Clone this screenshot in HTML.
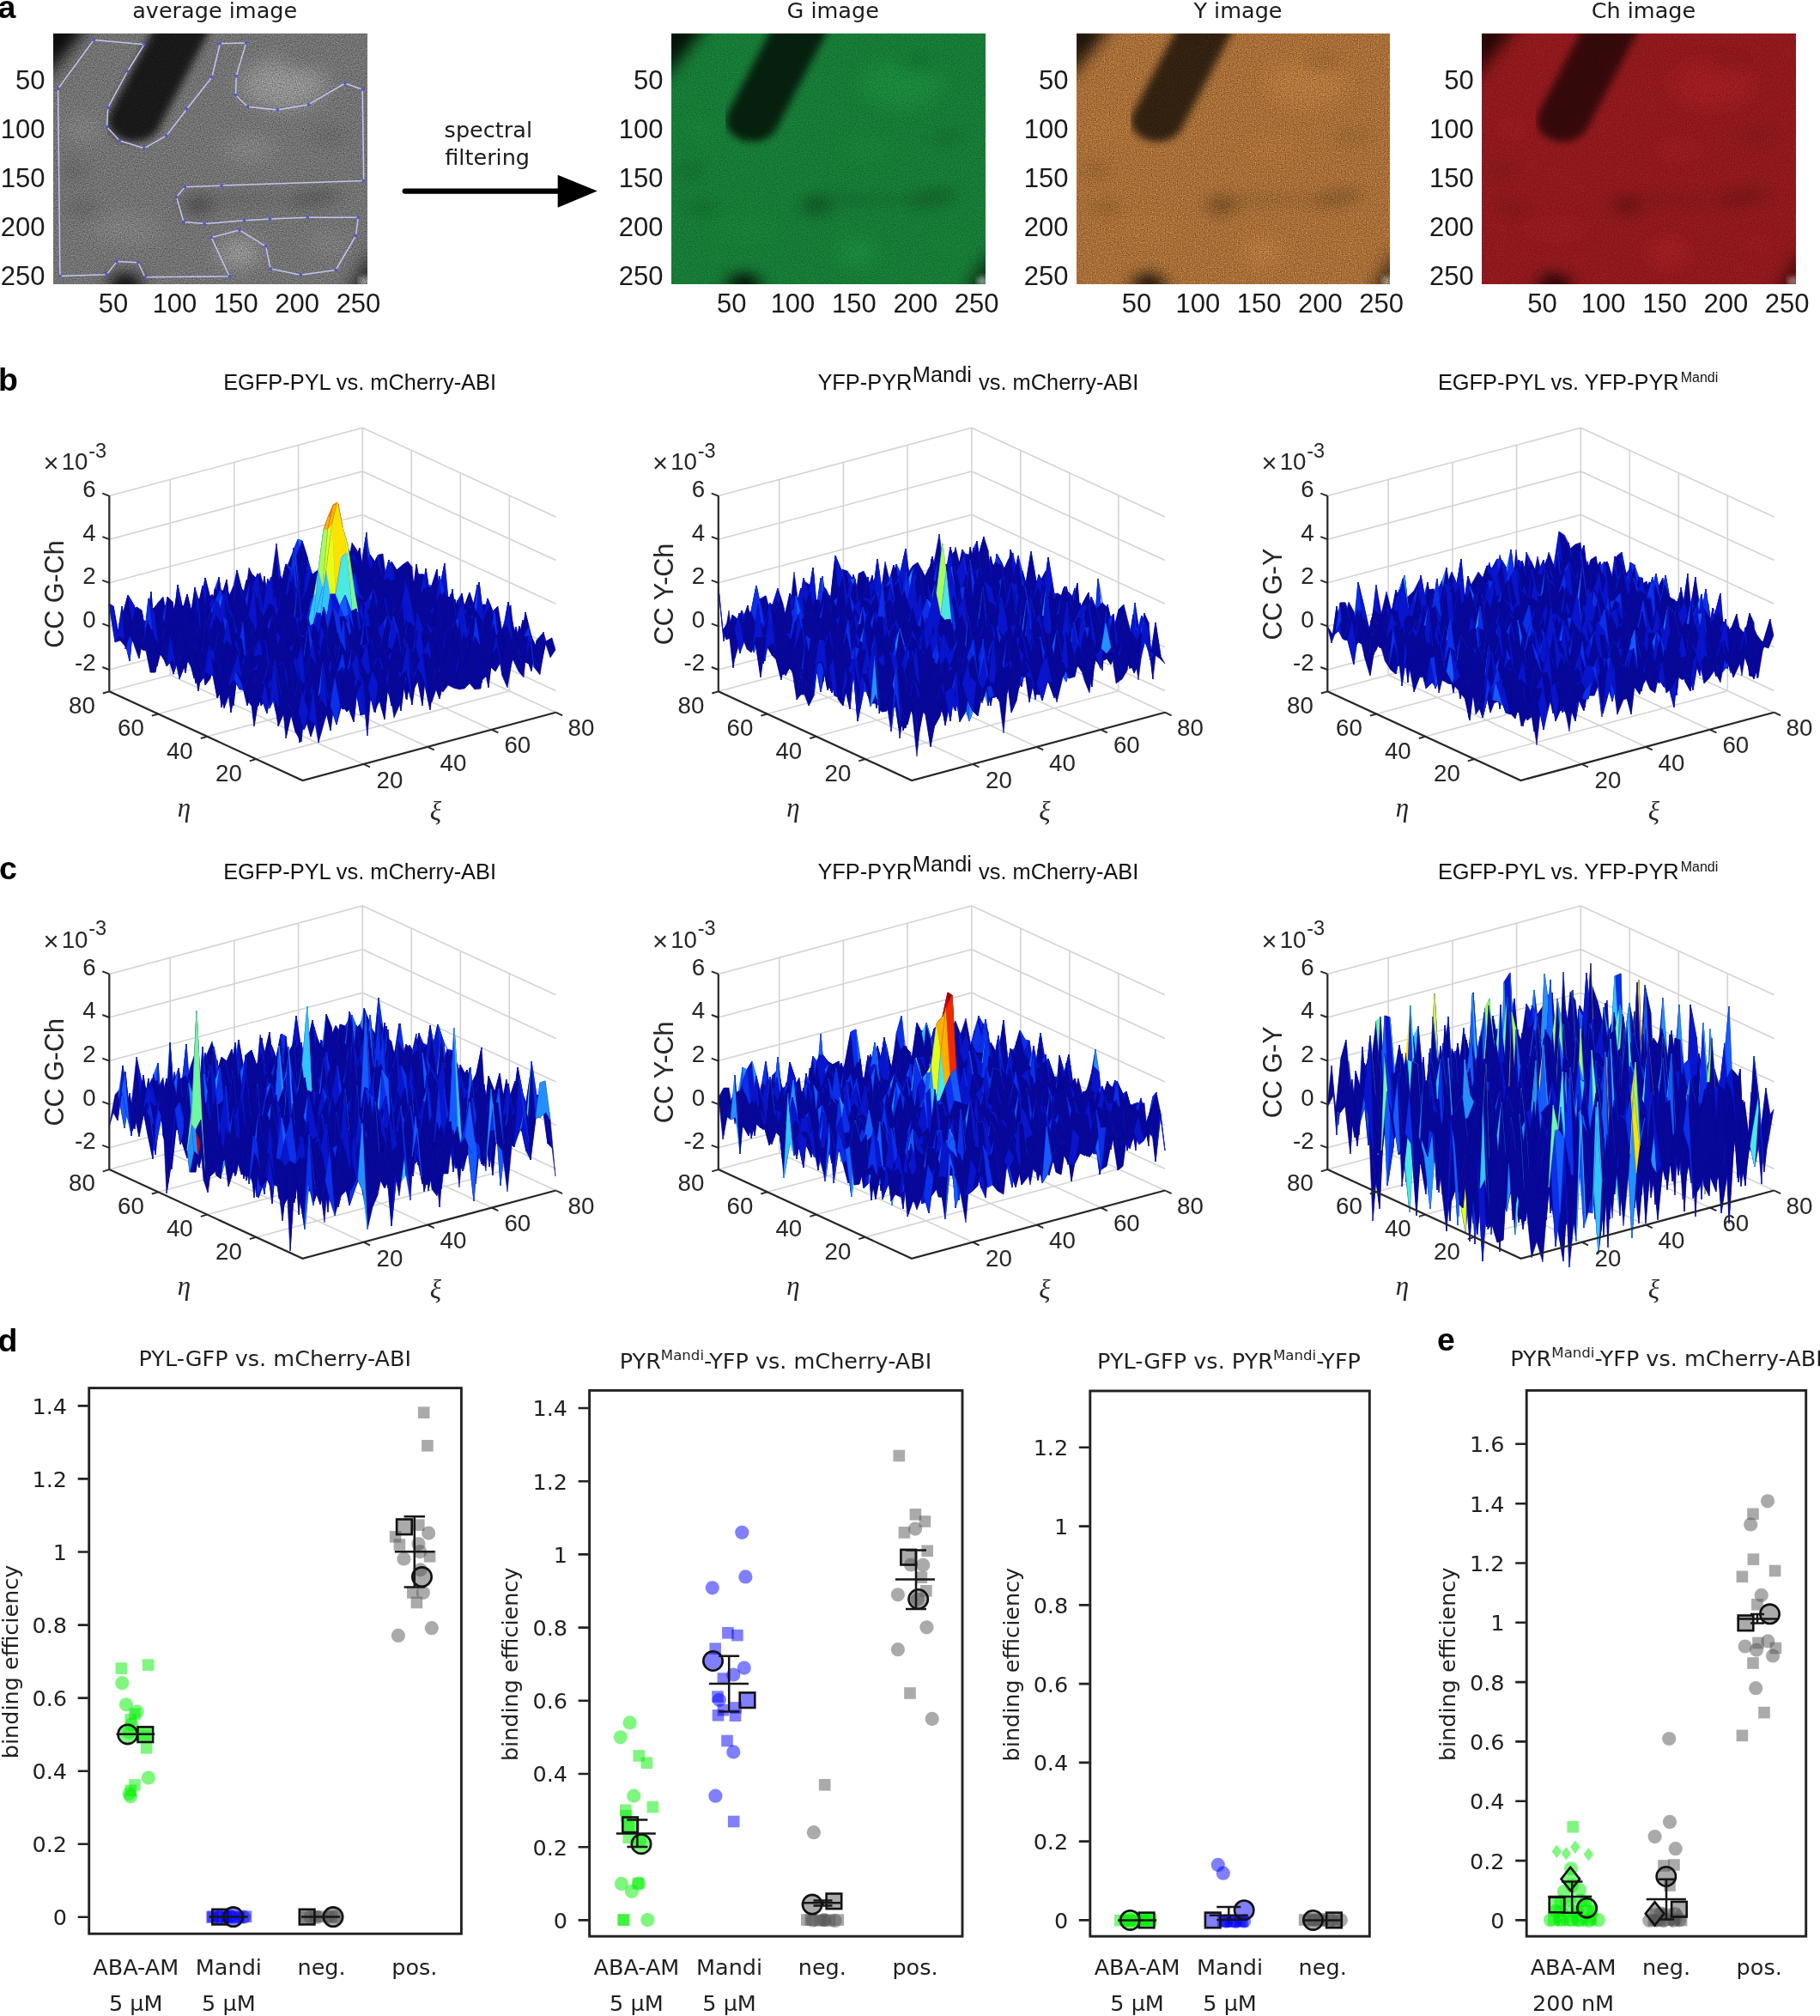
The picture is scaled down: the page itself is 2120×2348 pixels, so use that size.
<!DOCTYPE html>
<html lang="en"><head><meta charset="utf-8"><title>Figure</title>
<style>
html,body{margin:0;padding:0;background:#fff}
svg{display:block}
.ls{font-family:"Liberation Sans", "DejaVu Sans", sans-serif}
.dv{font-family:"DejaVu Sans", "Liberation Sans", sans-serif}
.se{font-family:"Liberation Serif", "DejaVu Serif", serif;font-style:italic}
</style></head><body>
<svg width="2120" height="2348" viewBox="0 0 2120 2348">
<rect width="2120" height="2348" fill="#fff"/>
<defs>
<filter id="b3" x="-50%" y="-50%" width="200%" height="200%"><feGaussianBlur stdDeviation="3"/></filter>
<filter id="b7" x="-50%" y="-50%" width="200%" height="200%"><feGaussianBlur stdDeviation="7"/></filter>
<filter id="b35" x="-50%" y="-50%" width="200%" height="200%"><feGaussianBlur stdDeviation="3.5"/></filter>
<filter id="b5" x="-50%" y="-50%" width="200%" height="200%"><feGaussianBlur stdDeviation="5"/></filter>
<filter id="b9" x="-50%" y="-50%" width="200%" height="200%"><feGaussianBlur stdDeviation="9"/></filter>
<filter id="b14" x="-50%" y="-50%" width="200%" height="200%"><feGaussianBlur stdDeviation="14"/></filter>
<g id="dk"><path d="M66 89L109 -14" stroke="#000" stroke-width="43" stroke-linecap="round" fill="none" opacity="0.78" filter="url(#b35)"/><g filter="url(#b7)"><path d="M-10 -10L30 -10L-10 52Z" fill="#000" opacity="0.92"/><ellipse cx="59" cy="256" rx="13" ry="11" fill="#000" opacity="0.95"/><path d="M240 264L264 214L264 264Z" fill="#000" opacity="0.7"/></g><rect x="251" y="249" width="6" height="8" fill="#fff" opacity="0.8" filter="url(#b3)"/><g filter="url(#b7)"><ellipse cx="118" cy="176" rx="11" ry="10" fill="#000" opacity="0.32"/><ellipse cx="212" cy="168" rx="22" ry="8" fill="#000" opacity="0.22" transform="rotate(-12 212 168)"/><ellipse cx="24" cy="178" rx="10" ry="8" fill="#000" opacity="0.16"/><ellipse cx="16" cy="140" rx="9" ry="10" fill="#000" opacity="0.12"/><ellipse cx="150" cy="170" rx="40" ry="7" fill="#000" opacity="0.10"/><ellipse cx="200" cy="30" rx="14" ry="8" fill="#000" opacity="0.12"/><ellipse cx="225" cy="105" rx="14" ry="8" fill="#000" opacity="0.10"/></g></g>
<filter id="gr1" x="0" y="0" width="100%" height="100%" color-interpolation-filters="sRGB"><feTurbulence type="fractalNoise" baseFrequency="0.75" numOctaves="1" seed="4" result="n"/><feColorMatrix in="n" type="matrix" values="0.283 0.283 0.283 0 0.075  0.283 0.283 0.283 0 0.075  0.283 0.283 0.283 0 0.075  0 0 0 0 1" result="g"/><feComposite in="SourceGraphic" in2="g" operator="arithmetic" k1="2" k2="0" k3="0" k4="0"/></filter>
<filter id="gr2" x="0" y="0" width="100%" height="100%" color-interpolation-filters="sRGB"><feTurbulence type="fractalNoise" baseFrequency="0.7" numOctaves="1" seed="7" result="n"/><feColorMatrix in="n" type="matrix" values="0.183 0.183 0.183 0 0.225  0.183 0.183 0.183 0 0.225  0.183 0.183 0.183 0 0.225  0 0 0 0 1" result="g"/><feComposite in="SourceGraphic" in2="g" operator="arithmetic" k1="2" k2="0" k3="0" k4="0"/></filter>
<filter id="gr3" x="0" y="0" width="100%" height="100%" color-interpolation-filters="sRGB"><feTurbulence type="fractalNoise" baseFrequency="0.8" numOctaves="1" seed="11" result="n"/><feColorMatrix in="n" type="matrix" values="0.317 0.317 0.317 0 0.025  0.317 0.317 0.317 0 0.025  0.317 0.317 0.317 0 0.025  0 0 0 0 1" result="g"/><feComposite in="SourceGraphic" in2="g" operator="arithmetic" k1="2" k2="0" k3="0" k4="0"/></filter>
<filter id="gr4" x="0" y="0" width="100%" height="100%" color-interpolation-filters="sRGB"><feTurbulence type="fractalNoise" baseFrequency="0.7" numOctaves="1" seed="15" result="n"/><feColorMatrix in="n" type="matrix" values="0.167 0.167 0.167 0 0.25  0.167 0.167 0.167 0 0.25  0.167 0.167 0.167 0 0.25  0 0 0 0 1" result="g"/><feComposite in="SourceGraphic" in2="g" operator="arithmetic" k1="2" k2="0" k3="0" k4="0"/></filter>
</defs>
<clipPath id="cp0"><rect x="62" y="39" width="365.3" height="291.8"/></clipPath>
<g clip-path="url(#cp0)"><g filter="url(#gr1)"><g transform="translate(62 39) scale(1.427 1.14)">
<rect x="-20" y="-20" width="296" height="296" fill="#727272"/>
<g opacity="1.0"><g filter="url(#b9)" fill="#ffffff"><ellipse cx="188" cy="52" rx="34" ry="26" opacity="0.22"/><ellipse cx="152" cy="224" rx="15" ry="16" opacity="0.26"/><ellipse cx="160" cy="118" rx="22" ry="14" opacity="0.10"/><ellipse cx="24" cy="98" rx="14" ry="14" opacity="0.10"/><ellipse cx="60" cy="200" rx="30" ry="16" opacity="0.08"/><ellipse cx="225" cy="215" rx="16" ry="12" opacity="0.08"/></g></g>
<use href="#dk" opacity="1.0"/>
</g></g></g>
<clipPath id="cp1"><rect x="782" y="39" width="365.4" height="291.8"/></clipPath>
<g clip-path="url(#cp1)"><g filter="url(#gr2)"><g transform="translate(782 39) scale(1.427 1.14)">
<rect x="-20" y="-20" width="296" height="296" fill="#177a36"/>
<g opacity="0.45"><g filter="url(#b9)" fill="#30ff70"><ellipse cx="188" cy="52" rx="34" ry="26" opacity="0.22"/><ellipse cx="152" cy="224" rx="15" ry="16" opacity="0.26"/><ellipse cx="160" cy="118" rx="22" ry="14" opacity="0.10"/><ellipse cx="24" cy="98" rx="14" ry="14" opacity="0.10"/><ellipse cx="60" cy="200" rx="30" ry="16" opacity="0.08"/><ellipse cx="225" cy="215" rx="16" ry="12" opacity="0.08"/></g></g>
<use href="#dk" opacity="0.95"/>
</g></g></g>
<clipPath id="cp2"><rect x="1254" y="39" width="365" height="291.8"/></clipPath>
<g clip-path="url(#cp2)"><g filter="url(#gr3)"><g transform="translate(1254 39) scale(1.426 1.14)">
<rect x="-20" y="-20" width="296" height="296" fill="#a66e38"/>
<g opacity="0.6"><g filter="url(#b9)" fill="#ffb45a"><ellipse cx="188" cy="52" rx="34" ry="26" opacity="0.22"/><ellipse cx="152" cy="224" rx="15" ry="16" opacity="0.26"/><ellipse cx="160" cy="118" rx="22" ry="14" opacity="0.10"/><ellipse cx="24" cy="98" rx="14" ry="14" opacity="0.10"/><ellipse cx="60" cy="200" rx="30" ry="16" opacity="0.08"/><ellipse cx="225" cy="215" rx="16" ry="12" opacity="0.08"/></g></g>
<use href="#dk" opacity="0.9"/>
</g></g></g>
<clipPath id="cp3"><rect x="1726.3" y="39" width="365.2" height="291.8"/></clipPath>
<g clip-path="url(#cp3)"><g filter="url(#gr4)"><g transform="translate(1726.3 39) scale(1.427 1.14)">
<rect x="-20" y="-20" width="296" height="296" fill="#8e191d"/>
<g opacity="0.6"><g filter="url(#b9)" fill="#ff3a3a"><ellipse cx="188" cy="52" rx="34" ry="26" opacity="0.22"/><ellipse cx="152" cy="224" rx="15" ry="16" opacity="0.26"/><ellipse cx="160" cy="118" rx="22" ry="14" opacity="0.10"/><ellipse cx="24" cy="98" rx="14" ry="14" opacity="0.10"/><ellipse cx="60" cy="200" rx="30" ry="16" opacity="0.08"/><ellipse cx="225" cy="215" rx="16" ry="12" opacity="0.08"/></g></g>
<use href="#dk" opacity="0.8"/>
</g></g></g>
<path d="M109.2 46.6L168 51.8L148.5 83L125.8 125.2L124.6 147.9L139.2 163.7L168 172.7L193.7 158.1L217.5 127.3L246.9 89.7L256.3 50.7L286.5 50.1L275.2 88.8L274.6 110.7L288.3 124.3L323.2 128.1L359.6 121.7L401.9 97L422.2 104.3L423.7 210.5L258 216.1L215.5 217.8L205.6 229.5L214 258.6L238.2 260.6L284.5 256.8L314.5 255.1L358.2 253.3L417.3 253.3L414.4 274.6L391.1 314.5L350.3 320.3L315.1 313L309.6 286.8L279 267.9L246.1 276.6L267.3 321.8L168.9 322.7L161 305.8L136 304.6L124.3 319.7L69.9 321.5L67.6 103.4Z" fill="none" stroke="#c4c4f4" stroke-width="1.5" stroke-linejoin="round"/>
<g fill="#5050e0"><circle cx="109.2" cy="46.6" r="1.8"/><circle cx="168" cy="51.8" r="1.8"/><circle cx="148.5" cy="83" r="1.8"/><circle cx="125.8" cy="125.2" r="1.8"/><circle cx="124.6" cy="147.9" r="1.8"/><circle cx="139.2" cy="163.7" r="1.8"/><circle cx="168" cy="172.7" r="1.8"/><circle cx="193.7" cy="158.1" r="1.8"/><circle cx="217.5" cy="127.3" r="1.8"/><circle cx="246.9" cy="89.7" r="1.8"/><circle cx="256.3" cy="50.7" r="1.8"/><circle cx="286.5" cy="50.1" r="1.8"/><circle cx="275.2" cy="88.8" r="1.8"/><circle cx="274.6" cy="110.7" r="1.8"/><circle cx="288.3" cy="124.3" r="1.8"/><circle cx="323.2" cy="128.1" r="1.8"/><circle cx="359.6" cy="121.7" r="1.8"/><circle cx="401.9" cy="97" r="1.8"/><circle cx="422.2" cy="104.3" r="1.8"/><circle cx="423.7" cy="210.5" r="1.8"/><circle cx="258" cy="216.1" r="1.8"/><circle cx="215.5" cy="217.8" r="1.8"/><circle cx="205.6" cy="229.5" r="1.8"/><circle cx="214" cy="258.6" r="1.8"/><circle cx="238.2" cy="260.6" r="1.8"/><circle cx="284.5" cy="256.8" r="1.8"/><circle cx="314.5" cy="255.1" r="1.8"/><circle cx="358.2" cy="253.3" r="1.8"/><circle cx="417.3" cy="253.3" r="1.8"/><circle cx="414.4" cy="274.6" r="1.8"/><circle cx="391.1" cy="314.5" r="1.8"/><circle cx="350.3" cy="320.3" r="1.8"/><circle cx="315.1" cy="313" r="1.8"/><circle cx="309.6" cy="286.8" r="1.8"/><circle cx="279" cy="267.9" r="1.8"/><circle cx="246.1" cy="276.6" r="1.8"/><circle cx="267.3" cy="321.8" r="1.8"/><circle cx="168.9" cy="322.7" r="1.8"/><circle cx="161" cy="305.8" r="1.8"/><circle cx="136" cy="304.6" r="1.8"/><circle cx="124.3" cy="319.7" r="1.8"/><circle cx="69.9" cy="321.5" r="1.8"/><circle cx="67.6" cy="103.4" r="1.8"/></g>
<text class="ls" x="132.1" y="363.7" font-size="31" text-anchor="middle" fill="#1a1a1a">50</text>
<text class="ls" x="52.5" y="104.1" font-size="31" text-anchor="end" fill="#1a1a1a">50</text>
<text class="ls" x="203.5" y="363.7" font-size="31" text-anchor="middle" fill="#1a1a1a">100</text>
<text class="ls" x="52.5" y="161.1" font-size="31" text-anchor="end" fill="#1a1a1a">100</text>
<text class="ls" x="274.8" y="363.7" font-size="31" text-anchor="middle" fill="#1a1a1a">150</text>
<text class="ls" x="52.5" y="218.1" font-size="31" text-anchor="end" fill="#1a1a1a">150</text>
<text class="ls" x="346.2" y="363.7" font-size="31" text-anchor="middle" fill="#1a1a1a">200</text>
<text class="ls" x="52.5" y="275.1" font-size="31" text-anchor="end" fill="#1a1a1a">200</text>
<text class="ls" x="417.5" y="363.7" font-size="31" text-anchor="middle" fill="#1a1a1a">250</text>
<text class="ls" x="52.5" y="332.1" font-size="31" text-anchor="end" fill="#1a1a1a">250</text>
<text class="ls" x="852.2" y="363.7" font-size="31" text-anchor="middle" fill="#1a1a1a">50</text>
<text class="ls" x="772.5" y="104.1" font-size="31" text-anchor="end" fill="#1a1a1a">50</text>
<text class="ls" x="923.5" y="363.7" font-size="31" text-anchor="middle" fill="#1a1a1a">100</text>
<text class="ls" x="772.5" y="161.1" font-size="31" text-anchor="end" fill="#1a1a1a">100</text>
<text class="ls" x="994.9" y="363.7" font-size="31" text-anchor="middle" fill="#1a1a1a">150</text>
<text class="ls" x="772.5" y="218.1" font-size="31" text-anchor="end" fill="#1a1a1a">150</text>
<text class="ls" x="1066.3" y="363.7" font-size="31" text-anchor="middle" fill="#1a1a1a">200</text>
<text class="ls" x="772.5" y="275.1" font-size="31" text-anchor="end" fill="#1a1a1a">200</text>
<text class="ls" x="1137.6" y="363.7" font-size="31" text-anchor="middle" fill="#1a1a1a">250</text>
<text class="ls" x="772.5" y="332.1" font-size="31" text-anchor="end" fill="#1a1a1a">250</text>
<text class="ls" x="1324.1" y="363.7" font-size="31" text-anchor="middle" fill="#1a1a1a">50</text>
<text class="ls" x="1244.5" y="104.1" font-size="31" text-anchor="end" fill="#1a1a1a">50</text>
<text class="ls" x="1395.4" y="363.7" font-size="31" text-anchor="middle" fill="#1a1a1a">100</text>
<text class="ls" x="1244.5" y="161.1" font-size="31" text-anchor="end" fill="#1a1a1a">100</text>
<text class="ls" x="1466.7" y="363.7" font-size="31" text-anchor="middle" fill="#1a1a1a">150</text>
<text class="ls" x="1244.5" y="218.1" font-size="31" text-anchor="end" fill="#1a1a1a">150</text>
<text class="ls" x="1537.9" y="363.7" font-size="31" text-anchor="middle" fill="#1a1a1a">200</text>
<text class="ls" x="1244.5" y="275.1" font-size="31" text-anchor="end" fill="#1a1a1a">200</text>
<text class="ls" x="1609.2" y="363.7" font-size="31" text-anchor="middle" fill="#1a1a1a">250</text>
<text class="ls" x="1244.5" y="332.1" font-size="31" text-anchor="end" fill="#1a1a1a">250</text>
<text class="ls" x="1796.4" y="363.7" font-size="31" text-anchor="middle" fill="#1a1a1a">50</text>
<text class="ls" x="1716.8" y="104.1" font-size="31" text-anchor="end" fill="#1a1a1a">50</text>
<text class="ls" x="1867.7" y="363.7" font-size="31" text-anchor="middle" fill="#1a1a1a">100</text>
<text class="ls" x="1716.8" y="161.1" font-size="31" text-anchor="end" fill="#1a1a1a">100</text>
<text class="ls" x="1939.1" y="363.7" font-size="31" text-anchor="middle" fill="#1a1a1a">150</text>
<text class="ls" x="1716.8" y="218.1" font-size="31" text-anchor="end" fill="#1a1a1a">150</text>
<text class="ls" x="2010.4" y="363.7" font-size="31" text-anchor="middle" fill="#1a1a1a">200</text>
<text class="ls" x="1716.8" y="275.1" font-size="31" text-anchor="end" fill="#1a1a1a">200</text>
<text class="ls" x="2081.7" y="363.7" font-size="31" text-anchor="middle" fill="#1a1a1a">250</text>
<text class="ls" x="1716.8" y="332.1" font-size="31" text-anchor="end" fill="#1a1a1a">250</text>
<text class="dv" x="250.2" y="20.6" font-size="25.5" text-anchor="middle" fill="#1a1a1a">average image</text>
<text class="dv" x="970.2" y="20.6" font-size="25.5" text-anchor="middle" fill="#1a1a1a">G image</text>
<text class="dv" x="1442" y="20.6" font-size="25.5" text-anchor="middle" fill="#1a1a1a">Y image</text>
<text class="dv" x="1914.4" y="20.6" font-size="25.5" text-anchor="middle" fill="#1a1a1a">Ch image</text>
<text class="dv" x="568.8" y="160" font-size="25.5" text-anchor="middle" fill="#1a1a1a">spectral</text>
<text class="dv" x="518.3" y="192.3" font-size="25.5" fill="#1a1a1a">filtering</text>
<path d="M471.8 222.6H652" stroke="#000" stroke-width="6.4" stroke-linecap="round" fill="none"/>
<path d="M649.7 203.7L695.8 222.6L649.7 241.8Z" fill="#000"/>
<text class="ls" x="-2.5" y="20.9" font-size="37.5" font-weight="bold" fill="#000">a</text>
<style>.k0{fill:#070798;stroke:#070798}.k1{fill:#0915cc;stroke:#0915cc}.k2{fill:#0c2feb;stroke:#0c2feb}.k3{fill:#165bff;stroke:#165bff}.k4{fill:#2490ff;stroke:#2490ff}.k5{fill:#33c4ff;stroke:#33c4ff}.k6{fill:#4be8e4;stroke:#4be8e4}.k7{fill:#70f7a3;stroke:#70f7a3}.k8{fill:#a3ff60;stroke:#a3ff60}.k9{fill:#e4ff1c;stroke:#e4ff1c}.k10{fill:#ffe200;stroke:#ffe200}.k11{fill:#ffaf00;stroke:#ffaf00}.k12{fill:#f97200;stroke:#f97200}.k13{fill:#ed2a00;stroke:#ed2a00}.k14{fill:#d00000;stroke:#d00000}.k15{fill:#9b0000;stroke:#9b0000}</style>
<path d="M127.3 780L422.3 700.7M422.3 700.7L647.5 804.4M127.3 729.4L422.3 650.1M422.3 650.1L647.5 753.8M127.3 678.8L422.3 599.5M422.3 599.5L647.5 703.2M127.3 628.2L422.3 548.9M422.3 548.9L647.5 652.6M127.3 577.6L422.3 498.3M422.3 498.3L647.5 602M198.2 786.2L198.2 558.5M593.3 804.7L593.3 577M423.4 889.9L198.2 786.2M298.3 884.1L593.3 804.7M272.9 766.1L272.9 538.4M536.3 778.5L536.3 550.8M498.1 869.8L272.9 766.1M241.3 857.8L536.3 778.5M347.6 746L347.6 518.3M479.3 752.2L479.3 524.5M572.8 849.8L347.6 746M184.3 831.5L479.3 752.2M422.3 726L422.3 498.3M127.3 805.3L422.3 726M422.3 726L647.5 829.7" stroke="#d3d3d3" stroke-width="1.6" fill="none"/>
<g stroke-width="0.6" stroke-linejoin="round"><path class="k0" d="M127 703l7 45 6-2 6 7 6-22 7-12 6 2 6 23 6-33 7-9 6-7 6 29 7 8 6-20 6 17 6-18 7-10 6 7 6-7 7-9 6 9 6 16 6-18 7-17 6 11 6 16 6-48 7 15 6-9 6 23 7-13 6-44 6 81 6-53 7-18 6-15 6 24 6 59 7-2 6-25 6-23 7-14 6 12 6-12 6 23 7-38 6 9 6 26 5-47-6 46-7 21-6-33-6 8-6 7-7-8-6 37-6-30-6 3-7 6-6-28-6-19-7 19-6 36-6 4-6-18-7 26-6 17-6-43-6 34-7 10-6-13-6-10-7-28-6 59-6-48-6 20-7 12-6-10-6-24-7 46-6-23-6 32-6-13-7-34-6 52-6-33-6 16-7 12-6 9-6 12-7-14-6-27-6 62-6-26-7-4-6-34z"/><path class="k1" d="M358 649l6 28-5 34-6-59zM327 671l6 18-5 25-6-81zM276 664l7 28-5 1-6-11zM264 675l6 48-5-24-6 18zM239 673l6 24-5 4-6 7zM207 681l7 34-5-3-6 20zM132 706l6 34-4 8-7-45z"/><path class="k2" d="M345 649l7-19-5-2-6 15z"/><path class="k3" d="M352 630l6 19-5 3-6-24z"/><path class="k0" d="M132 706l6 34 7 4 6 26 6-62 6 27 7 14 6-12 6-9 7-12 6-16 6 33 6-52 7 34 6 13 6-32 6 23 7-46 6 24 6 10 7-12 6-20 6 48 6-59 7 28 6 10 6 13 7-10 6-34 6 43 6-17 7-26 6 18 6-4 6-36 7-19 6 19 6 28 7-6 6-3 6 30 6-37 7 8 6-7 6-8 6 33 7-21 6-46 5 49-6 31-7-62-6 15-6-1-7 51-6-39-6-15-6 25-7-6-6 15-6 21-6-7-7-4-6-47-6 48-7-25-6 35-6-3-6-17-7 21-6-30-6-6-7 7-6 38-6-10-6 20-7-35-6-2-6-1-6 49-7-41-6 17-6 10-7-29-6 21-6-19-6 31-7 18-6-40-6 46-6-24-7-2-6-3-6-15-7-12-6 23-6 23z"/><path class="k1" d="M419 638l7 62-5-34-7 21zM294 669l6 6-5 40-6-13zM287 676l7-7-5 33-6-10zM237 694l7 41-5-62-7 46zM218 692l7 29-5 7-6-13zM206 694l6 19-5-32-6 52zM156 705l6 15-5-12-6 62zM143 716l6-23-4 51-7-4z"/><path class="k2" d="M344 646l6 47-5-44-6 36zM149 693l7 12-5 65-6-26z"/><path class="k0" d="M137 739l6-23 6-23 7 12 6 15 6 3 7 2 6 24 6-46 6 40 7-18 6-31 6 19 6-21 7 29 6-10 6-17 7 41 6-49 6 1 6 2 7 35 6-20 6 10 6-38 7-7 6 6 6 30 7-21 6 17 6 3 6-35 7 25 6-48 6 47 7 4 6 7 6-21 6-15 7 6 6-25 6 15 6 39 7-51 6 1 6-15 7 62 6-31 5-7-7-12-6 32-6-23-6-14-7 50-6-26-6 2-7-5-6 21-6-9-6-12-7 18-6-29-6 48-7-65-6 60-6 9-6-12-7-9-6 19-6-8-6-17-7 18-6-7-6-7-7 13-6 4-6 29-6-58-7 56-6-2-6-44-6 27-7 12-6-14-6-2-7 28-6-13-6 3-6 12-7-27-6 13-6 9-7 10-6-18-6 16-6-32z"/><path class="k1" d="M355 655l6 29-4 13-7-4zM236 682l6 44-5-32-6 17zM154 722l6 18-4-35-7-12zM142 706l6 32-5-22-6 23z"/><path class="k2" d="M255 672l6 58-5-43-6-1z"/><path class="k3" d="M342 638l7 65-5-57-6 48z"/><path class="k0" d="M142 706l6 32 6-16 6 18 7-10 6-9 6-13 7 27 6-12 6-3 6 13 7-28 6 2 6 14 7-12 6-27 6 44 6 2 7-56 6 58 6-29 6-4 7-13 6 7 6 7 7-18 6 17 6 8 6-19 7 9 6 12 6-9 6-60 7 65 6-48 6 29 7-18 6 12 6 9 6-21 7 5 6-2 6 26 7-50 6 14 6 23 6-32 7 12 4-16-6 45-6-30-6 16-7-19-6-10-6 26-7 1-6-5-6 17-6-8-7-7-6-1-6 13-6 3-7 18-6-42-6 1-7 18-6 2-6 23-6-10-7 11-6-27-6 25-6 18-7-5-6-17-6 6-7-11-6 18-6-6-6-17-7 55-6-25-6 14-7 1-6-2-6 10-6-9-7-16-6-3-6 47-6-12-7-41-6-4-6 21-7 28z"/><path class="k1" d="M410 648l6 10-4-13-7 50zM335 664l6-1-5 35-6 9zM259 697l7 11-5 22-6-58zM241 692l6 17-5 17-6-44zM165 711l7 41-5-22-7 10zM159 707l6 4-5 29-6-18z"/><path class="k2" d="M341 663l6 42-5-67-6 60z"/><path class="k0" d="M146 756l7-28 6-21 6 4 7 41 6 12 6-47 6 3 7 16 6 9 6-10 6 2 7-1 6-14 6 25 7-55 6 17 6 6 6-18 7 11 6-6 6 17 7 5 6-18 6-25 6 27 7-11 6 10 6-23 6-2 7-18 6-1 6 42 7-18 6-3 6-13 6 1 7 7 6 8 6-17 6 5 7-1 6-26 6 10 7 19 6-16 6 30 6-45 5-1-6 10-6 18-7 4-6 14-6-5-6-24-7-33-6 44-6-7-7-6-6 35-6-31-6 4-7 36-6-50-6 59-6-51-7-5-6 25-6-3-7 17-6 7-6-15-6 48-7-46-6 8-6-27-7 48-6 18-6-17-6-8-7 6-6 33-6-12-6-55-7 49-6 21-6-5-7-48-6-6-6 56-6 25-7-87-6 51-6-5-6-1-7 6z"/><path class="k1" d="M396 673l6-44-5 46-6-5zM340 662l6 51-5-50-6 1zM327 682l6-25-5 25-6 2zM201 701l7 48-5-4-6-9zM170 740l6-51-4 63-7-41z"/><path class="k2" d="M352 654l6 50-4-17-7 18zM333 657l7 5-5 2-7 18zM277 671l6 27-5 21-6-17zM227 684l6 55-5-17-6 14zM195 695l6 6-4 35-7-16z"/><path class="k3" d="M402 629l7 33-5 12-7 1zM176 689l7 87-5-12-6-12z"/><path class="k0" d="M151 740l7-6 6 1 6 5 6-51 7 87 6-25 6-56 6 6 7 48 6 5 6-21 7-49 6 55 6 12 6-33 7-6 6 8 6 17 6-18 7-48 6 27 6-8 7 46 6-48 6 15 6-7 7-17 6 3 6-25 7 5 6 51 6-59 6 50 7-36 6-4 6 31 6-35 7 6 6 7 6-44 7 33 6 24 6 5 6-14 7-4 6-18 6-10 5 37-6-15-7 19-6-11-6-49-6 40-7-8-6-16-6 57-6-41-7 12-6 44-6-15-7-22-6 21-6-3-6 1-7-7-6-25-6 34-7-8-6 6-6 6-6-1-7-33-6 17-6 34-6-24-7 32-6-31-6-10-7 34-6 15-6-32-6 44-7-50-6 46-6-31-6-6-7 33-6-11-6 7-7 28-6-9-6 18-6-42-7 37-6-17z"/><path class="k1" d="M420 666l6-40-5 65-6-5zM395 658l6 41-5-26-6-7zM294 685l6-17-4 68-7-46zM282 695l6 24-5-21-6-27zM263 686l6 10-5 41-6-17zM231 697l7 50-5-8-6-55zM213 706l6 6-5 42-6-5z"/><path class="k2" d="M407 642l6 16-4 4-7-33zM338 664l6 25-4-27-7-5zM300 668l7 33-5-13-6 48z"/><path class="k3" d="M426 626l6 49-5 2-6 14z"/><path class="k0" d="M156 750l6 17 7-37 6 42 6-18 6 9 7-28 6-7 6 11 7-33 6 6 6 31 6-46 7 50 6-44 6 32 6-15 7-34 6 10 6 31 7-32 6 24 6-34 6-17 7 33 6 1 6-6 6-6 7 8 6-34 6 25 7 7 6-1 6 3 6-21 7 22 6 15 6-44 7-12 6 41 6-57 6 16 7 8 6-40 6 49 6 11 7-19 6 15 5 13-6-8-7 1-6-33-6-9-7 38-6 10-6-13-6 4-7-7-6-40-6 32-7 42-6-10-6-26-6 32-7 25-6-23-6-25-6 4-7 47-6-24-6-25-7 27-6-5-6-6-6 18-7-22-6 4-6 33-6-15-7-27-6 26-6-23-7 60-6 12-6-59-6 41-7-16-6-5-6-17-7 18-6 17-6-4-6-27-7-20-6 59-6-6z"/><path class="k1" d="M387 670l6-32-5 32-6 44zM343 685l6 25-5-21-6-25zM337 689l6-4-5-21-6 34zM299 703l6 6-5-41-6 17zM261 694l7 27-5-35-7 34zM249 697l6 23-5 15-6-32zM230 710l6 59-5-72-6 46zM205 713l6 17-5 9-6-11zM180 717l6 27-5 10-6 18z"/><path class="k2" d="M431 646l6 9-5 20-6-49z"/><path class="k3" d="M393 638l6 40-4-20-7 12zM173 697l7 20-5 55-6-42z"/><path class="k0" d="M161 750l6 6 6-59 7 20 6 27 6 4 6-17 7-18 6 17 6 5 7 16 6-41 6 59 6-12 7-60 6 23 6-26 7 27 6 15 6-33 6-4 7 22 6-18 6 6 6 5 7-27 6 25 6 24 7-47 6-4 6 25 6 23 7-25 6-32 6 26 6 10 7-42 6-32 6 40 7 7 6-4 6 13 6-10 7-38 6 9 6 33 7-1 6 8 5-10-7-20-6 13-6-20-7 7-6-9-6 15-6-4-7 56-6-37-6-8-6-8-7 3-6 34-6 13-7-12-6 18-6-3-6-36-7-4-6 49-6-52-6 50-7-58-6 14-6 17-7 0-6-24-6 61-6-39-7 0-6 17-6 13-7 7-6-35-6 25-6 9-7-13-6 23-6 1-6-14-7 18-6-10-6 2-7 5-6-8-6-18-6 34z"/><path class="k1" d="M429 656l6 9-4-19-7 38zM398 678l6 8-5-8-6-40zM392 670l6 8-5-40-6 32zM329 680l6 52-5 4-6-24zM310 686l6-14-5 42-6-5zM247 703l6 35-4-41-7 60zM178 741l6 8-4-32-7-20z"/><path class="k2" d="M316 672l7 58-5-43-7 27zM291 679l6 24-4 18-7-22zM172 723l6 18-5-44-6 59z"/><path class="k0" d="M166 757l6-34 6 18 6 8 7-5 6-2 6 10 7-18 6 14 6-1 6-23 7 13 6-9 6-25 6 35 7-7 6-13 6-17 7 0 6 39 6-61 6 24 7 0 6-17 6-14 7 58 6-50 6 52 6-49 7 4 6 36 6 3 6-18 7 12 6-13 6-34 7-3 6 8 6 8 6 37 7-56 6 4 6-15 6 9 7-7 6 20 6-13 7 20 4-8-6 7-6 6-6 11-7-54-6 20-6 25-7 8-6-29-6 24-6 3-7-12-6 21-6-4-6-29-7 15-6-14-6-21-7 51-6-20-6 8-6-1-7 11-6 38-6-43-7 11-6-22-6 35-6 18-7-10-6-10-6 36-6-16-7-28-6 19-6-20-7 36-6 7-6-38-6 16-7 21-6-9-6-9-6 1-7 21-6 4-6-28-7 25z"/><path class="k1" d="M440 647l7 54-5-43-7 7zM434 667l6-20-5 18-6-9zM378 674l6 29-5 4-6 13zM365 675l6 14-5 19-6 18zM352 705l7-51-5 69-6-36zM315 698l6 43-5-69-6 14zM302 687l6 22-4-6-7 0zM246 711l6 20-5-28-6 25z"/><path class="k3" d="M359 654l6 21-5 51-6-3z"/><path class="k0" d="M170 758l7-25 6 28 6-4 7-21 6-1 6 9 6 9 7-21 6-16 6 38 6-7 7-36 6 20 6-19 7 28 6 16 6-36 6 10 7 10 6-18 6-35 6 22 7-11 6 43 6-38 7-11 6 1 6-8 6 20 7-51 6 21 6 14 7-15 6 29 6 4 6-21 7 12 6-3 6-24 6 29 7-8 6-25 6-20 7 54 6-11 6-6 6-7 5 12-6 2-6-26-7 17-6-12-6-21-6 13-7 46-6-5-6-21-7 8-6-5-6 7-6 6-7 16-6-11-6-22-7-14-6 22-6 16-6-19-7-9-6 38-6 30-6-41-7 6-6 2-6-18-7 21-6 4-6 22-6-1-7-8-6 22-6-68-6 13-7 32-6-19-6 40-7-11-6 11-6-19-6-3-7 12-6 15-6-12-7 38-6 0z"/><path class="k1" d="M445 670l6 12-4 19-7-54zM433 662l6-13-5 18-6 25zM370 681l6 22-5-14-6-14zM357 689l6-22-4-13-7 51zM345 686l6 19-5-20-6 8zM338 677l7 9-5 7-6-1zM301 694l6 18-5-25-6 35zM238 712l6 19-5 16-6 7z"/><path class="k2" d="M439 649l6 21-5-23-6 20zM363 667l7 14-5-6-6-21zM251 699l6-13-5 45-6-20z"/><path class="k3" d="M257 686l6 68-5-42-6 19z"/><path class="k0" d="M175 783l6 0 7-38 6 12 6-15 7-12 6 3 6 19 6-11 7 11 6-40 6 19 7-32 6-13 6 68 6-22 7 8 6 1 6-22 6-4 7-21 6 18 6-2 7-6 6 41 6-30 6-38 7 9 6 19 6-16 6-22 7 14 6 22 6 11 7-16 6-6 6-7 6 5 7-8 6 21 6 5 7-46 6-13 6 21 6 12 7-17 6 26 6-2 5-35-6 4-7 6-6-10-6 30-6 14-7-12-6-12-6-10-7 16-6 28-6-3-6 6-7-18-6-9-6 37-6-29-7 13-6 9-6-24-7 21-6 9-6 6-6 20-7-19-6-1-6-52-6 42-7 5-6-3-6 9-7 27-6-4-6-9-6-18-7-22-6 26-6 10-7 29-6-27-6 19-6-23-7 15-6 23-6-29-6 17-7-5-6 3z"/><path class="k1" d="M469 658l6-4-5 35-6 2zM456 654l6 10-4 1-7 17zM425 664l6 10-5 34-6-5zM306 716l6-42-5 38-6-18zM262 723l6 18-5 13-6-68zM249 727l6-26-4-2-7 32z"/><path class="k2" d="M255 701l7 22-5-37-6 13z"/><path class="k3" d="M312 674l6 52-5-16-6 2z"/><path class="k0" d="M180 759l6-3 7 5 6-17 6 29 6-23 7-15 6 23 6-19 6 27 7-29 6-10 6-26 7 22 6 18 6 9 6 4 7-27 6-9 6 3 7-5 6-42 6 52 6 1 7 19 6-20 6-6 6-9 7-21 6 24 6-9 7-13 6 29 6-37 6 9 7 18 6-6 6 3 6-28 7-16 6 10 6 12 7 12 6-14 6-30 6 10 7-6 6-4 5 6-7 17-6-15-6 18-6-15-7 27-6-6-6-8-6 16-7-12-6 7-6-3-7 7-6-1-6-15-6 18-7-4-6 28-6 1-6-29-7 28-6 27-6-77-7 44-6-11-6 55-6-54-7 23-6 42-6-33-7-19-6 6-6 25-6-18-7 12-6-49-6 35-6 38-7-19-6-11-6 6-7 7-6 36-6-27-6 0-7-4-6 15-6-9z"/><path class="k1" d="M455 665l6 15-5-26-6 30zM392 677l6 15-5 1-6-9zM335 713l7-44-5 57-6 20zM317 703l6 54-5-31-6-52zM310 726l7-23-5-29-6 42zM254 727l6-35-5 9-6 26z"/><path class="k3" d="M342 669l6 77-5-26-6 6zM260 692l6 49-4-18-7-22z"/><path class="k0" d="M185 759l6 9 6-15 7 4 6 0 6 27 6-36 7-7 6-6 6 11 7 19 6-38 6-35 6 49 7-12 6 18 6-25 6-6 7 19 6 33 6-42 7-23 6 54 6-55 6 11 7-44 6 77 6-27 7-28 6 29 6-1 6-28 7 4 6-18 6 15 6 1 7-7 6 3 6-7 7 12 6-16 6 8 6 6 7-27 6 15 6-18 6 15 7-17 5 55-7-30-6 2-6 10-7-21-6-24-6 23-6-7-7 18-6 1-6 14-6-6-7 15-6-27-6-9-7 40-6-14-6 10-6 0-7-8-6 14-6-2-7-1-6 18-6 21-6-11-7-46-6 43-6-15-6-12-7-26-6 31-6 17-7 1-6 9-6 19-6-32-7-13-6 41-6-6-6-20-7 35-6-29-6-6-7 34-6 19-6-20-6 1z"/><path class="k1" d="M447 675l6-23-5 40-6-6zM441 668l6 7-5 11-6-8zM397 674l6 9-5 9-6-15zM346 713l7 1-5 32-6-77zM321 695l7 46-5 16-6-54zM290 716l6-31-5 31-6 6zM259 730l6 32-5-70-6 35zM252 717l7 13-5-3-6 38z"/><path class="k2" d="M453 652l6 24-4-11-7 27z"/><path class="k3" d="M296 685l7 26-5 24-7-19z"/><path class="k0" d="M190 766l6-1 6 20 6-19 7-34 6 6 6 29 7-35 6 20 6 6 6-41 7 13 6 32 6-19 6-9 7-1 6-17 6-31 7 26 6 12 6 15 6-43 7 46 6 11 6-21 6-18 7 1 6 2 6-14 7 8 6 0 6-10 6 14 7-40 6 9 6 27 7-15 6 6 6-14 6-1 7-18 6 7 6-23 6 24 7 21 6-10 6-2 7 30 4-14-6-20-6-13-6 16-7-4-6 1-6-8-7 45-6-15-6-24-6 38-7 4-6-28-6 3-7-20-6 54-6-9-6-15-7 2-6 5-6 12-6-11-7-5-6 34-6-1-7-29-6 29-6-34-6-5-7 16-6 34-6-26-6 25-7-24-6 24-6-10-7 22-6 16-6 9-6-33-7-17-6 37-6-28-7 22-6-34-6-4-6 36-7 8z"/><path class="k1" d="M458 681l6-1-5-4-6-24zM452 673l6 8-5-29-6 23zM401 676l7 20-5-13-6-9zM320 708l6 34-5-47-6 43zM314 703l6 5-5 30-6-15zM295 727l6 26-5-68-6 31zM207 732l6 4-5 30-6 19z"/><path class="k0" d="M194 776l7-8 6-36 6 4 6 34 7-22 6 28 6-37 7 17 6 33 6-9 6-16 7-22 6 10 6-24 7 24 6-25 6 26 6-34 7-16 6 5 6 34 6-29 7 29 6 1 6-34 7 5 6 11 6-12 6-5 7-2 6 15 6 9 6-54 7 20 6-3 6 28 7-4 6-38 6 24 6 15 7-45 6 8 6-1 7 4 6-16 6 13 6 20 5-13-6-17-6 14-7-12-6 14-6-2-7 29-6-12-6-4-6-12-7-4-6-4-6 13-6-23-7 44-6 15-6-27-7-6-6 9-6 5-6 8-7-3-6 11-6 29-6-4-7-5-6-10-6-25-7 24-6-11-6 2-6 3-7 34-6-32-6 9-7-9-6-19-6 65-6-29-7-24-6 48-6-17-6 1-7 25-6-11-6-7-7 14-6-36z"/><path class="k1" d="M425 678l6 4-4 35-7 4zM325 709l6 25-5 8-6-34zM249 722l7 24-5 43-6-33zM199 739l6 36-4-7-7 8z"/><path class="k2" d="M413 668l6 23-5 2-6 3zM268 710l6 19-4 13-7 22z"/><path class="k0" d="M199 739l6 36 7-14 6 7 6 11 7-25 6-1 6 17 6-48 7 24 6 29 6-65 6 19 7 9 6-9 6 32 7-34 6-3 6-2 6 11 7-24 6 25 6 10 7 5 6 4 6-29 6-11 7 3 6-8 6-5 6-9 7 6 6 27 6-15 7-44 6 23 6-13 6 4 7 4 6 12 6 4 6 12 7-29 6 2 6-14 7 12 6-14 6 17 5-5-6-14-7 0-6 50-6-49-6 40-7-35-6 2-6 25-7 1-6-12-6 26-6-18-7-3-6-13-6 63-6-71-7 77-6-51-6 30-7-16-6-9-6 35-6-15-7 8-6-9-6 16-7-24-6 34-6-14-6 9-7 3-6-5-6 17-6-33-7 12-6-7-6 34-7-48-6 30-6-1-6 7-7 7-6-4-6-27-7 27-6 30-6-20z"/><path class="k1" d="M486 669l7 0-5 2-6 14zM474 670l6 49-5-46-6 14zM461 675l7 35-5-25-7 29zM455 677l6-2-5 39-6-12zM417 696l7 3-5-8-6-23zM273 733l6 7-5-11-6-19zM223 731l6 27-5 21-6-11z"/><path class="k2" d="M411 683l6 13-4-28-7 44zM399 675l6 71-5-19-6-27zM260 719l7 48-5 8-6-29z"/><path class="k0" d="M204 768l6 20 6-30 7-27 6 27 6 4 7-7 6-7 6 1 6-30 7 48 6-34 6 7 7-12 6 33 6-17 6 5 7-3 6-9 6 14 6-34 7 24 6-16 6 9 7-8 6 15 6-35 6 9 7 16 6-30 6 51 7-77 6 71 6-63 6 13 7 3 6 18 6-26 6 12 7-1 6-25 6-2 7 35 6-40 6 49 6-50 7 0 6 14 5 49-7-62-6 20-6-33-6 49-7-24-6 16-6 3-6 8-7-21-6 8-6 41-7-7-6 16-6 0-6-43-7 2-6 22-6-19-7-5-6 24-6-43-6 4-7 39-6 7-6-52-6 66-7-33-6 32-6-21-7 6-6 22-6 5-6-24-7 19-6 10-6-11-7-37-6 7-6 31-6 30-7-34-6-28-6 52-6 22-7-42-6 21-6 16z"/><path class="k1" d="M497 670l7 62-5-49-6-14zM403 705l7-2-5 43-6-71z"/><path class="k2" d="M485 657l6 33-5-21-6 50zM372 684l6 43-5-12-6-9zM366 688l6-4-5 22-6 35zM271 716l7 37-5-20-6 34zM265 723l6-7-4 51-7-48zM240 722l6 28-4 5-7 7z"/><path class="k3" d="M347 682l6 52-5 0-6-9z"/><path class="k0" d="M209 791l6-16 6-21 7 42 6-22 6-52 6 28 7 34 6-30 6-31 6-7 7 37 6 11 6-10 7-19 6 24 6-5 6-22 7-6 6 21 6-32 7 33 6-66 6 52 6-7 7-39 6-4 6 43 6-24 7 5 6 19 6-22 7-2 6 43 6 0 6-16 7 7 6-41 6-8 7 21 6-8 6-3 6-16 7 24 6-49 6 33 6-20 7 62 5-53-7 22-6-39-6 54-7-9-6-18-6 8-6 8-7 0-6 17-6-9-7 11-6-26-6 3-6 22-7-16-6 6-6 20-6-33-7 13-6 3-6 22-7 2-6-23-6 11-6 13-7 13-6-17-6 31-6-51-7 0-6 48-6-30-7 42-6-36-6-1-6 1-7 4-6 7-6-6-7 45-6-42-6 41-6 8-7-52-6 44-6-24-6 3z"/><path class="k1" d="M396 700l6 33-5-6-6-19zM364 717l6 23-4-52-7 39zM352 741l6-13-5 6-6-52zM327 717l6 51-5-21-6-21zM320 717l7 0-5 9-7 6zM276 745l7-4-5 12-7-37zM264 746l6 6-5-29-6 31z"/><path class="k2" d="M496 662l6 39-5-31-6 20z"/><path class="k0" d="M214 769l6-3 6 24 6-44 7 52 6-8 6-41 6 42 7-45 6 6 6-7 7-4 6-1 6 1 6 36 7-42 6 30 6-48 7 0 6 51 6-31 6 17 7-13 6-13 6-11 6 23 7-2 6-22 6-3 7-13 6 33 6-20 6-6 7 16 6-22 6-3 6 26 7-11 6 9 6-17 7 0 6-8 6-8 6 18 7 9 6-54 6 39 7-22 4 2-6-2-6 22-7-17-6 18-6 33-6-21-7-32-6 27-6-7-6-6-7 15-6 16-6 4-7-14-6-2-6-4-6-2-7 14-6-23-6 8-6-15-7 21-6-5-6-12-7 32-6 9-6-17-6-6-7 36-6 2-6 0-7-24-6 19-6-6-6-1-7-9-6 16-6-10-6 17-7 26-6-25-6 7-7 10-6-4-6 36-6-40-7 6z"/><path class="k1" d="M494 684l7 17-5-39-6 54zM469 682l7 32-5-17-6 8zM394 700l6 23-4-23-7 13zM388 708l6-8-5 13-6 3zM375 714l7-21-5 45-7 2zM369 709l6 5-5 26-6-23zM356 729l7-32-5 31-6 13zM338 715l6 6-5 16-6 31zM287 732l7 9-5-1-6 1z"/><path class="k2" d="M382 693l6 15-5 8-6 22zM363 697l6 12-5 8-6 11z"/><path class="k0" d="M218 771l7-6 6 40 6-36 6 4 7-10 6-7 6 25 7-26 6-17 6 10 6-16 7 9 6 1 6 6 6-19 7 24 6 0 6-2 7-36 6 6 6 17 6-9 7-32 6 12 6 5 7-21 6 15 6-8 6 23 7-14 6 2 6 4 6 2 7 14 6-4 6-16 7-15 6 6 6 7 6-27 7 32 6 21 6-33 6-18 7 17 6-22 6 2 5-25-6 32-6 38-7-12-6-7-6 6-7-36-6 20-6 16-6-15-7-4-6 31-6 3-6-28-7-3-6 6-6 15-7 8-6-10-6 5-6-19-7 4-6-5-6-12-7 36-6-16-6 31-6-21-7 22-6 7-6-33-6 37-7-35-6 27-6 22-7-6-6-17-6 29-6-11-7 5-6-5-6-10-7-17-6 53-6-23-6 0-7 3-6-9z"/><path class="k1" d="M512 688l6-32-5 25-6-2zM480 677l7 36-5 22-6-21zM430 697l7 3-5 31-7-14zM393 702l6 19-5-21-6 8zM386 706l7-4-5 6-6-15zM367 725l7-36-5 20-6-12zM349 719l6 21-5-2-6-17zM330 715l6 33-5 3-6 2z"/><path class="k2" d="M380 701l6 5-4-13-7 21zM361 709l6 16-4-28-7 32zM317 717l7 35-5 1-7-24zM254 734l7 17-5 5-6 7z"/><path class="k3" d="M374 689l6 12-5 13-6-5z"/><path class="k0" d="M223 758l6 9 7-3 6 0 6 23 6-53 7 17 6 10 6 5 7-5 6 11 6-29 6 17 7 6 6-22 6-27 7 35 6-37 6 33 6-7 7-22 6 21 6-31 6 16 7-36 6 12 6 5 7-4 6 19 6-5 6 10 7-8 6-15 6-6 7 3 6 28 6-3 6-31 7 4 6 15 6-16 6-20 7 36 6-6 6 7 7 12 6-38 6-32 5 52-6-12-7-7-6-1-6-7-6 28-7 10-6-14-6-23-7 46-6-19-6-20-6 40-7-8-6-35-6 29-7 37-6-14-6-39-6-30-7 33-6-12-6-7-6-4-7 5-6 9-6 27-7-4-6 26-6 10-6 0-7 30-6 5-6-24-7-13-6-1-6 12-6 23-7-37-6 9-6 15-6-21-7 53-6 10-6-32-7-8-6 15-6-28z"/><path class="k1" d="M517 696l6 12-5-52-6 32zM498 681l6 7-5 26-6-7zM473 682l6 23-5-8-6 16zM454 689l6 20-5-15-6 31zM429 715l6-29-5 11-6 6zM410 699l6 39-5-12-6-10zM353 716l7 4-5 20-6-21z"/><path class="k2" d="M435 686l6 35-4-21-7-3zM360 720l6-27-5 16-6 31z"/><path class="k3" d="M397 702l7-33-5 52-6-19zM391 690l6 12-4 0-7 4zM385 683l6 7-5 16-6-5zM366 693l6-9-5 41-6-16z"/><path class="k4" d="M404 669l6 30-5 17-6 5zM379 679l6 4-5 18-6-12zM372 684l7-5-5 10-7 36z"/><path class="k0" d="M228 760l6 28 6-15 7 8 6 32 6-10 7-53 6 21 6-15 6-9 7 37 6-23 6-12 6 1 7 13 6 24 6-5 7-30 6 0 6-10 6-26 7 4 6-27 6-9 7-5 6 4 6 7 6 12 7-33 6 30 6 39 6 14 7-37 6-29 6 35 7 8 6-40 6 20 6 19 7-46 6 23 6 14 7-10 6-28 6 7 6 1 7 7 6 12 5-11-7-2-6 31-6-63-6 19-7 18-6 25-6-35-7 1-6 27-6 16-6-27-7 30-6-32-6-4-6 29-7 11-6-39-6 36-7-7-6-22-6-29-6-72-7-8-6 17-6 47-7 76-6-19-6 39-6-11-7 21-6-29-6 2-6-3-7 16-6-14-6 12-7 16-6 2-6-47-6 35-7 13-6 13-6 10-6-28-7 18-6-4-6 13z"/><path class="k1" d="M484 690l6 35-5-6-6-14zM477 691l7-1-5 15-6-23zM440 701l6 4-5 16-6-35zM421 702l6 39-5 11-6-14zM408 731l7 7-5-39-6-30zM358 721l6 19-4-20-7-4zM277 760l6-35-5 31-6 15z"/><path class="k2" d="M509 663l6 63-5-37-6-1zM503 682l6-19-5 25-6-7zM402 709l6 22-4-62-7 33zM283 725l6 47-5-25-6 9z"/><path class="k4" d="M396 680l6 29-5-7-6-12z"/><path class="k5" d="M364 740l7-76-5 29-6 27z"/><path class="k8" d="M371 664l6-47-5 67-6 9z"/><path class="k10" d="M390 608l6 72-5 10-6-7zM377 617l6-17-4 79-7 5z"/><path class="k11" d="M383 600l7 8-5 75-6-4z"/><path class="k0" d="M233 795l6-13 6 4 7-18 6 28 6-10 6-13 7-13 6-35 6 47 6-2 7-16 6-12 6 14 7-16 6 3 6-2 6 29 7-21 6 11 6-39 6 19 7-76 6-47 6-17 7 8 6 72 6 29 6 22 7 7 6-36 6 39 7-11 6-29 6 4 6 32 7-30 6 27 6-16 6-27 7-1 6 35 6-25 7-18 6-19 6 63 6-31 7 2 4 22-6-24-6 2-6 13-7 7-6-8-6-2-6 12-7 21-6-30-6-15-7 12-6 28-6-5-6-15-7 10-6 16-6 10-6-35-7-11-6-19-6-19-7-80-6 1-6 28-6 67-7 30-6 22-6-1-7 11-6-28-6 51-6 11-7-26-6 8-6-11-6 35-7 14-6-37-6 23-7-42-6 3-6 51-6-35-7 24-6 2-6-36-7 38z"/><path class="k1" d="M470 695l6 15-5 8-6 16zM420 716l6 35-5-49-6 36zM413 705l7 11-5 22-7-7zM363 735l6-22-5 27-6-19zM275 746l6-3-4 17-7 13zM244 752l6 36-5-2-6-4z"/><path class="k2" d="M344 717l6 28-4 4-7 21zM281 743l7 42-5-60-6 35z"/><path class="k3" d="M407 686l6 19-5 26-6-22z"/><path class="k5" d="M401 667l6 19-5 23-6-29zM369 713l7-30-5-19-7 76z"/><path class="k8" d="M376 683l6-67-5 1-6 47z"/><path class="k11" d="M382 616l6-28-5 12-6 17z"/><path class="k12" d="M394 587l7 80-5 13-6-72zM388 588l6-1-4 21-7-8z"/><path class="k0" d="M237 790l7-38 6 36 6-2 7-24 6 35 6-51 6-3 7 42 6-23 6 37 7-14 6-35 6 11 6-8 7 26 6-11 6-51 6 28 7-11 6 1 6-22 7-30 6-67 6-28 6-1 7 80 6 19 6 19 7 11 6 35 6-10 6-16 7-10 6 15 6 5 6-28 7-12 6 15 6 30 7-21 6-12 6 2 6 8 7-7 6-13 6-2 6 24 5-16-6 10-6-21-7 28-6-49-6 46-6-24-7 6-6 35-6-16-6 24-7-35-6 12-6 5-7-28-6 32-6-4-6-16-7 7-6 25-6-57-7-48-6-21-6-29-6 25-7 54-6 50-6 15-6 6-7 6-6-2-6 21-7 8-6 8-6-39-6 24-7 8-6 6-6-4-7 10-6 9-6-24-6-14-7 31-6-4-6-18-6-4-7 2z"/><path class="k1" d="M500 693l6 24-5-8-6-2zM449 696l7 28-5 6-6-15zM431 708l6 16-5 17-6 10zM424 715l7-7-5 43-6-35zM368 729l6-15-5-1-6 22zM349 739l6 2-5 4-6-28zM324 737l6 39-5-23-6 8zM274 752l6 14-5-20-6 51zM249 757l6 4-5 27-6-36zM242 759l7-2-5-5-7 38z"/><path class="k2" d="M512 671l6 49-4-10-7 7z"/><path class="k3" d="M412 683l6 57-5-35-6-19z"/><path class="k5" d="M374 714l6-50-4 19-7 30z"/><path class="k8" d="M405 635l7 48-5 3-6-19z"/><path class="k9" d="M380 664l7-54-5 6-6 67z"/><path class="k11" d="M399 614l6 21-4 32-7-80zM387 610l6-25-5 3-6 28z"/><path class="k12" d="M393 585l6 29-5-27-6 1z"/><path class="k0" d="M242 759l7-2 6 4 6 18 6 4 7-31 6 14 6 24 6-9 7-10 6 4 6-6 7-8 6-24 6 39 6-8 7-8 6-21 6 2 7-6 6-6 6-15 6-50 7-54 6-25 6 29 6 21 7 48 6 57 6-25 7-7 6 16 6 4 6-32 7 28 6-5 6-12 7 35 6-24 6 16 6-35 7-6 6 24 6-46 6 49 7-28 6 21 6-10 5 24-6-4-6-25-7 2-6-11-6 18-7 46-6-27-6-14-6 4-7-10-6-25-6 29-7 2-6 20-6-30-6 25-7 4-6-5-6 22-6-35-7-1-6-68-6 5-7 43-6 0-6 39-6 10-7 22-6-34-6 14-7 30-6-10-6 9-6 28-7-62-6 32-6-19-6 37-7-33-6 42-6-34-7 2-6 57-6-42-6 17-7 7-6-37z"/><path class="k1" d="M511 707l6-18-5-18-6 46zM467 710l6-29-5 26-6 12zM448 702l6 30-5-36-6 32zM373 741l6-10-5-17-6 15zM360 729l6 34-4-28-7 6zM354 743l6-14-5 12-6-2zM322 738l7 62-5-63-6 24zM247 767l6 37-4-47-7 2z"/><path class="k2" d="M517 689l6 11-5 20-6-49zM417 713l6 35-5-8-6-57z"/><path class="k3" d="M473 681l6 25-4 36-7-35z"/><path class="k5" d="M379 731l6-39-5-28-6 50z"/><path class="k7" d="M410 712l7 1-5-30-7-48z"/><path class="k9" d="M404 644l6 68-5-77-6-21zM385 692l6 0-4-82-7 54z"/><path class="k10" d="M398 649l6-5-5-30-6-29zM391 692l7-43-5-64-6 25z"/><path class="k0" d="M247 767l6 37 7-7 6-17 6 42 6-57 7-2 6 34 6-42 7 33 6-37 6 19 6-32 7 62 6-28 6-9 6 10 7-30 6-14 6 34 7-22 6-10 6-39 6 0 7-43 6-5 6 68 7 1 6 35 6-22 6 5 7-4 6-25 6 30 6-20 7-2 6-29 6 25 7 10 6-4 6 14 6 27 7-46 6-18 6 11 7-2 6 25 6 4 5-3-6 11-7 4-6-12-6 14-7-16-6 1-6-7-6 8-7-2-6 8-6-8-6 1-7 20-6-3-6-3-7-4-6 18-6-34-6 35-7-10-6-36-6 3-7-19-6 12-6 42-6-19-7-21-6 36-6-16-6 31-7 45-6-58-6 27-7-26-6-4-6 16-6-4-7 27-6-35-6 18-6 16-7-2-6-2-6 21-7-2-6 29-6-52z"/><path class="k1" d="M478 725l6 8-5-27-6-25zM472 726l6-1-5-44-6 29zM390 747l6-42-5-13-6 0zM371 743l6-36-4 34-7 22zM365 727l6 16-5 20-6-34zM327 742l6 4-4 54-7-62zM302 746l6 35-4 7-7-33zM296 764l6-18-5 9-6 42z"/><path class="k2" d="M415 709l6 36-4-32-7-1zM384 728l6 19-5-55-6 39z"/><path class="k3" d="M377 707l7 21-5 3-6 10z"/><path class="k6" d="M409 712l6-3-5 3-6-68zM402 693l7 19-5-68-6 5zM396 705l6-12-4-44-7 43z"/><path class="k0" d="M252 772l6 52 6-29 7 2 6-21 6 2 7 2 6-16 6-18 6 35 7-27 6 4 6-16 6 4 7 26 6-27 6 58 7-45 6-31 6 16 6-36 7 21 6 19 6-42 6-12 7 19 6-3 6 36 7 10 6-35 6 34 6-18 7 4 6 3 6 3 7-20 6-1 6 8 6-8 7 2 6-8 6 7 6-1 7 16 6-14 6 12 7-4 6-11 5-23-7 19-6 6-6-27-6 21-7-19-6 55-6-42-7-1-6 16-6 11-6-12-7 35-6-40-6 8-7-15-6 28-6-15-6 11-7 1-6-37-6 42-6 3-7-22-6-9-6 1-7-12-6 26-6 37-6 27-7-24-6-17-6 5-6-4-7 16-6-2-6 0-7 9-6 31-6-46-6-2-7 19-6-1-6-9-7 25-6 33-6-71-6 51z"/><path class="k1" d="M420 746l6-42-5 41-6-36zM307 765l6 46-5-30-6-35zM301 763l6 2-5-19-6 18zM263 759l6 71-5-35-6 29z"/><path class="k2" d="M426 704l6 37-4 14-7-10zM407 727l7 22-5-37-7-19zM395 719l6-1-5-13-6 42zM382 733l6-26-4 21-7-21z"/><path class="k3" d="M401 718l6 9-5-34-6 12zM388 707l7 12-5 28-6-19z"/><path class="k0" d="M257 810l6-51 6 71 6-33 7-25 6 9 6 1 7-19 6 2 6 46 6-31 7-9 6 0 6 2 7-16 6 4 6-5 6 17 7 24 6-27 6-37 6-26 7 12 6-1 6 9 7 22 6-3 6-42 6 37 7-1 6-11 6 15 6-28 7 15 6-8 6 40 7-35 6 12 6-11 6-16 7 1 6 42 6-55 7 19 6-21 6 27 6-6 7-19 4-20-6 65-6-21-6-34-7 35-6-12-6-15-6-8-7 15-6 34-6-25-7 15-6 4-6 24-6-54-7 33-6 20-6-14-7-16-6 12-6-9-6-1-7 6-6-1-6-18-6 40-7-19-6 36-6-22-7-21-6 48-6-15-6-3-7-2-6 4-6-7-7 30-6 4-6-21-6 24-7-9-6-2-6 19-6-37-7 26-6-4-6 20-7 20z"/><path class="k1" d="M538 691l6 34-5 1-6-27zM519 699l6 15-5-13-6 55zM506 706l7-15-5 23-7-1zM431 730l6 9-5 2-6-37zM425 729l6 1-5-26-6 42zM287 763l6 37-5-19-6-9z"/><path class="k2" d="M513 691l6 8-5 57-6-42zM469 704l6 54-5-35-6 8zM406 716l6 18-5-7-6-9zM393 737l7 19-5-37-7-12zM374 730l7 21-5 19-6 27z"/><path class="k0" d="M261 825l7-20 6-20 6 4 7-26 6 37 6-19 6 2 7 9 6-24 6 21 6-4 7-30 6 7 6-4 7 2 6 3 6 15 6-48 7 21 6 22 6-36 7 19 6-40 6 18 6 1 7-6 6 1 6 9 6-12 7 16 6 14 6-20 7-33 6 54 6-24 6-4 7-15 6 25 6-34 7-15 6 8 6 15 6 12 7-35 6 34 6 21 6-65 5 23-6-5-6 63-7-46-6 4-6 15-6 8-7-16-6 8-6 9-7-24-6 16-6 17-6-18-7-13-6 43-6-41-6 12-7 4-6 5-6 24-7-22-6-10-6 0-6 21-7-27-6 27-6-4-7 41-6-58-6 19-6-20-7 29-6-1-6 38-6-52-7 33-6 5-6 14-7 3-6 5-6-27-6-8-7 14-6 11-6 3-6-12-7 7z"/><path class="k1" d="M555 699l6 5-5-23-6 65zM473 722l7 13-5 23-6-54zM379 737l6 58-4-44-7-21zM373 756l6-19-5-7-6 48zM367 736l6 20-5 22-6-15zM342 750l6 52-5-40-6-7z"/><path class="k2" d="M404 731l7 27-5-42-6 40z"/><path class="k0" d="M266 798l7-7 6 12 6-3 6-11 7-14 6 8 6 27 6-5 7-3 6-14 6-5 7-33 6 52 6-38 6 1 7-29 6 20 6-19 6 58 7-41 6 4 6-27 7 27 6-21 6 0 6 10 7 22 6-24 6-5 7-4 6-12 6 41 6-43 7 13 6 18 6-17 6-16 7 24 6-9 6-8 7 16 6-8 6-15 6-4 7 46 6-63 6 5 5 0-6 41-7-36-6-19-6 16-6 1-7 8-6 13-6 20-6-53-7 45-6-12-6 2-7 9-6 19-6-19-6 22-7-27-6 25-6-34-7 6-6 2-6 56-6-52-7 25-6-15-6-23-6 49-7 25-6-20-6-6-7-10-6 27-6-60-6 48-7-6-6 29-6 2-6 6-7-28-6 4-6-39-7 35-6 0-6 22-6 2-7-41-6 19z"/><path class="k1" d="M541 706l6-16-5 26-6 4zM447 725l6 34-5-19-6 5zM440 731l7-6-5 20-6 24zM353 777l6-48-5 35-6 38zM302 780l7-35-5 38-6-8zM271 782l6-19-4 28-7 7z"/><path class="k2" d="M547 690l6 19-4 53-7-46zM510 695l6 53-5-13-6 9zM403 724l6 23-5-16-6 27zM309 745l6 39-5 26-6-27zM277 763l7 41-5-1-6-12z"/><path class="k3" d="M359 729l6 60-5-24-6-1z"/><path class="k0" d="M271 782l6-19 7 41 6-2 6-22 6 0 7-35 6 39 6-4 7 28 6-6 6-2 6-29 7 6 6-48 6 60 6-27 7 10 6 6 6 20 7-25 6-49 6 23 6 15 7-25 6 52 6-56 6-2 7-6 6 34 6-25 7 27 6-22 6 19 6-19 7-9 6-2 6 12 7-45 6 53 6-20 6-13 7-8 6-1 6-16 6 19 7 36 6-41 5 30-6 1-7-57-6 72-6-27-7-15-6 28-6-50-6 34-7 19-6 19-6 14-7-29-6 15-6-7-6-3-7-4-6-3-6-10-6-15-7 31-6 10-6-18-7 6-6 6-6-6-6-8-7 51-6-26-6 36-6-32-7-19-6 29-6-27-7 36-6-13-6 16-6-28-7 19-6-6-6 45-7-39-6 20-6-27-6 29-7 21-6-26-6-13z"/><path class="k1" d="M521 720l6-34-5 42-6 20zM445 747l7-31-5 9-7 6zM376 747l7 19-5 6-7-10zM339 760l6 28-5 12-6 2zM313 779l7 39-5-34-6-39zM301 772l6 27-5-19-6 0zM276 783l6 13-5-33-6 19z"/><path class="k2" d="M452 716l6 15-5 28-6-34zM408 737l6 8-5 2-6-23zM364 749l6 27-5 13-6-60z"/><path class="k3" d="M558 678l7 57-5 10-7-36zM527 686l6 50-5-21-6 13z"/><path class="k0" d="M276 783l6 13 6 26 7-21 6-29 6 27 6-20 7 39 6-45 6 6 7-19 6 28 6-16 6 13 7-36 6 27 6-29 7 19 6 32 6-36 6 26 7-51 6 8 6 6 6-6 7-6 6 18 6-10 7-31 6 15 6 10 6 3 7 4 6 3 6 7 6-15 7 29 6-14 6-19 7-19 6-34 6 50 6-28 7 15 6 27 6-72 7 57 6-1 5-24-7 9-6 9-6-7-7-21-6 12-6 33-6 13-7-17-6-4-6 23-6-33-7 27-6-14-6 17-7 7-6-39-6 55-6 13-7-59-6 34-6-3-6-16-7 26-6-55-6 64-7-26-6 1-6-36-6 59-7-28-6 28-6 4-7-11-6-11-6 26-6-21-7 5-6 21-6-4-6-17-7 11-6 23-6-24-7 19-6 19-6-9-6-24z"/><path class="k1" d="M563 728l6-9-4 16-7-57zM557 721l6 7-5-50-6 72zM550 700l7 21-5 29-6-27zM544 712l6-12-4 23-7-15zM475 725l6 39-4-16-7-4zM456 734l7 59-5-62-6-15zM362 764l6 11-4-26-7 36z"/><path class="k2" d="M425 720l6 55-5-30-6 6z"/><path class="k3" d="M400 723l6 36-5 29-6-26z"/><path class="k0" d="M281 789l6 24 6 9 6-19 7-19 6 24 6-23 7-11 6 17 6 4 6-21 7-5 6 21 6-26 6 11 7 11 6-4 6-28 7 28 6-59 6 36 6-1 7 26 6-64 6 55 7-26 6 16 6 3 6-34 7 59 6-13 6-55 6 39 7-7 6-17 6 14 7-27 6 33 6-23 6 4 7 17 6-13 6-33 6-12 7 21 6 7 6-9 7-9 4-4-6 6-6-15-6 27-7-12-6 16-6 0-7-26-6 25-6-9-6 16-7-4-6 37-6 11-6-43-7-21-6 73-6-39-7 11-6-6-6-4-6-3-7 28-6-16-6-9-7 33-6-11-6-6-6 23-7-38-6 22-6 16-6 19-7-1-6-32-6 38-7-38-6-9-6 23-6 6-7-25-6 22-6 3-6 19-7 9-6-25-6 1-7 7z"/><path class="k1" d="M568 697l6 15-5 7-6 9zM555 712l7 12-5-3-7-21zM530 727l6-25-4 56-7-17zM524 718l6 9-5 14-6-4zM430 749l6 9-5 17-6-55zM348 765l6 9-4-5-7 5zM329 769l7 25-5-3-6-17z"/><path class="k2" d="M536 702l7 26-5 17-6 13zM486 714l7 21-5 22-7 7zM398 750l7 38-5-65-6 59z"/><path class="k0" d="M285 805l7-7 6-1 6 25 7-9 6-19 6-3 6-22 7 25 6-6 6-23 6 9 7 38 6-38 6 32 7 1 6-19 6-16 6-22 7 38 6-23 6 6 6 11 7-33 6 9 6 16 7-28 6 3 6 4 6 6 7-11 6 39 6-73 7 21 6 43 6-11 6-37 7 4 6-16 6 9 6-25 7 26 6 0 6-16 7 12 6-27 6 15 6-6 5 30-6-1-6-17-7-4-6 27-6-16-6-7-7 22-6-5-6 10-7 15-6-2-6-42-6 29-7-20-6 13-6-2-7 14-6 39-6-47-6 6-7-1-6 29-6-10-6-3-7 7-6-18-6 20-7 16-6-27-6-13-6 49-7-21-6-25-6 50-6-13-7-1-6 5-6-22-7 14-6 29-6 5-6-39-7 16-6-8-6 16-7 43-6-53z"/><path class="k1" d="M573 718l6 17-5-23-6-15zM566 714l7 4-5-21-6 27zM510 716l6 42-5-28-6 37zM497 725l7 20-5 33-6-43zM491 738l6-13-4 10-7-21zM485 736l6 2-5-24-6 73zM397 748l6 13-5-11-6 22zM378 751l6 25-4 31-7-1zM347 770l6 22-5-27-6 23z"/><path class="k0" d="M290 793l6 53 7-43 6-16 6 8 7-16 6 39 6-5 6-29 7-14 6 22 6-5 7 1 6 13 6-50 6 25 7 21 6-49 6 13 6 27 7-16 6-20 6 18 7-7 6 3 6 10 6-29 7 1 6-6 6 47 6-39 7-14 6 2 6-13 7 20 6-29 6 42 6 2 7-15 6-10 6 5 7-22 6 7 6 16 6-27 7 4 6 17 6 1 5 3-6-5-7-1-6-29-6 15-6 31-7-34-6 27-6 11-7-7-6 8-6-29-6 54-7-37-6-10-6 18-6 15-7 16-6-4-6-45-7 5-6-20-6 40-6 43-7-54-6-1-6 5-6 11-7 8-6-9-6 23-7-4-6-17-6 37-6 1-7-3-6-10-6 7-7-42-6 28-6 17-6-18-7 22-6-7-6-25-6 24-7 28-6 4z"/><path class="k1" d="M571 704l6 29-4-15-7-4zM565 719l6-15-5 10-6 27zM552 716l7 34-5-25-6-7zM521 726l6 29-5 5-6-2zM502 733l6 10-4 2-7-20zM471 733l6 45-5 11-6-47zM464 738l7-5-5 9-6 6zM452 758l6-40-5 29-6 29zM439 747l7 54-5-35-6-3zM433 746l6 1-4 16-7 7zM427 751l6-5-5 24-6-18zM345 781l6-28-4 17-7 14zM308 794l6-24-5 17-6 16z"/><path class="k2" d="M351 753l7 42-5-3-6-22zM314 770l6 25-5 0-6-8z"/><path class="k3" d="M458 718l6 20-4 10-7-1z"/><path class="k0" d="M295 826l6-4 7-28 6-24 6 25 6 7 7-22 6 18 6-17 6-28 7 42 6-7 6 10 7 3 6-1 6-37 6 17 7 4 6-23 6 9 7-8 6-11 6-5 6 1 7 54 6-43 6-40 6 20 7-5 6 45 6 4 7-16 6-15 6-18 6 10 7 37 6-54 6 29 6-8 7 7 6-11 6-27 7 34 6-31 6-15 6 29 7 1 6 5 5-34-7 22-6 24-6-22-6 19-7-2-6 22-6-36-6 14-7-46-6 25-6 7-7 26-6-6-6-21-6 7-7 4-6 27-6-31-6 19-7 18-6-38-6 20-7-4-6 6-6 11-6-23-7 30-6-18-6 56-7-36-6 28-6-33-6 0-7 25-6-28-6 3-6 21-7 6-6-9-6-26-7 43-6-32-6 41-6-7-7-12-6-2-6 12z"/><path class="k1" d="M507 731l6 21-5-9-6-10zM501 738l6-7-5 2-6 18zM482 738l6 31-5 13-6-4zM457 757l6-20-5-19-6 40zM432 747l6 23-5-24-6 5zM350 792l6 9-5-48-6 28zM331 777l6 32-4-29-7 22z"/><path class="k2" d="M532 725l6-25-5 47-6 8zM463 737l6 38-5-37-6-20zM344 766l6 26-5-11-6 17z"/><path class="k3" d="M538 700l7 46-5 8-7-7z"/><path class="k0" d="M300 809l6-12 6 2 7 12 6 7 6-41 6 32 7-43 6 26 6 9 7-6 6-21 6-3 6 28 7-25 6 0 6 33 6-28 7 36 6-56 6 18 7-30 6 23 6-11 6-6 7 4 6-20 6 38 7-18 6-19 6 31 6-27 7-4 6-7 6 21 6 6 7-26 6-7 6-25 7 46 6-14 6 36 6-22 7 2 6-19 6 22 6-24 7-22 5 49-7-26-6-1-6 18-7-8-6-2-6 6-6-5-7-2-6 9-6 3-6-24-7 38-6 3-6-22-7 23-6 21-6-42-6 26-7 0-6-12-6 44-7-25-6 5-6-2-6-26-7 19-6 10-6 0-6 20-7-34-6 12-6 31-7 21-6-41-6 9-6 7-7-26-6 18-6 8-6-8-7-27-6 38-6-39-7 8-6 10-6 42-6-17z"/><path class="k1" d="M543 743l6-9-4 12-7-46zM537 746l6-3-5-43-6 25zM531 722l6 24-5-21-6 7zM443 753l6 26-5-20-6 11zM342 772l7 27-5-33-7 43zM323 779l7-8-5 47-6-7zM317 789l6-10-4 32-7-12z"/><path class="k2" d="M330 771l6 39-5-33-6 41z"/><path class="k0" d="M305 814l6 17 6-42 6-10 7-8 6 39 6-38 7 27 6 8 6-8 6-18 7 26 6-7 6-9 6 41 7-21 6-31 6-12 7 34 6-20 6 0 6-10 7-19 6 26 6 2 6-5 7 25 6-44 6 12 7 0 6-26 6 42 6-21 7-23 6 22 6-3 7-38 6 24 6-3 6-9 7 2 6 5 6-6 6 2 7 8 6-18 6 1 7 26 4-5-6-19-6-29-6 36-7 25-6-9-6 0-7-9-6 11-6-34-6 53-7-53-6 66-6-8-7-17-6 4-6-22-6 18-7 45-6-73-6 58-6 22-7-52-6 10-6-14-7 12-6 36-6-27-6-9-7 27-6-11-6-31-6 57-7-37-6 1-6-6-7 28-6 11-6 9-6-4-7 5-6-24-6 29-7-7-6 18-6-4-6-24-7-13z"/><path class="k1" d="M548 721l6 34-5-21-6 9zM385 770l6 6-5 15-6 9zM309 794l7 13-5 24-6-17z"/><path class="k2" d="M592 701l6 29-5-2-6-1zM535 721l7 53-5-28-6-24zM485 734l6 73-4-38-7 0zM410 755l6 31-5-18-6 12z"/><path class="k0" d="M309 794l7 13 6 24 6 4 6-18 7 7 6-29 6 24 7-5 6 4 6-9 6-11 7-28 6 6 6-1 7 37 6-57 6 31 6 11 7-27 6 9 6 27 6-36 7-12 6 14 6-10 7 52 6-22 6-58 6 73 7-45 6-18 6 22 6-4 7 17 6 8 6-66 7 53 6-53 6 34 6-11 7 9 6 0 6 9 7-25 6-36 6 29 6 19 5-27-6 29-6-4-7-18-6 5-6 7-7 7-6 1-6 3-6 0-7 15-6-30-6 43-6-39-7 29-6-18-6 8-7 12-6-13-6 30-6-21-7 11-6 15-6-22-6 3-7-10-6 26-6-32-7 39-6-48-6 21-6 31-7-8-6-8-6 16-7 5-6-27-6 1-6 34-7-15-6-13-6 16-6 43-7-71-6 40-6-6-7-40-6 56z"/><path class="k1" d="M590 729l7 18-5-46-6 36zM540 737l6 30-4 7-7-53zM440 759l6 32-5 15-6-27zM421 771l6-21-5 47-6-11zM383 780l6 27-4-37-7 28z"/><path class="k2" d="M427 750l6 48-4-28-7 27zM339 775l7 71-5-22-7-7z"/><path class="k3" d="M320 769l7 40-5 22-6-24z"/><path class="k0" d="M314 825l6-56 7 40 6 6 6-40 7 71 6-43 6-16 6 13 7 15 6-34 6-1 6 27 7-5 6-16 6 8 7 8 6-31 6-21 6 48 7-39 6 32 6-26 7 10 6-3 6 22 6-15 7-11 6 21 6-30 6 13 7-12 6-8 6 18 7-29 6 39 6-43 6 30 7-15 6 0 6-3 6-1 7-7 6-7 6-5 7 18 6 4 6-29 5 10-6 33-7-35-6 24-6 20-6-10-7-54-6 49-6-13-7 0-6 35-6-5-6-10-7-13-6 12-6-14-6 25-7 1-6 13-6-17-7-45-6 42-6 3-6-14-7 10-6-11-6 38-7 3-6-20-6 10-6-6-7-16-6 11-6 15-6 9-7 15-6-14-6 30-7-28-6-10-6 11-6 13-7-5-6 5-6-6-6-11-7 23-6-11z"/><path class="k1" d="M482 770l6-42-4 40-7 11zM457 758l6 11-4 6-7-10zM426 783l6 6-5-39-6 21zM419 767l7 16-5-12-6 31zM413 778l6-11-4 35-7-8zM319 814l6 11-5-56-6 56z"/><path class="k2" d="M576 710l7 54-5-23-7 7z"/><path class="k3" d="M488 728l7 45-5 16-6-21z"/><path class="k0" d="M319 814l6 11 7-23 6 11 6 6 6-5 7 5 6-13 6-11 6 10 7 28 6-30 6 14 7-15 6-9 6-15 6-11 7 16 6 6 6-10 6 20 7-3 6-38 6 11 7-10 6 14 6-3 6-42 7 45 6 17 6-13 7-1 6-25 6 14 6-12 7 13 6 10 6 5 6-35 7 0 6 13 6-49 7 54 6 10 6-20 6-24 7 35 6-33 5 10-7-29-6 41-6-1-6-6-7 27-6-19-6-28-6 19-7-3-6 33-6 5-7 0-6-6-6-4-6-13-7 22-6-2-6-23-7-7-6 12-6 13-6-13-7 55-6-26-6 17-6-22-7 12-6-9-6-17-7 45-6-12-6 14-6-33-7 28-6-50-6 21-6-7-7 28-6 14-6-8-7-26-6 16-6 13-6-1-7 5-6 15-6 14z"/><path class="k1" d="M612 713l7 29-5-10-6 33zM499 748l7 7-5 35-6-17zM493 760l6-12-4 25-7-45zM487 773l6-13-5-32-6 42zM393 783l6-21-5 55-6-14zM387 776l6 7-5 20-6 30zM361 784l7 26-5-4-6 13z"/><path class="k2" d="M575 727l6 28-5-45-6 49zM399 762l6 50-4-10-7 15z"/><path class="k0" d="M324 846l6-14 6-15 7-5 6 1 6-13 6-16 7 26 6 8 6-14 7-28 6 7 6-21 6 50 7-28 6 33 6-14 6 12 7-45 6 17 6 9 7-12 6 22 6-17 6 26 7-55 6 13 6-13 6-12 7 7 6 23 6 2 7-22 6 13 6 4 6 6 7 0 6-5 6-33 7 3 6-19 6 28 6 19 7-27 6 6 6 1 6-41 7 29 5 12-7-18-6 16-6-23-7 32-6 11-6-32-6 25-7-13-6 12-6 31-7-76-6 60-6-15-6 24-7-23-6-19-6 29-6-4-7 2-6-12-6 61-7-38-6 5-6 1-6 9-7-9-6 21-6-13-6-33-7 13-6 8-6 18-7-41-6 11-6 18-6-15-7 26-6 48-6-26-7-4-6 1-6-13-6 6-7-8-6 23-6-12-6 2z"/><path class="k1" d="M523 746l6 19-4-7-7 22zM498 761l6 12-5-25-6 12zM442 765l6 33-5-11-6-17zM435 778l7-13-5 5-7 45zM404 792l6-18-5 38-6-50z"/><path class="k2" d="M554 719l7 76-5-19-6 5zM416 763l7 41-5 13-6-33zM410 774l6-11-4 21-7 28zM398 777l6 15-5-30-6 21z"/><path class="k0" d="M329 820l6-2 6 12 6-23 7 8 6-6 6 13 6-1 7 4 6 26 6-48 7-26 6 15 6-18 6-11 7 41 6-18 6-8 7-13 6 33 6 13 6-21 7 9 6-9 6-1 6-5 7 38 6-61 6 12 7-2 6 4 6-29 6 19 7 23 6-24 6 15 6-60 7 76 6-31 6-12 7 13 6-25 6 32 6-11 7-32 6 23 6-16 7 18 4-7-6 23-6 3-7-3-6-26-6 2-6 23-7-31-6 2-6 6-6-13-7 19-6-11-6 36-7-11-6 3-6 8-6 2-7 15-6-32-6-1-6 41-7-25-6-24-6 19-7-28-6 64-6-30-6 24-7-24-6 21-6 14-7 6-6-10-6-17-6 31-7-45-6 33-6 2-6-15-7-1-6 13-6-15-7 47-6-25-6 11-6 0-7 32z"/><path class="k1" d="M566 733l6 13-5 18-6 31zM559 752l7-19-5 62-7-76zM484 753l6 24-5 7-6 5zM478 772l6-19-5 36-6 1zM446 778l7 24-5-4-6-33zM415 792l6 17-5-46-6 11zM402 778l7 45-5-31-6-15zM365 795l6 15-5 12-6-13z"/><path class="k2" d="M553 741l6 11-5-33-6 60z"/><path class="k3" d="M471 744l7 28-5 18-6 9z"/><path class="k0" d="M333 860l7-32 6 0 6-11 6 25 7-47 6 15 6-13 7 1 6 15 6-2 6-33 7 45 6-31 6 17 6 10 7-6 6-14 6-21 7 24 6-24 6 30 6-64 7 28 6-19 6 24 7 25 6-41 6 1 6 32 7-15 6-2 6-8 6-3 7 11 6-36 6 11 7-19 6 13 6-6 6-2 7 31 6-23 6-2 6 26 7 3 6-3 6-23 5-11-6 22-6-12-7 23-6-11-6 1-7 14-6-28-6 26-6 11-7-7-6-8-6 5-6 12-7-28-6 46-6-5-7 2-6-23-6 13-6-19-7 57-6-29-6-17-7 18-6-23-6 25-6-19-7 19-6-15-6 18-6-38-7 47-6-27-6 47-7-39-6 14-6-2-6 17-7-22-6 14-6-43-6 81-7-40-6-18-6 69-7-12-6-24z"/><path class="k1" d="M476 776l6 23-4-27-7-28zM357 795l6 18-5 29-6-25z"/><path class="k2" d="M439 766l6 38-5-5-6 14z"/><path class="k3" d="M376 772l6 43-5-18-6 13z"/><path class="k0" d="M338 828l6 24 7 12 6-69 6 18 7 40 6-81 6 43 6-14 7 22 6-17 6 2 6-14 7 39 6-47 6 27 7-47 6 38 6-18 6 15 7-19 6 19 6-25 6 23 7-18 6 17 6 29 7-57 6 19 6-13 6 23 7-2 6 5 6-46 7 28 6-12 6-5 6 8 7 7 6-11 6-26 6 28 7-14 6-1 6 11 7-23 6 12 6-22 5 18-6-16-7 8-6 36-6-18-6 0-7-8-6 3-6 21-7-14-6-16-6 51-6-33-7 17-6-13-6 24-7-27-6 13-6-1-6 1-7 32-6-17-6-11-6-9-7 5-6 7-6-39-7 35-6 20-6 17-6-31-7 9-6 30-6-22-6 24-7-47-6 56-6-17-7 2-6-44-6 27-6 17-7-11-6 24-6 19-7-25-6 32-6-39z"/><path class="k1" d="M468 785l7-35-5 51-6-19zM418 785l7 47-5 1-7-39zM387 809l6-27-5 19-6 14zM374 815l7 11-5-54-6 81z"/><path class="k2" d="M393 782l6 44-4-3-7-22z"/><path class="k3" d="M475 750l6 39-5-13-6 25z"/><path class="k0" d="M343 826l6 39 6-32 7 25 6-19 6-24 7 11 6-17 6-27 6 44 7-2 6 17 6-56 7 47 6-24 6 22 6-30 7-9 6 31 6-17 6-20 7-35 6 39 6-7 7-5 6 9 6 11 6 17 7-32 6-1 6 1 6-13 7 27 6-24 6 13 7-17 6 33 6-51 6 16 7 14 6-21 6-3 7 8 6 0 6 18 6-36 7-8 6 16 5-11-7 4-6 29-6-4-6-32-7 1-6 39-6-21-7-23-6 29-6-14-6 9-7 27-6 5-6-37-6-12-7 36-6-18-6 41-7-30-6 2-6 12-6 5-7 19-6-49-6 16-6 44-7-40-6 47-6-57-7 5-6 62-6-22-6 13-7-29-6-6-6-3-7 31-6 7-6-9-6 24-7-23-6 14-6 9-6-1-7-6-6 13-6-21z"/><path class="k1" d="M611 741l7-1-5 24-6 0zM592 736l7 23-5 0-6 21zM555 755l6 37-5-7-6-13zM536 761l6 18-5-10-6 13zM486 777l6-16-5 21-6 7zM473 781l7 40-5-71-7 35zM461 771l6 57-5-23-6 17zM454 776l7-5-5 51-6-31zM423 794l6 6-4 32-7-47zM417 791l6 3-5-9-6 56z"/><path class="k2" d="M549 743l6 12-5 17-6 24zM492 761l6 49-4-33-7 5z"/><path class="k0" d="M348 829l6 21 6-13 7 6 6 1 6-9 6-14 7 23 6-24 6 9 6-7 7-31 6 3 6 6 7 29 6-13 6 22 6-62 7-5 6 57 6-47 7 40 6-44 6-16 6 49 7-19 6-5 6-12 6-2 7 30 6-41 6 18 7-36 6 12 6 37 6-5 7-27 6-9 6 14 6-29 7 23 6 21 6-39 7-1 6 32 6 4 6-29 7-4 4 14-6 9-6-18-6 38-7-9-6-47-6 59-6-7-7-15-6 34-6-14-7-45-6 36-6-14-6 38-7 1-6-7-6 6-6 1-7-2-6-3-6 8-7-6-6 18-6-16-6-17-7 14-6 14-6-28-7 37-6 14-6-37-6 22-7-25-6-13-6 74-6-63-7 14-6 25-6-21-7 9-6-31-6 31-6 19-7 25-6-62-6 26-7-23z"/><path class="k1" d="M578 742l7 45-5-36-6 9zM491 785l6 17-5-41-6 16zM434 783l6 13-4 33-7-29zM422 794l6 63-5-63-6-3zM365 803l6 62-4-22-7-6zM352 806l7 23-5 21-6-21z"/><path class="k2" d="M616 730l6 47-4-37-7 1zM390 790l6 31-4 23-7-23z"/></g>
<path d="M127.3 577.6L127.3 805.3L352.5 909L647.5 829.7" stroke="#262626" stroke-width="2.2" fill="none" stroke-linejoin="miter"/><path d="M127.3 780l-8 -3M127.3 729.4l-8 -3M127.3 678.8l-8 -3M127.3 628.2l-8 -3M127.3 577.6l-8 -3M298.3 884.1l-7.5 2.2M423.4 889.9l7.6 3.6M241.3 857.8l-7.5 2.2M498.1 869.8l7.6 3.6M184.3 831.5l-7.5 2.2M572.8 849.8l7.6 3.6M127.3 805.3l-7.5 2.2M647.5 829.7l7.6 3.6" stroke="#262626" stroke-width="1.9" fill="none"/>
<text class="ls" x="111.7" y="781.3" font-size="27.7" text-anchor="end" fill="#262626">-2</text>
<text class="ls" x="111.7" y="730.7" font-size="27.7" text-anchor="end" fill="#262626">0</text>
<text class="ls" x="111.7" y="680.1" font-size="27.7" text-anchor="end" fill="#262626">2</text>
<text class="ls" x="111.7" y="629.5" font-size="27.7" text-anchor="end" fill="#262626">4</text>
<text class="ls" x="111.7" y="578.9" font-size="27.7" text-anchor="end" fill="#262626">6</text>
<text class="ls" x="95.5" y="830.5" font-size="27.7" text-anchor="middle" fill="#262626">80</text>
<text class="ls" x="152.5" y="857.2" font-size="27.7" text-anchor="middle" fill="#262626">60</text>
<text class="ls" x="209.3" y="883.6" font-size="27.7" text-anchor="middle" fill="#262626">40</text>
<text class="ls" x="266.5" y="910" font-size="27.7" text-anchor="middle" fill="#262626">20</text>
<text class="ls" x="453.9" y="918" font-size="27.7" text-anchor="middle" fill="#262626">20</text>
<text class="ls" x="528" y="897.6" font-size="27.7" text-anchor="middle" fill="#262626">40</text>
<text class="ls" x="602.8" y="877.1" font-size="27.7" text-anchor="middle" fill="#262626">60</text>
<text class="ls" x="676.9" y="857.4" font-size="27.7" text-anchor="middle" fill="#262626">80</text>
<text class="ls" y="546.8" fill="#262626"><tspan x="50.5" dy="3.4" font-size="31">×</tspan><tspan x="71.7" dy="-3.4" font-size="27.7">10</tspan><tspan x="103.3" dy="-14.3" font-size="23.5">-3</tspan></text>
<text class="se" x="214.5" y="951" font-size="31" text-anchor="middle" fill="#262626">η</text>
<text class="se" x="507.5" y="955" font-size="31" text-anchor="middle" fill="#262626">ξ</text>
<text class="ls" transform="translate(74.3 692) rotate(-90)" font-size="30.5" text-anchor="middle" fill="#262626">CC G-Ch</text>
<text class="ls" x="419.1" y="454.1" font-size="25.4" text-anchor="middle" fill="#111">EGFP-PYL vs. mCherry-ABI</text>
<path d="M836.8 780L1131.8 700.7M1131.8 700.7L1357 804.4M836.8 729.4L1131.8 650.1M1131.8 650.1L1357 753.8M836.8 678.8L1131.8 599.5M1131.8 599.5L1357 703.2M836.8 628.2L1131.8 548.9M1131.8 548.9L1357 652.6M836.8 577.6L1131.8 498.3M1131.8 498.3L1357 602M907.7 786.2L907.7 558.5M1302.8 804.7L1302.8 577M1132.9 889.9L907.7 786.2M1007.8 884.1L1302.8 804.7M982.4 766.1L982.4 538.4M1245.8 778.5L1245.8 550.8M1207.6 869.8L982.4 766.1M950.8 857.8L1245.8 778.5M1057.1 746L1057.1 518.3M1188.8 752.2L1188.8 524.5M1282.3 849.8L1057.1 746M893.8 831.5L1188.8 752.2M1131.8 726L1131.8 498.3M836.8 805.3L1131.8 726M1131.8 726L1357 829.7" stroke="#d3d3d3" stroke-width="1.6" fill="none"/>
<g stroke-width="0.6" stroke-linejoin="round"><path class="k0" d="M837 685l6 62 6-36 7 56 6-21 6-33 6 0 7 29 6-22 6-16 7 0 6-19 6 18 6 27 7-64 6 45 6-34 6 4 7 63 6-66 6 8 7 15 6-22 6-16 6 2 7 50 6-47 6-3 7 15 6 24 6-6 6-44 7 29 6-14 6-2 6 3 7-11 6-4 6 11 7 14 6-25 6-33 6 64 7-22 6-27 6 25 6-17 7 2 5 21-7-31-6 48-6-18-7-24-6 14-6 1-6 24-7-34-6 33-6-7-6-18-7 21-6 18-6-4-7 11-6-15-6-11-6 19-7-13-6 2-6 1-7 26-6-39-6 64-6-72-7-17-6 55-6-2-6 7-7-11-6-2-6-21-7 47-6-7-6 38-6-31-7-23-6 21-6-24-7 4-6 17-6 31-6-16-7 4-6 44-6-53-6 9z"/><path class="k1" d="M1099 658l6-1-5 29-6-64zM1086 648l7 34-5-27-6 25zM992 672l6 39-4 4-7-50zM967 702l6-55-4 54-7-15zM904 697l7 23-5-35-6 19zM892 694l6 24-5-14-6 16zM885 698l7-4-5 26-6 22zM842 734l6-9-5 22-6-62z"/><path class="k2" d="M980 664l6 72-5-73-6 16zM936 673l6 21-5-17-6 34z"/><path class="k4" d="M973 647l7 17-5 15-6 22z"/><path class="k0" d="M842 734l6-9 6 53 6-44 7-4 6 16 6-31 6-17 7-4 6 24 6-21 7 23 6 31 6-38 6 7 7-47 6 21 6 2 7 11 6-7 6 2 6-55 7 17 6 72 6-64 6 39 7-26 6-1 6-2 7 13 6-19 6 11 6 15 7-11 6 4 6-18 7-21 6 18 6 7 6-33 7 34 6-24 6-1 6-14 7 24 6 18 6-48 7 31 4 36-6-14-6-15-6-27-7 22-6 4-6-5-7-8-6 22-6-32-6 51-7-30-6 25-6 18-7-28-6-2-6-27-6 21-7 2-6 35-6-46-6 26-7 6-6-6-6-1-7 5-6 9-6 24-6-40-7 29-6 10-6-71-7 44-6-12-6 6-6 30-7-10-6-19-6 10-6 8-7 20-6-11-6 14-7-36-6 18-6-2-6-5-7 29z"/><path class="k1" d="M1085 651l6 32-5-35-6 33zM1041 658l6 27-5 17-6-15zM1016 670l6 46-5-34-6 2zM978 709l6-9-4-36-7-17zM940 705l7-44-5 33-6-21zM934 693l6 12-4-32-7 47zM871 705l7 36-5 5-6-16z"/><path class="k3" d="M947 661l6 71-5-36-6-2z"/><path class="k0" d="M846 745l7-29 6 5 6 2 6-18 7 36 6-14 6 11 7-20 6-8 6-10 6 19 7 10 6-30 6-6 6 12 7-44 6 71 6-10 7-29 6 40 6-24 6-9 7-5 6 1 6 6 7-6 6-26 6 46 6-35 7-2 6-21 6 27 6 2 7 28 6-18 6-25 7 30 6-51 6 32 6-22 7 8 6 5 6-4 7-22 6 27 6 15 6 14 5-79-6 21-6-8-7 35-6-33-6 27-7-26-6 42-6-25-6 8-7-6-6 12-6 22-6 7-7-14-6-9-6 28-7-6-6 15-6-10-6 14-7-38-6 0-6-2-6 37-7-13-6 28-6-49-7 48-6-8-6-51-6 42-7-5-6 1-6 11-7 29-6-58-6 27-6 20-7 0-6-15-6-10-6 46-7-43-6 33-6-38-7 37-6-5z"/><path class="k1" d="M1140 646l6-21-5 79-6-14zM1134 638l6 8-5 44-6-15zM1121 640l6 33-4-25-7 22zM1108 641l7 26-5 7-6-5zM977 682l6 49-5-22-6 24zM952 713l6-42-5 61-6-71zM945 708l7 5-5-52-7 44zM920 691l6 58-4-20-7-10zM864 711l6 38-5-26-6-2z"/><path class="k2" d="M958 671l6 51-5 0-6 10z"/><path class="k0" d="M851 743l6 5 7-37 6 38 6-33 7 43 6-46 6 10 6 15 7 0 6-20 6-27 6 58 7-29 6-11 6-1 7 5 6-42 6 51 6 8 7-48 6 49 6-28 7 13 6-37 6 2 6 0 7 38 6-14 6 10 6-15 7 6 6-28 6 9 7 14 6-7 6-22 6-12 7 6 6-8 6 25 6-42 7 26 6-27 6 33 7-35 6 8 6-21 5 16-6 43-7-54-6 43-6-26-6 51-7-31-6-30-6 35-7 33-6-32-6 31-6 3-7-26-6-13-6 15-6 19-7-45-6 26-6 8-7-9-6-8-6 41-6-19-7-5-6-22-6 36-7-6-6 16-6 17-6 25-7-84-6 45-6-29-6 15-7 8-6-14-6 41-7-19-6-2-6 3-6 28-7-39-6-28-6 30-7 6-6 43-6-29z"/><path class="k1" d="M1126 647l6 26-5 0-6-33zM1038 683l6-26-5 43-6 15zM1019 674l6 8-4 37-7-38zM944 689l6 29-5-10-6 1zM938 704l6-15-5 20-6 11zM925 698l6 14-5 37-6-58zM887 710l7 39-5-36-6 46zM868 718l7-6-5 37-6-38z"/><path class="k2" d="M1138 630l7 54-5-38-6-8zM1107 637l6 30-5-26-6 42zM1044 657l7 45-5 4-7-6zM994 669l6 22-4 25-7-13zM875 712l6-30-5 34-6 33z"/><path class="k3" d="M956 673l7 84-5-86-6 42z"/><path class="k4" d="M881 682l6 28-4 49-7-43z"/><path class="k0" d="M856 732l6 29 6-43 7-6 6-30 6 28 7 39 6-28 6-3 6 2 7 19 6-41 6 14 7-8 6-15 6 29 6-45 7 84 6-25 6-17 6-16 7 6 6-36 6 22 7 5 6 19 6-41 6 8 7 9 6-8 6-26 7 45 6-19 6-15 6 13 7 26 6-3 6-31 6 32 7-33 6-35 6 30 7 31 6-51 6 26 6-43 7 54 6-43 5 39-7-16-6 27-6-13-6 2-7 17-6-32-6 23-6-17-7 13-6-34-6 59-7-18-6 16-6-17-6 3-7-54-6 27-6 75-7-30-6-18-6-3-6 29-7-47-6 38-6 19-6-18-7-4-6 22-6 4-7-9-6 10-6-35-6 0-7 37-6-21-6 10-7 2-6 9-6 11-6-4-7-5-6 2-6-16-6 0-7 27-6-4-6-33z"/><path class="k1" d="M1106 671l6 17-5-51-6 35zM949 699l6 0-5 19-6-29zM861 714l6 33-5 14-6-29z"/><path class="k2" d="M1093 650l6 34-5 21-6-32zM1049 666l6-27-4 63-7-45zM1011 672l7 47-5-4-6-19zM955 699l6 35-5-61-6 45zM886 724l6 16-5-30-6-28zM880 724l6 0-5-42-6 30z"/><path class="k4" d="M1055 639l7 54-5-10-6 19z"/><path class="k0" d="M861 714l6 33 6 4 7-27 6 0 6 16 6-2 7 5 6 4 6-11 6-9 7-2 6-10 6 21 7-37 6 0 6 35 6-10 7 9 6-4 6-22 7 4 6 18 6-19 6-38 7 47 6-29 6 3 6 18 7 30 6-75 6-27 7 54 6-3 6 17 6-16 7 18 6-59 6 34 7-13 6 17 6-23 6 32 7-17 6-2 6 13 6-27 7 16 5-2-7-30-6 38-6-15-7 8-6 25-6-48-6 28-7-19-6 2-6 16-7 22-6-16-6-12-6 16-7-2-6 16-6-11-6-27-7 14-6 21-6-3-7-50-6 48-6 10-6 13-7-36-6-11-6 28-7 2-6 13-6-7-6-26-7 32-6 39-6-40-6 2-7 26-6-32-6 48-7-11-6-34-6-13-6 27-7 16-6 15-6-26-6 11z"/><path class="k1" d="M1054 696l6 11-5-68-6 27zM1048 669l6 27-5-30-6 75zM1041 683l7-14-5 72-7-30zM1016 699l6-48-4 68-7-47zM997 686l7 36-5 7-6-18zM985 703l6-28-5 32-6 22zM891 729l6-27-5 38-6-16z"/><path class="k2" d="M991 675l6 11-4 25-7-4zM960 685l6 26-5 23-6-35zM897 702l6 13-5 23-6 2z"/><path class="k4" d="M1022 651l7 50-5-11-6 29z"/><path class="k0" d="M866 745l6-11 6 26 6-15 7-16 6-27 6 13 6 34 7 11 6-48 6 32 7-26 6-2 6 40 6-39 7-32 6 26 6 7 6-13 7-2 6-28 6 11 7 36 6-13 6-10 6-48 7 50 6 3 6-21 7-14 6 27 6 11 6-16 7 2 6-16 6 12 6 16 7-22 6-16 6-2 7 19 6-28 6 48 6-25 7-8 6 15 6-38 7 30 4 20-6-39-6-4-7 19-6-11-6-11-6 11-7 9-6 40-6 12-6-66-7 26-6 12-6 7-7-2-6-14-6-10-6 18-7 7-6-24-6 41-7 6-6-10-6-12-6-1-7-10-6 42-6-60-6 24-7-4-6 17-6-11-7 68-6-25-6-44-6 24-7 37-6-75-6 23-6 30-7 23-6-16-6 1-7-30-6 48-6-61-6 49-7 4z"/><path class="k1" d="M1134 652l6 11-5 16-6 25zM1103 658l6 66-5-57-6 16zM1046 678l6 24-4-33-7 14zM1027 715l6 10-4-24-7-50zM1021 703l6 12-5-64-6 48zM990 698l6-24-5 1-6 28zM983 694l7 4-5 5-7 2zM952 699l6 44-5-26-6 39zM895 716l7 30-5-44-6 27z"/><path class="k2" d="M927 708l6-23-5 59-6-32z"/><path class="k3" d="M996 674l6 60-5-48-6-11zM933 685l6 75-4-42-7 26zM883 703l6 61-5-19-6 15z"/><path class="k0" d="M870 756l7-4 6-49 6 61 6-48 7 30 6-1 6 16 7-23 6-30 6-23 6 75 7-37 6-24 6 44 6 25 7-68 6 11 6-17 7 4 6-24 6 60 6-42 7 10 6 1 6 12 6 10 7-6 6-41 6 24 7-7 6-18 6 10 6 14 7 2 6-7 6-12 7-26 6 66 6-12 6-40 7-9 6-11 6 11 6 11 7-19 6 4 6 39 5-24-6-2-6 9-7-27-6 23-6 25-7-20-6 6-6 22-6-3-7-22-6 10-6-22-6 5-7-4-6 24-6-39-7 33-6 1-6 2-6 19-7-43-6 12-6 32-7-29-6 19-6-1-6 33-7-8-6-20-6-40-6 27-7 39-6-39-6 28-7 17-6 7-6-12-6-2-7 12-6 11-6-16-7 1-6 1-6 0-6 0-7-1-6 18z"/><path class="k1" d="M1151 654l7 27-5-26-7 19zM1063 692l7-33-5 18-6 18zM1032 683l6-12-5 54-6-10zM1019 686l7 29-5-12-6-1zM938 736l6 12-5 12-6-75zM932 734l6 2-5-51-6 23zM888 743l6 0-5 21-6-61zM881 742l7 1-5-40-6 49z"/><path class="k2" d="M1070 659l6 39-5-11-6-10zM1038 671l7 43-5 5-7 6zM976 696l6-27-5 42-6-11zM963 696l6 39-5 33-6-25z"/><path class="k4" d="M982 669l6 40-5-15-6 17z"/><path class="k0" d="M875 760l6-18 7 1 6 0 6 0 6-1 7-1 6 16 6-11 7-12 6 2 6 12 6-7 7-17 6-28 6 39 7-39 6-27 6 40 6 20 7 8 6-33 6 1 6-19 7 29 6-32 6-12 7 43 6-19 6-2 6-1 7-33 6 39 6-24 7 4 6-5 6 22 6-10 7 22 6 3 6-22 6-6 7 20 6-25 6-23 7 27 6-9 6 2 5-23-6 13-7 1-6 22-6-24-6 47-7-6-6-7-6-33-7 3-6 1-6 20-6-11-7 34-6-11-6 14-7 5-6-17-6-32-6-4-7 58-6-13-6-31-6 35-7-20-6 56-6-53-7-2-6 21-6-17-6 25-7 47-6-59-6 18-7-7-6-5-6 9-6 15-7-6-6-39-6 51-6-17-7-4-6 34-6-33-7 13-6 47-6-40z"/><path class="k1" d="M1125 664l6 33-5-9-6 22zM1118 667l7-3-5 46-6-3zM1112 668l6-1-4 40-7-22zM1024 695l7 20-5 0-7-29zM1005 696l7 2-5 6-6 33zM993 700l6 17-5 12-6-20zM987 725l6-25-5 9-6-40z"/><path class="k2" d="M1062 670l6 32-5-10-6 1zM1056 666l6 4-5 23-6 2zM1037 680l6 31-5-40-6 12z"/><path class="k3" d="M930 698l6 39-4-3-7 12z"/><path class="k0" d="M880 749l6 40 6-47 7-13 6 33 6-34 7 4 6 17 6-51 6 39 7 6 6-15 6-9 6 5 7 7 6-18 6 59 7-47 6-25 6 17 6-21 7 2 6 53 6-56 7 20 6-35 6 31 6 13 7-58 6 4 6 32 6 17 7-5 6-14 6 11 7-34 6 11 6-20 6-1 7-3 6 33 6 7 7 6 6-47 6 24 6-22 7-1 6-13 5-7-7 27-6-15-6-11-6 53-7-10-6 3-6-26-7 28-6-6-6-23-6 48-7-22-6 36-6 18-6-30-7 2-6-8-6 11-7-6-6-26-6 15-6 24-7-27-6 14-6-24-7 9-6 3-6 20-6-17-7-7-6 51-6-7-6-14-7-16-6-9-6 35-7-19-6 3-6-1-6 19-7-2-6 2-6 2-6 4-7-30-6 55-6-4z"/><path class="k1" d="M1167 656l6 15-4-7-7 1zM1136 665l6 26-5 13-6-7zM1117 664l6 23-5-20-6 1zM1035 699l7 27-5-46-6 35zM1023 689l6 24-5-18-6 56zM1016 698l7-9-5 62-6-53zM1010 701l6-3-4 0-7-2zM991 697l7 7-5-4-6 25zM966 711l7 16-5 4-7-7zM929 739l6-19-5-22-6 51z"/><path class="k2" d="M1161 645l6 11-5 9-6 22zM1054 687l6 26-4-47-7 58zM960 702l6 9-5 13-6-5zM935 720l6 1-5 16-6-39zM897 715l7 30-5-16-7 13z"/><path class="k0" d="M885 766l6 4 6-55 7 30 6-4 6-2 6-2 7 2 6-19 6 1 6-3 7 19 6-35 6 9 7 16 6 14 6 7 6-51 7 7 6 17 6-20 6-3 7-9 6 24 6-14 7 27 6-24 6-15 6 26 7 6 6-11 6 8 7-2 6 30 6-18 6-36 7 22 6-48 6 23 6 6 7-28 6 26 6-3 7 10 6-53 6 11 6 15 7-27 4 22-6 8-6 23-6-39-7-3-6 37-6 4-6-34-7 38-6-25-6-26-7 17-6 54-6 16-6-53-7 12-6 11-6 7-7-10-6 26-6-56-6 54-7 3-6-15-6 23-6-12-7-36-6 16-6-7-7 19-6 14-6-39-6 22-7 35-6 20-6-34-6-4-7 2-6 54-6-26-7-9-6-59-6 50-6 35-7-11-6-20-6-32-7 57z"/><path class="k1" d="M1166 658l6 39-5-41-6-11zM1141 662l6 34-5-5-6-26zM1015 706l6-16-5 8-6 3zM1009 699l6 7-5-5-6 20zM984 715l6-22-5 55-6-7zM921 744l6-50-5 43-6 2z"/><path class="k2" d="M1159 655l7 3-5-13-6 53zM1115 666l7-17-5 15-6 48zM1059 673l6 56-5-16-6-26zM1021 690l7 36-5-37-7 9zM990 693l6 39-5-35-6 51zM896 716l6 32-5-33-6 55z"/><path class="k3" d="M1122 649l6 26-5 12-6-23z"/><path class="k4" d="M927 694l6 59-4-14-7-2z"/><path class="k0" d="M889 773l7-57 6 32 6 20 7 11 6-35 6-50 6 59 7 9 6 26 6-54 7-2 6 4 6 34 6-20 7-35 6-22 6 39 6-14 7-19 6 7 6-16 7 36 6 12 6-23 6 15 7-3 6-54 6 56 6-26 7 10 6-7 6-11 7-12 6 53 6-16 6-54 7-17 6 26 6 25 7-38 6 34 6-4 6-37 7 3 6 39 6-23 6-8 5 25-6-33-6-18-7 69-6-21-6 9-6-18-7-1-6 7-6 25-7-42-6 21-6 10-6-39-7 53-6-58-6 32-6 24-7 8-6 30-6-88-7 43-6 23-6 0-6-8-7-17-6-2-6 14-6 41-7-29-6-27-6 8-7 33-6-31-6 12-6 14-7 16-6-1-6 8-7 24-6-30-6-39-6 11-7 36-6 14-6-2-6-23-7 5z"/><path class="k1" d="M1183 658l6 33-5-25-6 8zM1120 689l6-21-4-19-7 17zM1026 700l6 2-4 24-7-36zM982 709l6 31-4-25-7 35zM901 749l6 23-5-24-6-32zM894 754l7-5-5-33-7 57z"/><path class="k2" d="M1126 668l7 42-5-35-6-26zM1089 687l6-32-5 40-6 11zM1057 704l7-43-5 12-6 54zM1001 699l6 27-5-8-6 14zM995 707l6-8-5 33-6-39zM926 724l6-11-5-19-6 50z"/><path class="k3" d="M1177 640l6 18-5 16-6 23zM1108 660l6 39-5 21-6 16zM932 713l6 39-5 1-6-59z"/><path class="k4" d="M1095 655l6 58-4-30-7 12zM1064 661l6 88-5-20-6-56z"/><path class="k0" d="M894 754l7-5 6 23 6 2 6-14 7-36 6-11 6 39 6 30 7-24 6-8 6 1 7-16 6-14 6-12 6 31 7-33 6-8 6 27 7 29 6-41 6-14 6 2 7 17 6 8 6 0 6-23 7-43 6 88 6-30 7-8 6-24 6-32 6 58 7-53 6 39 6-10 6-21 7 42 6-25 6-7 7 1 6 18 6-9 6 21 7-69 6 18 6 33 5 3-6-9-6-5-7 13-6-9-6 8-7 33-6-35-6 13-6-6-7 11-6-10-6-5-7-9-6-25-6 19-6 43-7 15-6-54-6 25-6 23-7-15-6-18-6 4-7 9-6-12-6 6-6 40-7 2-6-40-6 59-7-51-6 34-6 4-6-1-7-29-6 48-6-5-6-44-7 50-6-30-6 11-7-36-6 50-6 15-6 5-7-26-6 3z"/><path class="k1" d="M1182 680l6 5-5-27-6-18zM1081 682l6 54-4-25-7 8zM1062 715l7 15-5-69-7 43zM1056 697l6 18-5-11-6 23zM1037 698l6 12-4 9-7-17zM1031 704l6-6-5 4-6-2zM1012 706l6 40-4 9-7-29zM999 714l7 51-5-66-6 8zM956 721l6 44-5-15-6 8z"/><path class="k2" d="M1112 684l7 9-5 6-6-39zM1100 678l6-19-5 54-6-58zM930 716l7 36-5-39-6 11z"/><path class="k3" d="M1106 659l6 25-4-24-7 53z"/><path class="k0" d="M899 763l6-3 7 26 6-5 6-15 6-50 7 36 6-11 6 30 7-50 6 44 6 5 6-48 7 29 6 1 6-4 6-34 7 51 6-59 6 40 7-2 6-40 6-6 6 12 7-9 6-4 6 18 7 15 6-23 6-25 6 54 7-15 6-43 6-19 6 25 7 9 6 5 6 10 7-11 6 6 6-13 6 35 7-33 6-8 6 9 7-13 6 5 6 9 5-9-6 8-7-46-6 31-6 33-7-28-6 3-6-6-6 9-7 38-6 1-6-76-6 51-7 13-6-22-6 17-7-16-6 31-6-26-6 21-7 10-6-15-6 7-7-5-6-23-6 6-6 33-7-17-6 13-6 26-6-37-7-4-6 30-6 15-7-28-6-15-6 24-6-1-7-5-6 12-6 13-6 4-7-15-6 2-6 11-7-10-6 40-6-24z"/><path class="k1" d="M1180 678l6-31-4 33-7 13zM1124 703l6-51-5 46-6-5zM1111 694l6 22-5-32-6-25zM1105 711l6-17-5-35-6 19zM1098 695l7 16-5-33-6 43zM1086 700l6 26-5 10-6-54zM1048 695l6 23-4-17-7 9zM1042 701l6-6-5 15-6-12zM979 717l6 15-4 19-7-29zM935 749l7 15-5-12-7-36zM929 751l6-2-5-33-6 50z"/><path class="k3" d="M1186 647l7 46-5-8-6-5z"/><path class="k4" d="M1130 652l6 76-5-20-6-10z"/><path class="k0" d="M904 768l6 24 6-40 7 10 6-11 6-2 7 15 6-4 6-13 6-12 7 5 6 1 6-24 6 15 7 28 6-15 6-30 7 4 6 37 6-26 6-13 7 17 6-33 6-6 6 23 7 5 6-7 6 15 7-10 6-21 6 26 6-31 7 16 6-17 6 22 7-13 6-51 6 76 6-1 7-38 6-9 6 6 6-3 7 28 6-33 6-31 7 46 6-8 5-22-7 24-6-22-6 53-6-21-7-23-6 16-6-3-7-19-6 18-6-8-6 1-7 74-6-26-6 8-7-34-6 39-6-21-6 12-7-32-6 13-6 15-6-1-7 11-6 6-6-22-7 12-6 10-6-62-6 41-7 21-6 27-6-51-6-4-7 18-6 47-6-38-7 0-6 31-6-25-6 26-7-12-6 38-6-69-7 22-6 21-6 13-6-29z"/><path class="k1" d="M1147 686l6-18-4 21-7 38zM1141 678l6 8-5 41-6 1zM1003 719l6 51-5-55-6 30zM997 715l6 4-5 26-6 15zM934 731l6 69-5-51-6 2z"/><path class="k2" d="M1191 665l6 22-4 6-7-46zM1153 668l7 19-5-7-6 9zM1135 679l6-1-5 50-6-76zM1022 722l6-41-5 49-6 26z"/><path class="k4" d="M1028 681l6 62-5-26-6 13z"/><path class="k0" d="M909 758l6 29 6-13 6-21 7-22 6 69 6-38 7 12 6-26 6 25 6-31 7 0 6 38 6-47 7-18 6 4 6 51 6-27 7-21 6-41 6 62 6-10 7-12 6 22 6-6 7-11 6 1 6-15 6-13 7 32 6-12 6 21 6-39 7 34 6-8 6 26 7-74 6-1 6 8 6-18 7 19 6 3 6-16 7 23 6 21 6-53 6 22 7-24 4 21-6 14-6 16-6-40-7 23-6-12-6 24-7-32-6 15-6 24-6-4-7 5-6-21-6 9-6 6-7 3-6-14-6 17-7 25-6-61-6 49-6-36-7 57-6-25-6-3-6 24-7-16-6-28-6 48-7-28-6 20-6-17-6 6-7 14-6-26-6 47-7-46-6 8-6 7-6 2-7 29-6 13-6-21-6 18-7 4-6 10-6-16-7-10z"/><path class="k1" d="M1190 674l6 40-5-49-6 53zM1164 677l7 32-5-19-6-3zM1077 694l6 36-5-18-6 15zM995 720l6 26-4-31-7 18zM982 721l7 46-5 13-6-38zM976 729l6-8-4 21-7 0z"/><path class="k2" d="M1039 703l6 28-5 2-6 10zM1026 723l7 28-5-70-6 41z"/><path class="k3" d="M1089 681l6 61-4-11-7-32z"/><path class="k0" d="M913 765l7 10 6 16 6-10 7-4 6-18 6 21 6-13 7-29 6-2 6-7 6-8 7 46 6-47 6 26 7-14 6-6 6 17 6-20 7 28 6-48 6 28 7 16 6-24 6 3 6 25 7-57 6 36 6-49 6 61 7-25 6-17 6 14 7-3 6-6 6-9 6 21 7-5 6 4 6-24 6-15 7 32 6-24 6 12 7-23 6 40 6-16 6-14 5-10-6 3-6-35-7 44-6 30-6-49-6 18-7-14-6 27-6 12-7-26-6 18-6 16-6 16-7 14-6-63-6 40-6-16-7 3-6-14-6 31-7-21-6 24-6-3-6-21-7 34-6-6-6 7-7-15-6 12-6 24-6-52-7 53-6-40-6 2-6 48-7 5-6-34-6 14-7 21-6-38-6-1-6-16-7 27-6 11-6 9-6 3-7 1z"/><path class="k1" d="M1176 685l6-18-5 18-6 24zM1150 684l7 26-5 6-6-4zM1081 708l7 21-5 1-6-36zM1063 708l6 21-5-3-6-3zM1006 725l6 40-4-33-7 14zM1000 727l6-2-5 21-6-26zM943 753l7-27-5 33-6 18z"/><path class="k2" d="M1194 686l7-44-5 72-6-40zM1182 667l6 49-5-19-6-12zM1169 671l7 14-5 24-7-32zM1119 685l6 63-4-37-7 3zM1094 698l6 14-5 30-6-61zM1019 712l6 52-5-21-6-17zM950 726l6 16-5 38-6-21z"/><path class="k4" d="M1201 642l6 35-5 21-6 16z"/><path class="k0" d="M918 777l7-1 6-3 6-9 6-11 7-27 6 16 6 1 6 38 7-21 6-14 6 34 7-5 6-48 6-2 6 40 7-53 6 52 6-24 6-12 7 15 6-7 6 6 7-34 6 21 6 3 6-24 7 21 6-31 6 14 7-3 6 16 6-40 6 63 7-14 6-16 6-16 6-18 7 26 6-12 6-27 7 14 6-18 6 49 6-30 7-44 6 35 6-3 5-9-6 30-7 30-6 11-6-55-6 11-7 57-6-45-6-36-6 48-7-32-6 45-6-16-7 12-6-34-6-8-6 62-7-35-6-18-6 48-7-21-6 20-6-11-6 2-7-3-6 0-6 14-6-9-7 7-6 15-6-34-7-2-6 36-6 7-6-54-7 57-6-9-6 18-6 5-7-12-6-31-6 17-7 22-6 21-6-45-6 9-7 12-6 11z"/><path class="k1" d="M1155 684l7 32-5-6-7-26zM1130 691l6 34-4 9-7 14zM1030 720l6 34-5-14-6 24zM1023 718l7 2-5 44-6-52zM967 735l6 31-5 15-6-38z"/><path class="k2" d="M1168 668l6 36-5-33-6 27zM1124 683l6 8-5 57-6-63zM1105 692l6 18-4-1-7 3z"/><path class="k3" d="M1005 707l6 54-5-36-6 2z"/><path class="k0" d="M923 782l6-11 7-12 6-9 6 45 6-21 7-22 6-17 6 31 7 12 6-5 6-18 6 9 7-57 6 54 6-7 6-36 7 2 6 34 6-15 7-7 6 9 6-14 6 0 7 3 6-2 6 11 6-20 7 21 6-48 6 18 7 35 6-62 6 8 6 34 7-12 6 16 6-45 7 32 6-48 6 36 6 45 7-57 6-11 6 55 6-11 7-30 6-30 5 49-6-30-7-15-6 27-6-9-7 35-6-13-6-14-6 34-7-16-6 10-6-39-7-6-6 25-6 2-6 23-7-11-6 11-6 3-6 10-7 13-6-25-6-37-7 30-6-29-6 24-6 12-7 34-6 0-6-48-6 66-7-63-6 60-6 10-7-70-6 50-6-31-6 9-7 51-6-44-6 18-7-35-6 58-6-31-6 9-7 9-6-2-6 36z"/><path class="k1" d="M1210 669l7 15-5 11-7 30zM1154 684l6 39-5-39-6 45zM1141 703l6-25-4 35-7 12zM1078 722l7-30-5 36-6 2zM1041 715l6 48-5-24-6 15zM1028 718l7 63-5-61-7-2zM965 736l7 35-5-36-6 17z"/><path class="k2" d="M1147 678l7 6-5 45-6-16zM1066 717l6-24-5 34-6 0zM1009 718l7 70-5-27-6-54z"/><path class="k3" d="M1085 692l6 37-5 10-6-11zM1072 693l6 29-4 8-7-3z"/><path class="k0" d="M928 815l6-36 6 2 7-9 6-9 6 31 6-58 7 35 6-18 6 44 7-51 6-9 6 31 6-50 7 70 6-10 6-60 7 63 6-66 6 48 6 0 7-34 6-12 6-24 6 29 7-30 6 37 6 25 7-13 6-10 6-3 6-11 7 11 6-23 6-2 6-25 7 6 6 39 6-10 7 16 6-34 6 14 6 13 7-35 6 9 6-27 7 15 6 30 5-22-7-43-6 48-6-14-7 30-6-20-6 29-6-42-7 1-6 27-6 29-6-32-7-4-6 38-6-37-7 14-6 11-6-17-6 6-7 28-6-44-6 24-6 3-7-3-6 30-6-15-7 43-6-35-6-7-6 7-7 4-6-16-6 36-7-48-6 26-6 4-6-12-7-6-6-2-6 17-6 32-7-5-6-16-6 19-7-20-6 15-6-35-6 69z"/><path class="k1" d="M1215 697l6-48-4 35-7-15zM1209 683l6 14-5-28-6 27zM1184 680l6 42-5-13-6-14zM1177 681l7-1-5 15-6 34zM1152 701l7 4-5-21-7-6zM1090 727l6-3-5 5-6-37zM1083 724l7 3-5-35-7 30zM1071 739l6 15-5-61-6 24zM1033 735l6 16-4 30-7-63zM1020 723l7 48-5 7-6 10zM995 735l7 6-5-4-6 9zM989 733l6 2-4 11-7 51z"/><path class="k2" d="M1102 700l6 44-4-3-7 13zM939 740l6 35-5 6-6-2z"/><path class="k4" d="M1221 649l7 43-5 22-6-30z"/><path class="k0" d="M933 809l6-69 6 35 6-15 7 20 6-19 6 16 7 5 6-32 6-17 6 2 7 6 6 12 6-4 6-26 7 48 6-36 6 16 7-4 6-7 6 7 6 35 7-43 6 15 6-30 7 3 6-3 6-24 6 44 7-28 6-6 6 17 6-11 7-14 6 37 6-38 7 4 6 32 6-29 6-27 7-1 6 42 6-29 6 20 7-30 6 14 6-48 7 43 4-1-6 10-6 3-6-24-7 50-6-31-6-4-7 38-6-45-6 9-6 31-7-35-6 46-6-11-6 2-7 18-6-15-6 1-7-3-6 0-6-14-6-45-7 71-6-37-6 39-7-13-6-4-6 7-6-8-7 32-6-37-6 12-6 29-7-2-6-12-6 18-7-14-6 3-6 22-6-56-7 45-6-1-6-10-6 17-7 33-6-34-6-27-7 64z"/><path class="k1" d="M1226 701l6-10-4 1-7-43zM1220 704l6-3-5-52-6 48zM1214 680l6 24-5-7-6-14zM1182 688l6 45-4-53-7 1zM1176 697l6-9-5-7-6 27zM1163 693l7 35-5 9-6-32zM1107 717l6 14-5 13-6-44zM1094 743l7-71-5 52-6 3zM1044 722l6 37-4-12-7 4zM1038 734l6-12-5 29-6-16zM981 767l7-45-5 28-6 32z"/><path class="k2" d="M1088 706l6 37-4-16-7-3zM944 745l6 27-5 3-6-35z"/><path class="k3" d="M988 722l6 56-5-45-6 17z"/><path class="k5" d="M1101 672l6 45-5-17-6 24z"/><path class="k0" d="M937 809l7-64 6 27 6 34 7-33 6-17 6 10 6 1 7-45 6 56 6-22 6-3 7 14 6-18 6 12 7 2 6-29 6-12 6 37 7-32 6 8 6-7 6 4 7 13 6-39 6 37 7-71 6 45 6 14 6 0 7 3 6-1 6 15 7-18 6-2 6 11 6-46 7 35 6-31 6-9 6 45 7-38 6 4 6 31 7-50 6 24 6-3 6-10 5 3-6 32-6-45-7 34-6-13-6 22-6-44-7 14-6 0-6 41-7 22-6-13-6-48-6 47-7-17-6 10-6-8-7-6-6 1-6-4-6 7-7 22-6-41-6-8-6 19-7-20-6 16-6 75-7-65-6 2-6 16-6-16-7 18-6 34-6-3-6-21-7 31-6-40-6 20-7 2-6-29-6 27-6 2-7-6-6 5-6-20-7 64-6 12z"/><path class="k1" d="M1225 681l6 45-5-25-6 3zM1193 694l7-14-5 15-7 38zM1187 694l6 0-5 39-6-45zM1162 696l6 48-5-51-6 46zM1105 748l7-22-5-9-6-45zM1061 724l7 65-5-54-6-8zM1055 726l6-2-4 3-7 32zM1043 726l6 16-5-20-6 12zM992 767l7-2-5 13-6-56z"/><path class="k2" d="M1200 680l6 44-5-25-6-4zM1087 718l6-19-5 7-6 39zM1074 714l6-16-5 34-6-4zM986 738l6 29-4-45-7 45zM955 746l6 20-5 40-6-34z"/><path class="k3" d="M1099 707l6 41-4-76-7 71zM1093 699l6 8-5 36-6-37zM1080 698l7 20-5 27-7-13z"/><path class="k0" d="M942 822l6-12 7-64 6 20 6-5 7 6 6-2 6-27 6 29 7-2 6-20 6 40 7-31 6 21 6 3 6-34 7-18 6 16 6-16 6-2 7 65 6-75 6-16 7 20 6-19 6 8 6 41 7-22 6-7 6 4 6-1 7 6 6 8 6-10 7 17 6-47 6 48 6 13 7-22 6-41 6 0 7-14 6 44 6-22 6 13 7-34 6 45 6-32 5 6-6-3-7 37-6 1-6-59-6 39-7 4-6 1-6 25-7-23-6-43-6 35-6 22-7 11-6 6-6-6-6 1-7-16-6 1-6-38-7 14-6-1-6-20-6-55-7 58-6 13-6 25-6 18-7 13-6 6-6-10-7-28-6 53-6-34-6-7-7 24-6-3-6 23-7-8-6-38-6 43-6-8-7-2-6 18-6 4-6-46-7 4-6 52z"/><path class="k1" d="M1173 714l6-35-5 78-6-13zM1047 728l7 28-5-14-6-16zM1029 740l6 7-5 31-6-3z"/><path class="k2" d="M1217 676l6 59-5-20-6-13zM1116 709l7-14-5 24-6 7zM1110 708l6 1-4 17-7 22zM1079 729l6-25-5-6-6 16zM997 738l6 38-4-11-7 2zM960 747l6 46-5-27-6-20zM953 751l7-4-5-1-7 64z"/><path class="k3" d="M1179 679l6 43-4 13-7 22zM1123 695l6 38-5-10-6-4zM1085 704l6-13-4 27-7-20z"/><path class="k4" d="M1104 688l6 20-5 40-6-41z"/><path class="k8" d="M1091 691l7-58-5 66-6 19z"/><path class="k10" d="M1098 633l6 55-5 19-6-8z"/><path class="k0" d="M947 803l6-52 7-4 6 46 6-4 6-18 7 2 6 8 6-43 6 38 7 8 6-23 6 3 7-24 6 7 6 34 6-53 7 28 6 10 6-6 7-13 6-18 6-25 6-13 7-58 6 55 6 20 6 1 7-14 6 38 6-1 7 16 6-1 6 6 6-6 7-11 6-22 6-35 6 43 7 23 6-25 6-1 7-4 6-39 6 59 6-1 7-37 6 3 5 16-7-33-6 24-6-9-6-5-7 25-6 8-6 3-6-2-7-26-6 19-6 7-7 0-6-4-6-9-6 21-7-38-6 24-6 19-6 5-7-8-6 9-6-11-7-68-6 49-6 30-6-5-7 38-6-33-6-6-7 24-6 12-6-8-6 12-7 9-6 22-6 2-6-55-7-6-6-6-6 34-7 10-6-13-6 30-6-17-7 14-6-33-6 1z"/><path class="k1" d="M1240 683l7 33-5-16-6-3zM1222 693l6 5-5 37-6-59zM1184 720l6-19-5 21-6-43zM1140 721l6-24-4 51-7-16zM1121 737l7 8-5-50-7 14zM1090 746l6-30-5-25-6 13zM1084 741l6 5-5-42-6 25zM1002 746l6 6-5 24-6-38zM958 771l6 33-4-57-7 4zM952 772l6-1-5-20-6 52z"/><path class="k2" d="M1146 697l7 38-5 12-6 1zM1109 735l6 11-5-38-6-20z"/><path class="k8" d="M1102 667l7 68-5-47-6-55zM1096 716l6-49-4-34-7 58z"/><path class="k0" d="M952 772l6-1 6 33 7-14 6 17 6-30 6 13 7-10 6-34 6 6 7 6 6 55 6-2 6-22 7-9 6-12 6 8 6-12 7-24 6 6 6 33 7-38 6 5 6-30 6-49 7 68 6 11 6-9 7 8 6-5 6-19 6-24 7 38 6-21 6 9 6 4 7 0 6-7 6-19 7 26 6 2 6-3 6-8 7-25 6 5 6 9 6-24 7 33 5-31-7 23-6-23-6 19-7 15-6-14-6 24-6-2-7 8-6 2-6-6-6-13-7 31-6 12-6-6-7-39-6 39-6-71-6 50-7-24-6 26-6-20-7 25-6-20-6 1-6 43-7-15-6 1-6-20-6 35-7-31-6 20-6 13-7 2-6-7-6 12-6 9-7-44-6 61-6-72-6 55-7-23-6 31-6 29-7-54-6 40-6-22-6-13z"/><path class="k1" d="M1239 685l6 23-5-25-6 24zM1139 734l6-50-5 37-6 19zM1132 710l7 24-5 6-6 5zM1120 716l6 20-5 1-6 9zM1076 731l6 20-5 28-6-33zM1063 735l7 31-5-26-7 24z"/><path class="k2" d="M1019 740l7 44-5 29-6-55z"/><path class="k3" d="M1007 729l6 72-5-49-6-6z"/><path class="k4" d="M1145 684l6 71-5-58-6 24z"/><path class="k6" d="M1107 721l6 20-4-6-7-68zM1101 722l6-1-5-54-6 49z"/><path class="k0" d="M957 772l6 13 6 22 6-40 7 54 6-29 6-31 7 23 6-55 6 72 6-61 7 44 6-9 6-12 6 7 7-2 6-13 6-20 7 31 6-35 6 20 6-1 7 15 6-43 6-1 6 20 7-25 6 20 6-26 7 24 6-50 6 71 6-39 7 39 6 6 6-12 7-31 6 13 6 6 6-2 7-8 6 2 6-24 6 14 7-15 6-19 6 23 7-23 4 31-6-20-6-7-6 35-7-22-6 14-6 29-7-16-6-10-6-3-6-33-7 31-6 4-6 18-7 1-6-4-6 12-6-2-7 15-6-12-6-10-6-2-7 1-6 4-6-2-7 35-6 1-6-42-6 45-7-20-6-9-6-6-6 43-7-14-6 15-6-1-7-34-6 49-6-46-6 44-7-31-6 7-6 16-7-5-6-23-6 3-6 41-7-21z"/><path class="k1" d="M1244 689l6 7-5 12-6-23zM1187 714l7-31-5 48-6-13zM1150 743l6 2-5 10-6-71zM1087 731l6 42-5-23-6 1zM1062 741l6 6-5-12-6 20zM1018 753l6 46-5-59-6 61zM1005 766l7 31-5-68-6 55zM980 761l6 23-4 37-7-54zM974 764l6-3-5 6-6 40z"/><path class="k3" d="M1194 683l6 33-5 21-6-6z"/><path class="k0" d="M961 784l7 21 6-41 6-3 6 23 7 5 6-16 6-7 7 31 6-44 6 46 6-49 7 34 6 1 6-15 7 14 6-43 6 6 6 9 7 20 6-45 6 42 6-1 7-35 6 2 6-4 7-1 6 2 6 10 6 12 7-15 6 2 6-12 6 4 7-1 6-18 6-4 7-31 6 33 6 3 6 10 7 16 6-29 6-14 7 22 6-35 6 7 6 20 5 35-6-72-6 31-7-27-6 41-6-1-7-17-6 19-6-12-6 50-7-57-6 42-6-5-6-37-7 27-6-32-6 49-7 0-6-15-6 6-6-5-7 21-6 2-6-33-6 11-7 14-6-4-6 32-7-3-6-56-6 41-6 0-7-3-6-8-6-15-7 10-6 61-6-20-6-10-7 16-6-40-6 5-6 10-7 0-6 39-6 7-7-3-6-31z"/><path class="k1" d="M1180 706l6 37-5-25-6 18zM1117 726l6 33-5-24-6 4zM1073 761l6-41-5 36-6-9zM1010 752l6 40-4 5-7-31zM1004 757l6-5-5 14-6 7z"/><path class="k2" d="M1255 679l6 72-5-35-6-20zM1242 683l7 27-5-21-6 35zM1198 706l7 57-5-47-6-33zM1167 701l6 32-5 4-6-4zM1048 735l6 15-5 20-6 15zM1041 745l7-10-5 50-6-1z"/><path class="k3" d="M1079 720l6 56-4 0-7-20z"/><path class="k0" d="M966 779l6 31 7 3 6-7 6-39 7 0 6-10 6-5 6 40 7-16 6 10 6 20 6-61 7-10 6 15 6 8 7 3 6 0 6-41 6 56 7 3 6-32 6 4 7-14 6-11 6 33 6-2 7-21 6 5 6-6 6 15 7 0 6-49 6 32 7-27 6 37 6 5 6-42 7 57 6-50 6 12 6-19 7 17 6 1 6-41 7 27 6-31 6 72 5-50-6 9-7 29-6-20-6 3-6 13-7-22-6 21-6-24-7 19-6 29-6-14-6-46-7 85-6-50-6-10-6-28-7 85-6-35-6-23-7 36-6 11-6-25-6 16-7 2-6-36-6 16-7 36-6-15-6-15-6 13-7 0-6 0-6 2-6 50-7-49-6 15-6 13-7-17-6 11-6 8-6-39-7 54-6-55-6 72-6-26-7-31-6-2z"/><path class="k1" d="M1172 723l6 10-5 0-6-32zM1147 722l6 23-5-10-6 6zM1103 742l6-16-5 25-6-4zM1084 748l6 15-5 13-6-56zM1078 761l6-13-5-28-6 41zM1046 764l7 49-5-78-7 10zM1009 755l6 39-5-42-6 5zM977 769l7 31-5 13-7-3zM971 767l6 2-5 41-6-31z"/><path class="k2" d="M1191 698l6 46-5 4-6-5zM1109 726l6 36-4-25-7 14zM996 754l6 55-4-42-7 0z"/><path class="k3" d="M1166 695l6 28-5-22-6 49z"/><path class="k0" d="M971 767l6 2 7 31 6 26 6-72 6 55 7-54 6 39 6-8 6-11 7 17 6-13 6-15 7 49 6-50 6-2 6 0 7 0 6-13 6 15 6 15 7-36 6-16 6 36 7-2 6-16 6 25 6-11 7-36 6 23 6 35 7-85 6 28 6 10 6 50 7-85 6 46 6 14 6-29 7-19 6 24 6-21 7 22 6-13 6-3 6 20 7-29 6-9 5 5-7 13-6-17-6 39-6-15-7-9-6-7-6 46-6-39-7 0-6 4-6 12-7 21-6-8-6 10-6-1-7-12-6-9-6 52-7-25-6 10-6 4-6-32-7 18-6 6-6-16-6 39-7-57-6 7-6 21-7 11-6-34-6 33-6 6-7 6-6-8-6-37-6 40-7-7-6-5-6 11-7 1-6-7-6-15-6 21-7 4-6 41-6-8z"/><path class="k1" d="M1170 743l7 12-5-32-6-28zM1164 734l6 9-4-48-7 85zM1101 733l7 57-5-48-7 36zM1095 740l6-7-5 45-6-15zM1007 771l6 7-4-23-7 54zM995 777l6-21-5-2-6 72z"/><path class="k2" d="M1076 738l6 34-4-11-7 0zM1001 756l6 15-5 38-6-55z"/><path class="k3" d="M1045 738l6 37-5-11-6 15z"/><path class="k0" d="M976 814l6 8 6-41 7-4 6-21 6 15 6 7 7-1 6-11 6 5 7 7 6-40 6 37 6 8 7-6 6-6 6-33 6 34 7-11 6-21 6-7 7 57 6-39 6 16 6-6 7-18 6 32 6-4 6-10 7 25 6-52 6 9 7 12 6 1 6-10 6 8 7-21 6-12 6-4 7 0 6 39 6-46 6 7 7 9 6 15 6-39 6 17 7-13 5 18-7 2-6 2-6 13-7-2-6-7-6-15-6-2-7 29-6-62-6 72-7-30-6-29-6 55-6-5-7 5-6-9-6 1-6 3-7 30-6-21-6 13-7 17-6-9-6 11-6-34-7 45-6-38-6 22-6-41-7 28-6-8-6 6-7-3-6-13-6 44-6 0-7-43-6 25-6-11-7 3-6 7-6 30-6 0-7 35-6-72-6 21-6 25z"/><path class="k1" d="M1094 740l6 41-5-41-6 21zM1081 760l6 8-5 4-6-34zM1062 750l6 13-4 14-7 6zM993 768l6 72-4-63-7 4z"/><path class="k2" d="M1043 751l7 43-5-56-6 40z"/><path class="k3" d="M1200 695l6 29-4 9-7 21z"/><path class="k4" d="M1219 682l6 62-4-27-7 0z"/><path class="k0" d="M981 814l6-25 6-21 6 72 7-35 6 0 6-30 6-7 7-3 6 11 6-25 7 43 6 0 6-44 6 13 7 3 6-6 6 8 7-28 6 41 6-22 6 38 7-45 6 34 6-11 6 9 7-17 6-13 6 21 7-30 6-3 6-1 6 9 7-5 6 5 6-55 6 29 7 30 6-72 6 62 7-29 6 2 6 15 6 7 7 2 6-13 6-2 7-2 4 12-6 1-6-47-7 13-6 14-6 26-6-1-7-46-6 43-6 1-6-3-7-21-6 46-6-26-7-5-6-3-6 12-6-2-7 17-6 5-6-33-6 9-7 25-6 13-6 11-7-18-6 2-6 21-6-30-7-17-6 49-6-3-7-2-6-30-6 13-6 26-7-42-6-22-6 44-6 2-7-16-6 6-6 36-7-48-6 31-6-20-6 18-7-7z"/><path class="k1" d="M1261 703l7-13-5 38-6 13zM1224 740l6-1-5 5-6-62zM1218 737l6 3-5-58-6 72zM1211 716l7 21-5 17-7-30zM1199 736l6 26-5-67-6 55zM1155 727l6 33-5 15-6-21zM1149 736l6-9-5 27-6 13zM1098 743l7 17-5 21-6-41zM1054 754l7 42-5-2-6 0zM1029 762l7 16-5-13-7 3zM1023 768l6-6-5 6-6 7zM1004 787l6-31-4 49-7 35zM998 767l6 20-5 53-6-72zM992 785l6-18-5 1-6 21zM985 778l7 7-5 4-6 25z"/><path class="k2" d="M1268 690l6 47-5-11-6 2zM1236 696l7 46-5-25-6-2zM1042 776l6-44-5 19-6 25zM1010 756l7 48-5 1-6 0z"/><path class="k4" d="M1048 732l6 22-4 40-7-43z"/><path class="k0" d="M985 778l7 7 6-18 6 20 6-31 7 48 6-36 6-6 7 16 6-2 6-44 6 22 7 42 6-26 6-13 6 30 7 2 6 3 6-49 7 17 6 30 6-21 6-2 7 18 6-11 6-13 7-25 6-9 6 33 6-5 7-17 6 2 6-12 6 3 7 5 6 26 6-46 7 21 6 3 6-1 6-43 7 46 6 1 6-26 6-14 7-13 6 47 6-1 5-1-6-61-6 91-7-37-6 21-6-42-7 55-6-10-6-7-6-20-7 17-6 4-6-21-6-5-7 31-6-19-6 35-7-37-6 6-6 17-6-13-7 25-6 0-6 36-7-29-6-55-6 88-6-22-7-26-6-8-6 22-6-41-7 18-6 13-6 0-7 33-6-3-6-40-6 47-7-9-6 23-6-37-7 50-6-45-6-3-6 31-7-23-6 17z"/><path class="k1" d="M1254 707l6 42-5-32-6 26zM1210 725l6 21-5-30-6 46zM1204 720l6 5-5 37-6-26zM1178 730l7 37-5-27-6-2zM1160 740l6 13-5 7-6-33zM1103 749l6 8-4 3-7-17zM1078 761l6-13-5 39-6-30zM1028 775l6 37-5-50-6 6zM1015 780l6 45-4-21-7-48zM1009 777l6 3-5-24-6 31zM996 785l7 23-5-41-6 18z"/><path class="k2" d="M1084 748l7-18-5 59-7-2z"/><path class="k3" d="M1128 717l6 55-4 13-7-18zM1091 730l6 41-5 21-6-3zM1053 751l6 40-5-37-6-22z"/><path class="k4" d="M1279 674l6 61-5 1-6 1z"/><path class="k0" d="M990 802l6-17 7 23 6-31 6 3 6 45 7-50 6 37 6-23 7 9 6-47 6 40 6 3 7-33 6 0 6-13 7-18 6 41 6-22 6 8 7 26 6 22 6-88 6 55 7 29 6-36 6 0 7-25 6 13 6-17 6-6 7 37 6-35 6 19 7-31 6 5 6 21 6-4 7-17 6 20 6 7 6 10 7-55 6 42 6-21 7 37 6-91 6 61 5-27-6-6-7 7-6-14-6 59-6-4-7-11-6 29-6-11-7-18-6 28-6-29-6 12-7-1-6-9-6-41-7 59-6-31-6 30-6 4-7 9-6-16-6 4-6-5-7 8-6 23-6 1-7-10-6-14-6 14-6-26-7 53-6-25-6 37-6-43-7 25-6 10-6-48-7 30-6 12-6 5-6-10-7 14-6 10-6 0-7-50-6 33-6-26z"/><path class="k1" d="M1189 758l7-59-5 33-6 35zM1183 727l6 31-4 9-7-37zM1102 749l6 26-5-26-6 22zM1089 777l6 25-4-72-7 18zM995 776l6 26-5-17-6 17z"/><path class="k2" d="M1284 702l6 6-5 27-6-61zM1277 709l7-7-5-28-6 91zM1271 695l6 14-4 56-7-37zM1058 758l6 48-5-15-6-40zM1007 769l7 50-5-42-6 31z"/><path class="k4" d="M1196 699l6 41-5 11-6-19z"/><path class="k0" d="M995 776l6 26 6-33 7 50 6 0 6-10 7-14 6 10 6-5 6-12 7-30 6 48 6-10 7-25 6 43 6-37 6 25 7-53 6 26 6-14 6 14 7 10 6-1 6-23 7-8 6 5 6-4 6 16 7-9 6-4 6-30 6 31 7-59 6 41 6 9 7 1 6-12 6 29 6-28 7 18 6 11 6-29 7 11 6 4 6-59 6 14 7-7 6 6 5 23-7 15-6-20-6-20-6 30-7-32-6 7-6 15-7 37-6-10-6-3-6-23-7 45-6-38-6 25-6-26-7 45-6-22-6 37-7-22-6-10-6 27-6-4-7 17-6-39-6-1-6 0-7 16-6 3-6-9-7-11-6-11-6 32-6 0-7 24-6-14-6-14-7 26-6-48-6 22-6-11-7-7-6 46-6 17-6-31-7 22-6-17-6 32z"/><path class="k1" d="M1257 711l6-7-4 46-7-11zM1106 760l7 11-5 4-6-26zM1050 777l6-22-5 33-6 12zM1044 766l6 11-5 23-6 5zM1006 796l6 17-5-44-6 33z"/><path class="k2" d="M1276 706l6 20-5-17-6-14zM1263 704l7 32-5 18-6-4zM1201 733l6 26-5-19-6-41zM1100 749l6 11-4-11-7 53zM1056 755l6 48-4-45-7 30zM1037 759l7 7-5 39-6-10z"/><path class="k0" d="M1000 828l6-32 6 17 7-22 6 31 6-17 6-46 7 7 6 11 6-22 6 48 7-26 6 14 6 14 7-24 6 0 6-32 6 11 7 11 6 9 6-3 7-16 6 0 6 1 6 39 7-17 6 4 6-27 6 10 7 22 6-37 6 22 7-45 6 26 6-25 6 38 7-45 6 23 6 3 6 10 7-37 6-15 6-7 7 32 6-30 6 20 6 20 7-15 4 14-6 8-6-11-6-9-7-1-6-16-6 6-6-3-7 40-6-58-6 41-7 13-6 15-6-10-6-21-7 28-6-37-6 20-6-15-7 30-6 20-6-15-7-40-6 42-6 6-6-28-7 11-6 18-6-27-7 4-6-1-6 5-6-21-7 34-6-9-6 27-6-34-7-2-6 40-6-12-7 8-6-8-6 25-6-34-7 13-6-33-6 32-7-1z"/><path class="k1" d="M1268 716l6 16-4 4-7-32zM1262 722l6-6-5-12-6 7zM1256 719l6 3-5-11-6 15zM1237 742l6-41-5 52-6-3zM1199 730l6 37-4-34-7 45zM1187 735l6 15-5 6-6 37zM1143 750l6 28-5-16-6-1zM1124 752l6 27-5-2-6 3zM1117 756l7-4-5 28-6-9zM1111 755l6 1-4 15-7-11zM1105 760l6-5-5 5-6-11zM1092 773l7-34-5 42-6 0zM1086 764l6 9-4 8-7 24zM1055 783l6 12-5-40-6 22zM1042 783l6 8-4-25-7-7zM1030 774l6 34-5-3-6 17zM1023 787l7-13-5 48-6-31zM1004 785l7 1-5 10-6 32z"/><path class="k2" d="M1161 730l7 40-5 18-6-4zM1074 757l6 34-5 0-6-14zM1067 755l7 2-5 20-7 26zM1011 786l6-32-5 59-6-17z"/><path class="k3" d="M1243 701l6 58-5 4-6-10zM1099 739l6 21-5-11-6 32z"/><path class="k4" d="M1017 754l6 33-4 4-7 22z"/><path class="k0" d="M1004 785l7 1 6-32 6 33 7-13 6 34 6-25 6 8 7-8 6 12 6-40 7 2 6 34 6-27 6 9 7-34 6 21 6-5 6 1 7-4 6 27 6-18 7-11 6 28 6-6 6-42 7 40 6 15 6-20 7-30 6 15 6-20 6 37 7-28 6 21 6 10 6-15 7-13 6-41 6 58 7-40 6 3 6-6 6 16 7 1 6 9 6 11 6-8 5-36-6 41-6 16-7-27-6-9-6 14-6 16-7 13-6-29-6 34-6-39-7 14-6 29-6-27-7-1-6 11-6 27-6-77-7 63-6-11-6 18-7-24-6-18-6 26-6-11-7-1-6 26-6-19-6 12-7 6-6-37-6 23-7 13-6-4-6-26-6 57-7-15-6 12-6-24-7-15-6 21-6 61-6-39-7 10-6-21-6 23-6-11-7-10z"/><path class="k1" d="M1242 739l6 39-5-77-6 41zM1110 768l6-23-5 10-6 5zM1103 781l7-13-5-8-6-21zM1097 777l6 4-4-42-7 34zM1066 781l6 24-5-50-6 40zM1053 787l6-21-4 17-7 8zM1016 810l6 11-5-67-6 32z"/><path class="k2" d="M1166 743l6 18-4 9-7-40zM1116 745l6 37-5-26-6-1zM1091 751l6 26-5-4-6-9zM1059 766l7 15-5 14-6-12z"/><path class="k3" d="M1198 715l6 77-5-62-6 20z"/><path class="k0" d="M1009 800l7 10 6 11 6-23 6 21 7-10 6 39 6-61 6-21 7 15 6 24 6-12 7 15 6-57 6 26 6 4 7-13 6-23 6 37 7-6 6-12 6 19 6-26 7 1 6 11 6-26 6 18 7 24 6-18 6 11 7-63 6 77 6-27 6-11 7 1 6 27 6-29 7-14 6 39 6-34 6 29 7-13 6-16 6-14 6 9 7 27 6-16 6-41 5-5-6 6-6 25-7-31-6 77-6-47-7 36-6-24-6 13-6-8-7-18-6 49-6-49-7 44-6-20-6-11-6-2-7 48-6-34-6 19-6-34-7 29-6-8-6 45-7-26-6-24-6 39-6-32-7 40-6-33-6 9-7 17-6-11-6-23-6 12-7-6-6 15-6 8-6 3-7 11-6-6-6-27-7 5-6 9-6 39-6 1-7-21-6 15z"/><path class="k1" d="M1303 710l6-6-5 5-6 41zM1234 733l6 49-5-29-6 29zM1196 758l6 34-4-77-7 63zM1184 743l6 34-5-10-6 18zM1102 765l6 23-5-7-6-4zM1096 777l6-12-5 12-6-26zM1052 775l6 27-5-15-6 61zM1045 780l7-5-5 73-6-39zM1039 789l6-9-4 29-7 10z"/><path class="k2" d="M1290 704l7 31-5 31-7-27zM1089 771l7 6-5-26-6 57z"/><path class="k0" d="M1014 823l6-15 7 21 6-1 6-39 6-9 7-5 6 27 6 6 7-11 6-3 6-8 6-15 7 6 6-12 6 23 6 11 7-17 6-9 6 33 7-40 6 32 6-39 6 24 7 26 6-45 6 8 7-29 6 34 6-19 6 34 7-48 6 2 6 11 6 20 7-44 6 49 6-49 7 18 6 8 6-13 6 24 7-36 6 47 6-77 7 31 6-25 6-6 5 20-6 11-7 3-6 5-6 11-7-27-6 2-6 13-6 17-7 14-6-41-6 25-6 9-7 5-6-22-6 11-7-21-6 17-6 1-6-16-7 2-6 40-6-8-6-19-7 16-6-27-6 25-7-20-6 61-6 20-6-31-7 8-6-35-6 14-7 14-6-36-6 23-6 9-7 24-6-30-6-33-6 38-7 28-6-5-6 0-7 2-6 5-6-62z"/><path class="k1" d="M1251 732l6 41-4-22-7-18zM1213 739l7 21-5-14-6-2zM1195 741l6 16-5 1-6 19zM1188 743l7-2-5 36-6-34zM1151 770l6-25-5 14-6 39zM1057 796l6-38-5 44-6-27z"/><path class="k2" d="M1157 745l6 27-5 11-6-24zM1144 750l7 20-5 28-6-32zM1094 765l6 36-4-24-7-6z"/><path class="k3" d="M1063 758l6 33-5 17-6-6z"/><path class="k4" d="M1019 764l6 62-5-18-6 15z"/><path class="k0" d="M1019 764l6 62 6-5 7-2 6 0 6 5 7-28 6-38 6 33 6 30 7-24 6-9 6-23 6 36 7-14 6-14 6 35 7-8 6 31 6-20 6-61 7 20 6-25 6 27 7-16 6 19 6 8 6-40 7-2 6 16 6-1 6-17 7 21 6-11 6 22 7-5 6-9 6-25 6 41 7-14 6-17 6-13 6-2 7 27 6-11 6-5 7-3 6-11 5 18-7 19-6-2-6-2-6-11-7 10-6 1-6-15-7-36-6 8-6 63-6-18-7-5-6 10-6 17-6-13-7-5-6-11-6 31-7 35-6-43-6 26-6-11-7 9-6-25-6 25-7-16-6-18-6 17-6-17-7-3-6-3-6 63-6-14-7-31-6 11-6 2-7-12-6 23-6 5-6-10-7 22-6-2-6-17-7 25-6-7-6-6-6 20z"/><path class="k1" d="M1149 765l6 18-4-13-7-20zM1137 765l6 17-5 29-6 20zM1130 762l7 3-5 66-6-31zM1086 778l7 12-5-2-6 9zM1068 796l6 10-5-15-6-33z"/><path class="k2" d="M1124 759l6 3-4 38-7 8z"/><path class="k3" d="M1268 706l7 36-5 0-6 17zM1262 714l6-8-4 53-7 14z"/><path class="k0" d="M1024 831l6-20 6 6 6 7 7-25 6 17 6 2 7-22 6 10 6-5 6-23 7 12 6-2 6-11 7 31 6 14 6-63 6 3 7 3 6 17 6-17 6 18 7 16 6-25 6 25 7-9 6 11 6-26 6 43 7-35 6-31 6 11 7 5 6 13 6-17 6-10 7 5 6 18 6-63 6-8 7 36 6 15 6-1 7-10 6 11 6 2 6 2 7-19 4-10-6 3-6 21-6-24-7 22-6-33-6 20-6 27-7-23-6 26-6-65-7 63-6-27-6 13-6-20-7 31-6-12-6 46-7-32-6 10-6-9-6-27-7 59-6-14-6-42-6 61-7-3-6-40-6 32-7-22-6 50-6 17-6-22-7-53-6 12-6 9-7 33-6 5-6 6-6-4-7-31-6 13-6 3-6 31-7-31-6 5-6 1-7 3z"/><path class="k1" d="M1292 721l6 33-4-8-7 10zM1273 745l7 23-5-26-7-36zM1254 769l7-63-5 71-6-18zM1236 735l6 20-5 9-6 17zM1154 763l6 40-5-20-6-18zM1110 777l6-12-4 43-7-31z"/><path class="k2" d="M1192 742l6 27-5 6-6 26zM1173 745l6 42-5 12-6-25zM1116 765l7 53-5 4-6-14z"/><path class="k4" d="M1261 706l6 65-5-57-6 63z"/><path class="k0" d="M1028 820l7-3 6-1 6-5 7 31 6-31 6-3 6-13 7 31 6 4 6-6 6-5 7-33 6-9 6-12 7 53 6 22 6-17 6-50 7 22 6-32 6 40 7 3 6-61 6 42 6 14 7-59 6 27 6 9 6-10 7 32 6-46 6 12 7-31 6 20 6-13 6 27 7-63 6 65 6-26 7 23 6-27 6-20 6 33 7-22 6 24 6-21 6-3 5 11-6-41-6 77-7-34-6 39-6-69-6 28-7-10-6 6-6 61-7-44-6 6-6-24-6 14-7 32-6-5-6 14-6-18-7-26-6 25-6 8-7-16-6 34-6-10-6 3-7-3-6 6-6 7-7-1-6 5-6-6-6-56-7 20-6 42-6 3-6-3-7-32-6 18-6-2-7 14-6-2-6-5-6-12-7 46-6 19-6-35-6-18-7 22z"/><path class="k1" d="M1291 743l6-28-5 6-6 20zM1284 733l7 10-5-2-6 27zM1265 756l7 44-5-29-6-65zM1259 762l6-6-4-50-7 63zM1253 738l6 24-5 7-6-27zM1215 749l7 26-5 25-7-32zM1196 766l7 16-5-13-6-27zM1102 775l7 32-5-21-7 33zM1065 786l6 12-5 10-6 3zM1040 798l6 18-5 0-6 1z"/><path class="k2" d="M1297 715l6 69-5-30-6-33z"/><path class="k3" d="M1322 702l6 41-5-11-6 3zM1127 765l7-20-5 95-6-22z"/><path class="k4" d="M1134 745l6 56-5 22-6 17z"/><path class="k0" d="M1033 820l7-22 6 18 6 35 6-19 7-46 6 12 6 5 6 2 7-14 6 2 6-18 7 32 6 3 6-3 6-42 7-20 6 56 6 6 6-5 7 1 6-7 6-6 7 3 6-3 6 10 6-34 7 16 6-8 6-25 7 26 6 18 6-14 6 5 7-32 6-14 6 24 6-6 7 44 6-61 6-6 7 10 6-28 6 69 6-39 7 34 6-77 6 41 5-29-6 61-7-59-6 38-6-22-6 17-7 12-6-28-6 38-6-4-7-13-6-23-6 31-7-37-6 64-6-3-6 5-7-38-6 27-6 10-7-2-6 12-6-18-6 13-7 19-6-39-6 2-6 40-7-71-6 76-6-78-7 61-6-25-6 37-6-33-7 44-6-13-6 30-6-34-7 14-6-23-6 22-7 11-6-27-6 27-6 7-7-63-6 73z"/><path class="k1" d="M1302 749l6-17-5 52-6-69zM1289 733l6 28-4-18-7-10zM1226 753l7 38-5 2-6-18zM1138 805l7-61-5 57-6-56z"/><path class="k2" d="M1320 716l7 59-5-73-6 77zM1264 731l6 23-5 2-6 6zM1132 780l6 25-4-60-7 20z"/><path class="k3" d="M1251 725l7 37-5-24-6 14zM1157 746l7 71-5-14-7-1zM1044 779l7 63-5-26-6-18z"/><path class="k4" d="M1145 744l6 78-5-15-6-6z"/><path class="k0" d="M1038 852l6-73 7 63 6-7 6-27 6 27 7-11 6-22 6 23 7-14 6 34 6-30 6 13 7-44 6 33 6-37 6 25 7-61 6 78 6-76 7 71 6-40 6-2 6 39 7-19 6-13 6 18 6-12 7 2 6-10 6-27 7 38 6-5 6 3 6-64 7 37 6-31 6 23 7 13 6 4 6-38 6 28 7-12 6-17 6 22 6-38 7 59 6-61 5 11-6 29-7-20-6 2-6 0-7 25-6-4-6 17-6-9-7 10-6-8-6-36-6 39-7-19-6 19-6-14-7 9-6-31-6 49-6 11-7-52-6 21-6 19-7 7-6-34-6 35-6-20-7 43-6 1-6-20-6 6-7-13-6 9-6-36-7 52-6-5-6-22-6 21-7-3-6-9-6 20-7-19-6 14-6 20-6-11-7 30-6-3-6-36z"/><path class="k1" d="M1325 734l7 20-5 21-7-59zM1319 736l6-2-5-18-6 38zM1250 770l6-19-5-26-6 64zM1206 763l6-21-5 46-6 12zM1175 770l6 20-5-15-6 2zM1156 794l6 20-5-68-6 76zM1150 800l6-6-5 28-6-78zM1112 785l6 22-5 21-6-13zM1080 795l7 19-5-12-6 22z"/><path class="k2" d="M1269 731l6 36-5-13-6-23zM1256 751l7 19-5-8-7-37zM1187 755l6 34-4 6-7 19zM1143 787l7 13-5-56-7 61zM1043 809l6 36-5-66-6 73z"/><path class="k3" d="M1231 734l6 31-4 26-7-38zM1212 742l7 52-5-4-7-2zM1131 760l6 36-5-16-6 37z"/><path class="k0" d="M1043 809l6 36 6 3 7-30 6 11 6-20 6-14 7 19 6-20 6 9 7 3 6-21 6 22 6 5 7-52 6 36 6-9 7 13 6-6 6 20 6-1 7-43 6 20 6-35 6 34 7-7 6-19 6-21 7 52 6-11 6-49 6 31 7-9 6 14 6-19 7 19 6-39 6 36 6 8 7-10 6 9 6-17 6 4 7-25 6 0 6-2 7 20 6-29 5 66-7-60-6-14-6 28-6-6-7 24-6-13-6 11-7 4-6 4-6-16-6 25-7 23-6-34-6-7-7 7-6 27-6-11-6 18-7-32-6-8-6 48-6-1-7-33-6-11-6 36-7-28-6 35-6-14-6-11-7 40-6-32-6 3-7-1-6-13-6 22-6 26-7-29-6 9-6-10-6 19-7-2-6-8-6 22-7-34-6 25-6-11-6 52z"/><path class="k1" d="M1336 731l7 60-5-66-6 29zM1324 745l6-28-5 17-6 2zM1192 764l6 11-5 14-6-34zM1179 772l7 28-5-10-6-20zM1135 792l7 1-5 3-6-36z"/><path class="k2" d="M1330 717l6 14-4 23-7-20zM1217 761l6 8-4 25-7-52zM1129 779l6 13-4-32-7 52zM1066 794l7 34-5 1-6-11z"/><path class="k0" d="M1048 860l6-52 6 11 6-25 7 34 6-22 6 8 7 2 6-19 6 10 6-9 7 29 6-26 6-22 6 13 7 1 6-3 6 32 7-40 6 11 6 14 6-35 7 28 6-36 6 11 7 33 6 1 6-48 6 8 7 32 6-18 6 11 6-27 7-7 6 7 6 34 7-23 6-25 6 16 6-4 7-4 6-11 6 13 7-24 6 6 6-28 6 14 7 60 4-36-6 2-6-8-6-14-7 44-6-2-6-13-7-1-6-1-6-7-6 9-7-5-6 14-6-11-6 20-7-11-6-24-6-13-7 65-6 14-6-17-6-5-7-3-6 13-6-12-7-8-6 35-6 14-6-49-7 29-6 2-6 1-6-48-7 29-6-31-6 9-7 24-6 9-6-3-6 20-7-24-6 39-6 33-6-38-7-22-6 26-6-14-7 2z"/><path class="k1" d="M1335 749l6 8-5-26-6-14zM1329 735l6 14-5-32-6 28zM1140 794l7-29-5 28-7-1zM1121 796l7-24-5 29-6 26zM1096 798l7 24-5-25-6 19zM1071 810l7 22-5-4-7-34z"/><path class="k2" d="M1247 747l6 24-5-4-6 27z"/><path class="k3" d="M1241 734l6 13-5 47-6-11zM1147 765l6 48-5-23-6 3zM1134 763l6 31-5-2-6-13zM1128 772l6-9-5 16-6 22z"/><path class="k0" d="M1052 824l7-2 6 14 6-26 7 22 6 38 6-33 6-39 7 24 6-20 6 3 6-9 7-24 6-9 6 31 7-29 6 48 6-1 6-2 7-29 6 49 6-14 6-35 7 8 6 12 6-13 7 3 6 5 6 17 6-14 7-65 6 13 6 24 7 11 6-20 6 11 6-14 7 5 6-9 6 7 6 1 7 1 6 13 6 2 7-44 6 14 6 8 6-2 5 9-6-39-6 44-7-49-6 52-6 12-6-16-7-25-6 39-6-20-7-1-6-6-6 8-6 21-7-4-6-21-6 29-7 2-6-18-6-1-6-4-7 27-6 22-6-20-6-9-7-16-6 14-6-5-7 4-6 15-6-11-6 21-7-21-6 15-6 31-6-6-7-16-6-2-6-27-7 57-6-33-6 27-6 11-7-10-6-10-6 31-7-37-6 25z"/><path class="k1" d="M1308 743l7 25-5-4-7-1zM1239 772l6 18-4-56-7 65zM1195 771l7 16-5 2-7-8zM1145 803l6-15-4-23-7 29zM1126 812l7 16-5-56-7 24z"/><path class="k2" d="M1346 725l6 39-5-9-6 2zM1333 720l7 49-5-20-6-14zM1151 788l7 21-5 4-6-48zM1114 783l6 27-5-5-6-3z"/><path class="k0" d="M1057 844l6-25 7 37 6-31 6 10 7 10 6-11 6-27 6 33 7-57 6 27 6 2 7 16 6 6 6-31 6-15 7 21 6-21 6 11 6-15 7-4 6 5 6-14 7 16 6 9 6 20 6-22 7-27 6 4 6 1 6 18 7-2 6-29 6 21 7 4 6-21 6-8 6 6 7 1 6 20 6-39 7 25 6 16 6-12 6-52 7 49 6-44 6 39 5 9-6-6-7-5-6-4-6-15-6 49-7-46-6 35-6 10-7 5-6-42-6-28-6 53-7-16-6 44-6-15-6-21-7 16-6-10-6 12-7 29-6-24-6-28-6 10-7 39-6-35-6 7-6 1-7 10-6-12-6 68-7-54-6-3-6 3-6 19-7-24-6-6-6 40-7 12-6-40-6 1-6 33-7-15-6 32-6-37-6-2-7 68-6-57z"/><path class="k1" d="M1338 758l6 4-4 7-7-49zM1332 743l6 15-5-38-6 52zM1282 779l6-53-5 29-6 8zM1219 766l6 28-5 0-6 22zM1213 776l6-10-5 50-6-20zM1200 780l6 35-4-28-7-16zM1131 789l6 6-4 33-7-16zM1112 801l6 40-4-58-7 57zM1106 802l6-1-5 39-6-33z"/><path class="k4" d="M1288 726l6 28-5 7-6-6z"/></g>
<path d="M836.8 577.6L836.8 805.3L1062 909L1357 829.7" stroke="#262626" stroke-width="2.2" fill="none" stroke-linejoin="miter"/><path d="M836.8 780l-8 -3M836.8 729.4l-8 -3M836.8 678.8l-8 -3M836.8 628.2l-8 -3M836.8 577.6l-8 -3M1007.8 884.1l-7.5 2.2M1132.9 889.9l7.6 3.6M950.8 857.8l-7.5 2.2M1207.6 869.8l7.6 3.6M893.8 831.5l-7.5 2.2M1282.3 849.8l7.6 3.6M836.8 805.3l-7.5 2.2M1357 829.7l7.6 3.6" stroke="#262626" stroke-width="1.9" fill="none"/>
<text class="ls" x="821.2" y="781.3" font-size="27.7" text-anchor="end" fill="#262626">-2</text>
<text class="ls" x="821.2" y="730.7" font-size="27.7" text-anchor="end" fill="#262626">0</text>
<text class="ls" x="821.2" y="680.1" font-size="27.7" text-anchor="end" fill="#262626">2</text>
<text class="ls" x="821.2" y="629.5" font-size="27.7" text-anchor="end" fill="#262626">4</text>
<text class="ls" x="821.2" y="578.9" font-size="27.7" text-anchor="end" fill="#262626">6</text>
<text class="ls" x="805" y="830.5" font-size="27.7" text-anchor="middle" fill="#262626">80</text>
<text class="ls" x="862" y="857.2" font-size="27.7" text-anchor="middle" fill="#262626">60</text>
<text class="ls" x="918.8" y="883.6" font-size="27.7" text-anchor="middle" fill="#262626">40</text>
<text class="ls" x="976" y="910" font-size="27.7" text-anchor="middle" fill="#262626">20</text>
<text class="ls" x="1163.4" y="918" font-size="27.7" text-anchor="middle" fill="#262626">20</text>
<text class="ls" x="1237.5" y="897.6" font-size="27.7" text-anchor="middle" fill="#262626">40</text>
<text class="ls" x="1312.3" y="877.1" font-size="27.7" text-anchor="middle" fill="#262626">60</text>
<text class="ls" x="1386.4" y="857.4" font-size="27.7" text-anchor="middle" fill="#262626">80</text>
<text class="ls" y="546.8" fill="#262626"><tspan x="760" dy="3.4" font-size="31">×</tspan><tspan x="781.2" dy="-3.4" font-size="27.7">10</tspan><tspan x="812.8" dy="-14.3" font-size="23.5">-3</tspan></text>
<text class="se" x="924" y="951" font-size="31" text-anchor="middle" fill="#262626">η</text>
<text class="se" x="1217" y="955" font-size="31" text-anchor="middle" fill="#262626">ξ</text>
<text class="ls" transform="translate(783.8 692) rotate(-90)" font-size="30.5" text-anchor="middle" fill="#262626">CC Y-Ch</text>
<text class="ls" x="952.4" y="454.1" font-size="25.4" fill="#111">YFP-PYR<tspan dy="-9.1" dx="0.4" font-size="25.4">Mandi</tspan><tspan dy="9.1" dx="1"> vs. mCherry-ABI</tspan></text>
<path d="M1546.3 780L1841.3 700.7M1841.3 700.7L2066.5 804.4M1546.3 729.4L1841.3 650.1M1841.3 650.1L2066.5 753.8M1546.3 678.8L1841.3 599.5M1841.3 599.5L2066.5 703.2M1546.3 628.2L1841.3 548.9M1841.3 548.9L2066.5 652.6M1546.3 577.6L1841.3 498.3M1841.3 498.3L2066.5 602M1617.2 786.2L1617.2 558.5M2012.3 804.7L2012.3 577M1842.4 889.9L1617.2 786.2M1717.3 884.1L2012.3 804.7M1691.9 766.1L1691.9 538.4M1955.3 778.5L1955.3 550.8M1917.1 869.8L1691.9 766.1M1660.3 857.8L1955.3 778.5M1766.6 746L1766.6 518.3M1898.3 752.2L1898.3 524.5M1991.8 849.8L1766.6 746M1603.3 831.5L1898.3 752.2M1841.3 726L1841.3 498.3M1546.3 805.3L1841.3 726M1841.3 726L2066.5 829.7" stroke="#d3d3d3" stroke-width="1.6" fill="none"/>
<g stroke-width="0.6" stroke-linejoin="round"><path class="k0" d="M1546 729l7 11 6-5 6-9 6-25 7 13 6 31 6-15 6 13 7-62 6 34 6-26 7 27 6-9 6-4 6-8 7-7 6-12 6 33 7 12 6-33 6-2 6-3 7-17 6 14 6 30 6-23 7-10 6-11 6 8 7-19 6 31 6-40 6 22 7 31 6-59 6 53 6-50 7 36 6-31 6 25 7-30 6 16 6-40 6 4 7 16 6-5 6-2 5 37-6-24-7 15-6-28-6 39-6-18-7 12-6-14-6 15-6 2-7-15-6 42-6-17-7-7-6 9-6 30-6-18-7-15-6 20-6-2-6-2-7 8-6 17-6-67-7 41-6 41-6-39-6 30-7-38-6 1-6 9-7 23-6 7-6-1-6-4-7-34-6 31-6 16-6-5-7-14-6 18-6-26-7-29-6 73-6-33-6 26-7-38-6 43z"/><path class="k1" d="M1815 653l6 18-5-52-6 40zM1783 653l7 15-5 11-7-36zM1695 692l7-41-5 29-6-14zM1626 687l7 34-5-14-6 9zM1601 715l7 14-5-48-7 62zM1557 706l7 38-5-9-6 5z"/><path class="k2" d="M1827 632l6 28-4-21-7-16z"/><path class="k3" d="M1702 651l6 67-5-8-6-30z"/><path class="k4" d="M1582 678l7 29-5 38-6-31z"/><path class="k0" d="M1551 749l6-43 7 38 6-26 6 33 6-73 7 29 6 26 6-18 7 14 6 5 6-16 6-31 7 34 6 4 6 1 6-7 7-23 6-9 6-1 7 38 6-30 6 39 6-41 7-41 6 67 6-17 7-8 6 2 6 2 6-20 7 15 6 18 6-30 6-9 7 7 6 17 6-42 7 15 6-2 6-15 6 14 7-12 6 18 6-39 6 28 7-15 6 24 5 17-6-51-7 33-6-14-6-19-7 25-6 9-6 2-6-1-7 8-6 1-6-12-6 36-7-51-6 42-6-22-7 19-6-40-6 11-6-3-7 21-6 1-6 12-7 19-6-14-6-15-6 5-7 16-6-6-6 21-6-41-7 61-6-41-6 17-7 1-6-18-6 28-6-10-7 1-6-2-6-4-6 29-7-7-6-23-6 26-7-22-6 9-6 12z"/><path class="k1" d="M1845 635l6 51-5-17-6-24zM1826 635l6 19-5-22-6 39zM1769 652l7 51-5-25-7-7zM1725 680l7-21-5 36-6-2zM1700 698l6 14-4-61-7 41zM1631 698l6 18-4 5-7-34zM1587 733l7 7-5-33-7-29z"/><path class="k2" d="M1744 651l6 40-4 1-7-15zM1738 662l6-11-5 26-6 20zM1732 659l6 3-5 35-6-2zM1663 678l6 41-5-32-6 9zM1581 710l6 23-5-55-6 73z"/><path class="k0" d="M1556 735l6-12 6-9 7 22 6-26 6 23 7 7 6-29 6 4 6 2 7-1 6 10 6-28 6 18 7-1 6-17 6 41 7-61 6 41 6-21 6 6 7-16 6-5 6 15 6 14 7-19 6-12 6-1 7-21 6 3 6-11 6 40 7-19 6 22 6-42 7 51 6-36 6 12 6-1 7-8 6 1 6-2 6-9 7-25 6 19 6 14 7-33 6 51 5-5-7-27-6 52-6-40-6 24-7-15-6 16-6-17-7 9-6-11-6 9-6 31-7-15-6-41-6 23-7 8-6-25-6-10-6 29-7-6-6 12-6 46-6-30-7 2-6 7-6-8-7-25-6 35-6-38-6 14-7 38-6-25-6-33-6 38-7 17-6-55-6 17-7 20-6 14-6-6-6 13-7-9-6 51-6-58-7 14-6-3-6-21-6 0z"/><path class="k1" d="M1774 656l6 41-4 6-7-51zM1755 662l6 25-4-15-7 19zM1743 681l6-29-5-1-6 11zM1736 675l7 6-5-19-6-3zM1692 679l7 25-5-21-6 5zM1674 690l6-14-5 22-6 21zM1649 708l6-38-5 28-6 17zM1623 707l7-20-5 39-6-10zM1586 712l6 58-5-37-6-23z"/><path class="k2" d="M1749 652l6 10-5 29-6-40zM1680 676l6 38-5-10-6-6zM1567 702l6 21-5-9-6 9zM1561 702l6 0-5 21-6 12z"/><path class="k3" d="M1655 670l6 33-5 36-6-41zM1630 687l6-17-5 28-6 28z"/><path class="k4" d="M1636 670l6 55-5-9-6-18z"/><path class="k0" d="M1561 702l6 0 6 21 6 3 7-14 6 58 6-51 7 9 6-13 6 6 6-14 7-20 6-17 6 55 7-17 6-38 6 33 6 25 7-38 6-14 6 38 6-35 7 25 6 8 6-7 7-2 6 30 6-46 6-12 7 6 6-29 6 10 6 25 7-8 6-23 6 41 7 15 6-31 6-9 6 11 7-9 6 17 6-16 7 15 6-24 6 40 6-52 7 27 4-24-6 29-6-21-6 23-7-23-6 2-6-14-7 35-6-31-6 32-6-37-7 16-6-6-6 13-6-22-7 33-6-46-6 45-7 24-6-26-6-16-6 33-7-12-6 2-6-19-6 41-7-25-6 24-6-50-7 41-6 29-6 13-6-39-7 15-6-24-6 17-7-39-6 44-6-7-6-3-7 42-6-6-6-22-6 45-7-29-6 9-6-26-7 24z"/><path class="k1" d="M1798 652l6 37-5-17-6 9zM1785 662l6 6-4 44-7-15zM1754 685l6-45-5 22-6-10zM1735 667l6 16-5-8-6 12zM1697 687l7 25-5-8-7-25zM1678 702l7-41-5 15-6 14zM1660 705l6 39-5-41-6-33zM1653 720l7-15-5-35-6 38zM1647 696l6 24-4-12-7 17zM1641 713l6-17-5 29-6-55zM1628 718l6-44-4 13-7 20zM1616 708l6 3-5 10-6-6zM1572 721l6 26-5-24-6-21z"/><path class="k2" d="M1773 653l6 22-5-19-6 23zM1710 671l6 19-5 15-6 7z"/><path class="k4" d="M1760 640l6 46-5 1-6-25zM1685 661l6 50-5 3-6-38zM1634 674l7 39-5-43-6 17z"/><path class="k0" d="M1565 745l7-24 6 26 6-9 7 29 6-45 6 22 6 6 7-42 6 3 6 7 6-44 7 39 6-17 6 24 7-15 6 39 6-13 6-29 7-41 6 50 6-24 7 25 6-41 6 19 6-2 7 12 6-33 6 16 6 26 7-24 6-45 6 46 7-33 6 22 6-13 6 6 7-16 6 37 6-32 6 31 7-35 6 14 6-2 7 23 6-23 6 21 6-29 5 27-6-36-6 4-7 24-6 9-6-7-6-15-7 0-6-21-6 49-7-9-6-13-6 31-6-43-7 13-6 14-6-1-6-11-7 40-6-12-6-8-7 15-6 2-6-5-6 8-7-16-6 12-6 39-7-39-6 27-6-37-6 46-7 7-6-34-6-33-6 34-7-1-6 16-6-22-7 11-6-12-6 21-6 4-7 8-6-22-6-2-6 55-7-28z"/><path class="k1" d="M1796 669l6 13-4-30-7 16zM1784 657l6 43-5-38-6 13zM1777 670l7-13-5 18-6-22zM1765 683l6 1-5 2-6-46zM1708 696l7 16-5-41-6 41zM1689 708l7 39-5-36-6-50zM1646 718l6-34-5 12-6 17zM1639 717l7 1-5-5-7-39zM1633 733l6-16-5-43-6 44zM1614 710l6 12-4-14-7 42zM1583 719l6 2-5 17-6 9z"/><path class="k2" d="M1815 642l6 21-5 25-6-31zM1759 672l6 11-5-43-6 45zM1652 684l6 33-5 3-6-24z"/><path class="k0" d="M1570 746l7 28 6-55 6 2 6 22 7-8 6-4 6-21 6 12 7-11 6 22 6-16 7 1 6-34 6 33 6 34 7-7 6-46 6 37 6-27 7 39 6-39 6-12 7 16 6-8 6 5 6-2 7-15 6 8 6 12 7-40 6 11 6 1 6-14 7-13 6 43 6-31 6 13 7 9 6-49 6 21 7 0 6 15 6 7 6-9 7-24 6-4 6 36 5 25-6-55-7 10-6 6-6 3-6-31-7 35-6-17-6 36-6-49-7 44-6 16-6-23-7 2-6 18-6-32-6 32-7-13-6 5-6-12-7-14-6 46-6-36-6 47-7-29-6 27-6-32-6 31-7-7-6 8-6-22-7 21-6-18-6 25-6-16-7 11-6-8-6 23-6 2-7-22-6 1-6 23-7-18-6 36-6-21-6 9-7-4-6-25z"/><path class="k1" d="M1732 680l6 36-5-9-6 2zM1657 715l6 16-5-14-6-33zM1575 722l6 25-4 27-7-28z"/><path class="k2" d="M1839 642l6 31-5 12-6-7zM1814 647l6 49-5-54-6 49zM1744 670l7 14-5 16-6-8z"/><path class="k0" d="M1575 722l6 25 7 4 6-9 6 21 6-36 7 18 6-23 6-1 7 22 6-2 6-23 6 8 7-11 6 16 6-25 6 18 7-21 6 22 6-8 7 7 6-31 6 32 6-27 7 29 6-47 6 36 6-46 7 14 6 12 6-5 7 13 6-32 6 32 6-18 7-2 6 23 6-16 7-44 6 49 6-36 6 17 7-35 6 31 6-3 6-6 7-10 6 55 5-19-6-30-7 4-6 16-6-14-7 12-6 8-6-27-6 19-7 12-6 7-6-33-7 67-6-11-6 10-6-29-7-15-6-5-6 42-6-9-7-20-6 0-6 8-7 22-6-42-6 30-6 17-7-4-6-45-6 48-6-1-7 11-6-64-6 39-7 24-6 18-6-30-6 18-7-21-6 37-6 20-7-27-6 0-6-11-6 9-7 8-6-21-6 14z"/><path class="k1" d="M1831 659l6 27-5-9-6-17zM1806 664l6 33-5-6-6 16zM1743 694l6 0-5-24-6 46zM1724 682l6 42-4 3-7-29z"/><path class="k2" d="M1699 680l6 45-4-1-7-7zM1668 713l6-39-5 32-6 25z"/><path class="k4" d="M1674 674l6 64-5-14-6-18z"/><path class="k0" d="M1580 751l6-14 6 21 7-8 6-9 6 11 6 0 7 27 6-20 6-37 7 21 6-18 6 30 6-18 7-24 6-39 6 64 7-11 6 1 6-48 6 45 7 4 6-17 6-30 6 42 7-22 6-8 6 0 7 20 6 9 6-42 6 5 7 15 6 29 6-10 6 11 7-67 6 33 6-7 7-12 6-19 6 27 6-8 7-12 6 14 6-16 7-4 6 30 5 6-7-40-6 54-6-29-7-24-6 14-6 27-6-26-7 1-6-10-6 35-6-19-7-13-6-3-6 32-7 23-6-1-6-24-6-31-7 8-6 53-6-14-6-15-7-3-6 55-6-44-7 17-6 7-6 26-6-32-7 36-6 1-6-34-7-18-6 6-6 9-6 10-7 11-6 3-6-15-6 4-7 7-6-1-6-1-7 19-6 9-6-34-6 13z"/><path class="k1" d="M1854 657l7 24-5-1-6-14zM1823 663l6 10-4 5-7 12zM1804 666l7 13-5-15-7 67zM1679 723l6 34-5-19-6-64z"/><path class="k2" d="M1798 663l6 3-5 65-6-11zM1760 670l7-8-5 61-6-9zM1672 705l7 18-5-49-6 39z"/><path class="k3" d="M1767 662l6 31-5-12-6 42z"/><path class="k0" d="M1585 745l6-13 6 34 6-9 7-19 6 1 6 1 7-7 6-4 6 15 6-3 7-11 6-10 6-9 6-6 7 18 6 34 6-1 7-36 6 32 6-26 6-7 7-17 6 44 6-55 7 3 6 15 6 14 6-53 7-8 6 31 6 24 6 1 7-23 6-32 6 3 7 13 6 19 6-35 6 10 7-1 6 26 6-27 6-14 7 24 6 29 6-54 7 40 4-49-6 26-6-19-6 5-7 20-6 1-6 10-7-23-6 9-6-22-6 24-7 32-6-12-6-8-6 6-7-8-6-25-6 81-7-24-6-25-6 19-6-13-7-7-6 23-6-41-7 44-6 4-6 19-6-29-7 9-6 1-6-33-6-11-7 55-6 20-6-32-7-18-6 57-6-18-6-19-7 25-6-15-6-20-6 28-7 12-6-6-6 38-7-24z"/><path class="k1" d="M1872 654l6 19-5-17-6 54zM1866 659l6-5-5 56-6-29zM1822 678l6-24-5 9-6 35zM1765 695l6 25-4-58-7 8zM1677 735l7-55-5 43-7-18zM1658 705l7 18-5-3-6 10zM1621 715l6 20-5 5-6-1z"/><path class="k2" d="M1828 654l6 22-5-3-6-10zM1784 663l6 25-5 30-6-1zM1734 676l6 41-5-26-6 55zM1690 691l6 33-5 32-6 1z"/><path class="k3" d="M1684 680l6 11-5 66-6-34z"/><path class="k0" d="M1589 763l7 24 6-38 6 6 7-12 6-28 6 20 6 15 7-25 6 19 6 18 6-57 7 18 6 32 6-20 7-55 6 11 6 33 6-1 7-9 6 29 6-19 6-4 7-44 6 41 6-23 7 7 6 13 6-19 6 25 7 24 6-81 6 25 7 8 6-6 6 8 6 12 7-32 6-24 6 22 6-9 7 23 6-10 6-1 7-20 6-5 6 19 6-26 5-4-6 29-6 1-7 10-6-24-6 35-6 8-7-16-6-22-6 46-7-25-6 33-6 4-6-45-7 3-6 14-6 1-7 14-6-14-6 11-6 16-7-19-6-2-6 0-6-23-7 19-6 33-6 12-7-28-6 10-6 32-6-16-7-18-6 25-6 5-6-21-7-13-6 14-6 14-7-21-6 17-6-10-6-4-7 8-6 15-6-5-7 0-6 33z"/><path class="k1" d="M1864 659l6 24-4-24-7 20zM1839 664l6 22-5-19-6 9zM1826 685l7 25-5-56-6 24zM1789 695l6-1-5-6-6-25zM1732 697l7-19-5-2-7 44zM1688 722l7 18-5-49-6-11zM1663 718l7 13-5-8-7-18zM1626 728l6 4-5 3-6-20zM1619 736l7-8-5-13-6 28z"/><path class="k2" d="M1739 678l6 23-5 16-6-41z"/><path class="k0" d="M1594 779l6-33 7 0 6 5 6-15 7-8 6 4 6 10 6-17 7 21 6-14 6-14 7 13 6 21 6-5 6-25 7 18 6 16 6-32 6-10 7 28 6-12 6-33 7-19 6 23 6 0 6 2 7 19 6-16 6-11 6 14 7-14 6-1 6-14 7-3 6 45 6-4 6-33 7 25 6-46 6 22 7 16 6-8 6-35 6 24 7-10 6-1 6-29 5 25-6-15-7-5-6 71-6-65-6 41-7-8-6 12-6-9-7 31-6-29-6 8-6-34-7 19-6-6-6-16-6 65-7-49-6 37-6-33-7 58-6-20-6-45-6 11-7 43-6-20-6 2-6 11-7-17-6-23-6 35-7-12-6 47-6-27-6 14-7-16-6 26-6-30-7-6-6 29-6 5-6-20-7 5-6 8-6 6-6-2-7-7-6 8z"/><path class="k1" d="M1888 653l6 15-5-25-6 29zM1812 685l7-19-5 56-6-45zM1806 679l6 6-4-8-7 3zM1787 679l7 49-5-33-7 14zM1775 683l6 33-5-21-6 11zM1737 710l6 20-4-52-7 19zM1706 718l6-35-5 41-6 32zM1699 706l7 12-5 38-6-16zM1655 714l7 6-5 12-6 14z"/><path class="k2" d="M1881 648l7 5-5 19-6 1zM1869 654l6 65-5-36-6-24zM1819 666l6 34-5 18-6 4zM1756 676l6 45-5-18-6-2zM1750 687l6-11-5 25-6 0z"/><path class="k3" d="M1800 663l6 16-5 1-6 14zM1712 683l6 23-5 8-6 10z"/><path class="k0" d="M1599 746l6-8 7 7 6 2 6-6 6-8 7-5 6 20 6-5 6-29 7 6 6 30 6-26 7 16 6-14 6 27 6-47 7 12 6-35 6 23 7 17 6-11 6-2 6 20 7-43 6-11 6 45 6 20 7-58 6 33 6-37 7 49 6-65 6 16 6 6 7-19 6 34 6-8 6 29 7-31 6 9 6-12 7 8 6-41 6 65 6-71 7 5 6 15 5-6-7 20-6 2-6-21-6 24-7-19-6 4-6 11-6 23-7-58-6 35-6 34-7-17-6-4-6 36-6-15-7-6-6-9-6-5-6-1-7-7-6 45-6-27-7 26-6-19-6 8-6 12-7-18-6 22-6-44-7 53-6-25-6 12-6 5-7 14-6-12-6 26-6-44-7 23-6-20-6 14-7-1-6-15-6 52-6-41-7 34-6-28-6 5z"/><path class="k1" d="M1880 663l6 21-5-36-6 71zM1867 668l7 19-5-33-6 41zM1786 697l6 5-5-23-6 37zM1780 696l6 1-5 19-6-33zM1773 689l7 7-5-13-7 58zM1761 707l6 27-5-13-6-45zM1654 726l6 20-5-32-6 29zM1635 724l6 15-4-11-7 5z"/><path class="k2" d="M1836 683l6-35-5 73-6-29z"/><path class="k3" d="M1842 648l7 58-5-16-7 31zM1717 694l6 44-5-32-6-23z"/><path class="k0" d="M1604 746l6-5 6 28 7-34 6 41 6-52 6 15 7 1 6-14 6 20 7-23 6 44 6-26 6 12 7-14 6-5 6-12 6 25 7-53 6 44 6-22 7 18 6-12 6-8 6 19 7-26 6 27 6-45 7 7 6 1 6 5 6 9 7 6 6 15 6-36 6 4 7 17 6-34 6-35 7 58 6-23 6-11 6-4 7 19 6-24 6 21 6-2 7-20 5 11-7 11-6 28-6-27-7-13-6-1-6 23-6-7-7 36-6-38-6 21-6-31-7 39-6-44-6 20-7 1-6 12-6 14-6-2-7 3-6-13-6 9-7-7-6-1-6-7-6 15-7-23-6 34-6 6-6 17-7 0-6-22-6-19-7 38-6-14-6 10-6-4-7 20-6-26-6-3-6 15-7-12-6 64-6-65-7 33-6-3-6 10-6-16z"/><path class="k1" d="M1835 675l6 31-5-23-6 34zM1816 690l6-20-5 26-6 36zM1753 699l6 7-5 27-6-19zM1703 707l6 19-5-4-6 12zM1646 731l7 12-5-3-7-1zM1634 730l6 65-5-71-6 52z"/><path class="k2" d="M1847 685l6 38-4-17-7-58zM1822 670l6 44-5-14-6-4zM1740 691l7 23-5 8-6 12z"/><path class="k0" d="M1609 754l6 16 6-10 6 3 7-33 6 65 6-64 7 12 6-15 6 3 6 26 7-20 6 4 6-10 6 14 7-38 6 19 6 22 7 0 6-17 6-6 6-34 7 23 6-15 6 7 6 1 7 7 6-9 6 13 7-3 6 2 6-14 6-12 7-1 6-20 6 44 7-39 6 31 6-21 6 38 7-36 6 7 6-23 6 1 7 13 6 27 6-28 7-11 4 21-6-17-6 40-6-26-7-8-6 18-6-26-7 29-6 24-6-36-6 5-7 13-6-11-6 7-7-24-6 29-6 6-6-48-7 52-6-3-6 19-6-30-7 16-6-1-6-19-7 22-6 14-6 5-6 9-7-61-6 30-6 23-6 4-7 17-6-25-6 14-7-12-6 29-6-4-6-62-7 56-6-26-6-3-7 27-6-5-6 30-6-5-7-11z"/><path class="k1" d="M1758 703l6 19-5-16-6-7zM1720 722l6-30-4 56-7 0zM1645 733l6 3-5-5-6 64z"/><path class="k2" d="M1820 682l7 24-5-36-6 20z"/><path class="k3" d="M1802 669l6 48-5-14-6 14zM1726 692l7 61-5-22-6 17zM1664 706l6 62-5-37-6-3z"/><path class="k0" d="M1613 769l7 11 6 5 6-30 6 5 7-27 6 3 6 26 7-56 6 62 6 4 6-29 7 12 6-14 6 25 7-17 6-4 6-23 6-30 7 61 6-9 6-5 6-14 7-22 6 19 6 1 7-16 6 30 6-19 6 3 7-52 6 48 6-6 6-29 7 24 6-7 6 11 7-13 6-5 6 36 6-24 7-29 6 26 6-18 7 8 6 26 6-40 6 17 5-14-6-7-6 18-7-8-6-20-6 43-7-5-6 29-6-62-6 18-7 27-6 12-6-30-6 44-7-50-6 23-6 1-7 17-6-2-6-6-6-5-7 10-6-1-6-3-6-16-7 46-6-30-6 0-7-11-6 33-6 9-6-26-7 46-6-38-6-9-7-4-6 35-6-27-6-8-7 62-6-35-6-29-6 21-7 15-6-20-6 6-7 3-6 28z"/><path class="k1" d="M1857 686l6-18-5 60-6-36zM1825 689l7 50-5-33-7-24zM1763 707l6 16-5-1-6-19zM1737 712l7 11-5 21-6 9zM1693 723l7 4-5 14-6 14zM1675 723l6 8-5 41-6-4zM1662 750l6 35-4-79-7 56zM1650 742l6-21-5 15-6-3zM1637 737l6 20-5 3-6-5zM1631 743l6-6-5 18-6 30z"/><path class="k2" d="M1888 663l6 20-4 8-7-8zM1863 668l6 62-5-26-6 24zM1656 721l6 29-5 12-6-26z"/><path class="k0" d="M1618 774l6-28 7-3 6-6 6 20 7-15 6-21 6 29 6 35 7-62 6 8 6 27 6-35 7 4 6 9 6 38 7-46 6 26 6-9 6-33 7 11 6 0 6 30 7-46 6 16 6 3 6 1 7-10 6 5 6 6 6 2 7-17 6-1 6-23 7 50 6-44 6 30 6-12 7-27 6-18 6 62 6-29 7 5 6-43 6 20 7 8 6-18 6 7 5-3-6 24-7-24-6-22-6 50-6-5-7 12-6-26-6 21-7-15-6 14-6-3-6-43-7 76-6-29-6-23-6 47-7-28-6 13-6 5-7 7-6-13-6 17-6-20-7-11-6 15-6 2-7 7-6 2-6 18-6-17-7 28-6 0-6-11-6-13-7 9-6 9-6 24-7-28-6-16-6 41-6 1-7 10-6 11-6-14-7-2-6-6-6-41z"/><path class="k1" d="M1861 692l7 15-5-39-6 18zM1767 701l7 11-5 11-6-16zM1761 716l6-15-4 6-7 46zM1673 730l6 16-4-23-7 62z"/><path class="k2" d="M1824 684l6 23-5-18-6 23zM1623 730l6 41-5-25-6 28z"/><path class="k3" d="M1899 655l6 22-4 14-7-8z"/><path class="k4" d="M1843 660l6 43-5 22-6-30z"/><path class="k0" d="M1623 730l6 41 6 6 7 2 6 14 6-11 7-10 6-1 6-41 6 16 7 28 6-24 6-9 7-9 6 13 6 11 6 0 7-28 6 17 6-18 6-2 7-7 6-2 6-15 7 11 6 20 6-17 6 13 7-7 6-5 6-13 7 28 6-47 6 23 6 29 7-76 6 43 6 3 6-14 7 15 6-21 6 26 7-12 6 5 6-50 6 22 7 24 6-24 5 12-7-9-6 25-6-47-6 25-7-19-6 12-6 41-6-32-7 31-6-22-6 14-7 14-6 0-6-2-6 9-7-3-6-9-6 0-7-1-6 3-6 20-6-20-7 12-6-26-6 1-6 20-7 7-6-23-6 47-7-20-6 6-6 1-6-9-7 29-6-23-6 46-7-37-6-21-6 33-6-20-7 25-6-20-6-4-6-3-7 16-6 15-6-13z"/><path class="k1" d="M1898 683l6-25-5-3-6 50zM1772 705l6 26-4-19-7-11zM1766 706l6-1-5-4-6 15zM1747 710l6 23-5-8-6 2zM1684 729l6 21-4 24-7-28zM1672 742l6 20-5-32-6 41zM1653 743l6 4-5 35-6 11zM1647 740l6 3-5 50-6-14zM1628 758l6 13-5 0-6-41z"/><path class="k2" d="M1904 658l6 47-5-28-6-22zM1891 664l7 19-5 22-6-5zM1885 676l6-12-4 36-7 12z"/><path class="k0" d="M1628 758l6 13 6-15 7-16 6 3 6 4 6 20 7-25 6 20 6-33 6 21 7 37 6-46 6 23 7-29 6 9 6-1 6-6 7 20 6-47 6 23 7-7 6-20 6-1 6 26 7-12 6 20 6-20 6-3 7 1 6 0 6 9 7 3 6-9 6 2 6 0 7-14 6-14 6 22 7-31 6 32 6-41 6-12 7 19 6-25 6 47 6-25 7 9 5-8-7-3-6 22-6-28-7 28-6-9-6 25-6 4-7-19-6-28-6 31-7 34-6-42-6 5-6 14-7 12-6-2-6 5-6 29-7-26-6-18-6 4-7 0-6 4-6 2-6 25-7-26-6-11-6 30-6 18-7-17-6 29-6-14-7-9-6-30-6 34-6 12-7-1-6-22-6 22-7-13-6 5-6-9-6 31-7-22-6 18-6-18-6 42z"/><path class="k1" d="M1896 691l6 9-4-17-7-19zM1865 704l6-31-5 43-6-22zM1758 713l6 11-4 2-7 7zM1689 743l6 22-5-15-6-21z"/><path class="k2" d="M1909 672l6 28-5 5-6-47zM1871 673l6 28-4-16-7 31zM1714 720l6 30-4-15-7 29z"/><path class="k0" d="M1633 799l6-42 6 18 6-18 7 22 6-31 6 9 6-5 7 13 6-22 6 22 7 1 6-12 6-34 6 30 7 9 6 14 6-29 7 17 6-18 6-30 6 11 7 26 6-25 6-2 6-4 7 0 6-4 6 18 7 26 6-29 6-5 6 2 7-12 6-14 6-5 6 42 7-34 6-31 6 28 7 19 6-4 6-25 6 9 7-28 6 28 6-22 7 3 4 18-6 0-6 30-7-56-6 23-6-17-6 20-7-2-6 10-6 13-6-23-7-13-6 44-6-5-7-2-6-6-6 14-6-26-7 12-6 10-6 20-6-41-7 44-6-40-6 53-7-41-6 31-6-32-6 24-7-9-6 19-6-8-7 3-6-5-6-12-6 3-7 11-6 21-6-20-6-5-7 49-6-29-6 18-7 0-6 10-6-3-6-3-7-37z"/><path class="k1" d="M1913 673l7 56-5-29-6-28zM1901 679l6 17-5 4-6-9zM1870 697l6 23-5-47-6 31zM1826 703l6 26-5-4-6 5zM1801 704l6 41-5-30-6 4zM1788 708l6 40-5-29-6 4zM1763 719l6 32-5-27-6-11zM1719 731l6 12-5 7-6-30zM1713 734l6-3-5-11-6 34zM1688 741l6 5-5-3-6 22zM1637 746l7 37-5-26-6 42z"/><path class="k2" d="M1863 684l7 13-5 7-7 34z"/><path class="k0" d="M1637 746l7 37 6 3 6 3 6-10 7 0 6-18 6 29 7-49 6 5 6 20 6-21 7-11 6-3 6 12 6 5 7-3 6 8 6-19 7 9 6-24 6 32 6-31 7 41 6-53 6 40 7-44 6 41 6-20 6-10 7-12 6 26 6-14 6 6 7 2 6 5 6-44 7 13 6 23 6-13 6-10 7 2 6-20 6 17 6-23 7 56 6-30 6 0 5-26-6 12-6 17-7 4-6-29-6 17-7 5-6-3-6 34-6 12-7-11-6-29-6 12-6 15-7-23-6 18-6-8-7 14-6-24-6 21-6 8-7 0-6-17-6 11-7 19-6-6-6 24-6 4-7 5-6-20-6 6-6-20-7 0-6 26-6-61-7 90-6-37-6-4-6-7-7 38-6-47-6 52-7-25-6-10-6-5-6 33-7-21-6 16z"/><path class="k1" d="M1912 677l6 29-5-33-6 23zM1868 702l6 29-4-34-7-13zM1824 706l6 24-4-27-7 12zM1799 718l6 17-4-31-7 44zM1686 739l6 47-4-45-7 49zM1661 751l6 5-5 23-6 10z"/><path class="k4" d="M1724 706l6 61-5-24-6-12z"/><path class="k0" d="M1642 779l6-16 7 21 6-33 6 5 6 10 7 25 6-52 6 47 7-38 6 7 6 4 6 37 7-90 6 61 6-26 7 0 6 20 6-6 6 20 7-5 6-4 6-24 6 6 7-19 6-11 6 17 7 0 6-8 6-21 6 24 7-14 6 8 6-18 7 23 6-15 6-12 6 29 7 11 6-12 6-34 6 3 7-5 6-17 6 29 7-4 6-17 6-12 5 33-6-1-7-37-6 24-6 1-6-5-7 46-6-17-6-9-7-5-6 53-6-25-6-11-7-6-6-1-6 31-7-38-6 29-6-23-6 13-7-13-6 40-6 8-6-43-7 56-6-8-6 14-7-36-6-9-6 41-6-12-7 19-6-39-6 13-7-22-6-2-6 24-6 20-7 25-6-47-6-13-6 5-7 41-6 15-6-22-7-15-6 25-6 16z"/><path class="k1" d="M1923 692l6-24-4 34-7 4zM1911 688l6 5-5-16-6 17zM1841 706l7 38-5-20-6-8zM1829 712l6 23-5-5-6-24zM1816 712l7 13-5 2-6 8zM1798 717l6 43-5-42-6 11zM1691 741l6 13-5 32-6-47zM1685 746l6-5-5-2-6 52z"/><path class="k2" d="M1929 668l7 37-5-20-6 17zM1728 734l7 22-5 11-6-61zM1722 732l6 2-4-28-7 90z"/><path class="k0" d="M1647 806l6-16 6-25 7 15 6 22 6-15 7-41 6-5 6 13 6 47 7-25 6-20 6-24 6 2 7 22 6-13 6 39 7-19 6 12 6-41 6 9 7 36 6-14 6 8 7-56 6 43 6-8 6-40 7 13 6-13 6 23 6-29 7 38 6-31 6 1 7 6 6 11 6 25 6-53 7 5 6 9 6 17 7-46 6 5 6-1 6-24 7 37 6 1 5 5-7-41-6 31-6-20-6 58-7-45-6 3-6-24-7 39-6-11-6 15-6-17-7 38-6-19-6-22-6 16-7 24-6-7-6 23-7-32-6 14-6 12-6-31-7-1-6 56-6-24-7 13-6-16-6 11-6 31-7-27-6-29-6-4-6 42-7-4-6 6-6-39-7 41-6-6-6-21-6 26-7-48-6 48-6-19-6 39-7-32-6 8-6 8z"/><path class="k1" d="M1896 712l7-39-5 44-6-9zM1878 699l6 17-5 40-6-25zM1853 712l6-16-5 17-6 31zM1809 715l6 31-5 6-6 8zM1802 714l7 1-5 45-6-43zM1752 729l6 29-4 5-7 19zM1702 744l6 21-5 36-6-47zM1683 770l6-48-4 24-7 41zM1677 751l6 19-5 17-6 15z"/><path class="k2" d="M1940 670l7 41-5-5-6-1zM1928 681l6 20-5-33-6 24zM1859 696l6 22-5-4-6-1zM1746 725l6 4-5 53-6-39zM1721 730l6 39-5-37-6 24z"/><path class="k3" d="M1903 673l6 24-5 37-6-17z"/><path class="k4" d="M1689 722l7 48-5-29-6 5z"/><path class="k0" d="M1652 774l6-8 6-8 7 32 6-39 6 19 6-48 7 48 6-26 6 21 6 6 7-41 6 39 6-6 7 4 6-42 6 4 6 29 7 27 6-31 6-11 6 16 7-13 6 24 6-56 7 1 6 31 6-12 6-14 7 32 6-23 6 7 7-24 6-16 6 22 6 19 7-38 6 17 6-15 6 11 7-39 6 24 6-3 7 45 6-58 6 20 6-31 7 41 4-12-6-3-6-15-6 27-7-2-6-2-6 1-6-18-7 35-6-8-6 11-7 19-6-43-6 34-6-9-7-36-6 35-6 9-6-36-7 62-6-40-6 17-7-21-6 39-6-18-6 9-7-7-6 26-6-36-7 53-6-24-6 25-6-28-7-14-6-14-6 8-6 51-7-49-6 32-6-16-7 44-6-39-6-4-6 22-7 0-6-2-6 12-7-3z"/><path class="k1" d="M1945 696l6 3-4 12-7-41zM1876 701l6 43-4-45-7 38zM1851 725l6-35-4 22-7 24zM1813 716l7 21-5 9-6-31zM1776 729l6 36-5-22-6 11zM1744 741l7 14-5-30-6 42z"/><path class="k2" d="M1939 681l6 15-5-26-6 31zM1908 687l6 18-5-8-6-24zM1839 698l6 36-5-5-6 23zM1738 727l6 14-4 26-7-4zM1732 735l6-8-5 36-6 6zM1719 737l7 49-5-56-7 41zM1694 758l6 39-4-27-7-48zM1688 754l6 4-5-36-6 48z"/><path class="k3" d="M1857 690l7 36-5-30-6 16z"/><path class="k0" d="M1656 783l7 3 6-12 6 2 7 0 6-22 6 4 6 39 7-44 6 16 6-32 7 49 6-51 6-8 6 14 7 14 6 28 6-25 6 24 7-53 6 36 6-26 7 7 6-9 6 18 6-39 7 21 6-17 6 40 7-62 6 36 6-9 6-35 7 36 6 9 6-34 6 43 7-19 6-11 6 8 7-35 6 18 6-1 6 2 7 2 6-27 6 15 6 3 5 9-6-7-6 36-7 9-6-5-6-69-6 22-7 27-6 4-6-22-6 26-7-38-6 8-6 21-7 20-6-36-6 3-6-21-7 49-6-42-6 27-7 30-6-30-6 44-6-41-7 10-6 36-6 1-6-65-7 21-6 30-6-10-7-10-6 17-6 20-6 2-7-12-6 23-6-18-7-2-6 24-6-18-6 35-7-39-6 19-6-23-6 31-7 7z"/><path class="k1" d="M1843 735l7-49-5 48-6-36zM1818 720l6 30-4-13-7-21zM1806 723l6 41-5-9-6-18zM1755 736l7 10-5 37-6-28z"/><path class="k2" d="M1919 694l6-22-5 32-6 1zM1887 691l7 38-5-4-7 19zM1881 699l6-8-5 53-6-43zM1862 704l6 36-4-14-7-36zM1856 707l6-3-5-14-6 35zM1831 720l6-27-5 67-6-40z"/><path class="k3" d="M1925 672l6 69-5-35-6-2zM1837 693l6 42-4-37-7 62zM1774 726l7-21-5 24-7 53z"/><path class="k4" d="M1850 686l6 21-5 18-6 9zM1781 705l6 65-5-5-6-36z"/><path class="k0" d="M1661 802l7-7 6-31 6 23 6-19 7 39 6-35 6 18 6-24 7 2 6 18 6-23 7 12 6-2 6-20 6-17 7 10 6 10 6-30 7-21 6 65 6-1 6-36 7-10 6 41 6-44 6 30 7-30 6-27 6 42 7-49 6 21 6-3 6 36 7-20 6-21 6-8 7 38 6-26 6 22 6-4 7-27 6-22 6 69 6 5 7-9 6-36 6 7 5 21-6-25-6 35-7-6-6 7-6 8-7-51-6 0-6 19-6-7-7 22-6 14-6-43-7 38-6-43-6 41-6-38-7 31-6 2-6 6-6-9-7 29-6-31-6 28-7-29-6 21-6 7-6 0-7-23-6 7-6 18-7-3-6-29-6 44-6-28-7 22-6 5-6-8-6 17-7 35-6-36-6-4-7-4-6 18-6 7-6-15-7 22-6-33z"/><path class="k1" d="M1917 697l6 0-4-3-7 27zM1854 731l7-31-5 7-6-21zM1848 733l6-2-4-45-7 49zM1842 739l6-6-5 2-6-42zM1836 730l6 9-5-46-6 27zM1823 728l6 31-5-9-6-30zM1810 727l7 29-5 8-6-41zM1748 741l6 28-5-16-6 20zM1666 767l6 33-4-5-7 7z"/><path class="k2" d="M1923 697l7 51-5-76-6 22zM1886 702l6 43-5-54-6 8zM1873 697l6 43-4-20-7 20zM1861 700l6 38-5-34-6 3zM1785 732l7 23-5 15-6-65zM1779 739l6-7-4-27-7 21zM1760 725l6 29-4-8-7-10z"/><path class="k0" d="M1666 767l6 33 7-22 6 15 6-7 6-18 7 4 6 4 6 36 7-35 6-17 6 8 6-5 7-22 6 28 6-44 6 29 7 3 6-18 6-7 7 23 6 0 6-7 6-21 7 29 6-28 6 31 7-29 6 9 6-6 6-2 7-31 6 38 6-41 6 43 7-38 6 43 6-14 7-22 6 7 6-19 6 0 7 51 6-8 6-7 7 6 6-35 6 25 5-61-6 42-7-10-6 25-6 14-7-32-6 51-6-60-6 24-7-18-6 9-6 1-6 8-7-5-6 20-6-28-7 23-6 17-6-13-6-18-7 29-6-18-6 21-7 4-6 20-6-48-6 44-7-37-6 55-6-46-6 10-7 22-6-22-6 14-7 10-6-27-6 39-6-13-7 29-6-45-6-5-6 1-7-15-6 40-6-18-7 16-6-30-6 17z"/><path class="k1" d="M1960 710l6-42-5 61-6-25zM1922 698l6 60-5-61-6 0zM1909 704l7 18-5-6-6-7zM1884 717l7 5-5-20-7 38zM1865 732l7-23-5 29-6-38zM1847 718l6 18-5-3-6 6zM1809 726l6 48-5-47-6 21zM1796 733l7 37-5-15-6 0zM1784 742l6 46-5-56-6 7zM1765 752l6 22-5-20-6-29zM1746 749l6 27-4-35-7 22zM1715 754l6 5-5 53-6-36zM1709 755l6-1-5 22-6-4zM1696 780l6-40-5 28-6 18zM1690 762l6 18-5 6-6 7z"/><path class="k2" d="M1872 709l6 28-5-40-6 41zM1671 765l6-17-5 52-6-33z"/><path class="k3" d="M1702 740l7 15-5 17-7-4zM1677 748l6 30-4 0-7 22z"/><path class="k0" d="M1671 765l6-17 6 30 7-16 6 18 6-40 7 15 6-1 6 5 6 45 7-29 6 13 6-39 6 27 7-10 6-14 6 22 7-22 6-10 6 46 6-55 7 37 6-44 6 48 6-20 7-4 6-21 6 18 7-29 6 18 6 13 6-17 7-23 6 28 6-20 7 5 6-8 6-1 6-9 7 18 6-24 6 60 6-51 7 32 6-14 6-25 7 10 6-42 5 52-7 10-6-34-6 47-6-36-7 8-6 10-6 26-7-35-6 32-6-30-6 21-7-6-6-11-6-13-7 5-6 45-6 10-6-41-7-6-6-17-6 49-6 1-7-12-6-5-6 33-7-62-6 35-6 38-6-28-7-27-6 31-6 12-6 6-7-37-6 37-6 18-7-14-6-4-6 10-6-23-7 27-6-3-6 27-7-44-6 26-6-20-6 31z"/><path class="k1" d="M1883 709l6 13-5-5-6 20zM1876 714l7-5-5 28-6-28zM1851 722l7 6-5 8-6-18zM1776 758l6-31-4 25-7 22zM1720 763l6 23-5-27-6-5zM1682 776l6 20-5-18-6-30z"/><path class="k2" d="M1801 744l6-35-4 61-7-37zM1782 727l7 27-5-12-6 10zM1757 739l7 37-5-10-7 10z"/><path class="k3" d="M1845 705l6 17-4-4-7 29z"/><path class="k4" d="M1807 709l7 62-5-45-6 44z"/><path class="k0" d="M1676 807l6-31 6 20 6-26 7 44 6-27 6 3 7-27 6 23 6-10 6 4 7 14 6-18 6-37 7 37 6-6 6-12 6-31 7 27 6 28 6-38 6-35 7 62 6-33 6 5 7 12 6-1 6-49 6 17 7 6 6 41 6-10 6-45 7-5 6 13 6 11 7 6 6-21 6 30 6-32 7 35 6-26 6-10 7-8 6 36 6-47 6 34 7-10 4-48-6 37-6 27-6-46-7 30-6 1-6 19-6-5-7 10-6-20-6-21-7 18-6 9-6 39-6-18-7-26-6 26-6 2-7-26-6 6-6 14-6 16-7-3-6-22-6-10-6 0-7 29-6 6-6-13-7 26-6-39-6 4-6 41-7-61-6 50-6-4-7 0-6 16-6-14-6-1-7-18-6 31-6-15-6 46-7-9-6-7-6-1-7-4z"/><path class="k1" d="M1969 709l6-37-4 48-7 10zM1913 704l6 21-5 23-6-30zM1881 726l7 26-5-43-7 5zM1850 748l6-14-5-12-6-17zM1825 729l6 10-5 4-6-5zM1819 729l6 0-5 9-6 33zM1812 758l7-29-5 42-7-62zM1806 764l6-6-5-49-6 35zM1762 772l6-50-4 54-7-37z"/><path class="k2" d="M1957 690l6 46-5-40-6 47zM1787 738l6 39-4-23-7-27zM1781 742l6-4-5-11-6 31zM1724 751l7 18-5 17-6-23z"/><path class="k4" d="M1768 722l7 61-5-13-6 6z"/><path class="k0" d="M1680 792l7 4 6 1 6 7 7 9 6-46 6 15 6-31 7 18 6 1 6 14 6-16 7 0 6 4 6-50 7 61 6-41 6-4 6 39 7-26 6 13 6-6 7-29 6 0 6 10 6 22 7 3 6-16 6-14 6-6 7 26 6-2 6-26 7 26 6 18 6-39 6-9 7-18 6 21 6 20 7-10 6 5 6-19 6-1 7-30 6 46 6-27 6-37 5 34-6 23-6-25-7 1-6-8-6 62-6-30-7-7-6-20-6 34-7 6-6-13-6-9-6 26-7-8-6-10-6 14-6 31-7-42-6 26-6-2-7-4-6-2-6 13-6-15-7-1-6 0-6 5-7 8-6-14-6 47-6-25-7 14-6-38-6 41-6-26-7 7-6 31-6-27-7-12-6 32-6 4-6-13-7 14-6 14-6-26-6 13-7-13z"/><path class="k1" d="M1961 705l7-1-5 32-6-46zM1955 697l6 8-4-15-7 30zM1930 702l6 20-4 13-7 10zM1823 746l7 1-5-18-6 0zM1817 746l6 0-4-17-7 29zM1798 745l6 14-4-8-7 26zM1735 757l7 12-5 1-6-1z"/><path class="k3" d="M1773 743l6 38-4 2-7-61z"/><path class="k0" d="M1685 782l7 13 6-13 6 26 6-14 7-14 6 13 6-4 6-32 7 12 6 27 6-31 7-7 6 26 6-41 6 38 7-14 6 25 6-47 6 14 7-8 6-5 6 0 7 1 6 15 6-13 6 2 7 4 6 2 6-26 7 42 6-31 6-14 6 10 7 8 6-26 6 9 6 13 7-6 6-34 6 20 7 7 6 30 6-62 6 8 7-1 6 25 6-23 5 8-6-5-7 10-6-1-6 13-6-4-7 35-6 11-6-44-6 25-7-26-6 25-6-31-7 15-6 18-6-31-6 11-7 13-6 9-6-16-7-14-6 15-6-20-6 15-7 40-6-17-6-37-6 52-7-29-6 47-6-18-7-16-6-25-6 47-6 26-7 4-6-51-6 35-6 31-7-53-6 7-6-9-7-20-6 36-6 17-6-32-7 5-6-21z"/><path class="k1" d="M1891 724l6 31-5-17-6-10zM1859 727l7 14-5 16-6-2zM1841 737l6-15-5 27-6 13zM1809 746l7 29-5-24-7 8zM1759 760l6 51-4-53-7 7zM1715 787l6-36-4 29-7 14zM1703 772l6 32-5 4-6-26zM1696 777l7-5-5 10-6 13z"/><path class="k2" d="M1847 722l6 20-5 9-6-2z"/><path class="k3" d="M1822 723l6 37-5-14-6 0zM1784 734l6 25-4 8-7 14zM1721 751l7 20-5 22-6-13zM1690 756l6 21-4 18-7-13z"/><path class="k0" d="M1690 756l6 21 7-5 6 32 6-17 6-36 7 20 6 9 6-7 7 53 6-31 6-35 6 51 7-4 6-26 6-47 6 25 7 16 6 18 6-47 7 29 6-52 6 37 6 17 7-40 6-15 6 20 6-15 7 14 6 16 6-9 7-13 6-11 6 31 6-18 7-15 6 31 6-25 7 26 6-25 6 44 6-11 7-35 6 4 6-13 6 1 7-10 6 5 5-11-6 27-7 3-6-36-6 28-7-41-6 66-6-44-6 37-7 10-6-6-6-17-7-30-6 31-6-5-6 37-7-15-6 0-6 19-6-24-7-7-6 23-6 0-7-20-6 30-6-35-6 50-7-30-6-8-6 17-6-8-7-5-6 10-6 18-7-2-6-12-6 26-6 12-7-10-6-4-6 17-7-8-6 12-6 8-6-38-7 22-6-13-6 7z"/><path class="k1" d="M1946 706l6 44-5 12-6 11zM1908 731l6-31-4 22-7 15zM1864 736l7 7-5-2-7-14zM1845 739l7 20-5-37-6 15zM1820 754l7 30-5-61-6 52zM1814 746l6 8-4 21-7-29zM1795 750l7 5-5 20-7-16zM1789 760l6-10-5 9-6-25zM1695 795l6-7-5-11-6-21z"/><path class="k2" d="M1971 697l6 36-5-14-6-1zM1833 734l6 35-5 8-6-17z"/><path class="k3" d="M1958 684l7 41-5 6-6-4zM1914 700l7 30-5 23-6-31z"/><path class="k0" d="M1695 795l6-7 6 13 7-22 6 38 6-8 6-12 7 8 6-17 6 4 7 10 6-12 6-26 6 12 7 2 6-18 6-10 7 5 6 8 6-17 6 8 7 30 6-50 6 35 6-30 7 20 6 0 6-23 7 7 6 24 6-19 6 0 7 15 6-37 6 5 6-31 7 30 6 17 6 6 7-10 6-37 6 44 6-66 7 41 6-28 6 36 7-3 6-27 5 35-7-25-6 19-6-17-7-11-6 35-6 2-6-7-7 23-6-18-6 6-6-9-7 8-6-32-6 33-7 4-6 8-6-17-6 38-7-17-6-51-6 16-6 25-7 34-6-14-6 5-7 32-6-35-6 2-6 0-7 16-6-43-6 13-7-28-6 51-6-10-6-11-7 20-6 7-6 16-6 3-7-27-6 7-6 28-7-27-6 49-6-27-6-18z"/><path class="k1" d="M1976 715l6 17-5 1-6-36zM1969 704l7 11-5-18-6 28zM1919 744l7-8-5-6-7-30zM1857 751l6-25-5 33-6 0zM1800 748l6 43-4-36-7-5zM1794 761l6-13-5 2-6 10zM1781 784l6-51-4 45-7-2zM1769 763l6 11-5-10-6 26z"/><path class="k2" d="M1913 712l6 32-5-44-6 31z"/><path class="k3" d="M1869 710l6 51-4-18-7-7zM1863 726l6-16-5 26-6 23zM1787 733l7 28-5-1-6 18z"/><path class="k0" d="M1700 794l6 18 6 27 6-49 7 27 6-28 6-7 7 27 6-3 6-16 6-7 7-20 6 11 6 10 6-51 7 28 6-13 6 43 7-16 6 0 6-2 6 35 7-32 6-5 6 14 7-34 6-25 6-16 6 51 7 17 6-38 6 17 6-8 7-4 6-33 6 32 7-8 6 9 6-6 6 18 7-23 6 7 6-2 6-35 7 11 6 17 6-19 7 25 4-26-6 26-6-52-6 35-7 18-6-7-6-29-7 12-6 3-6 10-6 28-7-45-6 50-6-4-6-11-7 48-6-46-6 5-7 1-6 14-6-13-6-21-7-10-6 36-6-12-7-14-6 27-6 41-6-23-7 20-6-24-6 5-6-43-7 39-6 29-6-6-7-15-6 21-6-14-6-34-7 45-6-26-6 23-6-13-7 8-6 3-6 39-7-50z"/><path class="k1" d="M1981 721l6-35-5 46-6-17zM1955 715l7-12-5 38-6-7zM1949 718l6-3-4 19-7 23zM1874 755l6 13-5-7-6-51zM1855 760l6-36-4 27-7 34zM1836 761l6-27-4 42-7 32zM1792 776l7-39-5 24-7-28z"/><path class="k2" d="M1962 703l6 29-5 7-6 2zM1930 711l7 45-5-11-6-9zM1868 734l6 21-5-45-6 16zM1842 734l7 14-5 23-6 5zM1755 757l6 34-5-1-6 16z"/><path class="k3" d="M1987 686l6 52-5-25-6 19zM1861 724l7 10-5-8-6 25zM1799 737l6 43-5-32-6 13z"/><path class="k0" d="M1704 786l7 50 6-39 6-3 7-8 6 13 6-23 6 26 7-45 6 34 6 14 6-21 7 15 6 6 6-29 7-39 6 43 6-5 6 24 7-20 6 23 6-41 6-27 7 14 6 12 6-36 7 10 6 21 6 13 6-14 7-1 6-5 6 46 7-48 6 11 6 4 6-50 7 45 6-28 6-10 6-3 7-12 6 29 6 7 7-18 6-35 6 52 6-26 5-21-6 23-6 7-7-12-6 41-6-35-6 0-7 15-6 23-6-6-7-25-6 7-6 8-6 14-7 19-6 7-6-2-7 15-6-46-6 15-6 15-7-24-6 0-6 9-6-6-7 44-6-6-6-33-7 51-6-21-6-29-6-24-7 38-6-1-6-9-6-13-7 35-6 5-6-4-7-19-6 11-6-12-6 36-7-50-6 60-6-12-7 11-6-2z"/><path class="k1" d="M1998 714l6-23-5 21-6 26zM1992 721l6-7-5 24-6-52zM1973 715l6 35-5-11-6-7zM1967 715l6 0-5 17-6-29zM1960 730l7-15-5-12-7 12zM1941 722l7 25-5-19-6 28zM1935 729l6-7-4 34-7-45zM1929 737l6-8-5-18-6 50zM1872 750l7 24-5-19-6-21zM1866 750l6 0-4-16-7-10zM1860 759l6-9-5-26-6 36zM1803 773l7-38-5 45-6-43zM1797 772l6 1-4-36-7 39zM1791 763l6 9-5 4-6 29zM1778 785l7-35-5 49-7-15zM1753 778l6-11-4-10-7 45z"/><path class="k2" d="M1985 709l7 12-5-35-6 35zM1785 750l6 13-5 42-6-6zM1759 767l7 19-5 5-6-34zM1747 766l6 12-5 24-6-26z"/><path class="k3" d="M1810 735l6 24-5 16-6 5z"/><path class="k4" d="M1734 752l7 50-5-3-6-13z"/><path class="k0" d="M1709 809l6 2 7-11 6 12 6-60 7 50 6-36 6 12 6-11 7 19 6 4 6-5 7-35 6 13 6 9 6 1 7-38 6 24 6 29 6 21 7-51 6 33 6 6 7-44 6 6 6-9 6 0 7 24 6-15 6-15 6 46 7-15 6 2 6-7 7-19 6-14 6-8 6-7 7 25 6 6 6-23 7-15 6 0 6 35 6-41 7 12 6-7 6-23 5 60-6-37-7 11-6 19-6-7-6-34-7 25-6-2-6 10-7-11-6 4-6 21-6-17-7 7-6-3-6 34-6-6-7-1-6 15-6-19-7-7-6 32-6-11-6-17-7 11-6-22-6 14-6 18-7-25-6 33-6-22-7 23-6 23-6-37-6 12-7-18-6 31-6 19-7-14-6-7-6 17-6-13-7 17-6 2-6-8-6 25-7-22-6-18z"/><path class="k1" d="M2003 714l6 37-5-60-6 23zM1971 728l7-25-5 12-6 0zM1952 725l7 11-5 17-6-6zM1946 729l6-4-4 22-7-25zM1852 746l6 22-4-15-7 44zM1846 760l6-14-5 51-6-6zM1833 753l7 25-5-20-7 51zM1814 787l7-23-5-5-6-24zM1733 811l6 8-5-67-6 60z"/><path class="k2" d="M1978 703l6 34-5 13-6-35zM1789 767l7 18-5-22-6-13z"/><path class="k0" d="M1714 796l6 18 7 22 6-25 6 8 6-2 7-17 6 13 6-17 6 7 7 14 6-19 6-31 7 18 6-12 6 37 6-23 7-23 6 22 6-33 7 25 6-18 6-14 6 22 7-11 6 17 6 11 6-32 7 7 6 19 6-15 7 1 6 6 6-34 6 3 7-7 6 17 6-21 6-4 7 11 6-10 6 2 7-25 6 34 6 7 6-19 7-11 6 37 5-12-7-3-6 24-6-52-6 38-7-54-6 51-6-43-6 65-7-15-6-23-6 24-7-21-6 33-6 14-6 2-7-6-6-6-6 21-6-30-7-18-6 53-6-24-7-29-6-1-6-3-6 35-7-17-6 38-6 2-7-12-6-17-6 21-6 19-7-24-6 12-6-4-6-2-7 25-6-6-6-23-7-5-6 7-6 16-6-41-7 40-6 16-6 16z"/><path class="k1" d="M1995 708l6 52-5-35-6 19zM1976 743l6-51-4 11-7 25zM1951 727l6 23-5-25-6 4zM1938 730l7 21-5-1-6-17zM1888 740l7 18-5 2-7-7zM1851 771l6-35-5 10-6 14zM1844 754l7 17-5-11-6 18zM1819 765l6 17-4-18-7 23zM1756 778l7 5-5 30-6-13zM1750 785l6-7-4 22-7 17zM1731 800l7-40-5 51-6 25z"/><path class="k2" d="M1869 740l7 29-5 5-6-17zM1863 739l6 1-4 17-7 11zM1857 736l6 3-5 29-6-22z"/><path class="k3" d="M1970 700l6 43-5-15-6-2zM1738 760l6 41-5 18-6-8z"/><path class="k4" d="M1982 692l7 54-5-9-6-34z"/><path class="k0" d="M1719 832l6-16 6-16 7-40 6 41 6-16 6-7 7 5 6 23 6 6 7-25 6 2 6 4 6-12 7 24 6-19 6-21 6 17 7 12 6-2 6-38 7 17 6-35 6 3 6 1 7 29 6 24 6-53 7 18 6 30 6-21 6 6 7 6 6-2 6-14 6-33 7 21 6-24 6 23 7 15 6-65 6 43 6-51 7 54 6-38 6 52 6-24 7 3 5 15-7 25-6-60-6-2-7 8-6 15-6 6-6 11-7 26-6-35-6-8-6-26-7-8-6 47-6 35-7-14-6-44-6 47-6-25-7 14-6 6-6-5-7 14-6-17-6 25-6-30-7 20-6-3-6-29-6 40-7-2-6 6-6-20-7 24-6-10-6 34-6-24-7-3-6-1-6-20-6 20-7-11-6 13-6 17-7 4-6 16-6-27-6 22z"/><path class="k1" d="M2000 717l6 2-5 41-6-52zM1993 725l7-8-5-9-6 38zM1987 740l6-15-4 21-7-54zM1981 746l6-6-5-48-6 51zM1937 753l6-47-5 24-6 33zM1874 764l6 17-4-12-7-29zM1862 759l6 30-5-50-6-3zM1774 771l6 20-5 21-6-6zM1768 791l6-20-5 35-6-23zM1761 780l7 11-5-8-7-5zM1742 814l7-4-5-9-6-41z"/><path class="k2" d="M1918 730l6 44-4 5-7-6zM1843 747l6 29-5-22-6 38z"/><path class="k3" d="M1950 714l6 26-5-13-6 24z"/><path class="k4" d="M1943 706l7 8-5 37-7-21z"/><path class="k0" d="M1724 825l6-22 6 27 6-16 7-4 6-17 6-13 7 11 6-20 6 20 6 1 7 3 6 24 6-34 6 10 7-24 6 20 6-6 7 2 6-40 6 29 6 3 7-20 6 30 6-25 6 17 7-14 6 5 6-6 7-14 6 25 6-47 6 44 7 14 6-35 6-47 7 8 6 26 6 8 6 35 7-26 6-11 6-6 6-15 7-8 6 2 6 60 7-25 4-39-6 16-6 5-6-9-7 24-6-24-6 19-7-9-6 24-6 5-6-25-7 43-6 16-6-34-7-19-6 31-6 0-6-22-7-9-6 50-6-11-6-9-7-21-6-10-6 27-7 22-6-15-6 2-6 2-7-22-6 13-6 10-6 0-7 0-6-9-6-20-7 27-6 5-6 0-6 15-7-12-6 27-6 10-7-9-6 1-6-12-6-7-7 31z"/><path class="k1" d="M1942 766l6 34-5-94-6 47zM1917 756l6 22-5-48-6 47zM1910 747l7 9-5 21-6-25zM1797 783l7-27-5 63-6-24zM1772 791l7 12-5-32-6 20z"/><path class="k2" d="M1879 746l6 10-5 25-6-17zM1841 762l7 22-5-37-6 40z"/><path class="k3" d="M1804 756l6 20-5 9-6 34z"/><path class="k0" d="M1728 832l7-31 6 7 6 12 6-1 7 9 6-10 6-27 7 12 6-15 6 0 6-5 7-27 6 20 6 9 7 0 6 0 6-10 6-13 7 22 6-2 6-2 6 15 7-22 6-27 6 10 7 21 6 9 6 11 6-50 7 9 6 22 6 0 6-31 7 19 6 34 6-16 7-43 6 25 6-5 6-24 7 9 6-19 6 24 7-24 6 9 6-5 6-16 5 25-6-10-6 10-7 0-6-7-6 28-7-1-6-9-6-36-6 54-7 20-6-30-6-13-6 17-7 8-6-7-6-16-7 2-6 27-6-12-6 14-7 31-6-54-6 42-6-17-7 0-6 3-6-35-7 45-6 21-6-54-6 20-7 3-6 0-6 10-7 10-6-21-6 11-6 22-7-14-6 33-6-15-6-4-7-21-6 11-6 11-7-2-6-26z"/><path class="k1" d="M1890 756l6 54-4-33-7-21zM1840 761l6 54-5-53-6 13zM1802 783l6 21-4-48-7 27z"/><path class="k2" d="M1978 715l6 36-5-14-6 24zM1859 749l6 35-5-4-6 2zM1733 789l6 26-4-14-7 31z"/><path class="k0" d="M1733 789l6 26 7 2 6-11 6-11 7 21 6 4 6 15 6-33 7 14 6-22 6-11 6 21 7-10 6-10 6 0 7-3 6-20 6 54 6-21 7-45 6 35 6-3 7 0 6 17 6-42 6 54 7-31 6-14 6 12 6-27 7-2 6 16 6 7 7-8 6-17 6 13 6 30 7-20 6-54 6 36 6 9 7 1 6-28 6 7 7 0 6-10 6 10 5 0-6-3-7-3-6 21-6-31-6 33-7 17-6-20-6-39-7 38-6 20-6-16-6-1-7 13-6 24-6-22-6 19-7 8-6-31-6-7-7-12-6 41-6 10-6-25-7 2-6-7-6 31-7-6-6 16-6 0-6 5-7-38-6 11-6 47-6-13-7-33-6 23-6 1-7-11-6-24-6 29-6-12-7 18-6-18-6 26-6 1-7-43-6 23z"/><path class="k1" d="M2008 724l6 31-5-15-6-7zM1976 753l7-38-5 0-6 54zM1907 748l7 12-5 5-6 14zM1838 777l7 38-5-54-6 20zM1738 802l6-23-5 36-6-26z"/><path class="k2" d="M1788 778l6 24-4 14-7-14z"/><path class="k3" d="M1983 715l6 39-5-3-6-36zM1744 779l7 43-5-5-7-2z"/><path class="k0" d="M1738 802l6-23 7 43 6-1 6-26 6 18 7-18 6 12 6-29 6 24 7 11 6-1 6-23 7 33 6 13 6-47 6-11 7 38 6-5 6 0 6-16 7 6 6-31 6 7 7-2 6 25 6-10 6-41 7 12 6 7 6 31 7-8 6-19 6 22 6-24 7-13 6 1 6 16 6-20 7-38 6 39 6 20 7-17 6-33 6 31 6-21 7 3 6 3 5-26-7 33-6-17-6 18-6-18-7 8-6-15-6 25-6 12-7-6-6-27-6 22-7 12-6 2-6 16-6-39-7 48-6-11-6-29-7 14-6 43-6-51-6-8-7 30-6 15-6-11-6 4-7 14-6-24-6 5-7 30-6-2-6-28-6 6-7-18-6 45-6-14-6 12-7-18-6 12-6-3-7 12-6-14-6 14-6-5-7 23-6-37-6 1z"/><path class="k1" d="M2013 730l6 18-5 7-6-31zM1981 754l7 6-5-45-7 38zM1969 749l6-22-5 46-6-16zM1944 740l6 39-5 14-6-22zM1925 748l6 29-5 21-6-31zM1906 754l6 51-5-57-6 41zM1893 776l7-30-5 53-6-25z"/><path class="k2" d="M2000 723l6 15-4 19-7 17zM1975 727l6 27-5-1-6 20zM1900 746l6 8-5 35-6 10zM1824 767l7 18-5 50-6-13zM1749 794l6 37-4-9-7-43zM1743 795l6-1-5-15-6 23z"/><path class="k0" d="M1743 795l6-1 6 37 7-23 6 5 6-14 6 14 7-12 6 3 6-12 7 18 6-12 6 14 6-45 7 18 6-6 6 28 6 2 7-30 6-5 6 24 7-14 6-4 6 11 6-15 7-30 6 8 6 51 6-43 7-14 6 29 6 11 7-48 6 39 6-16 6-2 7-12 6-22 6 27 7 6 6-12 6-25 6 15 7-8 6 18 6-18 6 17 7-33 5 11-7 14-6-3-6-7-7 26-6 22-6 7-6-20-7-19-6-3-6 45-7-23-6 1-6 20-6-14-7 10-6 24-6-29-6-40-7 53-6-2-6-22-7-31-6 23-6 56-6 4-7-21-6 5-6-35-6-1-7 34-6 1-6-1-7 41-6-17-6 5-6-1-7-32-6 22-6 17-7-24-6 8-6 15-6-35-7 5-6 29-6-2-6-18z"/><path class="k1" d="M2024 729l6 7-5-6-6 18zM1911 765l6 22-5 18-6-51zM1867 766l6 35-5-3-6-24zM1773 798l6 35-5-34-6 14zM1748 812l6 18-5-36-6 1z"/><path class="k2" d="M1898 757l6-23-4 12-7 30zM1861 765l6 1-5 8-6 5z"/><path class="k3" d="M1930 736l6 40-5 1-6-29z"/><path class="k4" d="M1904 734l7 31-5-11-6-8z"/><path class="k0" d="M1748 812l6 18 6 2 6-29 7-5 6 35 6-15 6-8 7 24 6-17 6-22 7 32 6 1 6-5 6 17 7-41 6 1 6-1 7-34 6 1 6 35 6-5 7 21 6-4 6-56 6-23 7 31 6 22 6 2 7-53 6 40 6 29 6-24 7-10 6 14 6-20 6-1 7 23 6-45 6 3 7 19 6 20 6-7 6-22 7-26 6 7 6 3 7-14 4 65-6-47-6 5-7 24-6-18-6 19-6-52-7 31-6 25-6-17-6-16-7 25-6 35-6-28-7-37-6 71-6-45-6 16-7-38-6 29-6-14-6 36-7 8-6-47-6 24-7-3-6 9-6 32-6-49-7 25-6-7-6-10-7 48-6-43-6 48-6-3-7-5-6-18-6 28-6-30-7-13-6 13-6 17-7 8-6-13-6 24-6-7-7-30z"/><path class="k1" d="M2003 752l7-31-5 63-6-20zM1985 744l6 16-5-18-6 45zM1928 772l6-29-4-7-7 53zM1922 758l6 14-5 17-6-2zM1897 779l6-24-5 2-6 56zM1872 768l6 49-5-16-6-35zM1859 786l6 7-4-28-7 34zM1853 776l6 10-5 13-6 1zM1840 781l6 43-4-25-7 41zM1796 788l7 13-5 33-7-24zM1790 801l6-13-5 22-6 8zM1752 800l7 30-5 0-6-18z"/><path class="k2" d="M2010 721l6 52-5 4-6 7zM1959 739l7 37-5 9-6-14zM1934 743l7 38-5-5-6-40z"/><path class="k3" d="M1903 755l6 47-5-68-6 23z"/><path class="k0" d="M1752 800l7 30 6 7 6-24 6 13 7-8 6-17 6-13 7 13 6 30 6-28 6 18 7 5 6 3 6-48 6 43 7-48 6 10 6 7 7-25 6 49 6-32 6-9 7 3 6-24 6 47 7-8 6-36 6 14 6-29 7 38 6-16 6 45 6-71 7 37 6 28 6-35 7-25 6 16 6 17 6-25 7-31 6 52 6-19 6 18 7-24 6-5 6 47 5-43-6-8-6-14-7 6-6 27-6-1-7 6-6-17-6 32-6-18-7-4-6 25-6-20-6-11-7 14-6 3-6 25-7-25-6-11-6 40-6-5-7-6-6-2-6-5-7 5-6 25-6-29-6 19-7-33-6 54-6-35-6 8-7-7-6 43-6-13-7 6-6-1-6 10-6-27-7 6-6 15-6-23-6 7-7 14-6 17-6-10-7 2-6-13z"/><path class="k1" d="M2040 725l6 14-5 4-6 5zM2033 731l7-6-5 23-7 24zM2008 746l6 17-4-42-7 31zM1971 750l6 11-5 43-6-28zM1964 764l7-14-5 26-7-37zM1958 767l6-3-5-25-6 71zM1908 778l6 5-5 19-6-47zM1851 785l7 7-5-16-7 48zM1795 801l6 23-5-36-6 13z"/><path class="k2" d="M1939 756l6 11-4 14-7-38zM1876 765l7 33-5 19-6-49z"/><path class="k0" d="M1757 818l6 13 7-2 6 10 6-17 7-14 6-7 6 23 6-15 7-6 6 27 6-10 6 1 7-6 6 13 6-43 7 7 6-8 6 35 6-54 7 33 6-19 6 29 6-25 7-5 6 5 6 2 7 6 6 5 6-40 6 11 7 25 6-25 6-3 7-14 6 11 6 20 6-25 7 4 6 18 6-32 6 17 7-6 6 1 6-27 7-6 6 14 6 8 5 0-6 15-7 26-6-1-6-46-6 33-7 15-6-23-6-18-7 17-6 5-6-6-6-36-7 35-6 42-6-11-7-37-6 67-6-24-6 0-7-12-6-18-6-3-6 29-7-15-6 51-6-23-7-5-6 0-6-12-6-5-7 10-6-12-6 29-6 0-7-18-6 29-6-30-7 31-6 14-6-39-6 24-7 9-6 18-6-41-7 35-6-27-6 10z"/><path class="k1" d="M2032 741l6 46-5-56-6 27zM1975 763l7-35-5 33-6-11zM1956 757l7 37-5-27-6 25zM1919 767l6 3-5 15-6-2zM1875 792l6 12-5-39-6 54zM1856 785l6 12-4-5-7-7zM1825 795l6 30-5-5-6 10z"/><path class="k3" d="M1982 728l6 36-5 17-6-20z"/><path class="k0" d="M1762 829l6-10 6 27 7-35 6 41 6-18 7-9 6-24 6 39 6-14 7-31 6 30 6-29 7 18 6 0 6-29 6 12 7-10 6 5 6 12 6 0 7 5 6 23 6-51 7 15 6-29 6 3 6 18 7 12 6 0 6 24 6-67 7 37 6 11 6-42 7-35 6 36 6 6 6-5 7-17 6 18 6 23 7-15 6-33 6 46 6 1 7-26 6-15 5-26-7 23-6 19-6 28-6-13-7-20-6 11-6-21-7 25-6-25-6 40-6-20-7-4-6 10-6-18-6 27-7-16-6-1-6-6-7-1-6 13-6 8-6 12-7-7-6 6-6-3-6-7-7 2-6 15-6-23-7 34-6 22-6-38-6-16-7-2-6 18-6 7-7 36-6-18-6-14-6-8-7 19-6 35-6-31-6 14-7 6-6-23-6 1z"/><path class="k1" d="M2055 744l7-23-5 26-6 15zM2005 748l6 25-4-25-7 17zM1986 764l7 4-5-4-6-36zM1980 774l6-10-4-36-7 35zM1974 756l6 18-5-11-6 42zM1949 760l6 6-5 58-6-24zM1942 759l7 1-5 40-6 0zM1936 772l6-13-4 41-7-12zM1880 775l6 23-5 6-6-12zM1842 793l6-18-4 39-7-18zM1811 796l6 8-5 36-6-39z"/><path class="k2" d="M1855 777l6 16-5-8-6 29zM1848 775l7 2-5 37-6 0z"/><path class="k0" d="M1767 817l6-1 6 23 7-6 6-14 6 31 6-35 7-19 6 8 6 14 6 18 7-36 6-7 6-18 7 2 6 16 6 38 6-22 7-34 6 23 6-15 7-2 6 7 6 3 6-6 7 7 6-12 6-8 6-13 7 1 6 6 6 1 7 16 6-27 6 18 6-10 7 4 6 20 6-40 6 25 7-25 6 21 6-11 7 20 6 13 6-28 6-19 7-23 4 19-6 15-6-2-6 36-7-30-6-9-6 37-6-36-7 33-6-22-6 33-7-14-6 9-6 6-6-38-7 11-6 18-6 5-6-4-7 14-6 5-6-35-7 35-6-4-6-14-6 20-7-10-6 14-6 2-7 17-6-48-6-4-6 55-7-57-6 17-6 7-6 12-7-12-6 50-6-31-7-6-6-10-6 23-6-25-7 65-6-42-6 10-6 10z"/><path class="k1" d="M1979 758l6 38-5-22-6-18zM1935 772l6 35-5-35-6 8zM1878 784l6 48-4-57-7 34zM1872 780l6 4-5 25-6 22zM1853 795l6-17-4-1-7-2zM1847 802l6-7-5-20-6 18zM1809 805l6 10-4-19-7 19zM1797 803l6 25-5 22-6-31z"/><path class="k2" d="M1859 778l7 57-5-42-6-16z"/></g>
<path d="M1546.3 577.6L1546.3 805.3L1771.5 909L2066.5 829.7" stroke="#262626" stroke-width="2.2" fill="none" stroke-linejoin="miter"/><path d="M1546.3 780l-8 -3M1546.3 729.4l-8 -3M1546.3 678.8l-8 -3M1546.3 628.2l-8 -3M1546.3 577.6l-8 -3M1717.3 884.1l-7.5 2.2M1842.4 889.9l7.6 3.6M1660.3 857.8l-7.5 2.2M1917.1 869.8l7.6 3.6M1603.3 831.5l-7.5 2.2M1991.8 849.8l7.6 3.6M1546.3 805.3l-7.5 2.2M2066.5 829.7l7.6 3.6" stroke="#262626" stroke-width="1.9" fill="none"/>
<text class="ls" x="1530.7" y="781.3" font-size="27.7" text-anchor="end" fill="#262626">-2</text>
<text class="ls" x="1530.7" y="730.7" font-size="27.7" text-anchor="end" fill="#262626">0</text>
<text class="ls" x="1530.7" y="680.1" font-size="27.7" text-anchor="end" fill="#262626">2</text>
<text class="ls" x="1530.7" y="629.5" font-size="27.7" text-anchor="end" fill="#262626">4</text>
<text class="ls" x="1530.7" y="578.9" font-size="27.7" text-anchor="end" fill="#262626">6</text>
<text class="ls" x="1514.5" y="830.5" font-size="27.7" text-anchor="middle" fill="#262626">80</text>
<text class="ls" x="1571.5" y="857.2" font-size="27.7" text-anchor="middle" fill="#262626">60</text>
<text class="ls" x="1628.3" y="883.6" font-size="27.7" text-anchor="middle" fill="#262626">40</text>
<text class="ls" x="1685.5" y="910" font-size="27.7" text-anchor="middle" fill="#262626">20</text>
<text class="ls" x="1872.9" y="918" font-size="27.7" text-anchor="middle" fill="#262626">20</text>
<text class="ls" x="1947" y="897.6" font-size="27.7" text-anchor="middle" fill="#262626">40</text>
<text class="ls" x="2021.8" y="877.1" font-size="27.7" text-anchor="middle" fill="#262626">60</text>
<text class="ls" x="2095.9" y="857.4" font-size="27.7" text-anchor="middle" fill="#262626">80</text>
<text class="ls" y="546.8" fill="#262626"><tspan x="1469.5" dy="3.4" font-size="31">×</tspan><tspan x="1490.7" dy="-3.4" font-size="27.7">10</tspan><tspan x="1522.3" dy="-14.3" font-size="23.5">-3</tspan></text>
<text class="se" x="1633.5" y="951" font-size="31" text-anchor="middle" fill="#262626">η</text>
<text class="se" x="1926.5" y="955" font-size="31" text-anchor="middle" fill="#262626">ξ</text>
<text class="ls" transform="translate(1493.3 692) rotate(-90)" font-size="30.5" text-anchor="middle" fill="#262626">CC G-Y</text>
<text class="ls" x="1674.9" y="454.1" font-size="25.4" fill="#111">EGFP-PYL vs. YFP-PYR<tspan dy="-9.5" dx="2" font-size="16">Mandi</tspan></text>
<path d="M127.3 1336.8L422.3 1257.5M422.3 1257.5L647.5 1361.2M127.3 1286.2L422.3 1206.9M422.3 1206.9L647.5 1310.6M127.3 1235.6L422.3 1156.3M422.3 1156.3L647.5 1260M127.3 1185L422.3 1105.7M422.3 1105.7L647.5 1209.4M127.3 1134.4L422.3 1055.1M422.3 1055.1L647.5 1158.8M198.2 1343L198.2 1115.3M593.3 1361.5L593.3 1133.8M423.4 1446.7L198.2 1343M298.3 1440.9L593.3 1361.5M272.9 1322.9L272.9 1095.2M536.3 1335.3L536.3 1107.6M498.1 1426.6L272.9 1322.9M241.3 1414.6L536.3 1335.3M347.6 1302.8L347.6 1075.1M479.3 1309L479.3 1081.3M572.8 1406.6L347.6 1302.8M184.3 1388.3L479.3 1309M422.3 1282.8L422.3 1055.1M127.3 1362.1L422.3 1282.8M422.3 1282.8L647.5 1386.5" stroke="#d3d3d3" stroke-width="1.6" fill="none"/>
<g stroke-width="0.6" stroke-linejoin="round"><path class="k0" d="M127 1313l7-38 6-7 6-13 6 42 7-66 6 28 6 10 6-13 7 12 6-13 6 50 7-57 6 22 6 11 6-36 7-21 6 34 6-28 7-17 6 24 6 52 6-55 7 16 6-22 6 64 6-42 7 20 6-65 6 22 7 34 6-20 6 65 6-73 7 5 6-33 6 62 6-38 7-33 6 20 6-6 7-2 6-14 6 9 6 43 7-34 6-15 6-8 5 83-6-83-7 41-6-16-6-19-6-2-7 45-6-24-6 24-6 9-7-59-6 27-6 15-7-47-6 49-6-9-6 5-7 32-6-58-6 26-6 31-7-1-6 18-6-32-7 8-6-30-6 14-6-5-7 24-6 22-6-15-7 58-6-43-6 9-6-18-7-21-6 23-6 7-6 9-7-1-6-19-6 42-7-38-6 45-6-42-6 41-7-40-6 22z"/><path class="k1" d="M270 1222l6 30-4-2-7-16zM163 1270l7 38-5-49-6-28z"/><path class="k2" d="M364 1188l7 59-5-51-7 33zM314 1202l6 58-4 1-7-34z"/><path class="k3" d="M345 1183l7 47-5-25-6 33z"/><path class="k0" d="M132 1296l6-22 7 40 6-41 6 42 6-45 7 38 6-42 6 19 7 1 6-9 6-7 6-23 7 21 6 18 6-9 6 43 7-58 6 15 6-22 7-24 6 5 6-14 6 30 7-8 6 32 6-18 7 1 6-31 6-26 6 58 7-32 6-5 6 9 6-49 7 47 6-15 6-27 7 59 6-9 6-24 6 24 7-45 6 2 6 19 6 16 7-41 6 83 5-50-6-9-7 22-6-40-6-9-7 61-6-30-6 0-6-8-7 12-6-12-6 46-6-22-7 20-6-41-6 10-7 41-6-6-6-14-6-1-7-4-6 19-6-9-7 42-6-52-6 67-6-50-7 52-6-42-6 17-6-40-7 49-6-16-6-9-7-14-6 33-6 17-6 8-7-32-6 15-6-3-6-23-7 33-6-15-6 0-7 0-6-44-6 64z"/><path class="k1" d="M407 1186l6 9-5 19-6-19zM369 1209l6 12-4 26-7-59zM344 1212l6 41-5-70-6 49z"/><path class="k3" d="M143 1241l6 44-4 29-7-40z"/><path class="k0" d="M137 1305l6-64 6 44 7 0 6 0 6 15 7-33 6 23 6 3 6-15 7 32 6-8 6-17 6-33 7 14 6 9 6 16 7-49 6 40 6-17 6 42 7-52 6 50 6-67 6 52 7-42 6 9 6-19 7 4 6 1 6 14 6 6 7-41 6-10 6 41 7-20 6 22 6-46 6 12 7-12 6 8 6 0 6 30 7-61 6 9 6 40 7-22 6 9 5 22-7-12-6-11-6 10-6-6-7-25-6 64-6-8-7-60-6-15-6 79-6-20-7-14-6 22-6-25-7 36-6-9-6-33-6 45-7-13-6 19-6-59-6 105-7-77-6 9-6 10-7-22-6 7-6 34-6-23-7 8-6 63-6-53-6 7-7 18-6-79-6 57-7 23-6-82-6 110-6-49-7-24-6 41-6-40-7 51-6 14-6-17-6-30z"/><path class="k1" d="M386 1196l7 60-5-39-6-8zM211 1273l6-57-5 69-6 17zM179 1251l7 24-5 15-6-23zM167 1252l6 40-5 8-6-15zM142 1270l6 30-5-59-6 64z"/><path class="k2" d="M305 1209l6 59-5-30-6 19z"/><path class="k3" d="M380 1181l6 15-4 13-7 12z"/><path class="k4" d="M217 1216l6 79-5-43-6 33z"/><path class="k5" d="M198 1214l6 82-4 14-7-32z"/><path class="k0" d="M142 1270l6 30 6 17 6-14 7-51 6 40 6-41 7 24 6 49 6-110 6 82 7-23 6-57 6 79 7-18 6-7 6 53 6-63 7-8 6 23 6-34 6-7 7 22 6-10 6-9 7 77 6-105 6 59 6-19 7 13 6-45 6 33 6 9 7-36 6 25 6-22 7 14 6 20 6-79 6 15 7 60 6 8 6-64 7 25 6 6 6-10 6 11 7 12 4-82-6 64-6-29-6 97-7-27-6-62-6 84-7-85-6 59-6-6-6 5-7-19-6 28-6-65-6 57-7-46-6 19-6 26-7-58-6 29-6-16-6 45-7-28-6 30-6-13-6 0-7-40-6 81-6 0-7-3-6-54-6 6-6 16-7 0-6 7-6 31-7-42-6 5-6 20-6 65-7-20-6-85-6 112-6-29-7-38-6-4-6 44-7-75z"/><path class="k1" d="M360 1206l6 65-5-45-6 22zM322 1233l6-29-4 58-7-13zM316 1217l6 16-5 16-6 19zM303 1234l7 28-5-53-6 105zM253 1235l6 54-4-37-7 8zM247 1241l6-6-5 25-6 63zM203 1278l6-20-5 38-6-82z"/><path class="k2" d="M328 1204l7 58-5-45-6 45zM215 1253l7 42-5-79-6 57z"/><path class="k3" d="M278 1211l7 40-5 5-7-22zM184 1238l6 85-4-48-7-24zM146 1248l7 75-5-23-6-30z"/><path class="k0" d="M146 1248l7 75 6-44 6 4 7 38 6 29 6-112 6 85 7 20 6-65 6-20 6-5 7 42 6-31 6-7 7 0 6-16 6-6 6 54 7 3 6 0 6-81 7 40 6 0 6 13 6-30 7 28 6-45 6 16 6-29 7 58 6-26 6-19 7 46 6-57 6 65 6-28 7 19 6-5 6 6 6-59 7 85 6-84 6 62 7 27 6-97 6 29 6-64 5 36-6-16-6 61-7-26-6 14-6 13-6-22-7-7-6 75-6-31-7-5-6 44-6-71-6-5-7 30-6-19-6-13-6 61-7-74-6 73-6-30-7-32-6 80-6-56-6 30-7-27-6 32-6-31-7 35-6 7-6-20-6-13-7-1-6-28-6 43-6 7-7-25-6 46-6-30-7-5-6 19-6 23-6-46-7 8-6 2-6 33-6-2-7 9z"/><path class="k1" d="M314 1218l7 32-5-33-6 45zM277 1246l6 31-5-66-6 81z"/><path class="k2" d="M440 1182l6 16-5-36-6 64zM333 1207l7 74-5-19-7-58zM183 1258l6 46-5-66-6 112z"/><path class="k3" d="M239 1226l6 28-4 3-7 0z"/><path class="k0" d="M151 1308l7-9 6 2 6-33 6-2 7-8 6 46 6-23 6-19 7 5 6 30 6-46 7 25 6-7 6-43 6 28 7 1 6 13 6 20 6-7 7-35 6 31 6-32 7 27 6-30 6 56 6-80 7 32 6 30 6-73 7 74 6-61 6 13 6 19 7-30 6 5 6 71 6-44 7 5 6 31 6-75 7 7 6 22 6-13 6-14 7 26 6-61 6 16 5 33-6 33-7-54-6 30-6-33-6-13-7 4-6-20-6 62-6-5-7-11-6 42-6-16-7 0-6-18-6-11-6 25-7 11-6 11-6 11-7-31-6-20-6 21-6 17-7-8-6 0-6 12-6-7-7 14-6-12-6-27-7 23-6 13-6 26-6 34-7-46-6 10-6-19-6 26-7 5-6-29-6-25-7 32-6 57-6-44-6-12-7 35-6-30z"/><path class="k1" d="M420 1194l6 13-5 24-6 13zM413 1198l7-4-5 50-6-22zM319 1228l6 20-4 2-7-32zM263 1238l6 27-5 23-6-20zM194 1256l6 25-5 0-6 23z"/><path class="k3" d="M407 1178l6 20-4 24-7-7z"/><path class="k0" d="M156 1294l6 30 7-35 6 12 6 44 6-57 7-32 6 25 6 29 7-5 6-26 6 19 6-10 7 46 6-34 6-26 6-13 7-23 6 27 6 12 7-14 6 7 6-12 6 0 7 8 6-17 6-21 6 20 7 31 6-11 6-11 7-11 6-25 6 11 6 18 7 0 6 16 6-42 7 11 6 5 6-62 6 20 7-4 6 13 6 33 6-30 7 54 6-33 5-18-6-5-7 8-6 70-6-94-7-18-6 114-6-79-6 72-7-61-6 29-6-7-7 19-6-50-6 52-6-26-7 41-6-39-6-6-6 46-7-32-6-1-6-7-7 44-6-57-6 15-6-18-7 6-6 51-6-66-6 49-7 15-6-26-6-33-7 101-6-101-6 82-6-5-7-18-6 32-6-31-7 32-6-27-6 27-6 29-7-84-6 35-6 3z"/><path class="k1" d="M431 1192l6 94-5-46-6-33zM374 1211l6 50-4-11-7 0zM299 1241l6-15-5 32-6 0zM268 1263l6-49-5 51-6-27z"/><path class="k2" d="M412 1209l6 79-5-90-6-20zM305 1226l6 57-4-17-7-8zM293 1223l6 18-5 17-6 12zM286 1229l7-6-5 47-6-7zM173 1256l7 84-5-39-6-12z"/><path class="k4" d="M424 1174l7 18-5 15-6-13zM274 1214l6 66-5-3-6-12zM249 1219l6 33-5 22-6 26zM236 1219l6 101-4 14-7-46z"/><path class="k0" d="M161 1294l6-3 6-35 7 84 6-29 6-27 6 27 7-32 6 31 6-32 7 18 6 5 6-82 6 101 7-101 6 33 6 26 7-15 6-49 6 66 6-51 7-6 6 18 6-15 6 57 7-44 6 7 6 1 7 32 6-46 6 6 6 39 7-41 6 26 6-52 6 50 7-19 6 7 6-29 7 61 6-72 6 79 6-114 7 18 6 94 6-70 7-8 6 5 5 23-7 22-6-67-6 57-7 19-6 8-6-19-6 4-7-78-6 58-6-12-6 12-7-12-6 6-6 0-7 38-6-27-6 6-6 10-7-32-6 34-6-38-6 36-7-11-6 27-6-10-7 14-6-12-6-16-6 39-7-10-6-22-6 34-7-37-6 54-6-42-6 32-7-7-6-34-6-7-6 40-7-32-6 33-6-25-7-7-6 47-6-26-6 15z"/><path class="k1" d="M329 1225l6 38-5-16-6-1zM285 1253l6 16-5-40-6 51zM222 1260l6 34-4 2-7-18zM203 1261l7 32-5-14-7 32zM172 1283l6 26-5-53-6 35z"/><path class="k2" d="M448 1191l6 67-4-50-7 8zM253 1257l7 37-5-42-6-33zM241 1269l6 42-5 9-6-101zM216 1253l6 7-5 18-6 32zM184 1262l7 7-5 42-6 29z"/><path class="k4" d="M410 1182l7 78-5-51-6 72z"/><path class="k0" d="M166 1298l6-15 6 26 6-47 7 7 6 25 6-33 7 32 6-40 6 7 6 34 7 7 6-32 6 42 6-54 7 37 6-34 6 22 7 10 6-39 6 16 6 12 7-14 6 10 6-27 7 11 6-36 6 38 6-34 7 32 6-10 6-6 6 27 7-38 6 0 6-6 7 12 6-12 6 12 6-58 7 78 6-4 6 19 6-8 7-19 6-57 6 67 7-22 4-44-6 39-6-14-6 32-7-27-6-15-6 6-7 19-6-38-6 77-6-39-7 11-6 67-6-92-6 42-7 8-6-42-6 54-7-46-6 26-6 0-6 26-7-81-6 32-6 36-7-9-6 38-6-13-6-4-7-23-6 3-6 47-6-32-7-24-6 46-6-2-7 8-6-12-6 22-6-56-7 28-6-46-6 79-6-8-7-15-6-12-6-23-7 35z"/><path class="k1" d="M434 1207l6 15-5 45-6 8zM384 1218l6 92-5-82-6 6zM365 1226l6 42-5 4-6-27zM221 1262l6 56-5-58-6-7z"/><path class="k2" d="M321 1237l6-32-4 56-7-11zM177 1265l6 23-5 21-6-26z"/><path class="k3" d="M415 1194l6 38-4 28-7-78zM208 1244l6 46-4 3-7-32z"/><path class="k4" d="M327 1205l7 81-5-61-6 36z"/><path class="k0" d="M170 1300l7-35 6 23 6 12 7 15 6 8 6-79 6 46 7-28 6 56 6-22 6 12 7-8 6 2 6-46 7 24 6 32 6-47 6-3 7 23 6 4 6 13 6-38 7 9 6-36 6-32 7 81 6-26 6 0 6-26 7 46 6-54 6 42 7-8 6-42 6 92 6-67 7-11 6 39 6-77 6 38 7-19 6-6 6 15 7 27 6-32 6 14 6-39 5 56-6-16-6-8-7 23-6-12-6-27-6-10-7 79-6-26-6 26-7-60-6 53-6 2-6 13-7-25-6 17-6-8-7 22-6-23-6-54-6 47-7 57-6-68-6 25-6 2-7-19-6 24-6 34-7-52-6-21-6 32-6 53-7-21-6-34-6 12-6 52-7-67-6 64-6-34-7-19-6-6-6 2-6 20-7 65-6-36-6-45-7 8-6-5z"/><path class="k1" d="M439 1208l6 27-5-13-6-15zM407 1217l7 60-5-6-6-39zM288 1243l6 21-4 21-7-23zM213 1277l6-2-5 15-6-46zM181 1289l7-8-5 7-6-23zM175 1284l6 5-4-24-7 35z"/><path class="k2" d="M433 1198l6 10-5-1-6 6zM332 1250l6 68-4-32-7-81z"/><path class="k3" d="M351 1214l6 54-5-34-6 26z"/><path class="k0" d="M175 1284l6 5 7-8 6 45 6 36 7-65 6-20 6-2 6 6 7 19 6 34 6-64 7 67 6-52 6-12 6 34 7 21 6-53 6-32 6 21 7 52 6-34 6-24 7 19 6-2 6-25 6 68 7-57 6-47 6 54 6 23 7-22 6 8 6-17 7 25 6-13 6-2 6-53 7 60 6-26 6 26 7-79 6 10 6 27 6 12 7-23 6 8 6 16 5-29-6 15-7 33-6-34-6-38-6 77-7-38-6-52-6 77-7-2-6-23-6 8-6 44-7-55-6 78-6-54-6 9-7 27-6-27-6-23-7 73-6-96-6 77-6 29-7-65-6 17-6-8-6 24-7-15-6-15-6 42-7-55-6 36-6 36-6-53-7 0-6 75-6-96-7 58-6-66-6 83-6-26-7-3-6 7-6 26-6 11-7-54-6 28z"/><path class="k1" d="M356 1241l6 23-5 4-6-54zM280 1249l7 55-5-29-6 53z"/><path class="k2" d="M450 1195l6 38-5 14-6-12z"/><path class="k3" d="M343 1218l6 96-4-53-7 57zM243 1247l6 96-5-73-6 64z"/><path class="k4" d="M431 1182l6 52-4-36-7 79zM230 1239l6 66-4-5-7-19z"/><path class="k0" d="M180 1311l6-28 7 54 6-11 6-26 6-7 7 3 6 26 6-83 6 66 7-58 6 96 6-75 7 0 6 53 6-36 6-36 7 55 6-42 6 15 7 15 6-24 6 8 6-17 7 65 6-29 6-77 6 96 7-73 6 23 6 27 7-27 6-9 6 54 6-78 7 55 6-44 6-8 6 23 7 2 6-77 6 52 7 38 6-77 6 38 6 34 7-33 6-15 5 6-7-9-6 23-6-10-6 22-7-31-6 27-6 9-6-55-7 60-6 14-6-64-7 27-6-7-6-4-6 54-7-11-6 2-6 27-6-15-7-9-6 55-6-66-7 5-6 9-6-36-6 30-7-21-6 39-6 56-7-61-6-48-6 51-6 37-7-21-6-20-6 25-6-12-7-41-6 88-6-55-7 22-6 10-6-6-6 1-7 21-6-37-6-19z"/><path class="k1" d="M448 1220l7 31-5-56-6 77zM392 1227l6 4-5 0-6 78zM323 1242l6 36-5-19-6 17zM229 1289l6 55-5-105-6 83zM185 1281l6 19-5-17-6 28z"/><path class="k2" d="M411 1211l6 64-5-41-6 8zM241 1256l7 41-5-50-7 58z"/><path class="k3" d="M430 1201l6 55-5-74-6 77zM285 1237l6 48-4 19-7-55z"/><path class="k0" d="M185 1281l6 19 6 37 7-21 6-1 6 6 6-10 7-22 6 55 6-88 7 41 6 12 6-25 6 20 7 21 6-37 6-51 6 48 7 61 6-56 6-39 7 21 6-30 6 36 6-9 7-5 6 66 6-55 7 9 6 15 6-27 6-2 7 11 6-54 6 4 6 7 7-27 6 64 6-14 7-60 6 55 6-9 6-27 7 31 6-22 6 10 6-23 7 9 5-21-7 38-6 60-6-110-7 51-6 43-6-49-6-53-7 80-6-11-6 33-6-52-7 24-6-5-6 9-7-27-6 15-6 3-6 32-7 16-6-38-6-20-7 24-6-15-6-3-6-16-7 89-6-25-6 23-6-43-7-15-6 21-6-1-7 16-6-51-6 64-6 7-7 12-6-75-6 36-6 23-7-23-6 30-6-30-7 13-6 22-6 50-6-71z"/><path class="k1" d="M416 1234l6 52-5-11-6-64zM353 1243l6 20-5 12-6 55zM284 1282l6 1-5-46-6 51z"/><path class="k2" d="M328 1233l6 16-5 29-6-36zM246 1255l6 75-4-33-7-41z"/><path class="k3" d="M466 1192l6 110-5-63-6-10zM271 1247l6 51-4 27-7-21z"/><path class="k4" d="M441 1184l6 53-5 10-6 9z"/><path class="k0" d="M190 1305l6 71 6-50 6-22 7-13 6 30 6-30 7 23 6-23 6-36 6 75 7-12 6-7 6-64 6 51 7-16 6 1 6-21 7 15 6 43 6-23 6 25 7-89 6 16 6 3 6 15 7-24 6 20 6 38 7-16 6-32 6-3 6-15 7 27 6-9 6 5 7-24 6 52 6-33 6 11 7-80 6 53 6 49 6-43 7-51 6 110 6-60 7-38 4 81-6-57-6-11-6 10-7-14-6 64-6-78-7 76-6-41-6 92-6-116-7 27-6 62-6-80-7 52-6 8-6-2-6 29-7-28-6-19-6 15-6-23-7 35-6-26-6 52-7-21-6-37-6 41-6-30-7 33-6 2-6-9-6-16-7 57-6-45-6 18-7 0-6 19-6-66-6-18-7 55-6-3-6 26-7-26-6 40-6-45-6 59-7 44z"/><path class="k1" d="M471 1227l6-10-5 85-6-110zM420 1237l7-27-5 76-6-52zM326 1254l6 37-4-58-7 89z"/><path class="k2" d="M464 1213l7 14-5-35-7 51zM439 1234l6 41-4-91-7 80zM427 1210l6 116-5-73-6 33zM408 1219l6 80-5-41-6-5zM251 1258l6 66-5 6-6-75zM238 1295l7-55-5 51-6 23z"/><path class="k3" d="M452 1199l6 78-5 9-6-49z"/><path class="k4" d="M245 1240l6 18-5-3-6 36z"/><path class="k0" d="M194 1390l7-44 6-59 6 45 6-40 7 26 6-26 6 3 7-55 6 18 6 66 6-19 7 0 6-18 6 45 7-57 6 16 6 9 6-2 7-33 6 30 6-41 6 37 7 21 6-52 6 26 7-35 6 23 6-15 6 19 7 28 6-29 6 2 6-8 7-52 6 80 6-62 7-27 6 116 6-92 6 41 7-76 6 78 6-64 7 14 6-10 6 11 6 57 5-37-6-45-6 39-7 9-6 11-6-35-7 64-6-31-6-29-6 53-7-12-6-66-6 27-6 59-7-3-6 31-6-4-7-53-6-33-6 20-6 40-7-30-6-23-6 72-6-33-7-46-6 29-6 10-7 55-6-70-6 49-6 4-7 9-6-61-6 45-7 42-6-3-6-41-6-55-7 56-6 37-6-85-6 15-7 57-6 26-6-19-7-39-6 63z"/><path class="k1" d="M375 1250l6-20-5 48-6-19zM312 1254l6 70-4-59-7 33zM249 1299l7-56-5 15-6-18z"/><path class="k2" d="M488 1203l6 45-5 37-6-57zM419 1233l6-27-5 31-6 62zM381 1230l6 33-4 43-7-28zM356 1237l6 23-4-9-7 35zM331 1259l6-29-5 61-6-37zM287 1255l6 61-4-41-7 57z"/><path class="k3" d="M425 1206l6 66-4-62-7 27zM337 1230l7 46-5 36-7-21zM231 1266l6-15-5 41-6 26z"/><path class="k4" d="M256 1243l6 55-5 26-6-66zM237 1251l6 85-5-41-6-3z"/><path class="k0" d="M199 1354l6-63 7 39 6 19 6-26 7-57 6-15 6 85 6-37 7-56 6 55 6 41 6 3 7-42 6-45 6 61 7-9 6-4 6-49 6 70 7-55 6-10 6-29 7 46 6 33 6-72 6 23 7 30 6-40 6-20 6 33 7 53 6 4 6-31 7 3 6-59 6-27 6 66 7 12 6-53 6 29 6 31 7-64 6 35 6-11 7-9 6-39 6 45 5 13-6-46-7 32-6-19-6 5-6 6-7 26-6-3-6 0-7-6-6-13-6 33-6-25-7 21-6-69-6 95-6-29-7 13-6 1-6-57-7 40-6-1-6 29-6-3-7-16-6-6-6-24-7 52-6 21-6-21-6-27-7 12-6 55-6-37-6 16-7-3-6-6-6 0-7-25-6 5-6 72-6-86-7 66-6-57-6 25-7 12-6 14-6-41z"/><path class="k1" d="M493 1215l6 46-5-13-6-45zM424 1251l6 25-5-70-6 27zM373 1266l7-40-5 24-6 40zM342 1269l6 6-4 1-7-46zM311 1270l6 27-5-43-6 49zM204 1292l6 41-5-42-6 63z"/><path class="k2" d="M260 1282l7 25-5-9-6-55zM254 1287l6-5-4-39-7 56zM229 1282l6 57-4-73-7 57z"/><path class="k3" d="M380 1226l6 57-5-53-6 20zM336 1245l6 24-5-39-6 29zM242 1273l6 86-5-23-6-85z"/><path class="k4" d="M411 1203l6 69-4 20-7-3z"/><path class="k0" d="M204 1292l6 41 6-14 7-12 6-25 6 57 7-66 6 86 6-72 6-5 7 25 6 0 6 6 7 3 6-16 6 37 6-55 7-12 6 27 6 21 6-21 7-52 6 24 6 6 7 16 6 3 6-29 6 1 7-40 6 57 6-1 7-13 6 29 6-95 6 69 7-21 6 25 6-33 6 13 7 6 6 0 6 3 7-26 6-6 6-5 6 19 7-32 6 46 5-2-7-42-6 10-6-17-6 33-7 9-6-16-6 58-6-79-7 86-6-37-6-6-7-8-6 45-6-26-6 59-7-30-6-6-6 22-7-69-6 21-6 8-6 3-7 16-6 33-6-56-6-17-7 51-6 14-6-41-7-19-6 53-6 15-6-38-7 17-6 39-6 1-7-35-6 12-6 14-6 15-7-34-6-33-6 41-6 40-7 0-6-57-6-24z"/><path class="k1" d="M497 1217l7 42-5 2-6-46zM416 1269l6 26-5-23-6-69zM378 1266l6-21-4-19-7 40zM240 1284l6 33-4-44-7 66z"/><path class="k2" d="M485 1210l6 17-5 20-6-19zM454 1215l6 79-5-32-6 0zM384 1245l7 69-5-31-6-57zM341 1253l6 17-5-1-6-24zM315 1258l7 19-5 20-6-27zM209 1284l6 24-5 25-6-41z"/><path class="k0" d="M209 1284l6 24 6 57 7 0 6-40 6-41 6 33 7 34 6-15 6-14 6-12 7 35 6-1 6-39 7-17 6 38 6-15 6-53 7 19 6 41 6-14 7-51 6 17 6 56 6-33 7-16 6-3 6-8 6-21 7 69 6-22 6 6 7 30 6-59 6 26 6-45 7 8 6 6 6 37 7-86 6 79 6-58 6 16 7-9 6-33 6 17 6-10 7 42 5-15-7 17-6 2-6 8-7-46-6 20-6 32-6-24-7 0-6 3-6-46-7 46-6-10-6 35-6-6-7 36-6-49-6 31-6-9-7 3-6-1-6-54-7 80-6-15-6-125-6 68-7 43-6-4-6 30-6-32-7 17-6 34-6-52-7 21-6 65-6-24-6-61-7 39-6 6-6-20-7-1-6-25-6 70-6-20-7 34-6-20-6-79-6 47z"/><path class="k1" d="M483 1225l7 46-5-61-6 33zM439 1256l7-46-5 54-6-6zM345 1283l7-43-5 30-6-17zM283 1277l6 61-5 6-6 1z"/><path class="k2" d="M251 1276l6 25-4 50-7-34zM214 1308l6-47-5 47-6-24z"/><path class="k3" d="M446 1210l6 46-5 45-6-37zM377 1232l6 54-5-20-6 8z"/><path class="k4" d="M220 1261l6 79-5 25-6-57z"/><path class="k7" d="M352 1240l6-68-5 154-6-56z"/><path class="k10" d="M358 1172l6 125-5-4-6 33z"/><path class="k0" d="M214 1308l6-47 6 79 6 20 7-34 6 20 6-70 6 25 7 1 6 20 6-6 7-39 6 61 6 24 6-65 7-21 6 52 6-34 7-17 6 32 6-30 6 4 7-43 6-68 6 125 6 15 7-80 6 54 6 1 7-3 6 9 6-31 6 49 7-36 6 6 6-35 6 10 7-46 6 46 6-3 7 0 6 24 6-32 6-20 7 46 6-8 6-2 7-17 4-1-6-16-6-33-7 54-6-26-6 46-6 13-7 6-6-66-6 22-6 32-7-36-6 11-6 44-7-15-6 28-6-32-6 3-7-18-6 32-6 28-6-8-7-10-6-12-6-18-7-3-6 54-6 0-6-27-7 15-6-93-6 91-7-2-6-10-6 28-6-14-7 20-6-50-6 63-6 14-7-40-6 7-6-14-7 13-6-2-6 23-6-69-7 64z"/><path class="k1" d="M494 1248l7-54-5 69-6 8zM488 1222l6 26-4 23-7-46zM457 1243l6-22-5 32-6 3zM319 1309l6-91-5 76-6 34zM281 1281l6 50-4-54-7 39z"/><path class="k2" d="M463 1221l6 66-4-34-7 0zM444 1239l7 36-5-65-7 46z"/><path class="k4" d="M501 1194l6 33-5 34-6 2zM225 1276l6 69-5-5-6-79z"/><path class="k5" d="M363 1272l6 18-5 7-6-125zM356 1269l7 3-5-100-6 68z"/><path class="k6" d="M325 1218l6 93-4-34-7 17z"/><path class="k0" d="M218 1340l7-64 6 69 6-23 6 2 7-13 6 14 6-7 7 40 6-14 6-63 6 50 7-20 6 14 6-28 6 10 7 2 6-91 6 93 7-15 6 27 6 0 6-54 7 3 6 18 6 12 7 10 6 8 6-28 6-32 7 18 6-3 6 32 6-28 7 15 6-44 6-11 7 36 6-32 6-22 6 66 7-6 6-13 6-46 6 26 7-54 6 33 6 16 5 54-6-33-6 28-7-44-6 14-6-39-7 6-6 4-6 66-6-54-7 18-6-4-6 10-6-6-7-15-6 32-6-1-7 14-6-57-6 39-6 50-7-48-6 30-6-24-7 37-6-27-6-38-6 76-7-16-6-3-6-44-6 17-7 29-6-47-6 33-7 38-6-27-6 13-6-9-7 6-6 13-6-30-7 37-6-20-6-5-6 3-7-142-6 132z"/><path class="k1" d="M499 1248l7 44-5-98-7 54zM487 1223l6 39-5-40-6 46zM480 1229l7-6-5 45-6 13zM474 1233l6-4-4 52-7 6zM462 1245l6 54-5-78-6 22z"/><path class="k2" d="M405 1236l6 57-4-15-7-18zM355 1255l6 38-5-24-6 54zM311 1267l6 47-5-7-6-10z"/><path class="k3" d="M324 1285l6-17-5-50-6 91z"/><path class="k4" d="M330 1268l6 44-5-1-6-93z"/><path class="k7" d="M223 1309l6-132-4 99-7 64z"/><path class="k14" d="M229 1177l7 142-5 26-6-69z"/><path class="k0" d="M223 1309l6-132 7 142 6-3 6 5 6 20 7-37 6 30 6-13 7-6 6 9 6-13 6 27 7-38 6-33 6 47 7-29 6-17 6 44 6 3 7 16 6-76 6 38 6 27 7-37 6 24 6-30 7 48 6-50 6-39 6 57 7-14 6 1 6-32 7 15 6 6 6-10 6 4 7-18 6 54 6-66 6-4 7-6 6 39 6-14 7 44 6-28 6 33 5-3-6-80-7-21-6 27-6 44-6 28-7-2-6-6-6 16-7-26-6-34-6 28-6 20-7-25-6 8-6 2-7 31-6-46-6 25-6 11-7-14-6 3-6 56-6-61-7 17-6 24-6-28-7 18-6-13-6-9-6 39-7-25-6-21-6-19-7 23-6 62-6 7-6-1-7-43-6-5-6 44-6 0-7-1-6-16-6-12-7 62-6-77-6 12z"/><path class="k1" d="M460 1240l6 34-4-29-7 18z"/><path class="k2" d="M517 1214l6 80-5 3-6-33zM309 1284l7-23-5 6-6 33z"/><path class="k3" d="M504 1220l6-27-4 99-7-44zM316 1261l6 19-5 34-6-47z"/><path class="k4" d="M510 1193l7 21-5 50-6 28z"/><path class="k7" d="M234 1304l6 77-4-62-7-142zM228 1316l6-12-5-127-6 132z"/><path class="k0" d="M228 1316l6-12 6 77 7-62 6 12 6 16 7 1 6 0 6-44 6 5 7 43 6 1 6-7 6-62 7-23 6 19 6 21 7 25 6-39 6 9 6 13 7-18 6 28 6-24 7-17 6 61 6-56 6-3 7 14 6-11 6-25 6 46 7-31 6-2 6-8 7 25 6-20 6-28 6 34 7 26 6-16 6 6 7 2 6-28 6-44 6-27 7 21 6 80 5-59-7-13-6 23-6 7-6-47-7 59-6-31-6 18-7-2-6-17-6 69-6 3-7-23-6-30-6 29-6 44-7-65-6 41-6 40-7-50-6 11-6-24-6 41-7-11-6-2-6 47-7-82-6 29-6 1-6 29-7-17-6-39-6 22-6 3-7 31-6-24-6 74-7-37-6-5-6-26-6-23-7 32-6 27-6 20-6-94-7 31-6 67-6-42z"/><path class="k1" d="M509 1252l6-7-5-52-6 27zM496 1264l7-59-5 59-6 28zM490 1233l6 31-4 28-7-2zM364 1270l7 82-5-33-6-28zM333 1273l6 39-4 14-7-25zM321 1298l6-3-5-15-6-19zM277 1288l6 23-5-7-6 44z"/><path class="k2" d="M521 1222l7 13-5 59-6-80zM515 1245l6-23-4-8-7-21zM471 1232l6 17-4 51-7-26zM245 1304l7-31-5 46-7 62z"/><path class="k4" d="M503 1205l6 47-5-32-6 44zM252 1273l6 94-5-36-6-12z"/><path class="k0" d="M233 1329l6 42 6-67 7-31 6 94 6-20 6-27 7-32 6 23 6 26 6 5 7 37 6-74 6 24 7-31 6-3 6-22 6 39 7 17 6-29 6-1 6-29 7 82 6-47 6 2 7 11 6-41 6 24 6-11 7 50 6-40 6-41 7 65 6-44 6-29 6 30 7 23 6-3 6-69 6 17 7 2 6-18 6 31 7-59 6 47 6-7 6-23 7 13 4 9-6-21-6 34-6-51-7 84-6-7-6-15-6 14-7-16-6-4-6 10-7 44-6-28-6-7-6-15-7 1-6 8-6-96-6 113-7 35-6-16-6-26-7 0-6 4-6 10-6 74-7-101-6 39-6-15-7-1-6-21-6 39-6-15-7 18-6-14-6-3-6 55-7-92-6 72-6-38-7 65-6-59-6 30-6-67-7 51-6 49-6 6-7 3z"/><path class="k1" d="M526 1223l6 21-4-9-7-13zM369 1272l7 101-5-21-7-82zM344 1274l6 21-4 34-7-17zM275 1302l6 59-4-73-7 32z"/><path class="k2" d="M256 1316l7-51-5 102-6-94z"/><path class="k3" d="M420 1292l6-113-5 121-6 40z"/><path class="k4" d="M514 1206l6 51-5-12-6 7zM300 1262l7 92-5 25-7-37z"/><path class="k5" d="M263 1265l6 67-5 15-6 20z"/><path class="k9" d="M426 1179l6 96-5-16-6 41z"/><path class="k0" d="M237 1374l7-3 6-6 6-49 7-51 6 67 6-30 6 59 7-65 6 38 6-72 7 92 6-55 6 3 6 14 7-18 6 15 6-39 6 21 7 1 6 15 6-39 7 101 6-74 6-10 6-4 7 0 6 26 6 16 7-35 6-113 6 96 6-8 7-1 6 15 6 7 6 28 7-44 6-10 6 4 7 16 6-14 6 15 6 7 7-84 6 51 6-34 6 21 5 25-6-9-6 39-7-32-6 10-6-47-6 43-7-8-6-10-6 36-6-5-7 66-6-126-6 34-7 69-6-56-6-30-6 67-7-15-6 4-6 34-7-55-6 47-6-84-6 33-7 54-6-9-6-14-6 14-7 31-6 24-6-29-7-126-6 124-6-35-6 29-7 2-6-20-6 27-7-15-6 17-6-3-6-10-7-18-6 13-6 31-6-31-7 59z"/><path class="k1" d="M330 1343l6-124-4 79-7 18zM305 1319l6 20-4 15-7-92zM261 1330l6-13-4-52-7 51z"/><path class="k2" d="M506 1230l6 47-5 13-6-7zM456 1260l6-34-5 62-6-7zM437 1243l6 30-5-6-6 8zM431 1310l6-67-5 32-6-96zM387 1274l6-33-5 48-6 10zM267 1317l7 18-5-3-6-67z"/><path class="k3" d="M462 1226l6 126-5-36-6-28zM424 1295l7 15-5-131-6 113z"/><path class="k4" d="M393 1241l6 84-5-40-6 4z"/><path class="k8" d="M336 1219l7 126-5-32-6-15z"/><path class="k0" d="M242 1389l7-59 6 31 6-31 6-13 7 18 6 10 6 3 6-17 7 15 6-27 6 20 7-2 6-29 6 35 6-124 7 126 6 29 6-24 7-31 6-14 6 14 6 9 7-54 6-33 6 84 6-47 7 55 6-34 6-4 7 15 6-67 6 30 6 56 7-69 6-34 6 126 7-66 6 5 6-36 6 10 7 8 6-43 6 47 6-10 7 32 6-39 6 9 5-18-6-11-6 29-7 43-6-41-6 0-7-11-6-11-6 30-6 16-7-55-6 51-6 35-7-37-6 17-6-26-6 47-7-28-6 13-6-21-6 24-7-23-6-7-6-15-7 18-6 24-6-49-6 30-7 27-6 42-6-28-7 23-6-72-6 66-6 42-7-118-6 13-6 65-6-54-7 15-6 53-6-50-7 29-6-55-6 54-6 7-7-6-6 7z"/><path class="k1" d="M391 1288l7-18-5-29-6 33zM373 1293l6-30-5 56-6-14zM335 1351l6-66-5-66-6 124z"/><path class="k2" d="M479 1240l7 55-5-4-6-5zM398 1270l6 15-5 40-6-84zM379 1263l6 49-5 16-6-9zM316 1288l6-13-4 62-7 2zM272 1291l6 55-4-11-7-18z"/><path class="k3" d="M322 1275l7 118-5-85-6 29z"/><path class="k4" d="M341 1285l6 72-4-12-7-126z"/><path class="k0" d="M247 1353l6-7 7 6 6-7 6-54 6 55 7-29 6 50 6-53 7-15 6 54 6-65 6-13 7 118 6-42 6-66 6 72 7-23 6 28 6-42 7-27 6-30 6 49 6-24 7-18 6 15 6 7 7 23 6-24 6 21 6-13 7 28 6-47 6 26 6-17 7 37 6-35 6-51 7 55 6-16 6-30 6 11 7 11 6 0 6 41 7-43 6-29 6 11 5 30-6 1-7 14-6-20-6-16-7 47-6-15-6-10-6-50-7 59-6 9-6-36-6 39-7-9-6 4-6-37-7 71-6-46-6-23-6 59-7-37-6 40-6-5-7-22-6 6-6 21-6-22-7-8-6 4-6-11-6 20-7 1-6-5-6 33-7-42-6 67-6-26-6 25-7-9-6-20-6 63-6-58-7 3-6-16-6 18-7 6-6-19-6 40z"/><path class="k1" d="M478 1264l6 36-5-60-6 51zM453 1261l6 37-5 8-6-26zM434 1263l6 23-5 13-6 13zM377 1295l7 8-5-40-6 30zM277 1324l6 16-5 6-6-55z"/><path class="k2" d="M497 1232l6 50-5-33-6 30z"/><path class="k0" d="M252 1369l6-40 6 19 7-6 6-18 6 16 7-3 6 58 6-63 6 20 7 9 6-25 6 26 6-67 7 42 6-33 6 5 7-1 6-20 6 11 6-4 7 8 6 22 6-21 6-6 7 22 6 5 6-40 7 37 6-59 6 23 6 46 7-71 6 37 6-4 7 9 6-39 6 36 6-9 7-59 6 50 6 10 6 15 7-47 6 16 6 20 7-14 6-1 5 10-7-14-6 5-6-42-6-11-7 85-6-18-6-43-7-11-6 54-6 26-6-5-7-16-6 10-6-40-7 41-6 3-6-10-6 6-7-50-6 35-6-7-6-27-7 49-6-24-6 38-7-14-6-5-6-38-6 49-7 2-6 12-6-33-6 37-7-14-6-20-6 31-7 2-6 1-6 43-6 17-7-42-6 9-6-31-7 37-6-13-6-41-6 59z"/><path class="k1" d="M533 1240l6 42-5 14-6-20zM263 1314l6 41-5-7-6-19z"/><path class="k2" d="M527 1229l6 11-5 36-6-16zM501 1242l7 11-5 29-6-50zM432 1261l7 50-5-48-6 59zM414 1262l6 27-5 36-6-5zM376 1268l6 38-5-11-6 4z"/><path class="k0" d="M257 1373l6-59 6 41 6 13 7-37 6 31 6-9 7 42 6-17 6-43 6-1 7-2 6-31 6 20 7 14 6-37 6 33 6-12 7-2 6-49 6 38 6 5 7 14 6-38 6 24 7-49 6 27 6 7 6-35 7 50 6-6 6 10 6-3 7-41 6 40 6-10 7 16 6 5 6-26 6-54 7 11 6 43 6 18 7-85 6 11 6 42 6-5 7 14 4-40-6 9-6 25-6 21-7-23-6-21-6-4-6 13-7-15-6 70-6-59-7 24-6 32-6-12-6-34-7 1-6 17-6-16-7 19-6-7-6-18-6-7-7 45-6-14-6-13-6 28-7 14-6 22-6-70-7 19-6 40-6 8-6-20-7-20-6 52-6-30-7 30-6-41-6-1-6-17-7 4-6 19-6 28-6 26-7-57-6 52-6-21-7-3z"/><path class="k1" d="M525 1262l6 21-4-54-7 85zM506 1256l7 15-5-18-7-11zM431 1273l6 18-5-30-6 35zM374 1297l7-19-5-10-6 49zM312 1298l6 17-5 20-6 43zM305 1302l7-4-5 80-6 17z"/><path class="k2" d="M425 1266l6 7-5 23-6-7zM381 1278l6 70-5-42-6-38z"/><path class="k0" d="M261 1346l7 3 6 21 6-52 7 57 6-26 6-28 6-19 7-4 6 17 6 1 6 41 7-30 6 30 6-52 7 20 6 20 6-8 6-40 7-19 6 70 6-22 7-14 6-28 6 13 6 14 7-45 6 7 6 18 6 7 7-19 6 16 6-17 7-1 6 34 6 12 6-32 7-24 6 59 6-70 7 15 6-13 6 4 6 21 7 23 6-21 6-25 6-9 5-31-6 30-6 17-7 22-6 9-6-36-6-22-7 6-6 47-6 24-7 1-6-92-6 44-6 30-7-47-6-12-6 41-6 9-7 9-6-10-6 53-7-24-6 8-6 35-6-57-7-18-6-17-6 72-7 2-6-26-6-7-6 20-7-15-6-15-6 63-6-11-7-85-6 73-6-25-7-30-6 83-6-41-6 14-7-19-6 32-6-9-6 14-7 22z"/><path class="k1" d="M555 1250l6-30-5 31-6 9zM461 1282l6-41-5 37-6 17z"/><path class="k2" d="M524 1240l6 22-5 0-6-4zM517 1246l7-6-5 18-6 13zM486 1270l6-44-5 65-6 32zM473 1253l7 47-5 11-6-34zM398 1270l6 17-4 25-7 14z"/><path class="k3" d="M316 1286l7 30-5-1-6-17z"/><path class="k4" d="M492 1226l6 92-4-51-7 24zM467 1241l6 12-4 24-7 1zM335 1268l7 85-5-26-7 30z"/><path class="k0" d="M266 1382l7-22 6-14 6 9 6-32 7 19 6-14 6 41 6-83 7 30 6 25 6-73 7 85 6 11 6-63 6 15 7 15 6-20 6 7 6 26 7-2 6-72 6 17 7 18 6 57 6-35 6-8 7 24 6-53 6 10 7-9 6-9 6-41 6 12 7 47 6-30 6-44 6 92 7-1 6-24 6-47 7-6 6 22 6 36 6-9 7-22 6-17 6-30 5 79-6 12-7-11-6-56-6 109-6-39-7-23-6 9-6 29-6-21-7-51-6-5-6 60-7-22-6 26-6-49-6 15-7 14-6 25-6 13-7-48-6 45-6-64-6 37-7 16-6-41-6 83-6-47-7-8-6 15-6 34-7-39-6-16-6-26-6 91-7-16-6-22-6 32-6-7-7-13-6 10-6-2-7 19-6-32-6 18-6 20-7-48-6 21z"/><path class="k1" d="M547 1244l6 56-4-33-7 22zM503 1257l7 51-5 9-7 1zM466 1282l6-15-5-26-6 41zM409 1279l6 41-4-15-7-18zM340 1328l6 22-4 3-7-85z"/><path class="k2" d="M472 1267l6 49-5-63-6-12zM428 1267l6 64-5-12-6 8z"/><path class="k3" d="M497 1252l6 5-5 61-6-92zM359 1275l6 26-5 15-6-15z"/><path class="k0" d="M271 1346l6-21 7 48 6-20 6-18 6 32 7-19 6 2 6-10 7 13 6 7 6-32 6 22 7 16 6-91 6 26 6 16 7 39 6-34 6-15 7 8 6 47 6-83 6 41 7-16 6-37 6 64 6-45 7 48 6-13 6-25 7-14 6-15 6 49 6-26 7 22 6-60 6 5 7 51 6 21 6-29 6-9 7 23 6 39 6-109 6 56 7 11 6-12 5-6-6-10-7-20-6 19-6-24-7 42-6-18-6 17-6-33-7 19-6 18-6-15-7-21-6 20-6 16-6 35-7-33-6 5-6-17-6-36-7-11-6 103-6-41-7-40-6 86-6-54-6 44-7-25-6 2-6 44-6-49-7-17-6 25-6 3-7-12-6 56-6-65-6 18-7 9-6-37-6 53-7 20-6-34-6-37-6 81-7-19-6 3-6-13z"/><path class="k1" d="M546 1258l6 24-5-38-6 109zM495 1267l7 21-5-36-6 60zM376 1299l7 17-5 40-7-39zM364 1327l6-3-5-23-6-26zM357 1315l7 12-5-52-6 91zM345 1306l6 65-5-21-6-22z"/><path class="k2" d="M426 1268l7 40-5-41-6 37zM326 1296l6 37-4 20-7-13z"/><path class="k3" d="M452 1257l6 36-5 28-6 13zM301 1298l6 37-5 32-6-32z"/><path class="k4" d="M445 1246l7 11-5 77-7-48z"/><path class="k0" d="M276 1350l6 13 6-3 7 19 6-81 6 37 6 34 7-20 6-53 6 37 7-9 6-18 6 65 6-56 7 12 6-3 6-25 7 17 6 49 6-44 6-2 7 25 6-44 6 54 6-86 7 40 6 41 6-103 7 11 6 36 6 17 6-5 7 33 6-35 6-16 6-20 7 21 6 15 6-18 7-19 6 33 6-17 6 18 7-42 6 24 6-19 7 20 6 10 5-22-7-18-6 55-6-25-7-18-6-19-6 10-6 80-7-43-6-18-6 37-6-16-7 0-6-20-6 3-7 27-6 4-6-21-6-17-7 57-6-53-6 15-6 35-7-52-6 57-6 29-7-31-6 0-6-6-6 38-7-42-6 1-6-22-7 42-6 27-6-45-6 30-7 28-6-39-6-14-6-7-7 45-6-2-6 16-7 15-6-49-6 20-6 3z"/><path class="k1" d="M538 1256l6-10-5 54-6-18zM463 1272l6 17-5 21-6-17zM375 1298l6 22-5-21-6 25zM331 1327l6 14-5-8-6-37zM325 1320l6 7-5-31-6 53z"/><path class="k2" d="M544 1246l6 19-4-7-7 42zM444 1291l6-15-5-30-6 103zM431 1274l7 52-5-18-7-40z"/><path class="k3" d="M450 1276l6 53-4-72-7-11z"/><path class="k0" d="M281 1368l6-3 6-20 6 49 7-15 6-16 6 2 7-45 6 7 6 14 6 39 7-28 6-30 6 45 6-27 7-42 6 22 6-1 7 42 6-38 6 6 6 0 7 31 6-29 6-57 7 52 6-35 6-15 6 53 7-57 6 17 6 21 6-4 7-27 6-3 6 20 7 0 6 16 6-37 6 18 7 43 6-80 6-10 6 19 7 18 6 25 6-55 7 18 4 21-6 3-6 36-6-40-7 36-6-30-6-2-7 4-6 29-6-41-6 39-7 21-6-33-6 4-6-28-7-20-6 45-6-22-7 1-6 19-6 64-6-85-7 14-6-27-6 60-7-19-6-21-6 52-6-7-7-59-6 44-6 2-6-5-7-34-6 67-6-7-7-6-6 69-6-96-6 30-7 16-6-29-6 66-6-46-7-40-6 65-6-14-7-26z"/><path class="k1" d="M486 1270l7 20-5-11-7 27zM449 1292l6 85-5-101-6 15z"/><path class="k2" d="M436 1279l6 27-4 20-7-52zM398 1285l7 59-5-21-6 38zM373 1292l7 34-5-28-7 42zM304 1316l7 40-5 23-7 15z"/><path class="k0" d="M285 1341l7 26 6 14 6-65 7 40 6 46 6-66 6 29 7-16 6-30 6 96 6-69 7 6 6 7 6-67 7 34 6 5 6-2 6-44 7 59 6 7 6-52 6 21 7 19 6-60 6 27 7-14 6 85 6-64 6-19 7-1 6 22 6-45 7 20 6 28 6-4 6 33 7-21 6-39 6 41 6-29 7-4 6 2 6 30 7-36 6 40 6-36 6-3 5 11-6 2-6-28-7 30-6-13-6-23-6 53-7-57-6-18-6 40-7 41-6-92-6 25-6 42-7 18-6-3-6 7-7-18-6-22-6 8-6 34-7-24-6-8-6 32-6-23-7 5-6 66-6-113-7 109-6-53-6 25-6-3-7 5-6-24-6 58-6 18-7-93-6 35-6-12-7 26-6-31-6 51-6-56-7 29-6 35-6-2-7-40-6 38z"/><path class="k1" d="M378 1323l6 24-4-21-7-34zM359 1306l7 93-5-47-7-6zM322 1319l6 56-5-39-6 66z"/><path class="k3" d="M535 1249l6 18-5 32-6 29zM510 1263l6-25-5 109-6-33z"/><path class="k4" d="M516 1238l6 92-4-4-7 21zM416 1264l6 113-5-78-6 52z"/><path class="k0" d="M290 1379l6-38 7 40 6 2 6-35 7-29 6 56 6-51 6 31 7-26 6 12 6-35 7 93 6-18 6-58 6 24 7-5 6 3 6-25 6 53 7-109 6 113 6-66 7-5 6 23 6-32 6 8 7 24 6-34 6-8 6 22 7 18 6-7 6 3 7-18 6-42 6-25 6 92 7-41 6-40 6 18 7 57 6-53 6 23 6 13 7-30 6 28 6-2 5-46-6 31-7 20-6 38-6-76-6-12-7 25-6-11-6 10-7 1-6 45-6-17-6-4-7-10-6 41-6-72-6 49-7-47-6 56-6 2-7-47-6 48-6 57-6-30-7-1-6-47-6 49-6-1-7 11-6-39-6 39-7 35-6-45-6 40-6-44-7-10-6 50-6-58-7 28-6-35-6 11-6 38-7-38-6 5-6-27-6 76-7-40-6-28z"/><path class="k1" d="M559 1258l6 12-5 24-6-23zM540 1282l6-10-5-5-6-18zM533 1283l7-1-5-33-6 40zM515 1307l6 4-5-73-6 25z"/><path class="k2" d="M496 1266l6 72-5-15-6-3zM483 1268l7 47-5 12-7-18zM464 1279l7 47-5-31-6 34zM314 1315l6 27-5 6-6 35zM295 1323l6 28-5-10-6 38z"/><path class="k0" d="M295 1323l6 28 7 40 6-76 6 27 6-5 7 38 6-38 6-11 6 35 7-28 6 58 6-50 7 10 6 44 6-40 6 45 7-35 6-39 6 39 7-11 6 1 6-49 6 47 7 1 6 30 6-57 6-48 7 47 6-2 6-56 7 47 6-49 6 72 6-41 7 10 6 4 6 17 6-45 7-1 6-10 6 11 7-25 6 12 6 76 6-38 7-20 6-31 5 25-7 8-6-40-6 23-6 29-7 12-6-19-6 17-6 15-7-9-6-22-6-24-7 81-6-31-6-56-6 8-7 31-6-2-6 15-6 11-7-19-6 6-6 7-7 0-6-7-6 5-6 55-7-46-6-18-6 12-7-27-6 64-6-27-6 30-7-4-6 3-6-34-6 25-7-2-6-20-6 64-7-41-6 41-6 0-6-48-7-5-6-22-6 10z"/><path class="k1" d="M576 1273l6-23-5 58-6 38zM526 1272l6 24-5 32-6-17zM488 1303l6 2-4 10-7-47zM312 1343l7 5-5-33-6 76z"/><path class="k2" d="M582 1250l6 40-4-2-7 20zM507 1266l6 56-5-25-6 41zM501 1274l6-8-5 72-6-72zM406 1297l7 27-5 2-6 39zM306 1321l6 22-4 48-7-40zM300 1331l6-10-5 30-6-28z"/><path class="k0" d="M300 1331l6-10 6 22 7 5 6 48 6 0 6-41 7 41 6-64 6 20 7 2 6-25 6 34 6-3 7 4 6-30 6 27 6-64 7 27 6-12 6 18 7 46 6-55 6-5 6 7 7 0 6-7 6-6 7 19 6-11 6-15 6 2 7-31 6-8 6 56 6 31 7-81 6 24 6 22 7 9 6-15 6-17 6 19 7-12 6-29 6-23 6 40 7-8 5-23-7 21-6 31-6-20-7 78-6-49-6-41-6 16-7 27-6-12-6-49-6 47-7 37-6-45-6 7-7 20-6-43-6-2-6 53-7-57-6 56-6-37-7 28-6-5-6-36-6 73-7 10-6-14-6-30-6-4-7 46-6-17-6-7-7-46-6 85-6-39-6 12-7 12-6 6-6 20-6-67-7 20-6-13-6 39-7-10-6 26-6-13-6 10z"/><path class="k1" d="M499 1284l6 43-4-53-7 31zM493 1282l6 2-5 21-6-2zM349 1324l6 67-5-59-6 64zM336 1331l6 13-5 11-6 41z"/><path class="k2" d="M537 1261l6 49-5 8-6-22zM480 1278l7 57-5-17-6 11zM449 1284l6 36-5 3-6-7z"/><path class="k3" d="M392 1295l7 46-5-7-6 30z"/><path class="k0" d="M305 1383l6-10 6 13 6-26 7 10 6-39 6 13 7-20 6 67 6-20 6-6 7-12 6-12 6 39 6-85 7 46 6 7 6 17 7-46 6 4 6 30 6 14 7-10 6-73 6 36 6 5 7-28 6 37 6-56 7 57 6-53 6 2 6 43 7-20 6-7 6 45 7-37 6-47 6 49 6 12 7-27 6-16 6 41 6 49 7-78 6 20 6-31 7-21 4 43-6-7-6 29-6-50-7 19-6 8-6-7-7 19-6 8-6-78-6 72-7 2-6 11-6-27-7-24-6 14-6 77-6-101-7 46-6 27-6-75-6 44-7 17-6 12-6-22-7-3-6-21-6 88-6-8-7-39-6 3-6-7-6-10-7 32-6 8-6-9-7 13-6-38-6 6-6 34-7-41-6 34-6-36-7 58-6-78-6 47-6-14-7 35z"/><path class="k1" d="M510 1291l6-14-4 30-7 20zM491 1313l7-46-5 15-6 53zM454 1316l6 22-5-18-6-36zM447 1313l7 3-5-32-6 73zM353 1324l7 41-5 26-6-67zM316 1335l6 14-5 37-6-13z"/><path class="k2" d="M516 1277l7 24-5-1-6 7zM473 1309l6-44-5 69-6-37zM441 1292l6 21-4 44-7 10zM341 1322l6 36-5-14-6-13zM322 1349l6-47-5 58-6 26z"/><path class="k3" d="M498 1267l6 101-5-84-6-2z"/><path class="k4" d="M548 1243l6 78-5 1-6-12zM479 1265l6 75-5-62-6 56zM328 1302l6 78-4-10-7-10z"/><path class="k0" d="M309 1370l7-35 6 14 6-47 6 78 7-58 6 36 6-34 7 41 6-34 6-6 6 38 7-13 6 9 6-8 7-32 6 10 6 7 6-3 7 39 6 8 6-88 6 21 7 3 6 22 6-12 7-17 6-44 6 75 6-27 7-46 6 101 6-77 6-14 7 24 6 27 6-11 7-2 6-72 6 78 6-8 7-19 6 7 6-8 7-19 6 50 6-29 6 7 5-28-6-31-6 48-7-21-6 51-6-46-7-1-6 56-6-31-6 7-7-27-6 49-6-56-6 31-7 23-6-20-6 24-7-30-6 32-6 13-6 10-7-18-6 14-6-58-6 76-7-26-6-20-6 16-7-14-6 18-6 12-6 6-7-27-6-66-6 80-7-2-6 15-6 16-6-48-7 29-6 15-6-36-6 25-7-60-6 22-6 26-7 24-6-30z"/><path class="k1" d="M597 1291l6-48-5 52-6 29zM571 1274l7 1-5 26-6-7zM553 1306l6-7-5 22-6-78zM446 1323l6 20-5-30-6-21zM371 1329l6 48-5-52-6 6zM352 1337l6 36-5-49-6 34zM314 1344l6 30-4-39-7 35z"/><path class="k2" d="M534 1272l6 56-5-11-6 11zM502 1300l7 30-5 38-6-101zM465 1293l6 58-5-25-6 12zM396 1348l6-80-5 83-6 8zM327 1350l6-26-5-22-6 47z"/><path class="k3" d="M603 1243l6 31-5 28-6-7zM546 1279l7 27-5-63-6 72zM333 1324l6-22-5 78-6-78z"/><path class="k4" d="M339 1302l7 60-5-40-7 58z"/><path class="k6" d="M402 1268l6 66-4-15-7 32z"/><path class="k0" d="M314 1344l6 30 7-24 6-26 6-22 7 60 6-25 6 36 6-15 7-29 6 48 6-16 6-15 7 2 6-80 6 66 7 27 6-6 6-12 6-18 7 14 6-16 6 20 7 26 6-76 6 58 6-14 7 18 6-10 6-13 6-32 7 30 6-24 6 20 7-23 6-31 6 56 6-49 7 27 6-7 6 31 6-56 7 1 6 46 6-51 7 21 6-48 6 31 5 14-6-9-7 20-6 12-6 23-6 0-7-51-6 46-6-66-7 21-6 49-6-5-6 36-7-21-6-29-6 22-6 49-7-73-6 15-6 3-7-6-6-28-6 48-6 5-7-32-6 38-6 16-7-51-6 5-6 50-6-57-7-5-6 53-6 21-6-11-7 30-6-74-6 6-7 50-6-11-6 1-6-12-7-37-6 27-6-4-6 6-7-5-6 27z"/><path class="k1" d="M608 1279l6 9-5-14-6-31zM557 1284l7-21-5 36-6 7zM482 1296l6 28-4 31-7-18zM463 1317l7 32-5-56-6 76zM426 1318l6 57-5-32-6 12zM419 1313l7 5-5 37-6 6zM401 1376l6 11-5-119-6 80zM332 1358l6-6-5-28-6 26z"/><path class="k2" d="M564 1263l6 66-5 1-6-31zM350 1329l7 37-5-29-6 25zM344 1356l6-27-4 33-7-60zM338 1352l6 4-5-54-6 22z"/><path class="k0" d="M319 1380l6-27 7 5 6-6 6 4 6-27 7 37 6 12 6-1 6 11 7-50 6-6 6 74 7-30 6 11 6-21 6-53 7 5 6 57 6-50 6-5 7 51 6-16 6-38 7 32 6-5 6-48 6 28 7 6 6-3 6-15 7 73 6-49 6-22 6 29 7 21 6-36 6 5 6-49 7-21 6 66 6-46 7 51 6 0 6-23 6-12 7-20 6 9 5-45-7 48-6-3-6 21-6-7-7-7-6 41-6-35-6 28-7-12-6 11-6-69-7 49-6 23-6-10-6 3-7 24-6-61-6 63-7 37-6-75-6 45-6-34-7 42-6 0-6-14-6-72-7 85-6-4-6-77-7 53-6 9-6-46-6 46-7-32-6 21-6 25-6 12-7-62-6 28-6 5-7 3-6 7-6-4-6 53-7-8-6 12-6-23z"/><path class="k1" d="M612 1291l7-48-5 45-6-9zM543 1308l7-49-5 69-6 36zM412 1345l6-46-5 67-6 21zM399 1334l6-21-4 63-7 30zM349 1348l6 4-5-23-6 27z"/><path class="k2" d="M512 1287l6 61-4 37-7-73zM430 1336l7-53-5 92-6-57zM405 1313l7 32-5 42-6-11zM374 1337l6-28-5 79-6-11z"/><path class="k3" d="M418 1299l6 46-5-32-6 53zM380 1309l7 62-5-33-7 50z"/><path class="k4" d="M550 1259l6 69-5 5-6-5zM456 1279l6 72-5 4-6 16z"/><path class="k5" d="M437 1283l6 77-5-35-6 50z"/><path class="k0" d="M324 1382l6 23 6-12 7 8 6-53 6 4 6-7 7-3 6-5 6-28 7 62 6-12 6-25 6-21 7 32 6-46 6 46 6-9 7-53 6 77 6 4 7-85 6 72 6 14 6 0 7-42 6 34 6-45 6 75 7-37 6-63 6 61 7-24 6-3 6 10 6-23 7-49 6 69 6-11 7 12 6-28 6 35 6-41 7 7 6 7 6-21 6 3 7-48 5 55-7 24-6-32-6 11-7-3-6-36-6 37-6-12-7 50-6-23-6-2-7 67-6-41-6 11-6-46-7-106-6 124-6-52-6 2-7 76-6 14-6 18-7-36-6-45-6 32-6-6-7 15-6 32-6-18-6 16-7 21-6-63-6-7-7 16-6 46-6-43-6-15-7 67-6 4-6-33-7-5-6 31-6-1-6-40-7 30-6 17-6-31-6 59z"/><path class="k1" d="M586 1299l6-37-5 33-6 41zM460 1339l7-15-5 27-6-72zM416 1336l7-16-5-21-6 46zM404 1339l6 43-5-69-6 21zM398 1324l6 15-5-5-6 25zM379 1362l6 33-5-86-6 28z"/><path class="k2" d="M479 1298l6 45-4-20-7 42zM423 1320l6 7-5 18-6-46z"/><path class="k3" d="M592 1262l6 36-4 4-7-7z"/><path class="k4" d="M517 1269l6 52-5 27-6-61zM511 1271l6-2-5 18-6 63z"/><path class="k5" d="M523 1321l6-124-4 127-7 24z"/><path class="k12" d="M529 1197l7 106-5 18-6 3z"/><path class="k0" d="M329 1422l6-59 6 31 6-17 7-30 6 40 6 1 6-31 7 5 6 33 6-4 7-67 6 15 6 43 6-46 7-16 6 7 6 63 7-21 6-16 6 18 6-32 7-15 6 6 6-32 6 45 7 36 6-18 6-14 7-76 6-2 6 52 6-124 7 106 6 46 6-11 6 41 7-67 6 2 6 23 7-50 6 12 6-37 6 36 7 3 6-11 6 32 7-24 4-3-6 3-6 3-7-9-6-16-6 36-6-15-7 45-6-19-6 3-6-5-7-11-6 13-6 8-7 31-6-36-6 39-6-65-7 29-6-22-6 53-6 20-7-25-6-32-6-35-7 19-6 57-6-38-6-27-7 72-6-22-6 3-7 44-6-29-6-22-6 29-7-35-6 20-6-13-6 20-7 1-6-22-6 32-7-9-6-6-6-8-6 11-7-3z"/><path class="k1" d="M603 1276l6 16-4 9-7-3zM591 1297l6 15-5-50-6 37zM515 1329l7-29-5-31-6 2zM484 1323l6 32-5-12-6-45zM402 1339l7 35-5-35-6-15z"/><path class="k2" d="M522 1300l6 65-5-44-6-52zM509 1307l6 22-4-58-7 76z"/><path class="k3" d="M528 1365l6-39-5-129-6 124zM478 1288l6 35-5-25-6 32zM471 1307l7-19-5 42-6-6zM453 1299l6 27-5 45-6-18z"/><path class="k5" d="M534 1326l6 36-4-59-7-106z"/><path class="k0" d="M333 1362l7 3 6-11 6 8 6 6 7 9 6-32 6 22 7-1 6-20 6 13 6-20 7 35 6-29 6 22 6 29 7-44 6-3 6 22 7-72 6 27 6 38 6-57 7-19 6 35 6 32 7 25 6-20 6-53 6 22 7-29 6 65 6-39 6 36 7-31 6-8 6-13 7 11 6 5 6-3 6 19 7-45 6 15 6-36 6 16 7 9 6-3 6-3 5 1-6-17-6 40-7-23-6 22-6-7-7-13-6 13-6 70-6-89-7 67-6-55-6 5-6 90-7-63-6 20-6-44-7 20-6-1-6-22-6 35-7 5-6 7-6-12-7-20-6 25-6 4-6-19-7 6-6 35-6-39-6 13-7 4-6-1-6 15-7 19-6 18-6-29-6-11-7-27-6 75-6-62-6 21-7-5-6 30-6 7-7-40-6 94z"/><path class="k1" d="M457 1340l7-6-5-8-6-27zM388 1337l7 27-5-18-6 20z"/><path class="k2" d="M482 1324l7 20-5-21-6-35z"/><path class="k0" d="M338 1457l6-94 7 40 6-7 6-30 7 5 6-21 6 62 6-75 7 27 6 11 6 29 6-18 7-19 6-15 6 1 7-4 6-13 6 39 6-35 7-6 6 19 6-4 6-25 7 20 6 12 6-7 7-5 6-35 6 22 6 1 7-20 6 44 6-20 7 63 6-90 6-5 6 55 7-67 6 89 6-70 6-13 7 13 6 7 6-22 7 23 6-40 6 17 5 36-6-58-7 2-6-40-6 105-6-28-7 17-6-51-6 61-7-72-6 48-6 1-6 41-7-16-6-63-6 67-7 6-6 9-6-55-6 5-7 95-6-70-6 27-6 25-7-64-6 46-6-36-7 41-6-8-6 61-6-70-7 9-6-12-6-8-6 55-7-36-6-41-6 57-7-23-6-25-6 42-6 7-7-4-6-7-6-19-7 79-6-40-6-33z"/><path class="k1" d="M632 1274l6 58-5-36-6-17zM625 1276l7-2-5 5-6 40zM575 1316l6-48-4 24-7 67zM525 1306l6 55-5-29-6-1zM519 1311l6-5-5 25-6-22z"/><path class="k2" d="M594 1279l6 51-5-32-6 13zM412 1325l6 41-5 20-6 18zM393 1334l6 25-4 5-7-27z"/><path class="k3" d="M581 1268l7 72-5 41-6-89zM550 1279l6 63-4 57-7-63z"/><path class="k6" d="M619 1236l6 40-4 43-7-23z"/><path class="k0" d="M343 1359l6 33 6 40 7-79 6 19 6 7 7 4 6-7 6-42 6 25 7 23 6-57 6 41 7 36 6-55 6 8 6 12 7-9 6 70 6-61 6 8 7-41 6 36 6-46 7 64 6-25 6-27 6 70 7-95 6-5 6 55 6-9 7-6 6-67 6 63 7 16 6-41 6-1 6-48 7 72 6-61 6 51 7-17 6 28 6-105 6 40 7-2 6 58 5 5-7-42-6 6-6 1-6 49-7-63-6-33-6 81-7-6-6 3-6-49-6 1-7 61-6 10-6-55-6 42-7-19-6 8-6 3-7-2-6 23-6 24-6-50-7 39-6 3-6-58-6 33-7 22-6-81-6 63-7 20-6 13-6-12-6 14-7 20-6-18-6-14-7-28-6 43-6-26-6 31-7 6-6-25-6 28-6-18-7-64-6 101-6-31z"/><path class="k1" d="M611 1288l7 63-5-10-6-28zM486 1314l6 58-5-48-6 46zM461 1351l6-63-5 79-6 61zM410 1346l7 28-5-49-6 57z"/><path class="k2" d="M624 1302l6-1-5-25-6-40zM574 1285l6-1-5 32-6 1zM555 1301l6 55-5-14-6-63z"/><path class="k3" d="M580 1284l6 49-5-65-6 48z"/><path class="k4" d="M605 1255l6 33-4 25-7 17zM360 1321l7 64-5-32-7 79z"/><path class="k5" d="M467 1288l6 81-5 6-6-8z"/><path class="k0" d="M348 1391l6 31 6-101 7 64 6 18 6-28 6 25 7-6 6-31 6 26 6-43 7 28 6 14 6 18 7-20 6-14 6 12 6-13 7-20 6-63 6 81 7-22 6-33 6 58 6-3 7-39 6 50 6-24 6-23 7 2 6-3 6-8 7 19 6-42 6 55 6-10 7-61 6-1 6 49 6-3 7 6 6-81 6 33 7 63 6-49 6-1 6-6 7 42 4 33-6-66-6-45-6 2-7 56-6 13-6-36-6 26-7 5-6 63-6-48-7-9-6-63-6 96-6-29-7-6-6-46-6 31-6 69-7-67-6 51-6 0-7 26-6-8-6-51-6 37-7-71-6 98-6-59-7 54-6-32-6-15-6 11-7 35-6 14-6 26-6-124-7 65-6 13-6 1-7 7-6 22-6-74-6 82-7-55-6 35-6-28-7 15z"/><path class="k1" d="M604 1320l6-26-5-39-6 81zM415 1373l7-65-5 66-7-28z"/><path class="k2" d="M610 1294l6 36-5-42-6-33zM541 1314l6-31-5 41-6 8zM472 1339l6 59-5-29-6-81zM384 1342l6 74-5-16-6-25zM359 1376l6 28-5-83-6 101z"/><path class="k3" d="M547 1283l6 46-4 14-7-19zM484 1300l7 71-5-57-6 33z"/><path class="k4" d="M635 1259l6 45-5-9-6 6zM629 1261l6-2-5 42-6 1zM572 1268l6 63-4-46-7 61zM422 1308l6 124-5-44-6-14z"/></g>
<path d="M127.3 1134.4L127.3 1362.1L352.5 1465.8L647.5 1386.5" stroke="#262626" stroke-width="2.2" fill="none" stroke-linejoin="miter"/><path d="M127.3 1336.8l-8 -3M127.3 1286.2l-8 -3M127.3 1235.6l-8 -3M127.3 1185l-8 -3M127.3 1134.4l-8 -3M298.3 1440.9l-7.5 2.2M423.4 1446.7l7.6 3.6M241.3 1414.6l-7.5 2.2M498.1 1426.6l7.6 3.6M184.3 1388.3l-7.5 2.2M572.8 1406.6l7.6 3.6M127.3 1362.1l-7.5 2.2M647.5 1386.5l7.6 3.6" stroke="#262626" stroke-width="1.9" fill="none"/>
<text class="ls" x="111.7" y="1338.1" font-size="27.7" text-anchor="end" fill="#262626">-2</text>
<text class="ls" x="111.7" y="1287.5" font-size="27.7" text-anchor="end" fill="#262626">0</text>
<text class="ls" x="111.7" y="1236.9" font-size="27.7" text-anchor="end" fill="#262626">2</text>
<text class="ls" x="111.7" y="1186.3" font-size="27.7" text-anchor="end" fill="#262626">4</text>
<text class="ls" x="111.7" y="1135.7" font-size="27.7" text-anchor="end" fill="#262626">6</text>
<text class="ls" x="95.5" y="1387.3" font-size="27.7" text-anchor="middle" fill="#262626">80</text>
<text class="ls" x="152.5" y="1414" font-size="27.7" text-anchor="middle" fill="#262626">60</text>
<text class="ls" x="209.3" y="1440.4" font-size="27.7" text-anchor="middle" fill="#262626">40</text>
<text class="ls" x="266.5" y="1466.8" font-size="27.7" text-anchor="middle" fill="#262626">20</text>
<text class="ls" x="453.9" y="1474.8" font-size="27.7" text-anchor="middle" fill="#262626">20</text>
<text class="ls" x="528" y="1454.4" font-size="27.7" text-anchor="middle" fill="#262626">40</text>
<text class="ls" x="602.8" y="1433.9" font-size="27.7" text-anchor="middle" fill="#262626">60</text>
<text class="ls" x="676.9" y="1414.2" font-size="27.7" text-anchor="middle" fill="#262626">80</text>
<text class="ls" y="1103.6" fill="#262626"><tspan x="50.5" dy="3.4" font-size="31">×</tspan><tspan x="71.7" dy="-3.4" font-size="27.7">10</tspan><tspan x="103.3" dy="-14.3" font-size="23.5">-3</tspan></text>
<text class="se" x="214.5" y="1507.8" font-size="31" text-anchor="middle" fill="#262626">η</text>
<text class="se" x="507.5" y="1511.8" font-size="31" text-anchor="middle" fill="#262626">ξ</text>
<text class="ls" transform="translate(74.3 1248.8) rotate(-90)" font-size="30.5" text-anchor="middle" fill="#262626">CC G-Ch</text>
<text class="ls" x="419.1" y="1024" font-size="25.4" text-anchor="middle" fill="#111">EGFP-PYL vs. mCherry-ABI</text>
<path d="M836.8 1336.8L1131.8 1257.5M1131.8 1257.5L1357 1361.2M836.8 1286.2L1131.8 1206.9M1131.8 1206.9L1357 1310.6M836.8 1235.6L1131.8 1156.3M1131.8 1156.3L1357 1260M836.8 1185L1131.8 1105.7M1131.8 1105.7L1357 1209.4M836.8 1134.4L1131.8 1055.1M1131.8 1055.1L1357 1158.8M907.7 1343L907.7 1115.3M1302.8 1361.5L1302.8 1133.8M1132.9 1446.7L907.7 1343M1007.8 1440.9L1302.8 1361.5M982.4 1322.9L982.4 1095.2M1245.8 1335.3L1245.8 1107.6M1207.6 1426.6L982.4 1322.9M950.8 1414.6L1245.8 1335.3M1057.1 1302.8L1057.1 1075.1M1188.8 1309L1188.8 1081.3M1282.3 1406.6L1057.1 1302.8M893.8 1388.3L1188.8 1309M1131.8 1282.8L1131.8 1055.1M836.8 1362.1L1131.8 1282.8M1131.8 1282.8L1357 1386.5" stroke="#d3d3d3" stroke-width="1.6" fill="none"/>
<g stroke-width="0.6" stroke-linejoin="round"><path class="k0" d="M837 1278l6-11 6 0 7 42 6-22 6 5 6-4 7-1 6-24 6 17 7-28 6 64 6-20 6-22 7-8 6-11 6 40 6-51 7 32 6-72 6 74 7-31 6 23 6-17 6-22 7 1 6 7 6 29 7-28 6-9 6 13 6-22 7 29 6-47 6-21 6 65 7 9 6-30 6-8 7 12 6 5 6-27 6 13 7-22 6-11 6 16 6-19 7 37 5-18-7 27-6-7-6 3-7-2-6-29-6 66-6-30-7 11-6-32-6-12-6 30-7 28-6-33-6-3-7 24-6 4-6-42-6 43-7 1-6-23-6 47-7-36-6-25-6 52-6-4-7 4-6-23-6 23-6-39-7 17-6 23-6 5-7-5-6 26-6-29-6 3-7-20-6 28-6-40-7 45-6 42-6-50-6-10-7 8-6 4-6 19-6 33z"/><path class="k1" d="M1105 1197l6 29-4-26-7 22zM961 1267l6-23-5 34-6-74zM948 1245l7-17-5 48-7-32zM904 1248l7 20-5 48-6-64zM867 1263l6 10-5 19-6-5z"/><path class="k2" d="M1074 1200l6 12-5 7-6 8zM1055 1225l6 33-5-10-6-65zM1049 1222l6 3-5-42-6 21zM1030 1208l6 42-5-28-6 22zM992 1215l6 25-4-8-7-1z"/><path class="k3" d="M955 1228l6 39-5-63-6 72zM892 1236l6 40-5 4-6-17z"/><path class="k0" d="M842 1327l6-33 6-19 6-4 7-8 6 10 6 50 6-42 7-45 6 40 6-28 7 20 6-3 6 29 6-26 7 5 6-5 6-23 7-17 6 39 6-23 6 23 7-4 6 4 6-52 6 25 7 36 6-47 6 23 7-1 6-43 6 42 6-4 7-24 6 3 6 33 7-28 6-30 6 12 6 32 7-11 6 30 6-66 6 29 7 2 6-3 6 7 7-27 4-1-6-4-6 27-6-8-7-10-6 21-6 12-7-26-6-8-6 34-6 13-7-50-6 43-6-23-7-7-6 8-6 27-6-21-7 8-6-22-6 38-6-20-7 42-6-79-6 3-7 38-6 14-6 16-6 18-7-45-6 53-6-66-7 43-6 14-6-24-6 18-7 9-6-5-6-7-6 21-7-35-6 14-6 27-7-7-6-55-6 70-6-26-7 13z"/><path class="k1" d="M1035 1232l6 21-5-3-6-42zM1022 1218l6 22-4 11-7 1zM959 1243l7 45-5-21-6-39z"/><path class="k2" d="M1072 1205l7 50-5-55-6 30zM984 1240l7-38-5 65-6-4zM947 1230l6 66-5-51-6 23zM890 1264l7 35-5-63-7 45z"/><path class="k4" d="M865 1243l6 55-4-35-7 8z"/><path class="k5" d="M997 1199l6 79-5-38-6-25zM991 1202l6-3-5 16-6 52z"/><path class="k0" d="M846 1300l7-13 6 26 6-70 6 55 7 7 6-27 6-14 7 35 6-21 6 7 6 5 7-9 6-18 6 24 6-14 7-43 6 66 6-53 7 45 6-18 6-16 6-14 7-38 6-3 6 79 7-42 6 20 6-38 6 22 7-8 6 21 6-27 6-8 7 7 6 23 6-43 7 50 6-13 6-34 6 8 7 26 6-12 6-21 7 10 6 8 6-27 6 4 5 7-6-28-6 67-7-46-6-4-6 28-7 9-6-11-6-10-6 27-7-1-6 28-6-39-6-2-7 30-6 4-6-35-7 19-6 11-6 38-6-42-7-26-6 51-6-46-6 16-7 23-6-1-6-35-7 4-6-4-6-8-6 8-7 45-6-31-6 52-7-47-6-18-6 47-6-31-7 26-6-4-6-13-6 39-7-65-6 10-6 17-7 38-6 3z"/><path class="k1" d="M1121 1200l6 4-4 15-7-10zM1014 1228l7 26-5 2-6-20zM977 1236l6 35-5-17-6 16zM970 1240l7-4-5 34-6 18zM939 1250l6 31-5-8-6 14zM926 1255l7 47-5-39-6 18zM908 1253l6 31-5 1-6-7zM889 1262l6 13-5-11-6 14z"/><path class="k2" d="M1140 1183l6 28-5-7-6-4zM996 1249l6-16-5-34-6 3zM964 1236l6 4-4 48-7-45zM952 1236l6-8-5 68-6-66z"/><path class="k3" d="M1002 1233l6 46-5-1-6-79zM958 1228l6 8-5 7-6 53zM920 1237l6 18-4 26-7 9zM864 1263l6-17-5-3-6 70z"/><path class="k4" d="M876 1236l7 65-5 4-7-7zM870 1246l6-10-5 62-6-55z"/><path class="k0" d="M851 1304l6-3 7-38 6-17 6-10 7 65 6-39 6 13 6 4 7-26 6 31 6-47 6 18 7 47 6-52 6 31 7-45 6-8 6 8 6 4 7-4 6 35 6 1 7-23 6-16 6 46 6-51 7 26 6 42 6-38 6-11 7-19 6 35 6-4 7-30 6 2 6 39 6-28 7 1 6-27 6 10 6 11 7-9 6-28 6 4 7 46 6-67 6 28 5-9-6-10-7 36-6-2-6-9-6 19-7 11-6-28-6 57-7-83-6 5-6 26-6 35-7-26-6 7-6-2-6 10-7-33-6 30-6-29-7 25-6 17-6 4-6-6-7-3-6-2-6-4-7 0-6 27-6 11-6-33-7 14-6 10-6-2-6-4-7 27-6-19-6 3-7 6-6-56-6 64-6-27-7 11-6-26-6 40-7-19-6 70-6-92z"/><path class="k1" d="M1082 1224l6-26-5 44-6 28zM1025 1241l7-25-5 80-6-42zM981 1247l7 0-5 24-6-35zM963 1252l6 33-5-49-6-8zM956 1266l7-14-5-24-6 8zM925 1278l6 19-5-42-6-18zM919 1281l6-3-5-41-6 47zM900 1295l6-64-5 48-6-4zM894 1268l6 27-5-20-6-13zM875 1293l6-40-5-17-6 10z"/><path class="k2" d="M1145 1192l6 10-5 9-6-28zM1044 1215l7 33-5-20-7 19zM1032 1216l6 29-5 13-6 38zM868 1274l7 19-5-47-6 17z"/><path class="k3" d="M1094 1193l7 83-5-60-6 27zM1088 1198l6-5-4 50-7-1z"/><path class="k4" d="M881 1253l6 26-4 22-7-65zM856 1252l6 92-5-43-6 3z"/><path class="k5" d="M906 1231l6 56-4-34-7 26z"/><path class="k0" d="M856 1252l6 92 6-70 7 19 6-40 6 26 7-11 6 27 6-64 6 56 7-6 6-3 6 19 7-27 6 4 6 2 6-10 7-14 6 33 6-11 6-27 7 0 6 4 6 2 7 3 6 6 6-4 6-17 7-25 6 29 6-30 7 33 6-10 6 2 6-7 7 26 6-35 6-26 6-5 7 83 6-57 6 28 7-11 6-19 6 9 6 2 7-36 6 10 5 55-7-54-6 7-6 24-6-1-7-34-6 36-6 17-6-21-7-6-6 5-6-5-7 8-6-30-6-12-6 43-7-16-6 34-6 11-7-6-6-47-6 33-6 31-7-16-6 10-6-31-6 14-7 10-6-23-6 24-7 5-6-21-6 41-6 2-7-7-6 4-6-3-7-2-6 14-6-1-6-39-7 23-6 7-6 23-6-28-7 31-6-28-6 37z"/><path class="k1" d="M1149 1203l7 54-5-55-6-10zM1143 1210l6-7-4-11-7 36zM1099 1225l7 6-5 45-7-83zM1093 1230l6-5-5-32-6 5zM1087 1225l6 5-5-32-6 26zM999 1237l6 31-5-15-6-2zM961 1246l6 21-4-15-7 14zM911 1294l6 1-5-8-6-56zM898 1278l7-23-5 40-6-27zM880 1280l6 28-5-55-6 40z"/><path class="k2" d="M1124 1199l7 34-5-16-6 19zM1062 1234l6-43-5 49-6-2zM1055 1218l7 16-5 4-6 10zM1024 1243l6-33-5 31-6 17zM980 1238l6 23-5-14-6 27z"/><path class="k3" d="M1074 1203l6 30-4 26-7-26zM1030 1210l6 47-4-41-7 25zM905 1255l6 39-5-63-6 64z"/><path class="k5" d="M1068 1191l6 12-5 30-6 7z"/><path class="k0" d="M861 1320l6-37 6 28 7-31 6 28 6-23 6-7 7-23 6 39 6 1 6-14 7 2 6 3 6-4 7 7 6-2 6-41 6 21 7-5 6-24 6 23 7-10 6-14 6 31 6-10 7 16 6-31 6-33 6 47 7 6 6-11 6-34 7 16 6-43 6 12 6 30 7-8 6 5 6-5 7 6 6 21 6-17 6-36 7 34 6 1 6-24 6-7 7 54 5-30-7-13-6 28-6-28-7 49-6-46-6 43-6-52-7 57-6-28-6-14-7 26-6-38-6-20-6 69-7 16-6-26-6-8-6 31-7-30-6 16-6-2-7 6-6-31-6 16-6 36-7-30-6 42-6-29-7 6-6 42-6-76-6 19-7 24-6 42-6-35-6 5-7-23-6 7-6-17-7 36-6-23-6 31-6-33-7 16-6 13-6 22-6-11z"/><path class="k1" d="M1129 1217l6 46-4-30-7-34zM1117 1208l6 52-5-25-6 17zM1035 1259l6-16-5 14-6-47zM1029 1257l6 2-5-49-6 33zM1010 1248l6-16-5 26-6 10zM960 1258l6-19-5 7-6 41zM916 1261l6 17-5 17-6-1zM903 1274l6 23-4-42-7 23zM891 1272l6 33-5-20-6 23z"/><path class="k2" d="M1085 1211l6 38-4-24-7 8zM1016 1232l6 31-4 11-7-16z"/><path class="k3" d="M966 1239l6 76-5-48-6-21z"/><path class="k5" d="M1079 1191l6 20-5 22-6-30z"/><path class="k0" d="M866 1312l6 11 6-22 6-13 7-16 6 33 6-31 6 23 7-36 6 17 6-7 7 23 6-5 6 35 6-42 7-24 6-19 6 76 6-42 7-6 6 29 6-42 7 30 6-36 6-16 6 31 7-6 6 2 6-16 7 30 6-31 6 8 6 26 7-16 6-69 6 20 6 38 7-26 6 14 6 28 7-57 6 52 6-43 6 46 7-49 6 28 6-28 7 13 4-12-6 19-6 13-7-5-6-20-6 16-6 43-7-70-6 28-6-3-6 13-7-11-6 16-6-45-7 55-6-15-6-2-6-9-7 37-6-19-6 19-7 3-6-11-6-44-6 40-7-5-6 26-6 6-6 5-7-50-6 75-6-26-7-7-6-17-6 22-6 18-7-57-6 49-6-23-6-4-7-7-6 11-6 10-7-11-6 38-6-7-6-27-7 8z"/><path class="k1" d="M1121 1211l7 70-5-21-6-52zM1015 1263l6-40-5 9-6 16zM921 1275l6 4-5-1-6-17zM914 1268l7 7-5-14-7 36zM908 1279l6-11-5 29-6-23zM895 1278l7 11-5 16-6-33zM877 1282l6 27-5-8-6 22z"/><path class="k2" d="M983 1245l7 50-5-28-7 6zM939 1253l7 57-5-21-6 5z"/><path class="k3" d="M1021 1223l6 44-5-4-6-31z"/><path class="k4" d="M1084 1209l6 45-5-43-6-20z"/><path class="k0" d="M870 1290l7-8 6 27 6 7 6-38 7 11 6-10 6-11 7 7 6 4 6 23 6-49 7 57 6-18 6-22 6 17 7 7 6 26 6-75 7 50 6-5 6-6 6-26 7 5 6-40 6 44 6 11 7-3 6-19 6 19 7-37 6 9 6 2 6 15 7-55 6 45 6-16 7 11 6-13 6 3 6-28 7 70 6-43 6-16 6 20 7 5 6-13 6-19 5 21-6-3-6 7-7 3-6-23-6-28-7 21-6 33-6-13-6 32-7-18-6-29-6 41-6 22-7-18-6-32-6 1-7 30-6-25-6 70-6-40-7-6-6 12-6 3-7-62-6 36-6 39-6-12-7-6-6 21-6-22-6-7-7-15-6 14-6 40-7-11-6-30-6 31-6 21-7 7-6-59-6 19-7-1-6 50-6-72-6 22-7 16-6 31z"/><path class="k1" d="M1101 1218l6 29-4 2-7-11zM1076 1231l6 32-5 1-6-15zM1070 1232l6-1-5 18-6-2zM1057 1237l6 25-4-24-7 37zM963 1262l6-14-5 39-6-17zM913 1280l6-19-5 7-6 11z"/><path class="k2" d="M1132 1213l7-21-5 46-6 43zM1013 1250l6-36-4 49-7-5zM969 1248l7 15-5 31-7-7zM944 1261l6 30-4 19-7-57zM919 1261l6 59-4-45-7-7zM888 1279l6-22-5 59-6-7z"/><path class="k3" d="M1139 1192l6 28-5 2-6 16zM894 1257l6 72-5-51-6 38z"/><path class="k5" d="M1019 1214l7 62-5-53-6 40z"/><path class="k0" d="M875 1326l6-31 7-16 6-22 6 72 6-50 7 1 6-19 6 59 7-7 6-21 6-31 6 30 7 11 6-40 6-14 7 15 6 7 6 22 6-21 7 6 6 12 6-39 6-36 7 62 6-3 6-12 7 6 6 40 6-70 6 25 7-30 6-1 6 32 7 18 6-22 6-41 6 29 7 18 6-32 6 13 6-33 7-21 6 28 6 23 7-3 6-7 6 3 5 9-6-57-7 47-6-16-6 65-6-71-7 12-6 10-6-29-7 18-6 2-6-9-6 35-7 13-6-13-6 18-7-35-6 44-6 17-6-25-7 2-6 5-6-5-6-6-7-8-6-20-6 6-7 17-6-16-6 19-6-6-7 36-6-27-6 22-7-24-6 30-6-12-6 15-7-32-6 25-6 8-6 6-7-40-6 19-6 38-7-15-6-15-6 15z"/><path class="k1" d="M1162 1235l7-47-5 45-6 7zM1112 1226l6-2-4 41-7-18zM1074 1235l7 35-5-39-6 1zM1005 1262l7-17-5 44-6-12zM993 1265l6-19-5 25-6 21zM987 1259l6 6-5 27-6-22zM974 1268l6 27-4-32-7-15zM961 1266l7 24-5-28-6 40zM936 1267l7 32-5-7-6 21zM905 1285l6-19-5 13-6 50zM892 1308l7 15-5-66-6 22z"/><path class="k2" d="M1144 1213l6 71-5-64-6-28zM1137 1225l7-12-5-21-7 21zM1118 1224l7-18-5 27-6 32zM1106 1217l6 9-5 21-6-29zM1024 1259l7 8-5 9-7-62zM1012 1245l6-6-5 11-6 39zM999 1246l6 16-4 15-7-6zM911 1266l7 40-5-26-7-1z"/><path class="k3" d="M1169 1188l6 57-5-9-6-3zM1125 1206l6 29-5 11-6-13zM1018 1239l6 20-5-45-6 36z"/><path class="k0" d="M880 1308l6-15 6 15 7 15 6-38 6-19 7 40 6-6 6-8 6-25 7 32 6-15 6 12 6-30 7 24 6-22 6 27 7-36 6 6 6-19 6 16 7-17 6-6 6 20 7 8 6 6 6 5 6-5 7-2 6 25 6-17 6-44 7 35 6-18 6 13 7-13 6-35 6 9 6-2 7-18 6 29 6-10 7-12 6 71 6-65 6 16 7-47 6 57 5-2-7 21-6-23-6 1-6-12-7-43-6 39-6 40-7-36-6 8-6 5-6 31-7-6-6-33-6 66-6-64-7 9-6-13-6 31-7 38-6-68-6 29-6-2-7 26-6-20-6 7-7-7-6 4-6 32-6-18-7-34-6 43-6 10-6-42-7 49-6 3-6-18-7-19-6-17-6 70-6-35-7 1-6 15-6-1-6 1-7-57-6 61-6-2z"/><path class="k1" d="M1129 1230l7 36-5-31-6-29zM1123 1238l6-8-4-24-7 18zM1086 1237l6 64-5-49-6 18zM1073 1233l6 13-5-11-6 44zM1016 1267l7 7-5-35-6 6zM973 1262l6 42-5-36-6 22zM891 1315l6-61-5 54-6-15z"/><path class="k2" d="M1142 1226l6-39-4 26-7 12zM1054 1234l6 68-4-31-7 2zM991 1251l7 34-5-20-6-6zM941 1260l6 17-4 22-7-32z"/><path class="k5" d="M1148 1187l7 43-5 54-6-71zM897 1254l7 57-5 12-7-15z"/><path class="k0" d="M885 1313l6 2 6-61 7 57 6-1 6 1 6-15 7-1 6 35 6-70 6 17 7 19 6 18 6-3 7-49 6 42 6-10 6-43 7 34 6 18 6-32 6-4 7 7 6-7 6 20 7-26 6 2 6-29 6 68 7-38 6-31 6 13 7-9 6 64 6-66 6 33 7 6 6-31 6-5 6-8 7 36 6-40 6-39 7 43 6 12 6-1 6 23 7-21 4-30-6 46-6 2-6-17-7 23-6-13-6-28-6 58-7-28-6 16-6-16-7 5-6-1-6-3-6-12-7 16-6-24-6 10-7 44-6-30-6 25-6-21-7-27-6 39-6 1-6 26-7-3-6-46-6 39-7-31-6 21-6-25-6 67-7-56-6 38-6-52-6 40-7 16-6-19-6 34-7-19-6-2-6 16-6-20-7-15-6 37-6 10-7-26z"/><path class="k1" d="M1153 1254l6 13-4-37-7-43zM1084 1237l6 24-4-24-7 9zM1078 1247l6-10-5 9-6-13zM1015 1255l6 46-5-34-6 4zM977 1270l7 56-5-22-6-42zM946 1293l6 19-5-35-6-17zM908 1287l7 15-5 8-6 1z"/><path class="k2" d="M1147 1226l6 28-5-67-6 39zM1046 1238l7 27-5-2-6-2zM990 1259l6 25-5-33-6 43z"/><path class="k3" d="M965 1256l6 52-5 3-6 3z"/><path class="k0" d="M889 1308l7 26 6-10 6-37 7 15 6 20 6-16 6 2 7 19 6-34 6 19 7-16 6-40 6 52 6-38 7 56 6-67 6 25 6-21 7 31 6-39 6 46 7 3 6-26 6-1 6-39 7 27 6 21 6-25 6 30 7-44 6-10 6 24 7-16 6 12 6 3 6 1 7-5 6 16 6-16 7 28 6-58 6 28 6 13 7-23 6 17 6-2 6-46 5 25-6-10-6-4-7 27-6-21-6 16-6-30-7 52-6-36-6-10-7 29-6 52-6-41-6-23-7 12-6-5-6 58-6-7-7-9-6-36-6-13-7 44-6-8-6 4-6-10-7 16-6 3-6-48-6 64-7-13-6-31-6 62-7-31-6 17-6-36-6 1-7 21-6-24-6 37-7-11-6 3-6 7-6 16-7-24-6 14-6-5-6-12-7 20z"/><path class="k1" d="M1001 1260l6 31-5-28-6 21zM976 1272l6 36-5-38-6 38zM957 1270l6 24-4 2-7 16z"/><path class="k2" d="M1152 1216l6 30-5 8-6-28zM1133 1222l6 10-5 24-6 16zM1064 1239l6 13-5 9-6 25zM970 1273l6-1-5 36-6-52z"/><path class="k3" d="M1020 1240l6 48-5 13-6-46z"/><path class="k0" d="M894 1315l7-20 6 12 6 5 6-14 7 24 6-16 6-7 6-3 7 11 6-37 6 24 7-21 6-1 6 36 6-17 7 31 6-62 6 31 7 13 6-64 6 48 6-3 7-16 6 10 6-4 6 8 7-44 6 13 6 36 7 9 6 7 6-58 6 5 7-12 6 23 6 41 6-52 7-29 6 10 6 36 7-52 6 30 6-16 6 21 7-27 6 4 6 10 5-27-6-11-6 21-7 44-6-18-6-41-7 44-6-22-6 10-6 1-7 41-6-26-6 20-7 2-6-11-6 33-6-36-7-8-6 16-6 7-6 11-7-31-6-4-6 31-7-12-6-22-6 39-6 13-7-5-6-24-6 15-7-3-6-4-6 11-6-3-7-45-6 41-6 34-6-13-7-1-6 12-6 16-7-13-6-62-6 49-6 48-7-62-6 40z"/><path class="k1" d="M1150 1228l6 22-4-34-7 52zM1138 1239l6-1-5-6-6-10zM1062 1257l7 31-5-49-7 44zM1056 1253l6 4-5 26-6-8zM905 1293l7 62-5-48-6-12z"/><path class="k2" d="M1182 1221l6-21-5 28-6-4zM1037 1250l6 22-4-3-7 16zM968 1285l6-41-4 29-7 21zM918 1307l6-49-5 40-6 14z"/><path class="k3" d="M1188 1200l6 11-5 27-6-10zM1163 1206l6 41-5-17-6 16z"/><path class="k5" d="M974 1244l7 45-5-17-6 1zM924 1258l6 62-4 2-7-24z"/><path class="k0" d="M899 1333l6-40 7 62 6-48 6-49 6 62 7 13 6-16 6-12 7 1 6 13 6-34 6-41 7 45 6 3 6-11 6 4 7 3 6-15 6 24 7 5 6-13 6-39 6 22 7 12 6-31 6 4 7 31 6-11 6-7 6-16 7 8 6 36 6-33 6 11 7-2 6-20 6 26 7-41 6-1 6-10 6 22 7-44 6 41 6 18 7-44 6-21 6 11 5 1-6 13-7 39-6-38-6 44-7-25-6-11-6 14-6-47-7 66-6-19-6 2-6-4-7-6-6 6-6 40-7 25-6-60-6-13-6 39-7-23-6-3-6-12-7 39-6 0-6 17-6-18-7 31-6-22-6 24-6-16-7-1-6-37-6 19-7 28-6-19-6 4-6 26-7 10-6 0-6-60-6 52-7 4-6-19-6-23-7 36-6-18-6 23z"/><path class="k1" d="M1180 1226l6 38-4-43-7 44zM1167 1245l7 25-5-23-6-41zM1142 1267l7-66-5 37-6 1zM1117 1240l7 6-5 28-7 2zM1111 1246l6-6-5 36-6-11zM1073 1254l7 23-5 0-6 11zM1067 1251l6 3-4 34-7-31zM916 1314l7-36-5 29-6 48zM910 1296l6 18-4 41-7-62z"/><path class="k2" d="M1193 1225l6-13-5-1-6-11zM1161 1234l6 11-4-39-7 44zM1086 1238l6 13-5 3-6 16zM992 1275l6-19-5 25-6 11zM979 1284l6 19-4-14-7-45zM973 1288l6-4-5-40-6 41zM929 1301l6 19-5 0-6-62z"/><path class="k3" d="M1061 1239l6 12-5 6-6-4zM998 1256l6 37-5-8-6-4zM948 1264l6 60-5-19-6 12z"/><path class="k4" d="M923 1278l6 23-5-43-6 49z"/><path class="k5" d="M1149 1201l6 47-5-20-6 10z"/><path class="k0" d="M904 1319l6-23 6 18 7-36 6 23 6 19 7-4 6-52 6 60 6 0 7-10 6-26 6-4 6 19 7-28 6-19 6 37 7 1 6 16 6-24 6 22 7-31 6 18 6-17 6 0 7-39 6 12 6 3 7 23 6-39 6 13 6 60 7-25 6-40 6-6 7 6 6 4 6-2 6 19 7-66 6 47 6-14 6 11 7 25 6-44 6 38 7-39 6-13 5 33-7-12-6-8-6 46-6-13-7-8-6 0-6 27-7-30-6 8-6 6-6 5-7 8-6 0-6 29-7-37-6-14-6 30-6-26-7-26-6 56-6 13-6-13-7-32-6 57-6-51-7 33-6 15-6-9-6-23-7 41-6-13-6-14-6-25-7 26-6-20-6 13-7-5-6 8-6 27-6-41-7 71-6-8-6-17-7-14-6 8-6-1-6 12z"/><path class="k1" d="M1197 1233l7 12-5-33-6 13zM1191 1225l6 8-4-8-7 39zM1091 1256l6 26-5-31-6-13zM1047 1260l6 51-5-33-6 17zM1003 1290l6 14-5-11-6-37zM990 1291l7-26-5 10-7 28zM978 1284l6-13-5 13-6 4zM971 1279l7 5-5 4-6 26zM965 1287l6-8-4 35-7 10zM927 1305l7 14-5-18-6-23zM921 1313l6-8-4-27-7 36z"/><path class="k2" d="M1153 1247l7 30-5-29-6-47zM1147 1255l6-8-4-46-7 66zM1059 1254l7 32-5-47-7 39zM997 1265l6 25-5-34-6 19zM984 1271l6 20-5 12-6-19z"/><path class="k3" d="M953 1273l6 41-5 10-6-60z"/><path class="k4" d="M1084 1230l7 26-5-18-6 39z"/><path class="k0" d="M909 1324l6-12 6 1 6-8 7 14 6 17 6 8 7-71 6 41 6-27 6-8 7 5 6-13 6 20 7-26 6 25 6 14 6 13 7-41 6 23 6 9 6-15 7-33 6 51 6-57 7 32 6 13 6-13 6-56 7 26 6 26 6-30 6 14 7 37 6-29 6 0 7-8 6-5 6-6 6-8 7 30 6-27 6 0 7 8 6 13 6-46 6 8 7 12 4 5-6 10-6 18-6-14-7-37-6-6-6 49-7-40-6 4-6-4-6 58-7 12-6-43-6 24-6 15-7-66-6 0-6 44-7-14-6 31-6-35-6 37-7-8-6 6-6 18-6-40-7 20-6 19-6 32-7-63-6 24-6-11-6-9-7 14-6-10-6 13-7 4-6 6-6-31-6 41-7-18-6 22-6 26-6-16-7-14-6 12-6 1-7 41z"/><path class="k1" d="M1183 1227l7 37-5 7-6-13zM1164 1230l7 40-5-20-6 27zM1158 1234l6-4-4 47-7-30zM1102 1274l6-44-5 22-6 30zM1052 1269l6 40-5 2-6-51zM995 1285l6 10-4-30-7 26zM957 1300l7 18-5-4-6-41z"/><path class="k2" d="M1177 1221l6 6-4 31-7-8zM1152 1230l6 4-5 13-6 8zM1083 1256l6 35-5-61-6 56zM970 1277l6 31-5-29-6 8z"/><path class="k3" d="M1114 1230l7 66-5 7-7-37zM1108 1230l6 0-5 36-6-14z"/><path class="k0" d="M913 1372l7-41 6-1 6-12 7 14 6 16 6-26 6-22 7 18 6-41 6 31 6-6 7-4 6-13 6 10 7-14 6 9 6 11 6-24 7 63 6-32 6-19 7-20 6 40 6-18 6-6 7 8 6-37 6 35 6-31 7 14 6-44 6 0 7 66 6-15 6-24 6 43 7-12 6-58 6 4 6-4 7 40 6-49 6 6 7 37 6 14 6-18 6-10 5 31-6-43-6 3-7 8-6 18-6-7-6-16-7 27-6 11-6-18-7-5-6-4-6 27-6-12-7-27-6 23-6-3-6 16-7 6-6 6-6-14-7 12-6-25-6-26-6 65-7-48-6 27-6 14-7-33-6 18-6-17-6 23-7-7-6 0-6 31-6-23-7 14-6 4-6-18-7-9-6 38-6-13-6-13-7 22-6-11-6 35-6 9-7-73z"/><path class="k1" d="M1176 1244l6 16-5-39-6 49zM1125 1243l7 27-5 11-6 15zM1119 1266l6-23-4 53-7-66zM1113 1263l6 3-5-36-6 0zM1050 1282l6-27-4 14-7 20zM1031 1281l6-18-4 77-7-63zM1019 1287l6-23-5 37-6-11zM1012 1280l7 7-5 3-6-9zM1006 1280l6 0-4 1-7 14zM975 1288l6 18-5 2-6-31zM950 1291l6 13-5 18-6 26z"/><path class="k2" d="M1056 1255l7 48-5 6-6-40zM1037 1263l7 33-5 12-6 32zM1025 1264l6 17-5-4-6 24zM968 1279l7 9-5-11-6 41z"/><path class="k4" d="M1069 1238l6 26-5 21-6 6z"/><path class="k5" d="M918 1273l7 73-5-15-7 41z"/><path class="k0" d="M918 1273l7 73 6-9 6-35 6 11 7-22 6 13 6 13 6-38 7 9 6 18 6-4 7-14 6 23 6-31 6 0 7 7 6-23 6 17 6-18 7 33 6-14 6-27 7 48 6-65 6 26 6 25 7-12 6 14 6-6 7-6 6-16 6 3 6-23 7 27 6 12 6-27 6 4 7 5 6 18 6-11 7-27 6 16 6 7 6-18 7-8 6-3 6 43 5-41-6-37-7 48-6-11-6 34-6-20-7-13-6 52-6-22-6-60-7 44-6 27-6-15-7 23-6-35-6 28-6 2-7-22-6 5-6 36-7-8-6-7-6 8-6-39-7-26-6 45-6 46-6-57-7-15-6 28-6 39-7-1-6 6-6-1-6-21-7-11-6 32-6-64-6 58-7 19-6-19-6-3-7 36-6-2-6-52-6 65-7-32-6-3z"/><path class="k1" d="M1205 1251l7-48-5 35-6 3zM1130 1255l6 35-4-20-7-27zM980 1316l6-58-5 48-6-18z"/><path class="k2" d="M1155 1255l7-44-5 53-7-5zM1061 1277l6-45-4 71-7-48zM1049 1266l6 57-5-41-6 14zM1036 1279l6-28-5 12-6 18zM942 1295l6 52-5-34-6-11zM923 1325l6 3-4 18-7-73z"/><path class="k3" d="M1074 1258l6 39-5-33-6-26z"/><path class="k4" d="M1212 1203l6 37-5 41-6-43zM1042 1251l7 15-5 30-7-33z"/><path class="k5" d="M1162 1211l6 60-5 11-6-18zM1067 1232l7 26-5-20-6 65zM986 1258l6 64-5-20-6 4z"/><path class="k0" d="M923 1325l6 3 7 32 6-65 6 52 6 2 7-36 6 3 6 19 7-19 6-58 6 64 6-32 7 11 6 21 6 1 6-6 7 1 6-39 6-28 7 15 6 57 6-46 6-45 7 26 6 39 6-8 6 7 7 8 6-36 6-5 7 22 6-2 6-28 6 35 7-23 6 15 6-27 7-44 6 60 6 22 6-52 7 13 6 20 6-34 6 11 7-48 6 37 5 30-6-21-7 20-6-51-6 56-7-19-6 1-6-9-6 7-7 13-6 36-6-27-7-12-6-12-6 10-6-38-7 66-6-11-6 8-6-24-7 42-6-44-6 20-7 21-6-50-6-18-6 90-7-31-6-5-6 36-6-17-7-26-6 25-6-8-7 2-6-4-6 14-6-16-7 30-6-39-6 34-7-7-6 52-6-72-6 36-7-27-6 2-6 47z"/><path class="k1" d="M1217 1249l6 21-5-30-6-37zM1166 1267l7-13-5 17-6-60zM1141 1252l6 12-4 3-7 23zM1122 1290l7-66-5 59-6 2zM1104 1263l6 24-5-19-6 36zM1091 1261l6 44-5-9-6-7zM1047 1288l6 5-4-27-7-15zM1028 1281l7 26-5 11-7-1zM984 1324l7-30-5-36-6 58zM940 1301l7 27-5-33-6 65zM934 1303l6-2-4 59-7-32z"/><path class="k2" d="M991 1294l6 16-5 12-6-64zM978 1285l6 39-4-8-7 19zM953 1292l6 72-5-15-6-2z"/><path class="k3" d="M1204 1218l6 51-5-18-6-11z"/><path class="k4" d="M1129 1224l6 38-5-7-6 28zM1072 1252l6 50-4-44-7-26z"/><path class="k5" d="M1066 1234l6 18-5-20-6 45z"/><path class="k0" d="M928 1350l6-47 6-2 7 27 6-36 6 72 6-52 7 7 6-34 6 39 7-30 6 16 6-14 6 4 7-2 6 8 6-25 7 26 6 17 6-36 6 5 7 31 6-90 6 18 6 50 7-21 6-20 6 44 7-42 6 24 6-8 6 11 7-66 6 38 6-10 6 12 7 12 6 27 6-36 7-13 6-7 6 9 6-1 7 19 6-56 6 51 7-20 6 21 5-16-7-21-6 23-6-14-7 26-6 29-6-43-6 29-7-36-6 24-6 0-6 12-7-2-6-23-6 11-7-18-6 38-6-11-6 33-7-6-6-49-6 14-6-3-7-28-6 46-6 5-7 5-6 5-6 19-6 15-7-45-6-16-6 46-7-6-6 7-6-55-6 25-7 74-6-63-6 35-6-5-7-12-6 17-6-49-7 49-6-8-6-10-6 1z"/><path class="k1" d="M1221 1233l7 21-5 16-6-21zM1209 1242l6 14-5 13-6-51zM1177 1247l7 36-5-36-6 7zM1127 1289l6-38-4-27-7 66zM1096 1270l6-14-5 49-6-44zM1090 1267l6 3-5-9-6 20zM939 1318l6 10-5-27-6 2zM933 1319l6-1-5-15-6 47z"/><path class="k2" d="M1102 1256l6 49-4-42-7 42zM1077 1285l6-46-5 63-6-50zM1071 1290l6-5-5-33-6-18zM1064 1295l7-5-5-56-6 90zM1033 1273l6 16-4 18-7-26zM1002 1290l6-25-5 31-6 14z"/><path class="k3" d="M1133 1251l7 18-5-7-6-38zM958 1287l6 49-5 28-6-72z"/><path class="k4" d="M1008 1265l6 55-5-20-6-4z"/><path class="k5" d="M1083 1239l7 28-5 14-7 21z"/><path class="k0" d="M933 1319l6-1 6 10 6 8 7-49 6 49 6-17 7 12 6 5 6-35 6 63 7-74 6-25 6 55 6-7 7 6 6-46 6 16 7 45 6-15 6-19 6-5 7-5 6-5 6-46 7 28 6 3 6-14 6 49 7 6 6-33 6 11 6-38 7 18 6-11 6 23 7 2 6-12 6 0 6-24 7 36 6-29 6 43 6-29 7-26 6 14 6-23 7 21 4 0-6 7-6-22-6-3-7 16-6 32-6-32-7 43-6-36-6 56-6-67-7 30-6-2-6 15-6-26-7 29-6-20-6 14-7-18-6 28-6-30-6-45-7 66-6-37-6 23-7-20-6 10-6 45-6 0-7-6-6-43-6 65-6-16-7-27-6 20-6 33-7-22-6-10-6 28-6-26-7 6-6 14-6 8-6-29-7 22-6-7-6 0-7 5z"/><path class="k1" d="M1220 1239l6 22-5-28-6 23zM1214 1236l6 3-5 17-6-14zM1170 1248l6 67-5-44-6 0zM1107 1268l6 30-5 7-6-49zM1006 1314l7 22-5-71-6 25zM956 1327l7-22-5-18-7 49z"/><path class="k2" d="M1094 1289l7-66-5 47-6-3zM1025 1283l7 27-5 9-7-6zM963 1305l6 29-5 2-6-49z"/><path class="k3" d="M1082 1275l6-23-5-13-6 46zM1075 1255l7 20-5 10-6 5zM1069 1265l6-10-4 35-7 5z"/><path class="k4" d="M1088 1252l6 37-4-22-7-28zM1044 1261l6 43-4 30-7-45z"/><path class="k6" d="M1101 1223l6 45-5-12-6 14z"/><path class="k0" d="M937 1325l7-5 6 0 6 7 7-22 6 29 6-8 6-14 7-6 6 26 6-28 6 10 7 22 6-33 6-20 7 27 6 16 6-65 6 43 7 6 6 0 6-45 6-10 7 20 6-23 6 37 7-66 6 45 6 30 6-28 7 18 6-14 6 20 7-29 6 26 6-15 6 2 7-30 6 67 6-56 6 36 7-43 6 32 6-32 7-16 6 3 6 22 6-7 5-7-6 13-6 19-7-51-6 60-6-23-6-13-7 13-6 22-6-2-7 13-6-29-6 26-6 4-7-56-6 34-6 4-7 4-6 13-6-28-6-18-7 10-6-34-6 1-6 19-7 1-6 56-6-4-7-31-6 41-6-39-6 22-7 31-6-26-6 19-6 6-7-14-6-5-6 6-7 17-6-10-6 35-6-38-7 28-6 5-6-24-7 15-6-17z"/><path class="k1" d="M1143 1277l6-34-4 22-7 29zM1118 1270l6 28-5-28-6 28zM1074 1305l6-56-5 6-6 10zM1030 1299l6 26-4-15-7-27z"/><path class="k2" d="M1218 1228l7 51-5-40-6-3zM1061 1270l7 31-5 9-6 0zM1043 1294l6-22-5-11-6 65z"/><path class="k3" d="M1149 1243l7 56-5-8-6-26zM1112 1252l6 18-5 28-6-30zM1049 1272l6 39-5-7-6-43z"/><path class="k4" d="M1105 1262l7-10-5 16-6-45zM1080 1249l7-1-5 27-7-20z"/><path class="k5" d="M1087 1248l6-19-5 23-6 23z"/><path class="k6" d="M1099 1228l6 34-4-39-7 66zM1093 1229l6-1-5 61-6-37z"/><path class="k0" d="M942 1322l6 17 7-15 6 24 6-5 7-28 6 38 6-35 6 10 7-17 6-6 6 5 7 14 6-6 6-19 6 26 7-31 6-22 6 39 6-41 7 31 6 4 6-56 7-1 6-19 6-1 6 34 7-10 6 18 6 28 6-13 7-4 6-4 6-34 7 56 6-4 6-26 6 29 7-13 6 2 6-22 7-13 6 13 6 23 6-60 7 51 6-19 6-13 5 11-6 25-7 0-6-22-6 7-6-2-7-38-6 36-6-5-7 36-6-7-6 8-6-14-7 39-6-61-6 18-6 20-7-9-6-1-6-44-7 28-6-41-6-75-6 28-7 8-6 48-6 48-6-3-7 41-6-13-6-33-7 61-6-37-6 26-6 6-7-3-6-7-6-15-7 11-6-1-6 29-6-19-7-53-6 56-6-9-6-29-7 67-6-47z"/><path class="k1" d="M1223 1261l6 22-4-4-7-51zM1198 1264l6-36-4 24-7 13zM1148 1278l6-18-5-17-6 34zM1073 1285l6 3-5 17-6-4zM972 1334l6-56-4 37-7 28zM947 1316l6 47-5-24-6-17z"/><path class="k2" d="M1154 1260l6 61-4-22-7-56zM1116 1272l7-28-5 26-6-18zM1054 1280l6 33-5-2-6-39z"/><path class="k3" d="M1204 1228l7 38-5-1-6-13zM1079 1288l6-48-5 9-6 56zM960 1296l6 29-5 23-6-24z"/><path class="k4" d="M1123 1244l6 44-5 10-6-28z"/><path class="k5" d="M978 1278l7 53-5 22-6-38z"/><path class="k6" d="M1110 1231l6 41-4-20-7 10z"/><path class="k9" d="M1085 1240l6-48-4 56-7 1z"/><path class="k12" d="M1091 1192l7-8-5 45-6 19z"/><path class="k14" d="M1098 1184l6-28-5 72-6 1z"/><path class="k15" d="M1104 1156l6 75-5 31-6-34z"/><path class="k0" d="M947 1316l6 47 7-67 6 29 6 9 6-56 7 53 6 19 6-29 6 1 7-11 6 15 6 7 7 3 6-6 6-26 6 37 7-61 6 33 6 13 7-41 6 3 6-48 6-48 7-8 6-28 6 75 6 41 7-28 6 44 6 1 7 9 6-20 6-18 6 61 7-39 6 14 6-8 6 7 7-36 6 5 6-36 7 38 6 2 6-7 6 22 7 0 6-25 5-17-7 9-6-21-6 76-6-36-7-24-6 52-6-41-6-10-7 7-6 2-6 37-7-15-6 38-6-60-6 12-7 30-6 8-6-8-6-26-7 21-6-25-6-108-7 15-6 51-6 71-6-21-7 2-6 12-6 44-7-3-6-9-6 3-6-24-7 6-6 5-6 7-6 37-7-35-6-19-6 46-7-37-6-21-6 40-6-7-7 15-6 0-6-5z"/><path class="k1" d="M1215 1245l7 24-5-1-6-2zM1190 1253l7-7-5 13-7 36zM1184 1255l6-2-5 42-6-7zM1153 1267l6-12-5 5-6 18zM1121 1292l7-21-5-27-7 28zM1071 1289l6-12-4 8-7 41zM1002 1301l6 19-5 2-6-1zM989 1310l7 37-5 3-6-19zM964 1337l7-15-5 3-6-29zM958 1337l6 0-4-41-7 67z"/><path class="k2" d="M1203 1256l6 41-5-69-6 36zM1197 1246l6 10-5 8-6-5zM1159 1255l6 60-5 6-6-61zM1128 1271l6 26-5-9-6-44zM1077 1277l7-2-5 13-6-3zM977 1329l6-40-5-11-6 56z"/><path class="k3" d="M1234 1229l6 21-4 33-7 0z"/><path class="k4" d="M1115 1267l6 25-5-20-6-41zM1084 1275l6 21-5-56-6 48zM983 1289l6 21-4 21-7-53z"/><path class="k9" d="M1090 1296l6-71-5-33-6 48z"/><path class="k11" d="M1096 1225l6-51-4 10-7 8z"/><path class="k14" d="M1102 1174l7-15-5-3-6 28z"/><path class="k15" d="M1109 1159l6 108-5-36-6-75z"/><path class="k0" d="M952 1332l6 5 6 0 7-15 6 7 6-40 6 21 7 37 6-46 6 19 7 35 6-37 6-7 6-5 7-6 6 24 6-3 6 9 7 3 6-44 6-12 7-2 6 21 6-71 6-51 7-15 6 108 6 25 7-21 6 26 6 8 6-8 7-30 6-12 6 60 6-38 7 15 6-37 6-2 7-7 6 10 6 41 6-52 7 24 6 36 6-76 6 21 7-9 5 40-7-53-6 25-6 26-7-26-6 17-6-7-6-6-7 14-6-13-6 19-6-29-7 36-6-15-6-23-7-2-6 37-6-17-6 20-7 1-6-20-6 21-7-41-6 7-6 14-6 15-7 15-6-26-6 20-6 15-7 35-6 3-6 18-7-59-6 26-6 4-6 22-7 5-6-24-6-17-6-10-7 26-6-15-6 1-7 15-6 20-6-31-6 30z"/><path class="k1" d="M1239 1253l6-25-5 22-6-21zM1195 1258l6 13-4-25-7 7zM1139 1284l6-20-5 41-6-8zM1120 1286l6-21-5 27-6-25zM1088 1296l7-15-5 15-6-21zM1007 1318l6 17-5-15-6-19zM1001 1308l6 10-5-17-6 46z"/><path class="k2" d="M1183 1248l6 29-5-22-6 37zM1151 1281l6-37-4 23-7 30zM1145 1264l6 17-5 16-6 8zM1126 1265l6 20-4-14-7 21zM1076 1290l6-20-5 7-6 12zM988 1319l6 15-5-24-6-21zM982 1320l6-1-5-30-6 40z"/><path class="k3" d="M1245 1228l7 53-5-40-7 9zM1164 1246l6 23-5 46-6-60zM1082 1270l6 26-4-21-7 2z"/><path class="k4" d="M1157 1244l7 2-5 9-6 12z"/><path class="k6" d="M1095 1281l6-15-5-41-6 71z"/><path class="k11" d="M1101 1266l6-14-5-78-6 51z"/><path class="k13" d="M1113 1245l7 41-5-19-6-108zM1107 1252l6-7-4-86-7 15z"/><path class="k0" d="M957 1354l6-30 6 31 6-20 7-15 6-1 6 15 7-26 6 10 6 17 6 24 7-5 6-22 6-4 6-26 7 59 6-18 6-3 7-35 6-15 6-20 6 26 7-15 6-15 6-14 6-7 7 41 6-21 6 20 7-1 6-20 6 17 6-37 7 2 6 23 6 15 7-36 6 29 6-19 6 13 7-14 6 6 6 7 6-17 7 26 6-26 6-25 7 53 4-25-6 33-6-36-6 38-7 4-6-36-6 9-7 2-6 26-6-6-6 4-7-20-6-13-6 36-7 7-6 2-6 9-6-15-7-33-6 7-6 14-6-2-7-2-6-2-6 17-7 10-6-27-6 14-6 20-7-6-6 12-6-24-6 27-7 17-6-41-6 21-7-34-6 40-6 47-6-70-7-8-6 3-6 30-7 14-6-43-6 14-6 8-7 53z"/><path class="k1" d="M1244 1253l6 36-5-61-6 25zM1187 1274l7 20-5-17-6-29zM1137 1274l6-7-4 17-7 1zM1131 1288l6-14-5 11-6-20zM1125 1286l6 2-5-23-6 21zM1062 1298l6 24-5 18-6 3zM1043 1301l6 41-5-40-6 26zM1024 1328l6-40-4 66-7 5zM1012 1305l6 70-5-40-6-17zM993 1330l6-30-5 34-6-15zM968 1323l6-8-5 40-6-31z"/><path class="k2" d="M1181 1261l6 13-4-26-7 36zM1143 1267l7 33-5-36-6 20zM1106 1299l6-17-5-30-6 14zM1093 1282l6 27-4-28-7 15zM1087 1296l6-14-5 14-6-26zM974 1315l6-14-5 34-6 20z"/><path class="k3" d="M1118 1284l7 2-5 0-7-41zM1112 1282l6 2-5-39-6 7zM1030 1288l7 34-5 10-6 22zM1005 1297l7 8-5 13-6-10zM999 1300l6-3-4 11-7 26zM980 1301l6 43-4-24-7 15z"/><path class="k0" d="M961 1376l7-53 6-8 6-14 6 43 7-14 6-30 6-3 7 8 6 70 6-47 6-40 7 34 6-21 6 41 7-17 6-27 6 24 6-12 7 6 6-20 6-14 6 27 7-10 6-17 6 2 7 2 6 2 6-14 6-7 7 33 6 15 6-9 6-2 7-7 6-36 6 13 7 20 6-4 6 6 6-26 7-2 6-9 6 36 7-4 6-38 6 36 6-33 5 19-6-10-6 10-7-37-6 63-6 6-7-2-6 0-6-25-6 28-7-22-6 8-6 8-6 0-7-2-6-7-6-25-7 13-6 21-6-17-6 26-7-11-6-6-6 16-6-5-7 7-6-27-6 3-7-7-6 77-6-40-6-9-7 28-6-29-6 18-7 43-6-42-6-21-6 27-7-11-6 27-6 19-6-31-7 33-6-17-6-11-7-5-6-29z"/><path class="k1" d="M1154 1281l7-13-5 47-6-15zM1142 1285l6 17-5-35-6 7zM1092 1288l6-3-5-3-6 14zM1035 1327l6 42-4-47-7-34zM1016 1322l7 11-5 42-6-70zM979 1342l6 11-5-52-6 14z"/><path class="k2" d="M1242 1238l7 37-5-22-6 38zM1161 1268l6 25-5 13-6 9zM1098 1285l6 27-5-3-6-27zM1085 1281l7 7-5 8-6 20zM1029 1306l6 21-5-39-6 40z"/><path class="k3" d="M966 1308l6 29-4-14-7 53z"/><path class="k0" d="M966 1308l6 29 7 5 6 11 6 17 7-33 6 31 6-19 6-27 7 11 6-27 6 21 6 42 7-43 6-18 6 29 7-28 6 9 6 40 6-77 7 7 6-3 6 27 7-7 6 5 6-16 6 6 7 11 6-26 6 17 6-21 7-13 6 25 6 7 7 2 6 0 6-8 6-8 7 22 6-28 6 25 6 0 7 2 6-6 6-63 7 37 6-10 6 10 5-6-6 6-7-2-6 18-6 19-6-47-7 25-6 3-6-21-7 16-6 37-6-8-6-17-7-10-6 22-6-18-6-6-7 26-6 15-6-58-7 32-6 30-6-34-6 17-7-13-6-4-6 1-7 13-6 48-6-92-6 8-7 52-6 25-6-1-6-31-7-3-6 43-6-38-7 23-6-19-6-11-6 2-7-15-6 45-6-32-6 34-7-13-6 42z"/><path class="k1" d="M1166 1286l6 6-5 1-6-25zM1103 1298l6-1-5 15-6-27zM1071 1327l7-52-5 43-6-9zM1015 1315l6 11-5-4-6 27zM1009 1317l6-2-5 34-6 19z"/><path class="k2" d="M1147 1269l6 58-5-25-6-17zM990 1315l6 32-5 23-6-17z"/><path class="k3" d="M1002 1302l7 15-5 51-6-31z"/><path class="k4" d="M1078 1275l6-8-5 91-6-40z"/><path class="k5" d="M1084 1267l6 92-5-78-6 77z"/><path class="k0" d="M971 1378l6-42 7 13 6-34 6 32 6-45 7 15 6-2 6 11 6 19 7-23 6 38 6-43 7 3 6 31 6 1 6-25 7-52 6-8 6 92 6-48 7-13 6-1 6 4 7 13 6-17 6 34 6-30 7-32 6 58 6-15 7-26 6 6 6 18 6-22 7 10 6 17 6 8 6-37 7-16 6 21 6-3 7-25 6 47 6-19 6-18 7 2 6-6 5-18-7 69-6-38-6-26-6 9-7 3-6 7-6 15-6-13-7-12-6 19-6 2-7 16-6 2-6-26-6 1-7 50-6-19-6 7-7-31-6 31-6 7-6 7-7-36-6-4-6 6-6-3-7 56-6-37-6-44-7 68-6-53-6 24-6 22-7-11-6 3-6 48-6-32-7-5-6 54-6-59-7 25-6 22-6-15-6-11-7 29-6-23-6-36z"/><path class="k1" d="M1252 1256l6 26-5-9-6 18zM1214 1265l7 12-5-7-7 16zM1177 1279l6-1-5 32-6-18zM1151 1286l7 31-5 10-6-58zM1120 1291l6 4-4 19-7-13zM1114 1297l6-6-5 10-6-4zM1108 1294l6 3-5 0-6 1zM1082 1337l7-68-5-2-6 8z"/><path class="k2" d="M1070 1308l6-24-5 43-6 25zM976 1319l6 36-5-19-6 42z"/><path class="k3" d="M1076 1284l6 53-4-62-7 52z"/><path class="k5" d="M1089 1269l6 44-5 46-6-92z"/><path class="k0" d="M976 1319l6 36 6 23 7-29 6 11 6 15 6-22 7-25 6 59 6-54 7 5 6 32 6-48 6-3 7 11 6-22 6-24 6 53 7-68 6 44 6 37 7-56 6 3 6-6 6 4 7 36 6-7 6-7 6-31 7 31 6-7 6 19 7-50 6-1 6 26 6-2 7-16 6-2 6-19 7 12 6 13 6-15 6-7 7-3 6-9 6 26 6 38 7-69 5-29-7 81-6-11-6-13-7-3-6 6-6-15-6 52-7-32-6-3-6 13-7-16-6 21-6 29-6-21-7-28-6 15-6 30-6-37-7-2-6 19-6 4-7-31-6 55-6-32-6 26-7-20-6 14-6-4-6 7-7 23-6-35-6 6-7 22-6-38-6 60-6-16-7-12-6 17-6-19-7 7-6-17-6-31-6 35-7 46-6-47-6 22-6-18z"/><path class="k1" d="M1156 1288l7 2-5 27-7-31zM1094 1326l6-7-5-6-6-44zM1081 1314l6 35-5-12-6-53zM1075 1320l6-6-5-30-6 24zM1018 1324l6 17-4-13-7 25zM993 1327l6 47-4-25-7 29z"/><path class="k2" d="M1137 1280l7 31-5 13-6 7zM1062 1304l6 38-4-12-7-11zM981 1331l6 18-5 6-6-36z"/><path class="k3" d="M1006 1328l6-35-5 82-6-15z"/><path class="k5" d="M1012 1293l6 31-5 29-6 22z"/><path class="k0" d="M981 1331l6 18 6-22 6 47 7-46 6-35 6 31 6 17 7-7 6 19 6-17 7 12 6 16 6-60 6 38 7-22 6-6 6 35 7-23 6-7 6 4 6-14 7 20 6-26 6 32 6-55 7 31 6-4 6-19 7 2 6 37 6-30 6-15 7 28 6 21 6-29 6-21 7 16 6-13 6 3 7 32 6-52 6 15 6-6 7 3 6 13 6 11 7-81 4 26-6-6-6 59-7-26-6 17-6-25-6 3-7 26-6-28-6 53-6-3-7-12-6 11-6-29-7 35-6-22-6 28-6-50-7 22-6-6-6 33-6-13-7 19-6-33-6 3-7 13-6 21-6 19-6-20-7 1-6-11-6 43-7-48-6 12-6-3-6 21-7-7-6 0-6 30-6-25-7-27-6 27-6-28-7 7-6-13-6 25-6 53-7-55z"/><path class="k1" d="M1230 1268l6 28-4 23-7-32zM1174 1279l6 50-5-32-6 30zM1136 1301l6 33-5-54-6 55zM1029 1323l7 27-5-16-7 7zM998 1341l6-25-5 58-6-47zM985 1339l7 55-5-45-6-18z"/><path class="k2" d="M1004 1316l6 13-4-1-7 46z"/><path class="k3" d="M1017 1322l6 28-5-26-6-31zM1010 1329l7-7-5-29-6 35z"/><path class="k4" d="M1274 1242l6 6-4-26-7 81z"/><path class="k0" d="M985 1339l7 55 6-53 6-25 6 13 7-7 6 28 6-27 7 27 6 25 6-30 6 0 7 7 6-21 6 3 6-12 7 48 6-43 6 11 7-1 6 20 6-19 6-21 7-13 6-3 6 33 7-19 6 13 6-33 6 6 7-22 6 50 6-28 6 22 7-35 6 29 6-11 7 12 6 3 6-53 6 28 7-26 6-3 6 25 6-17 7 26 6-59 6 6 5 49-6-19-6-8-7 5-6 41-6-17-7-34-6 9-6 7-6 19-7-1-6 12-6 3-6-14-7 3-6-1-6-4-7 5-6 24-6 33-6-63-7-4-6 37-6 0-7-6-6-11-6 35-6 11-7-36-6 12-6-31-6 45-7-10-6 11-6-12-7-23-6 34-6-6-6 2-7 26-6-10-6-26-7 10-6 53-6-76-6 9-7-26-6 30z"/><path class="k1" d="M1279 1278l6 19-5-49-6-6zM1273 1270l6 8-5-36-6 59zM1247 1265l7 34-5-32-6 3zM1241 1274l6-9-4 5-7 26zM1153 1293l7 4-5 31-6-13zM1097 1304l6 31-5 3-6-11zM1065 1315l7 23-5-7-6 21z"/><path class="k2" d="M1009 1322l6 76-5-69-6-13zM1003 1331l6-9-5-6-6 25z"/><path class="k3" d="M990 1335l6-30-4 89-7-55z"/><path class="k5" d="M996 1305l7 26-5 10-6 53z"/><path class="k0" d="M990 1335l6-30 7 26 6-9 6 76 6-53 7-10 6 26 6 10 7-26 6-2 6 6 6-34 7 23 6 12 6-11 7 10 6-45 6 31 6-12 7 36 6-11 6-35 6 11 7 6 6 0 6-37 7 4 6 63 6-33 6-24 7-5 6 4 6 1 7-3 6 14 6-3 6-12 7 1 6-19 6-7 6-9 7 34 6 17 6-41 7-5 6 8 6 19 5-38-6 20-7 2-6 20-6-1-6-15-7-10-6 19-6-27-7 5-6 36-6-42-6 8-7 61-6-30-6-38-7 28-6 42-6-5-6 26-7-45-6-14-6 24-6-4-7-12-6-13-6 34-7-9-6 26-6-11-6 16-7-11-6 8-6 6-6-22-7 25-6 13-6-49-7 67-6-39-6 12-6-41-7 59-6 5-6-23-7-4-6 23-6 1z"/><path class="k1" d="M1252 1275l7 10-5 14-7-34zM1233 1272l7-5-5 14-6 19zM1189 1295l7-28-5 35-6-4zM1158 1299l6 14-4-16-7-4zM1058 1320l6 49-5-20-6-6z"/><path class="k2" d="M1240 1267l6 27-5-20-6 7zM1221 1266l6 42-5-9-6 12zM1215 1274l6-8-5 45-6 3zM1133 1294l6 13-5 17-6-11zM1033 1319l6 41-5 1-6-26z"/><path class="k3" d="M1196 1267l6 38-5-2-6-1z"/><path class="k0" d="M995 1380l6-1 6-23 7 4 6 23 6-5 7-59 6 41 6-12 6 39 7-67 6 49 6-13 7-25 6 22 6-6 6-8 7 11 6-16 6 11 6-26 7 9 6-34 6 13 7 12 6 4 6-24 6 14 7 45 6-26 6 5 6-42 7-28 6 38 6 30 7-61 6-8 6 42 6-36 7-5 6 27 6-19 7 10 6 15 6 1 6-20 7-2 6-20 5 9-7 28-6-25-6 54-6-46-7 18-6 9-6-3-7 7-6-13-6 13-6-31-7 52-6-8-6-45-6 51-7-7-6 5-6-32-7-1-6 25-6 9-6-3-7 0-6-13-6 21-6 31-7-61-6 6-6 43-7-49-6 39-6-2-6-14-7 13-6 38-6-26-7-16-6 13-6-14-6 2-7 12-6-29-6-13-6 42-7 30-6 6-6-38z"/><path class="k1" d="M1175 1294l7 1-5 37-6 26zM1125 1303l7 61-5-36-7-9zM1119 1309l6-6-5 16-6 26z"/><path class="k2" d="M1226 1279l6 31-5-2-6-42zM1207 1278l6 45-5 12-6-30zM1106 1303l7 49-5-18-6 16zM1031 1319l6 29-4-29-7 59zM1019 1348l6-42-5 77-6-23z"/><path class="k4" d="M1025 1306l6 13-5 59-6 5z"/><path class="k0" d="M1000 1346l6 38 6-6 7-30 6-42 6 13 6 29 7-12 6-2 6 14 6-13 7 16 6 26 6-38 7-13 6 14 6 2 6-39 7 49 6-43 6-6 7 61 6-31 6-21 6 13 7 0 6 3 6-9 6-25 7 1 6 32 6-5 7 7 6-51 6 45 6 8 7-52 6 31 6-13 6 13 7-7 6 3 6-9 7-18 6 46 6-54 6 25 7-28 4-10-6 31-6 44-6-29-7-27-6 30-6-36-6 25-7-10-6-1-6 18-7 8-6 5-6-10-6 4-7 31-6-16-6-10-6-42-7 65-6-25-6-9-7 19-6 12-6 16-6-47-7 8-6-30-6 47-7 2-6 48-6-52-6-8-7 26-6-5-6 22-6-39-7 10-6 22-6-12-7 19-6-8-6 26-6 2-7-51-6-15-6 45-7-9z"/><path class="k1" d="M1262 1271l6 36-5-10-6 9zM1143 1304l6 47-5-39-6 21zM1136 1312l7-8-5 29-6 31zM1124 1329l6-47-5 21-6 6zM1105 1327l6 52-5-76-6 39zM1099 1319l6 8-5 15-6-2zM1074 1323l6 39-5 15-6-26zM1067 1333l7-10-5 28-7-16zM1011 1361l6-45-5 62-6 6z"/><path class="k3" d="M1187 1273l6 42-5 12-6-32zM1023 1331l7 51-5-76-6 42z"/><path class="k4" d="M1130 1282l6 30-4 52-7-61zM1017 1316l6 15-4 17-7 30z"/><path class="k0" d="M1004 1352l7 9 6-45 6 15 7 51 6-2 6-26 6 8 7-19 6 12 6-22 7-10 6 39 6-22 6 5 7-26 6 8 6 52 6-48 7-2 6-47 6 30 7-8 6 47 6-16 6-12 7-19 6 9 6 25 7-65 6 42 6 10 6 16 7-31 6-4 6 10 6-5 7-8 6-18 6 1 7 10 6-25 6 36 6-30 7 27 6 29 6-44 6-31 5 38-6-28-6-4-7 14-6-9-6 28-6 10-7-9-6-3-6 37-6-24-7-15-6 26-6-45-7 74-6-30-6 35-6-77-7 41-6 19-6-44-7 22-6-9-6 18-6-1-7-18-6 47-6-21-6 42-7-66-6 7-6-9-7 49-6-2-6-34-6 56-7-45-6 6-6-16-7-1-6 54-6 10-6-68-7 39-6 20-6 0-6-16-7 14z"/><path class="k1" d="M1298 1268l6 28-5-38-6 31zM1292 1264l6 4-5 21-6 44zM1285 1278l7-14-5 69-6-29zM1279 1269l6 9-4 26-7-27zM1191 1317l7-41-5 39-6-42zM1172 1314l7-22-5 21-6-9zM1166 1305l6 9-4-10-7 19zM1147 1304l7 18-5 29-6-47zM1135 1330l6 21-5-39-6-30zM1078 1328l7 45-5-11-6-39zM1072 1334l6-6-4-5-7 10zM1034 1352l7-39-5 67-6 2zM1022 1372l6 0-5-41-6-15z"/><path class="k2" d="M1179 1292l6 44-5 2-6-25zM1122 1306l7 66-5-43-7 2zM1116 1313l6-7-5 25-6 48zM1091 1317l6 34-5-6-6-5zM1066 1318l6 16-5-1-6 22zM1016 1356l6 16-5-56-6 45z"/><path class="k3" d="M1223 1274l6 45-5-3-6-10zM1198 1276l6 77-5-28-6-10zM1110 1304l6 9-5 66-6-52zM1059 1317l7 1-5 37-6-12z"/><path class="k4" d="M1041 1313l6 68-5-27-6 26z"/><path class="k0" d="M1009 1370l7-14 6 16 6 0 6-20 7-39 6 68 6-10 6-54 7 1 6 16 6-6 7 45 6-56 6 34 6 2 7-49 6 9 6-7 7 66 6-42 6 21 6-47 7 18 6 1 6-18 6 9 7-22 6 44 6-19 7-41 6 77 6-35 6 30 7-74 6 45 6-26 7 15 6 24 6-37 6 3 7 9 6-10 6-28 6 9 7-14 6 4 6 28 5 10-6-29-6 9-7-1-6-20-6 29-7 1-6 7-6-13-6 24-7 22-6-20-6-13-7 31-6-3-6-23-6 19-7-27-6 27-6-4-6 20-7 5-6-13-6-9-7 9-6-20-6-13-6 8-7 50-6 29-6-53-7 38-6-44-6 21-6-34-7 52-6-3-6-21-6 1-7-4-6-2-6 69-7-59-6 55-6-43-6-3-7 39-6-30z"/><path class="k1" d="M1152 1314l6 20-4-12-7-18zM1108 1329l6 44-4-69-7 49zM1071 1345l6-1-5-10-6-16zM1064 1341l7 4-5-27-7-1z"/><path class="k2" d="M1284 1265l6 20-5-7-6-9zM1202 1299l7 27-5 27-6-77zM1146 1301l6 13-5-10-6 47zM1140 1309l6-8-5 50-6-21zM1096 1316l6 34-5 1-6-34zM1058 1339l6 2-5-24-6 54zM1045 1349l7 59-5-27-6-68z"/><path class="k0" d="M1014 1367l6 30 7-39 6 3 6 43 6-55 7 59 6-69 6 2 7 4 6-1 6 21 6 3 7-52 6 34 6-21 6 44 7-38 6 53 6-29 7-50 6-8 6 13 6 20 7-9 6 9 6 13 7-5 6-20 6 4 6-27 7 27 6-19 6 23 6 3 7-31 6 13 6 20 7-22 6-24 6 13 6-7 7-1 6-29 6 20 7 1 6-9 6 29 5-13-6-19-7-15-6 34-6 13-7-17-6 1-6 45-6-38-7 11-6-26-6 11-6 21-7 6-6-3-6 12-7-42-6 54-6-28-6 5-7-12-6 32-6-4-6-6-7 21-6 8-6-37-7 50-6-43-6 12-6 12-7-59-6 77-6 0-7-18-6-32-6 35-6 20-7-27-6-7-6-25-6 44-7 11-6-32-6-24-7 51-6-6-6 22z"/><path class="k1" d="M1308 1274l6 19-5 13-6-29zM1295 1293l6-34-4 27-7-1zM1282 1289l7 17-5-41-6 29zM1245 1293l6-11-5 53-6-20zM1188 1306l7 12-5 4-6 20zM1151 1320l6 37-5-43-6-13zM1138 1327l6 43-4-61-7 50zM1057 1359l6-44-5 24-6 69zM1044 1338l6 32-5-21-6 55z"/><path class="k2" d="M1251 1282l6 26-4 5-7 22zM1213 1287l7 42-5-22-6 19zM1094 1319l6 32-4-35-7 52zM1031 1365l7-51-5 47-6-3z"/><path class="k3" d="M1301 1259l7 15-5 3-6 9z"/><path class="k4" d="M1063 1315l6 25-5 1-6-2z"/><path class="k5" d="M1119 1292l7 59-5-16-7 38zM1038 1314l6 24-5 66-6-43z"/><path class="k0" d="M1019 1381l6-22 6 6 7-51 6 24 6 32 7-11 6-44 6 25 6 7 7 27 6-20 6-35 6 32 7 18 6 0 6-77 7 59 6-12 6-12 6 43 7-50 6 37 6-8 7-21 6 6 6 4 6-32 7 12 6-5 6 28 6-54 7 42 6-12 6 3 7-6 6-21 6-11 6 26 7-11 6 38 6-45 6-1 7 17 6-13 6-34 7 15 6 19 5 3-7-25-6 33-6-23-6 29-7-32-6 25-6-8-7-12-6 39-6-26-6 30-7-48-6 38-6 14-6-21-7 2-6 9-6 11-7 5-6 2-6-20-6 5-7-5-6 24-6-17-7 2-6 14-6 19-6-1-7 4-6 3-6-22-6 12-7 9-6-23-6-1-7 7-6 8-6-10-6 48-7-62-6 35-6 5-7-19-6 24-6 13-6-30z"/><path class="k1" d="M1312 1271l7 25-5-3-6-19zM1287 1278l7 32-5-4-7-17zM1268 1283l7 12-5 40-6-38zM1256 1296l6 26-5-14-6-26zM1218 1311l7-2-5 20-7-42zM1099 1342l6 23-5-14-6-32zM1093 1341l6 1-5-23-6 35zM1036 1377l6-24-4-39-7 51z"/><path class="k2" d="M1300 1281l6 23-5-45-6 34zM1118 1344l6 22-5-74-6 77zM1042 1353l7 19-5-34-6-24z"/><path class="k3" d="M1243 1278l7 48-5-33-6 21zM1061 1332l7 62-5-79-6 44z"/><path class="k0" d="M1024 1360l6 30 6-13 6-24 7 19 6-5 6-35 7 62 6-48 6 10 6-8 7-7 6 1 6 23 7-9 6-12 6 22 6-3 7-4 6 1 6-19 6-14 7-2 6 17 6-24 7 5 6-5 6 20 6-2 7-5 6-11 6-9 7-2 6 21 6-14 6-38 7 48 6-30 6 26 6-39 7 12 6 8 6-25 7 32 6-29 6 23 6-33 7 25 4 44-6-38-6-10-6 42-7-31-6-11-6 41-6-23-7 10-6-21-6 0-7-3-6-2-6 36-6-16-7-9-6 32-6-48-7 33-6-9-6-5-6-16-7 36-6 14-6 8-6-7-7-24-6-13-6 57-7-9-6-26-6 8-6 21-7-14-6-7-6 32-7-23-6 22-6-22-6 19-7-3-6-13-6 43-6-7-7-40-6 23-6 9-7 21z"/><path class="k1" d="M1292 1292l6 11-4 7-7-32zM1267 1299l6 21-5-37-6 39zM1254 1296l7 3-5-3-6 30zM1210 1322l7-33-5 31-6 11zM1198 1308l6 5-5 23-6 2zM1185 1328l7-36-5 26-6 5zM1160 1319l7 24-5-18-7 2zM1135 1328l6 26-4 5-7 4zM1066 1348l6 13-4 33-7-62zM1047 1344l7 40-5-12-7-19z"/><path class="k2" d="M1248 1294l6 2-4 30-7-48z"/><path class="k3" d="M1217 1289l6 48-5-26-6 9zM1192 1292l6 16-5 30-6-20zM1154 1306l6 13-5 8-6 14z"/><path class="k0" d="M1028 1397l7-21 6-9 6-23 7 40 6 7 6-43 6 13 7 3 6-19 6 22 6-22 7 23 6-32 6 7 7 14 6-21 6-8 6 26 7 9 6-57 6 13 7 24 6 7 6-8 6-14 7-36 6 16 6 5 6 9 7-33 6 48 6-32 7 9 6 16 6-36 6 2 7 3 6 0 6 21 7-10 6 23 6-41 6 11 7 31 6-42 6 10 6 38 5-41-6 7-6 3-7 17-6-37-6-7-6 33-7-15-6 22-6 16-7-5-6-12-6 10-6 1-7-13-6-22-6 33-6-19-7 42-6-22-6-9-7 4-6 12-6-2-6 14-7-34-6 37-6 24-7-6-6-8-6-14-6 22-7-19-6 35-6-14-6-25-7-19-6 30-6 13-7-27-6 24-6 1-6 26-7-33-6 11-6-13-6 5-7-8z"/><path class="k1" d="M1297 1282l6 7-5 14-6-11zM1222 1311l6 19-5 7-6-48zM1196 1326l7-4-5-14-6-16zM1190 1338l6-12-4-34-7 36zM1171 1316l7 34-5 0-6-7zM1083 1345l7 27-5-27-6 19zM1046 1361l6 13-5-30-6 23zM1033 1358l7 8-5 10-7 21z"/><path class="k2" d="M1234 1297l6 22-4-5-7-9zM1102 1329l7 19-5 20-7-23z"/><path class="k0" d="M1033 1358l7 8 6-5 6 13 6-11 7 33 6-26 6-1 6-24 7 27 6-13 6-30 7 19 6 25 6 14 6-35 7 19 6-22 6 14 6 8 7 6 6-24 6-37 7 34 6-14 6 2 6-12 7-4 6 9 6 22 7-42 6 19 6-33 6 22 7 13 6-1 6-10 6 12 7 5 6-16 6-22 7 15 6-33 6 7 6 37 7-17 6-3 6-7 5-14-6 0-7 1-6 51-6-44-6 23-7-10-6-5-6 25-6 14-7-27-6-10-6 27-7-12-6 16-6-4-6 3-7-33-6 54-6-31-7-2-6 30-6-16-6 0-7-3-6 10-6 5-6 1-7-24-6 0-6-18-7 1-6 71-6-40-6 39-7 30-6-84-6 58-6 4-7-11-6-16-6 4-7 2-6-21-6 37-6 9-7-23-6 33z"/><path class="k1" d="M1157 1324l7 24-5 29-7-6zM1151 1324l6 0-5 47-6-8zM1126 1338l6 40-5-26-6 35z"/><path class="k2" d="M1226 1300l7 33-5-3-6-19zM1063 1343l6 21-4 32-7-33z"/><path class="k3" d="M1107 1323l6 84-4-59-7-19z"/><path class="k4" d="M1145 1306l6 18-5 39-6-14zM1138 1307l7-1-5 43-6 22z"/><path class="k0" d="M1038 1399l6-33 7 23 6-9 6-37 6 21 7-2 6-4 6 16 7 11 6-4 6-58 6 84 7-30 6-39 6 40 6-71 7-1 6 18 6 0 7 24 6-1 6-5 6-10 7 3 6 0 6 16 6-30 7 2 6 31 6-54 7 33 6-3 6 4 6-16 7 12 6-27 6 10 7 27 6-14 6-25 6 5 7 10 6-23 6 44 6-51 7-1 6 0 5 50-6-38-7-13-6 13-6 43-7-55-6 19-6 35-6-18-7 47-6-72-6 39-6-2-7 0-6 8-6 13-7-16-6-2-6 13-6-11-7 19-6 8-6-10-7-18-6 18-6 22-6-31-7-19-6 33-6-18-6 9-7 33-6-22-6 10-7-22-6 39-6-59-6-15-7 51-6-16-6-13-7-1-6 66-6-37-6 4-7-22-6 47-6-3z"/><path class="k1" d="M1325 1284l7 13-5-12-7 1zM1306 1285l7 55-5-47-6 23zM1275 1296l6 72-4-28-7-27zM1168 1327l7 19-5 1-6 1zM1150 1351l6-9-5-18-6-18zM1137 1362l6 22-5-77-6 71zM1099 1366l7-51-5 66-6 4zM1093 1350l6 16-4 19-7-11zM1068 1365l6 37-5-38-6-21zM1062 1369l6-4-5-22-6 37z"/><path class="k2" d="M1087 1337l6 13-5 24-6-16zM1055 1347l7 22-5 11-6 9z"/><path class="k3" d="M1112 1330l6 59-5 18-6-84zM1080 1336l7 1-5 21-6 4z"/><path class="k4" d="M1106 1315l6 15-5-7-6 58z"/><path class="k0" d="M1043 1391l6 3 6-47 7 22 6-4 6 37 6-66 7 1 6 13 6 16 7-51 6 15 6 59 6-39 7 22 6-10 6 22 7-33 6-9 6 18 6-33 7 19 6 31 6-22 6-18 7 18 6 10 6-8 7-19 6 11 6-13 6 2 7 16 6-13 6-8 7 0 6 2 6-39 6 72 7-47 6 18 6-35 6-19 7 55 6-43 6-13 7 13 6 38 5-58-7 34-6-16-6-3-6-6-7 44-6-22-6 20-7-9-6 30-6-49-6 44-7-48-6 14-6 27-7 39-6-48-6 40-6-3-7-32-6-8-6 44-6-36-7 33-6-57-6-1-7 75-6-26-6-12-6 8-7-14-6 56-6-57-7-3-6 4-6 5-6 54-7-74-6 11-6-5-6 53-7 10-6 7-6-44-7 44-6-2-6-27-6 17z"/><path class="k1" d="M1324 1292l6 3-5-11-6 13zM1318 1286l6 6-5 5-6 43zM1280 1300l6 49-5 19-6-72zM1261 1310l6-14-4 37-7 0zM1142 1338l6 57-5-11-6-22zM1135 1335l7 3-5 24-6 10zM1129 1339l6-4-4 37-7-22zM1123 1344l6-5-5 11-6 39zM1073 1356l6 44-5 2-6-37zM1054 1371l6 27-5-51-6 47z"/><path class="k2" d="M1267 1296l7 48-5-9-6-2z"/><path class="k3" d="M1192 1309l6 57-5-29-6 18zM1186 1308l6 1-5 46-6 22zM1104 1335l6-11-4-9-7 51zM1098 1330l6 5-5 31-6-16z"/><path class="k4" d="M1110 1324l7 74-5-68-6-15z"/><path class="k0" d="M1048 1388l6-17 6 27 6 2 7-44 6 44 6-7 7-10 6-53 6 5 6-11 7 74 6-54 6-5 6-4 7 3 6 57 6-56 7 14 6-8 6 12 6 26 7-75 6 1 6 57 7-33 6 36 6-44 6 8 7 32 6 3 6-40 6 48 7-39 6-27 6-14 7 48 6-44 6 49 6-30 7 9 6-20 6 22 7-44 6 6 6 3 6 16 7-34 4-5-6 19-6 17-6-29-7 39-6 20-6-21-7 28-6-26-6-27-6 29-7 23-6-26-6 29-6-19-7-7-6 23-6-6-7-5-6 13-6 23-6-20-7 26-6-31-6 27-7 9-6-37-6-20-6 39-7-4-6-20-6 7-6 8-7 13-6 12-6-12-7-9-6-8-6-8-6 31-7-2-6 6-6-8-6-4-7-16-6 20-6 1-7-5z"/><path class="k1" d="M1272 1318l6 26-4 0-7-48zM1184 1343l6 37-4-72-7 75zM1159 1338l6 20-4-5-7-14zM1103 1372l6-31-5-6-6-5zM1096 1370l7 2-5-42-6 53zM1078 1364l6 4-5 32-6-44zM1065 1368l6-20-5 52-6-2zM1052 1364l7 5-5 2-6 17z"/><path class="k2" d="M1341 1291l6-19-4 5-7 34zM1329 1279l6 29-5-13-6-3zM1291 1292l6 27-5 0-6 30zM1178 1323l6 20-5 40-6-26zM1115 1349l6 8-4 41-7-74zM1071 1348l7 16-5-8-7 44z"/><path class="k3" d="M1109 1341l6 8-5-25-6 11z"/><path class="k0" d="M1052 1364l7 5 6-1 6-20 7 16 6 4 6 8 6-6 7 2 6-31 6 8 6 8 7 9 6 12 6-12 7-13 6-8 6-7 6 20 7 4 6-39 6 20 6 37 7-9 6-27 6 31 7-26 6 20 6-23 6-13 7 5 6 6 6-23 7 7 6 19 6-29 6 26 7-23 6-29 6 27 6 26 7-28 6 21 6-20 7-39 6 29 6-17 6-19 5 25-6 56-6-52-7 18-6 14-6-15-6-16-7 56-6 5-6-40-7 35-6 4-6-69-6 23-7 30-6-3-6 12-7 1-6-12-6-12-6 20-7 16-6 10-6-37-6 2-7 4-6 14-6 22-7-24-6-6-6 18-6-43-7 55-6-49-6 47-6 6-7 5-6-24-6 5-7-18-6 65-6-43-6-17-7 53-6-21-6-8-7 16-6 17z"/><path class="k1" d="M1271 1316l6-23-5 25-6 29zM1107 1355l7 18-5-32-6 31zM1089 1360l6 17-5-1-6-8z"/><path class="k2" d="M1158 1328l6 43-5-33-6 7zM1145 1334l6 49-4-30-7 13z"/><path class="k3" d="M1277 1293l6 69-5-18-6-26z"/><path class="k0" d="M1057 1417l6-17 7-16 6 8 6 21 7-53 6 17 6 43 6-65 7 18 6-5 6 24 7-5 6-6 6-47 6 49 7-55 6 43 6-18 6 6 7 24 6-22 6-14 7-4 6-2 6 37 6-10 7-16 6-20 6 12 6 12 7-1 6-12 6 3 7-30 6-23 6 69 6-4 7-35 6 40 6-5 7-56 6 16 6 15 6-14 7-18 6 52 6-56 5 43-6-47-7 33-6-7-6 10-6-28-7 28-6 0-6-4-7 11-6-22-6-1-6 1-7 25-6 9-6-6-6-18-7-9-6 42-6-24-7 17-6 0-6-38-6 55-7-19-6 32-6-30-6 7-7-9-6-10-6 53-7-4-6-7-6-36-6 28-7-9-6-12-6 73-7-39-6-18-6-23-6 51-7-1-6-22-6-15-6 34-7 18-6-17z"/><path class="k1" d="M1351 1293l6 47-5-43-6 56zM1326 1301l6 28-5 4-6-15zM1250 1315l7 9-5 31-7 1zM1175 1338l6 10-5 11-6-6zM1131 1351l6 12-4 24-7 5z"/><path class="k2" d="M1282 1314l6-1-5 49-6-69zM1150 1344l6 36-5 3-6-49zM1081 1357l6 15-5 41-6-21z"/><path class="k3" d="M1219 1312l6 38-5 18-6 10zM1106 1344l6 23-5-12-6 65z"/></g>
<path d="M836.8 1134.4L836.8 1362.1L1062 1465.8L1357 1386.5" stroke="#262626" stroke-width="2.2" fill="none" stroke-linejoin="miter"/><path d="M836.8 1336.8l-8 -3M836.8 1286.2l-8 -3M836.8 1235.6l-8 -3M836.8 1185l-8 -3M836.8 1134.4l-8 -3M1007.8 1440.9l-7.5 2.2M1132.9 1446.7l7.6 3.6M950.8 1414.6l-7.5 2.2M1207.6 1426.6l7.6 3.6M893.8 1388.3l-7.5 2.2M1282.3 1406.6l7.6 3.6M836.8 1362.1l-7.5 2.2M1357 1386.5l7.6 3.6" stroke="#262626" stroke-width="1.9" fill="none"/>
<text class="ls" x="821.2" y="1338.1" font-size="27.7" text-anchor="end" fill="#262626">-2</text>
<text class="ls" x="821.2" y="1287.5" font-size="27.7" text-anchor="end" fill="#262626">0</text>
<text class="ls" x="821.2" y="1236.9" font-size="27.7" text-anchor="end" fill="#262626">2</text>
<text class="ls" x="821.2" y="1186.3" font-size="27.7" text-anchor="end" fill="#262626">4</text>
<text class="ls" x="821.2" y="1135.7" font-size="27.7" text-anchor="end" fill="#262626">6</text>
<text class="ls" x="805" y="1387.3" font-size="27.7" text-anchor="middle" fill="#262626">80</text>
<text class="ls" x="862" y="1414" font-size="27.7" text-anchor="middle" fill="#262626">60</text>
<text class="ls" x="918.8" y="1440.4" font-size="27.7" text-anchor="middle" fill="#262626">40</text>
<text class="ls" x="976" y="1466.8" font-size="27.7" text-anchor="middle" fill="#262626">20</text>
<text class="ls" x="1163.4" y="1474.8" font-size="27.7" text-anchor="middle" fill="#262626">20</text>
<text class="ls" x="1237.5" y="1454.4" font-size="27.7" text-anchor="middle" fill="#262626">40</text>
<text class="ls" x="1312.3" y="1433.9" font-size="27.7" text-anchor="middle" fill="#262626">60</text>
<text class="ls" x="1386.4" y="1414.2" font-size="27.7" text-anchor="middle" fill="#262626">80</text>
<text class="ls" y="1103.6" fill="#262626"><tspan x="760" dy="3.4" font-size="31">×</tspan><tspan x="781.2" dy="-3.4" font-size="27.7">10</tspan><tspan x="812.8" dy="-14.3" font-size="23.5">-3</tspan></text>
<text class="se" x="924" y="1507.8" font-size="31" text-anchor="middle" fill="#262626">η</text>
<text class="se" x="1217" y="1511.8" font-size="31" text-anchor="middle" fill="#262626">ξ</text>
<text class="ls" transform="translate(783.8 1248.8) rotate(-90)" font-size="30.5" text-anchor="middle" fill="#262626">CC Y-Ch</text>
<text class="ls" x="952.4" y="1024" font-size="25.4" fill="#111">YFP-PYR<tspan dy="-9.1" dx="0.4" font-size="25.4">Mandi</tspan><tspan dy="9.1" dx="1"> vs. mCherry-ABI</tspan></text>
<path d="M1546.3 1336.8L1841.3 1257.5M1841.3 1257.5L2066.5 1361.2M1546.3 1286.2L1841.3 1206.9M1841.3 1206.9L2066.5 1310.6M1546.3 1235.6L1841.3 1156.3M1841.3 1156.3L2066.5 1260M1546.3 1185L1841.3 1105.7M1841.3 1105.7L2066.5 1209.4M1546.3 1134.4L1841.3 1055.1M1841.3 1055.1L2066.5 1158.8M1617.2 1343L1617.2 1115.3M2012.3 1361.5L2012.3 1133.8M1842.4 1446.7L1617.2 1343M1717.3 1440.9L2012.3 1361.5M1691.9 1322.9L1691.9 1095.2M1955.3 1335.3L1955.3 1107.6M1917.1 1426.6L1691.9 1322.9M1660.3 1414.6L1955.3 1335.3M1766.6 1302.8L1766.6 1075.1M1898.3 1309L1898.3 1081.3M1991.8 1406.6L1766.6 1302.8M1603.3 1388.3L1898.3 1309M1841.3 1282.8L1841.3 1055.1M1546.3 1362.1L1841.3 1282.8M1841.3 1282.8L2066.5 1386.5" stroke="#d3d3d3" stroke-width="1.6" fill="none"/>
<g stroke-width="0.6" stroke-linejoin="round"><path class="k0" d="M1546 1290l7-14 6 34 6-55 6-19 7 66 6-37 6-18 6 2 7-60 6 72 6 36 7 32 6-42 6 38 6-63 7-35 6 58 6-1 7-35 6-46 6 123 6-51 7-54 6 12 6 17 6-13 7 18 6 92 6-68 7-80 6 68 6 41 6-163 7 36 6 17 6 14 6-43 7 143 6-131 6-9 7 123 6-89 6 78 6-56 7-73 6 10 6 56 5-37-6-13-7 67-6-48-6 85-6-31-7-88-6 159-6-117-6 21-7-41-6 33-6 38-7-86-6 55-6 31-6-29-7-37-6 77-6 34-6-54-7-34-6 41-6 54-7-60-6 1-6-48-6 106-7-41-6 49-6-77-7 56-6 11-6 46-6-113-7 11-6 36-6 8-6-102-7 141-6-99-6 61-7-1-6 15-6-47-6-18-7 86-6-81z"/><path class="k1" d="M1783 1178l7 41-5 93-7-143zM1758 1218l6-55-4 18-7-36zM1739 1183l7 37-5 47-6-68zM1595 1226l6 99-5-76-6-2z"/><path class="k2" d="M1683 1194l6 48-5 33-6 51z"/><path class="k3" d="M1808 1156l7 88-5-38-6 89zM1764 1163l7 86-5-51-6-17z"/><path class="k7" d="M1608 1184l6 102-5-25-6-72z"/><path class="k0" d="M1551 1241l6 81 7-86 6 18 6 47 6-15 7 1 6-61 6 99 7-141 6 102 6-8 6-36 7-11 6 113 6-46 6-11 7-56 6 77 6-49 7 41 6-106 6 48 6-1 7 60 6-54 6-41 7 34 6 54 6-34 6-77 7 37 6 29 6-31 6-55 7 86 6-38 6-33 7 41 6-21 6 117 6-159 7 88 6 31 6-85 6 48 7-67 6 13 5 12-6 27-7-7-6 52-6-41-7 40-6-71-6 37-6 36-7-35-6-69-6 140-6-65-7-32-6 17-6-21-7 101-6-107-6 80-6-26-7-20-6 44-6-42-7-30-6 31-6 126-6-130-7 54-6 7-6-41-6 78-7-91-6 36-6 1-7 14-6 3-6-49-6 87-7-51-6-1-6 35-6-6-7-88-6 114-6-37-7-85-6 22-6 60z"/><path class="k3" d="M1788 1165l6 69-4-15-7-41zM1587 1219l7 88-5-20-7-1zM1562 1233l6-22-4 25-7 86z"/><path class="k5" d="M1568 1211l7 85-5-42-6-18z"/><path class="k0" d="M1556 1293l6-60 6-22 7 85 6 37 6-114 7 88 6 6 6-35 6 1 7 51 6-87 6 49 6-3 7-14 6-1 6-36 7 91 6-78 6 41 6-7 7-54 6 130 6-126 6-31 7 30 6 42 6-44 7 20 6 26 6-80 6 107 7-101 6 21 6-17 7 32 6 65 6-140 6 69 7 35 6-36 6-37 6 71 7-40 6 41 6-52 7 7 6-27 5 14-7-10-6 52-6-60-6 36-7-2-6 22-6-24-7 71-6-112-6 22-6-52-7 69-6 125-6-148-7 26-6-40-6 55-6 2-7 3-6-15-6-23-6 33-7 63-6-73-6 62-7-23-6 101-6-100-6 0-7-17-6 65-6-39-6-38-7 13-6 3-6-40-7 49-6 69-6-20-6-70-7 50-6-6-6-16-7-26-6 97-6-56-6 8z"/><path class="k1" d="M1755 1185l6 40-4-21-7 101z"/><path class="k2" d="M1630 1217l6 40-5 35-6-49z"/><path class="k5" d="M1787 1153l6 52-5-40-6 140z"/><path class="k0" d="M1561 1296l6-8 6 56 6-97 7 26 6 16 6 6 7-50 6 70 6 20 6-69 7-49 6 40 6-3 7-13 6 38 6 39 6-65 7 17 6 0 6 100 6-101 7 23 6-62 6 73 7-63 6-33 6 23 6 15 7-3 6-2 6-55 6 40 7-26 6 148 6-125 7-69 6 52 6-22 6 112 7-71 6 24 6-22 7 2 6-36 6 60 6-52 7 10 4 75-6-76-6-76-6 89-7 65-6-27-6-55-7 91-6-76-6-62-6 145-7-60-6-72-6 26-6 60-7 11-6 39-6-34-7 16-6-90-6 59-6-79-7 65-6-88-6 87-6-9-7 62-6 24-6 13-7-113-6 118-6-29-6-47-7-1-6-55-6 100-7-66-6 64-6-26-6 3-7 40-6-1-6-4-6-52-7 44-6 17-6-36-7-13z"/><path class="k1" d="M1779 1197l6-26-5 51-6 125zM1710 1243l6-87-5 147-6-73z"/><path class="k3" d="M1647 1206l6 55-4-20-7 13z"/><path class="k4" d="M1804 1158l6 62-5 75-6-112zM1785 1171l6 72-4-90-7 69zM1729 1179l6 79-5-28-6-23z"/><path class="k6" d="M1848 1133l6 76-5-9-6 52z"/><path class="k8" d="M1716 1156l6 88-4-4-7 63z"/><path class="k0" d="M1565 1276l7 13 6 36 6-17 7-44 6 52 6 4 6 1 7-40 6-3 6 26 6-64 7 66 6-100 6 55 7 1 6 47 6 29 6-118 7 113 6-13 6-24 7-62 6 9 6-87 6 88 7-65 6 79 6-59 6 90 7-16 6 34 6-39 7-11 6-60 6-26 6 72 7 60 6-145 6 62 6 76 7-91 6 55 6 27 7-65 6-89 6 76 6 76 5-75-6 17-6-41-7 23-6 23-6 7-6 18-7-125-6 155-6-43-7-32-6 31-6-62-6 14-7 97-6-72-6 27-6-114-7 11-6 217-6-149-7-8-6 84-6-52-6 8-7-33-6 67-6-5-7-7-6 61-6-61-6-109-7 151-6-48-6-65-6 81-7-10-6 75-6-71-7 39-6-51-6 25-6 60-7-90-6-15-6 84-6-46-7 2z"/><path class="k1" d="M1846 1209l7-23-5-53-6 89zM1784 1195l6-14-5-10-6 26zM1589 1238l6 15-4 11-7 44z"/><path class="k2" d="M1853 1186l6 41-5-18-6-76zM1790 1181l6 62-5 0-6-72zM1733 1204l7 8-5 46-6-79zM1721 1236l6 52-5-44-6-88zM1715 1244l6-8-5-80-6 87z"/><path class="k5" d="M1652 1195l6 65-5 1-6-55z"/><path class="k8" d="M1821 1132l7 125-5-52-7 91z"/><path class="k10" d="M1759 1133l6 114-5 60-6-34zM1752 1144l7-11-5 140-7 16zM1671 1157l6 109-5 72-6-29z"/><path class="k0" d="M1570 1278l7-2 6 46 6-84 6 15 7 90 6-60 6-25 6 51 7-39 6 71 6-75 7 10 6-81 6 65 6 48 7-151 6 109 6 61 6-61 7 7 6 5 6-67 7 33 6-8 6 52 6-84 7 8 6 149 6-217 7-11 6 114 6-27 6 72 7-97 6-14 6 62 6-31 7 32 6 43 6-155 7 125 6-18 6-7 6-23 7-23 6 41 6-17 5-42-6 70-7 97-6-50-6 47-6-60-7-119-6 161-6-51-6 39-7-106-6 63-6-45-7 31-6 20-6-22-6-1-7-12-6 30-6-51-7 92-6-34-6-26-6 85-7-64-6 22-6-27-6 76-7-85-6 79-6-58-7-26-6-59-6 142-6-30-7-24-6 11-6-57-6 51-7-22-6-70-6-2-7 135-6-28-6 44-6-63-7 64-6-78z"/><path class="k1" d="M1757 1260l6-30-4-97-7 11z"/><path class="k2" d="M1638 1226l6 57-5-17-6 75z"/><path class="k3" d="M1763 1230l7 12-5 5-6-114z"/><path class="k4" d="M1751 1209l6 51-5-116-6 217zM1675 1243l7 26-5-3-6-109z"/><path class="k5" d="M1832 1153l7 119-5-33-6 18z"/><path class="k9" d="M1669 1184l6 59-4-86-7 151zM1619 1185l6 70-5 54-6-51zM1613 1183l6 2-5 73-6 25z"/><path class="k0" d="M1575 1257l6 78 7-64 6 63 6-44 6 28 7-135 6 2 6 70 7 22 6-51 6 57 6-11 7 24 6 30 6-142 6 59 7 26 6 58 6-79 7 85 6-76 6 27 6-22 7 64 6-85 6 26 6 34 7-92 6 51 6-30 7 12 6 1 6 22 6-20 7-31 6 45 6-63 7 106 6-39 6 51 6-161 7 119 6 60 6-47 6 50 7-97 6-70 5 132-6-85-7 59-6 23-6-34-7-39-6 56-6-61-6 7-7 11-6-45-6-5-7-53-6 135-6-25-6-3-7-31-6 51-6-33-6-67-7 160-6-104-6 108-7-151-6 79-6 56-6 37-7-149-6 55-6 32-6-100-7 81-6-33-6 53-7 5-6 18-6 1-6-138-7 174-6-102-6 7-7 46-6-33-6-31-6 59-7-52-6 41-6 21z"/><path class="k1" d="M1806 1187l6 5-5 4-6 63zM1617 1296l7-46-5-65-6-2z"/><path class="k2" d="M1592 1239l7 52-5 43-6-63z"/><path class="k3" d="M1674 1232l6 33-5-22-6-59zM1611 1263l6 33-4-113-7 135zM1605 1232l6 31-5 55-6-28z"/><path class="k4" d="M1705 1197l7 149-5-89-6 76zM1624 1250l6-7-5 12-6-70z"/><path class="k6" d="M1730 1174l7 151-5-84-6 85z"/><path class="k7" d="M1756 1161l6 67-5 32-6-51zM1687 1184l6 100-5 43-6-58z"/><path class="k10" d="M1799 1134l7 53-5 72-6-45zM1643 1171l6 138-5-26-6-57z"/><path class="k0" d="M1580 1301l6-21 6-41 7 52 6-59 6 31 6 33 7-46 6-7 6 102 7-174 6 138 6-1 6-18 7-5 6-53 6 33 7-81 6 100 6-32 6-55 7 149 6-37 6-56 6-79 7 151 6-108 6 104 7-160 6 67 6 33 6-51 7 31 6 3 6 25 6-135 7 53 6 5 6 45 7-11 6-7 6 61 6-56 7 39 6 34 6-23 7-59 6 85 5-115-7 18-6-10-6-26-7-20-6 95-6-43-6 22-7-11-6-38-6 32-6 55-7-56-6 7-6 53-7-35-6 20-6-45-6 46-7-23-6 82-6-138-6 152-7-159-6 70-6 57-7-32-6 10-6-11-6-42-7 50-6 6-6 90-7-69-6-71-6 138-6-69-7-58-6 56-6 10-6-23-7-5-6 63-6-54-7 36-6 19-6-51-6 22z"/><path class="k1" d="M1817 1204l6-32-5 65-6-45zM1773 1203l6 45-5-38-6 51zM1691 1265l7-50-5 69-6-100z"/><path class="k2" d="M1760 1226l7 23-5-21-6-67zM1698 1215l6 42-5-5-6 32zM1666 1221l6 71-4-7-7 5zM1641 1288l6-56-4-61-7 174z"/><path class="k3" d="M1861 1167l6 26-5 81-6 23zM1823 1172l6 38-4 16-7 11zM1729 1233l6-70-5 11-6 79z"/><path class="k4" d="M1804 1203l7 56-5-72-7-53zM1798 1210l6-7-5-69-6 135z"/><path class="k6" d="M1854 1147l7 20-5 130-6-34zM1647 1232l7 58-5 19-6-138z"/><path class="k7" d="M1748 1170l6 138-5 13-6-104z"/><path class="k8" d="M1735 1163l7 159-5 3-7-151z"/><path class="k0" d="M1585 1305l6-22 6 51 6-19 7-36 6 54 6-63 7 5 6 23 6-10 6-56 7 58 6 69 6-138 6 71 7 69 6-90 6-6 7-50 6 42 6 11 6-10 7 32 6-57 6-70 7 159 6-152 6 138 6-82 7 23 6-46 6 45 6-20 7 35 6-53 6-7 7 56 6-55 6-32 6 38 7 11 6-22 6 43 6-95 7 20 6 26 6 10 7-18 4 5-6 44-6 65-6-52-7 65-6-190-6 106-7 44-6-13-6 5-6-26-7 14-6-43-6 28-6 36-7 31-6-27-6-31-7 61-6-58-6-8-6 22-7-21-6-27-6-44-7 134-6-21-6-126-6 163-7-40-6-44-6 39-6 35-7-40-6 28-6-73-7 97-6 30-6-98-6 13-7-41-6 84-6-9-6-4-7 60-6-85-6-67-7 72z"/><path class="k1" d="M1746 1242l7 21-5-93-6 152z"/><path class="k2" d="M1847 1228l6-106-5 120-6-43zM1665 1226l6 73-5-78-6 138z"/><path class="k3" d="M1633 1227l7 41-5 30-6-23zM1589 1278l7-72-5 77-6 22z"/><path class="k5" d="M1740 1215l6 27-4 80-7-159z"/><path class="k8" d="M1734 1171l6 44-5-52-6 70zM1596 1206l6 67-5 61-6-51z"/><path class="k10" d="M1853 1122l6 190-5-165-6 95zM1715 1158l6 126-5-26-6 10z"/><path class="k0" d="M1589 1278l7-72 6 67 6 85 7-60 6 4 6 9 6-84 7 41 6-13 6 98 6-30 7-97 6 73 6-28 7 40 6-35 6-39 6 44 7 40 6-163 6 126 6 21 7-134 6 44 6 27 7 21 6-22 6 8 6 58 7-61 6 31 6 27 7-31 6-36 6-28 6 43 7-14 6 26 6-5 6 13 7-44 6-106 6 190 7-65 6 52 6-65 6-44 5 5-6 10-6 11-7 48-6 52-6-18-6-8-7-16-6-99-6 76-7 66-6-85-6 106-6-40-7-45-6-40-6-34-7 51-6 40-6 14-6 13-7 11-6-71-6 12-6 56-7 77-6-182-6 32-7 32-6 35-6-26-6 32-7-50-6 11-6 79-6-12-7-47-6 43-6 2-7 22-6-3-6-25-6-14-7-15-6-9-6 121-7-55-6-51z"/><path class="k1" d="M1782 1230l7-51-5 98-6-31zM1594 1302l6 51-4-147-7 72z"/><path class="k3" d="M1839 1175l6 99-5-2-6-13zM1713 1264l7-32-5-74-6 163z"/><path class="k4" d="M1726 1200l6 182-5-77-6-21z"/><path class="k5" d="M1789 1179l6 34-5 91-6-27zM1720 1232l6-32-5 84-6-126z"/><path class="k0" d="M1594 1302l6 51 7 55 6-121 6 9 7 15 6 14 6 25 6 3 7-22 6-2 6-43 7 47 6 12 6-79 6-11 7 50 6-32 6 26 6-35 7-32 6-32 6 182 7-77 6-56 6-12 6 71 7-11 6-13 6-14 6-40 7-51 6 34 6 40 7 45 6 40 6-106 6 85 7-66 6-76 6 99 7 16 6 8 6 18 6-52 7-48 6-11 6-10 5 141-6-202-7 3-6 103-6-17-6 45-7-52-6 80-6-112-7 94-6-124-6 104-6 14-7 9-6-140-6 89-6 39-7-70-6 57-6-8-7 82-6-124-6 116-6-4-7-38-6 72-6 12-6-65-7-11-6-11-6 32-7-16-6 19-6 60-6-157-7 78-6 49-6-32-7-50-6 64-6 34-6 2-7-72-6 37-6-59-6 10-7 69-6 77z"/><path class="k2" d="M1762 1206l6 124-4-33-7 11z"/><path class="k3" d="M1844 1184l6 112-5-22-6-99zM1787 1199l7 70-5-90-7 51z"/><path class="k4" d="M1800 1230l6-89-5 112-6-40zM1681 1215l6 157-5-106-6 79z"/><path class="k7" d="M1831 1154l6 124-4-27-7 66z"/><path class="k8" d="M1888 1134l6 202-5-141-6 10zM1881 1137l7-3-5 71-6 11z"/><path class="k10" d="M1806 1141l6 140-4 17-7-45z"/><path class="k0" d="M1599 1422l6-77 7-69 6-10 6 59 6-37 7 72 6-2 6-34 6-64 7 50 6 32 6-49 7-78 6 157 6-60 6-19 7 16 6-32 6 11 7 11 6 65 6-12 6-72 7 38 6 4 6-116 6 124 7-82 6 8 6-57 7 70 6-39 6-89 6 140 7-9 6-14 6-104 6 124 7-94 6 112 6-80 7 52 6-45 6 17 6-103 7-3 6 202 5-114-7 75-6-83-6-35-6 126-7-31-6-28-6-28-6 4-7 62-6 48-6-72-7-10-6-17-6 20-6-6-7-5-6 18-6 2-6-12-7-2-6-1-6 40-7 16-6-54-6-36-6 67-7 35-6-55-6 48-7-48-6 90-6 1-6-40-7-47-6 83-6-37-6 25-7-30-6 17-6-13-7-41-6-1-6-17-6 86-7 45-6-158-6 121z"/><path class="k1" d="M1685 1264l7 47-5 61-6-157z"/><path class="k2" d="M1886 1214l6 83-4-163-7 3zM1811 1253l6-20-5 48-6-140zM1742 1213l6 36-5 31-6 72zM1629 1250l6 17-5 21-6 37z"/><path class="k3" d="M1805 1247l6 6-5-112-6 89z"/><path class="k5" d="M1880 1179l6 35-5-77-6 103z"/><path class="k6" d="M1610 1223l6 158-4-105-7 69z"/><path class="k0" d="M1604 1344l6-121 6 158 7-45 6-86 6 17 6 1 7 41 6 13 6-17 7 30 6-25 6 37 6-83 7 47 6 40 6-1 6-90 7 48 6-48 6 55 7-35 6-67 6 36 6 54 7-16 6-40 6 1 7 2 6 12 6-2 6-18 7 5 6 6 6-20 6 17 7 10 6 72 6-48 7-62 6-4 6 28 6 28 7 31 6-126 6 35 6 83 7-75 5-44-7 84-6-24-6 21-7 30-6-124-6 28-6 144-7-64-6 32-6-45-6-36-7 52-6 14-6 2-7-91-6 58-6 4-6-79-7 92-6 17-6-17-7 63-6-37-6-63-6 63-7-11-6 30-6-22-6-40-7 95-6-104-6 87-7-61-6 28-6-43-6-43-7 62-6 12-6 9-6 21-7-35-6 41-6 40-7-112-6-6-6 21-6 69z"/><path class="k1" d="M1627 1256l7 112-5-118-6 86z"/><path class="k2" d="M1809 1201l7 91-5-39-6-6zM1621 1250l6 6-4 80-7 45z"/><path class="k3" d="M1866 1193l6-28-5 109-6-28zM1615 1271l6-21-5 131-6-158z"/><path class="k5" d="M1872 1165l6 124-4 16-7-31zM1791 1184l6 79-5-3-6 2zM1678 1218l6 43-5 86-6-37z"/><path class="k0" d="M1609 1340l6-69 6-21 6 6 7 112 6-40 6-41 7 35 6-21 6-9 6-12 7-62 6 43 6 43 6-28 7 61 6-87 6 104 7-95 6 40 6 22 6-30 7 11 6-63 6 63 6 37 7-63 6 17 6-17 7-92 6 79 6-4 6-58 7 91 6-2 6-14 7-52 6 36 6 45 6-32 7 64 6-144 6-28 6 124 7-30 6-21 6 24 7-84 4 84-6-46-6 48-6-35-7-1-6 1-6 76-7-60-6 12-6 63-6-30-7-22-6-9-6 44-7-105-6-35-6 121-6 10-7-23-6 8-6 30-6 19-7-14-6-76-6 57-7 29-6 9-6 19-6-58-7-70-6 20-6-33-6 42-7 41-6-70-6 69-7 29-6 67-6-101-6 92-7-32-6-19-6 22-7 26-6-73-6 14-6-49-7-42z"/><path class="k1" d="M1720 1244l6-20-4 35-7 95zM1620 1269l6 49-5-68-6 21z"/><path class="k2" d="M1726 1224l7 70-5 5-6-40zM1708 1253l6-42-5 39-6 87z"/><path class="k3" d="M1820 1198l7 105-5-13-6 2z"/><path class="k4" d="M1695 1224l6 70-5-18-6 28z"/><path class="k5" d="M1714 1211l6 33-5 110-6-104z"/><path class="k7" d="M1613 1227l7 42-5 2-6 69z"/><path class="k8" d="M1814 1163l6 35-4 94-7-91z"/><path class="k0" d="M1613 1227l7 42 6 49 6-14 6 73 7-26 6-22 6 19 7 32 6-92 6 101 6-67 7-29 6-69 6 70 7-41 6-42 6 33 6-20 7 70 6 58 6-19 6-9 7-29 6-57 6 76 7 14 6-19 6-30 6-8 7 23 6-10 6-121 6 35 7 105 6-44 6 9 7 22 6 30 6-63 6-12 7 60 6-76 6-1 7 1 6 35 6-48 6 46 5-21-6 5-6 4-7-34-6 56-6 39-7-106-6 49-6 12-6-23-7-23-6 53-6 85-6-93-7 39-6-82-6 82-7-93-6-12-6 77-6-76-7 79-6 20-6-36-6 33-7 20-6-28-6-33-7 3-6 8-6 29-6 14-7-65-6 82-6-24-7 41-6-38-6 68-6-58-7 17-6-26-6 34-6-17-7-1-6-64-6 54-7 14-6-40z"/><path class="k2" d="M1806 1211l7 93-5-20-6 10zM1637 1258l6 64-5 55-6-73zM1618 1286l6 40-4-57-7-42z"/><path class="k3" d="M1712 1244l7 65-5-98-6 42z"/><path class="k4" d="M1819 1222l6 82-5-106-6-35zM1800 1199l6 12-4 83-7-23zM1788 1200l6 76-5 3-6 30z"/><path class="k0" d="M1618 1286l6 40 7-14 6-54 6 64 7 1 6 17 6-34 6 26 7-17 6 58 6-68 6 38 7-41 6 24 6-82 7 65 6-14 6-29 6-8 7-3 6 33 6 28 7-20 6-33 6 36 6-20 7-79 6 76 6-77 6 12 7 93 6-82 6 82 7-39 6 93 6-85 6-53 7 23 6 23 6-12 6-49 7 106 6-39 6-56 7 34 6-4 6-5 5 81-6-18-7-92-6 55-6-9-6-88-7 78-6-30-6-45-7 121-6-107-6 114-6 33-7-40-6-30-6-15-6-7-7-12-6 22-6 43-7 18-6 76-6-145-6 6-7 45-6-116-6 203-7-53-6-46-6 58-6-80-7 85-6 47-6-97-6-33-7 48-6 26-6-28-7 51-6-98-6-28-6 67-7 50-6-53-6 114-7-71-6 4-6-44z"/><path class="k4" d="M1855 1187l6 107-4-51-7-23zM1667 1234l6 28-5 70-6-26z"/><path class="k5" d="M1887 1170l6 88-5 14-6 39z"/><path class="k6" d="M1868 1173l6 45-5 36-6 12z"/><path class="k9" d="M1761 1179l6 116-4 1-7 20z"/><path class="k0" d="M1623 1301l6 44 6-4 7 71 6-114 6 53 7-50 6-67 6 28 6 98 7-51 6 28 6-26 7-48 6 33 6 97 6-47 7-85 6 80 6-58 6 46 7 53 6-203 6 116 7-45 6-6 6 145 6-76 7-18 6-43 6-22 7 12 6 7 6 15 6 30 7 40 6-33 6-114 6 107 7-121 6 45 6 30 7-78 6 88 6 9 6-55 7 92 6 18 5-142-7-33-6 112-6-63-6 48-7-60-6 63-6-10-6-37-7 109-6-26-6-54-7 24-6-5-6-37-6 45-7 32-6-11-6 66-7-70-6 50-6-3-6 0-7-44-6 56-6-133-6 133-7 10-6-104-6 47-7 52-6 8-6-52-6 39-7-30-6 27-6 5-7-40-6 34-6-95-6 107-7-25-6 62-6-54-6 15-7-103-6 92-6-68z"/><path class="k1" d="M1904 1196l6 63-5-47-6 55zM1854 1229l6 54-5-96-6 114zM1747 1238l6 104-5-13-6-46z"/><path class="k2" d="M1835 1211l6 37-5 46-6-30z"/><path class="k3" d="M1628 1259l6 68-5 18-6-44z"/><path class="k4" d="M1891 1184l7 60-5 14-6-88zM1873 1200l6 37-5-19-6-45z"/><path class="k5" d="M1678 1233l6 95-5 32-6-98z"/><path class="k6" d="M1640 1235l7 103-5 74-7-71z"/><path class="k8" d="M1916 1147l7 33-5 142-6-18zM1766 1199l6 133-5-37-6-116z"/><path class="k0" d="M1628 1259l6 68 6-92 7 103 6-15 6 54 6-62 7 25 6-107 6 95 6-34 7 40 6-5 6-27 7 30 6-39 6 52 6-8 7-52 6-47 6 104 7-10 6-133 6 133 6-56 7 44 6 0 6 3 6-50 7 70 6-66 6 11 7-32 6-45 6 37 6 5 7-24 6 54 6 26 7-109 6 37 6 10 6-63 7 60 6-48 6 63 6-112 7 33 5 96-7 79-6-53-6-161-7 109-6 19-6-13-6 2-7 15-6-9-6-67-7 28-6-33-6 64-6 21-7 68-6-90-6-62-6 134-7-62-6-32-6 40-7-26-6 55-6 2-6-60-7 71-6-50-6 24-6 52-7 38-6-132-6-15-7 68-6 2-6 35-6 6-7-25-6 104-6-60-7-82-6 2-6-42-6 91-7-92-6-2-6 88-6 57z"/><path class="k1" d="M1858 1225l7-28-5 86-6-54zM1733 1247l6 132-5-42-6 8z"/><path class="k2" d="M1902 1250l7-109-5 55-6 48zM1676 1280l7 82-5-129-6 107z"/><path class="k3" d="M1865 1197l6 67-5 45-6-26zM1771 1244l6 60-5 28-6-133zM1727 1232l6 15-5 98-6-52z"/><path class="k4" d="M1852 1192l6 33-4 4-7 24z"/><path class="k5" d="M1664 1240l6 42-5 33-6 62zM1651 1239l7 92-5-8-6 15z"/><path class="k6" d="M1821 1193l6 62-5 33-6-11zM1645 1237l6 2-4 99-7-103z"/><path class="k10" d="M1909 1141l6 161-5-43-6-63z"/><path class="k0" d="M1633 1382l6-57 6-88 6 2 7 92 6-91 6 42 6-2 7 82 6 60 6-104 7 25 6-6 6-35 6-2 7-68 6 15 6 132 7-38 6-52 6-24 6 50 7-71 6 60 6-2 6-55 7 26 6-40 6 32 7 62 6-134 6 62 6 90 7-68 6-21 6-64 6 33 7-28 6 67 6 9 7-15 6-2 6 13 6-19 7-109 6 161 6 53 7-79 4-58-6-9-6 26-7 41-6-132-6 124-6 13-7-19-6-65-6 8-6 38-7-16-6 106-6 25-7-126-6 106-6-13-6-23-7 70-6-74-6 20-6 29-7-84-6-45-6 15-7 73-6-24-6 87-6-21-7-25-6 0-6-46-7 35-6 12-6 13-6-60-7 97-6-112-6-2-6 68-7-12-6-19-6-3-7 67-6-42-6 97-6-84-7-12z"/><path class="k1" d="M1901 1268l6-124-5 106-6 19zM1863 1227l7 16-5-46-7 28zM1694 1260l6 2-5 56-6 104zM1669 1294l6 3-5-15-6-42z"/><path class="k2" d="M1876 1205l6-8-5 76-6-9z"/><path class="k3" d="M1882 1197l6 65-4-4-7 15zM1782 1233l6-15-5 84-6 2z"/><path class="k4" d="M1788 1218l6 45-5-16-6 55z"/><path class="k10" d="M1907 1144l6 132-4-135-7 109z"/><path class="k0" d="M1637 1320l7 12 6 84 6-97 6 42 7-67 6 3 6 19 7 12 6-68 6 2 6 112 7-97 6 60 6-13 6-12 7-35 6 46 6 0 7 25 6 21 6-87 6 24 7-73 6-15 6 45 7 84 6-29 6-20 6 74 7-70 6 23 6 13 6-106 7 126 6-25 6-106 7 16 6-38 6-8 6 65 7 19 6-13 6-124 6 132 7-41 6-26 6 9 5-56-6 128-6-22-7-56-6 52-6 25-7 5-6-42-6-81-6 138-7-44-6 36-6-40-6 12-7 18-6 40-6-119-7 129-6-47-6-113-6 95-7-18-6 10-6 13-7 57-6-11-6-58-6-10-7 100-6-31-6-91-6 87-7 0-6 80-6-98-7-47-6 29-6 39-6-3-7 39-6-59-6 6-7 40-6-61-6 102-6-36-7 6-6-88z"/><path class="k1" d="M1912 1264l6-52-5 64-6-132zM1812 1276l6-95-5 117-6 20zM1717 1259l7 47-5 31-6-60z"/><path class="k2" d="M1642 1273l6 88-4-29-7-12z"/><path class="k3" d="M1837 1212l6 119-5 7-6-13zM1749 1237l6 91-5-5-6 0z"/><path class="k7" d="M1887 1171l6 81-5 10-6-65z"/><path class="k9" d="M1818 1181l6 113-5 78-6-74z"/><path class="k0" d="M1642 1273l6 88 7-6 6 36 6-102 6 61 7-40 6-6 6 59 7-39 6 3 6-39 6-29 7 47 6 98 6-80 7 0 6-87 6 91 6 31 7-100 6 10 6 58 6 11 7-57 6-13 6-10 7 18 6-95 6 113 6 47 7-129 6 119 6-40 7-18 6-12 6 40 6-36 7 44 6-138 6 81 6 42 7-5 6-25 6-52 7 56 6 22 6-128 5 66-6-30-7 26-6 105-6-176-6 154-7-105-6-34-6 46-7 9-6 69-6-32-6 30-7 27-6-36-6-48-7 19-6 30-6-12-6 20-7-81-6 113-6-66-6-9-7 121-6-75-6-45-7 80-6-85-6 27-6-1-7 63-6-28-6-4-7 11-6 113-6 1-6-75-7-49-6 106-6-103-6 37-7-14-6 0-6 81-7-63-6-22-6 16z"/><path class="k1" d="M1754 1269l6 1-5 58-6-91z"/><path class="k2" d="M1904 1202l7 105-5-18-7 5zM1766 1243l6 85-4-69-7 100z"/><path class="k4" d="M1936 1198l6 30-5-66-6 128zM1892 1214l6-46-5 84-6-81zM1885 1223l7-9-5-43-6 138z"/><path class="k7" d="M1816 1209l7 81-5-109-6 95z"/><path class="k8" d="M1898 1168l6 34-5 92-6-42z"/><path class="k9" d="M1917 1153l6 176-5-117-6 52z"/><path class="k0" d="M1647 1339l6-16 6 22 7 63 6-81 6 0 7 14 6-37 6 103 6-106 7 49 6 75 6-1 6-113 7-11 6 4 6 28 7-63 6 1 6-27 6 85 7-80 6 45 6 75 7-121 6 9 6 66 6-113 7 81 6-20 6 12 6-30 7-19 6 48 6 36 7-27 6-30 6 32 6-69 7-9 6-46 6 34 7 105 6-154 6 176 6-105 7-26 6 30 5 104-7-72-6-1-6-27-6 37-7-34-6 22-6 59-7-97-6-38-6 95-6 109-7-39-6-13-6-64-6 28-7-55-6 111-6-65-7-53-6-3-6 81-6 39-7-97-6 1-6 106-7-34-6-42-6 68-6-54-7 85-6-24-6-103-6 51-7-7-6 11-6-49-7 68-6 24-6-50-6 77-7 21-6-114-6 40-6 24-7-96-6 2-6 118z"/><path class="k1" d="M1922 1269l6-37-5 97-6-176zM1827 1235l7 53-5-18-6 20zM1746 1258l6 103-5-29-6-28zM1721 1264l6 49-5 111-6 1z"/><path class="k3" d="M1915 1235l7 34-5-116-6 154zM1821 1232l6 3-4 55-7-81z"/><path class="k4" d="M1896 1219l7 97-5-148-6 46zM1664 1258l7 96-5 54-7-63zM1658 1260l6-2-5 87-6-22z"/><path class="k7" d="M1890 1181l6 38-4-5-7 9z"/><path class="k0" d="M1652 1378l6-118 6-2 7 96 6-24 6-40 6 114 7-21 6-77 6 50 6-24 7-68 6 49 6-11 7 7 6-51 6 103 6 24 7-85 6 54 6-68 6 42 7 34 6-106 6-1 7 97 6-39 6-81 6 3 7 53 6 65 6-111 7 55 6-28 6 64 6 13 7 39 6-109 6-95 6 38 7 97 6-59 6-22 7 34 6-37 6 27 6 1 7 72 4-100-6-27-6 130-6-44-7 36-6-42-6-81-6 69-7 31-6-9-6 1-7 10-6-46-6-8-6 36-7-20-6 71-6-46-6-5-7 25-6-63-6 97-7-34-6 94-6-49-6 20-7-118-6 52-6 4-7-48-6 94-6-46-6-37-7 23-6 60-6 19-6 3-7-27-6-75-6 10-7 48-6-1-6-45-6 75-7-26-6-30-6 34-7-21z"/><path class="k1" d="M1945 1205l6 27-4 100-7-72z"/><path class="k3" d="M1914 1204l6 81-5-50-6 22z"/><path class="k0" d="M1656 1326l7 21 6-34 6 30 7 26 6-75 6 45 6 1 7-48 6-10 6 75 7 27 6-3 6-19 6-60 7-23 6 37 6 46 6-94 7 48 6-4 6-52 7 118 6-20 6 49 6-94 7 34 6-97 6 63 7-25 6 5 6 46 6-71 7 20 6-36 6 8 6 46 7-10 6-1 6 9 7-31 6-69 6 81 6 42 7-36 6 44 6-130 6 27 5-62-6 106-6-28-7-20-6 87-6-98-6 98-7-8-6-10-6-83-6 58-7 31-6-54-6-33-7 123-6-51-6-21-6 21-7-46-6 55-6-22-7-4-6 68-6-86-6 58-7-23-6 83-6-104-6 101-7 32-6-5-6-3-7-75-6 9-6 72-6-118-7-21-6 87-6-51-7 68-6 3-6-73-6 28-7-2-6-5-6 72-6-109-7 25z"/><path class="k1" d="M1925 1217l6 98-5 12-6-42z"/><path class="k2" d="M1900 1214l6 83-5 7-6-9zM1730 1259l7 21-5 101-6 3zM1668 1277l6 109-5-73-6 34z"/><path class="k3" d="M1875 1216l6 33-5 11-6-8z"/><path class="k0" d="M1661 1302l7-25 6 109 6-72 6 5 7 2 6-28 6 73 6-3 7-68 6 51 6-87 7 21 6 118 6-72 6-9 7 75 6 3 6 5 7-32 6-101 6 104 6-83 7 23 6-58 6 86 6-68 7 4 6 22 6-55 7 46 6-21 6 21 6 51 7-123 6 33 6 54 7-31 6-58 6 83 6 10 7 8 6-98 6 98 6-87 7 20 6 28 6-106 5 73-6-28-6 90-7-36-6-7-6 29-7 54-6-147-6 102-6 70-7-97-6-75-6 140-7-31-6 20-6 4-6-100-7 38-6-1-6-42-6-18-7 98-6 69-6-88-7 92-6-85-6 66-6-31-7-62-6 65-6-12-7 6-6 12-6-60-6 54-7-8-6-63-6 87-6-17-7 49-6-92-6-3-7 57-6-59-6 104-6-64-7-3-6-3z"/><path class="k1" d="M1691 1283l6 59-4-21-7-2z"/><path class="k2" d="M1861 1231l6 100-5-43-6-21zM1735 1261l6 63-4-44-7-21z"/><path class="k3" d="M1842 1226l6 42-5-26-6 55z"/><path class="k4" d="M1955 1215l6 28-5-73-6 106z"/><path class="k5" d="M1917 1198l6 147-4-30-7-8z"/><path class="k6" d="M1892 1198l6 75-4-1-7 31zM1836 1208l6 18-5 71-6-22z"/><path class="k0" d="M1666 1317l6 3 7 3 6 64 6-104 6 59 7-57 6 3 6 92 7-49 6 17 6-87 6 63 7 8 6-54 6 60 6-12 7-6 6 12 6-65 7 62 6 31 6-66 6 85 7-92 6 88 6-69 7-98 6 18 6 42 6 1 7-38 6 100 6-4 6-20 7 31 6-140 6 75 7 97 6-70 6-102 6 147 7-54 6-29 6 7 7 36 6-90 6 28 5 78-6-55-7 8-6 34-6-23-7-22-6 23-6 61-6-37-7-79-6-28-6 46-6 26-7 49-6 75-6-99-7 14-6 6-6 33-6-72-7 7-6 6-6 58-7 46-6-80-6 7-6 12-7-42-6-15-6 48-6-26-7-45-6 27-6 101-7-85-6 32-6-10-6-14-7-35-6 61-6 38-6-37-7-23-6 53-6-30-7 33-6-27-6-45z"/><path class="k1" d="M1727 1273l7 35-5 40-6-17z"/><path class="k2" d="M1897 1249l6-46-5 70-6-75zM1771 1257l7 45-5 18-7 6z"/><path class="k5" d="M1903 1203l6 28-4 139-7-97z"/><path class="k0" d="M1671 1296l6 45 6 27 7-33 6 30 6-53 7 23 6 37 6-38 6-61 7 35 6 14 6 10 6-32 7 85 6-101 6-27 7 45 6 26 6-48 6 15 7 42 6-12 6-7 6 80 7-46 6-58 6-6 7-7 6 72 6-33 6-6 7-14 6 99 6-75 7-49 6-26 6-46 6 28 7 79 6 37 6-61 6-23 7 22 6 23 6-34 7-8 6 55 5-113-7 64-6-43-6 30-6 85-7-89-6 12-6 29-7-73-6 76-6-18-6-13-7 40-6-36-6 72-7-116-6 90-6-74-6 67-7 26-6 34-6-108-6-14-7 13-6 72-6 63-7-105-6 114-6-52-6-8-7-29-6 12-6 12-6 32-7 6-6-26-6 2-7 52-6-70-6-19-6-18-7 50-6 85-6-36-7-50-6-32-6 76-6-38z"/><path class="k1" d="M1864 1244l6 74-5-4-6 6zM1833 1249l6 14-5 31-6 58z"/><path class="k2" d="M1920 1223l7 73-5 51-6-37z"/><path class="k3" d="M1876 1228l7 116-5 55-6-99z"/><path class="k0" d="M1676 1355l6 38 6-76 6 32 7 50 6 36 6-85 7-50 6 18 6 19 6 70 7-52 6-2 6 26 7-6 6-32 6-12 6-12 7 29 6 8 6 52 6-114 7 105 6-63 6-72 7-13 6 14 6 108 6-34 7-26 6-67 6 74 6-90 7 116 6-72 6 36 7-40 6 13 6 18 6-76 7 73 6-29 6-12 7 89 6-85 6-30 6 43 7-64 4 70-6 66-6 34-6-61-7 20-6-62-6-18-6-9-7 56-6-79-6 72-7 25-6-79-6 47-6-60-7 154-6-141-6 9-7 42-6 28-6-58-6 39-7 61-6-50-6-31-6 12-7 2-6-27-6 89-7-99-6 144-6-33-6-104-7 26-6 63-6 1-7-72-6 63-6 90-6-199-7 116-6 94-6-174-6-41-7 183-6-98-6-87-7 159z"/><path class="k2" d="M1919 1225l6 79-5-81-6 76zM1875 1243l6 141-5-156-6 90zM1793 1260l7 99-5-5-6-8zM1775 1267l6 104-5-42-6 12z"/><path class="k3" d="M1888 1230l6 60-5-18-6 72zM1712 1275l6 174-5-99-6 85z"/><path class="k8" d="M1731 1239l6 199-5-101-6-19z"/><path class="k9" d="M1706 1234l6 41-5 160-6-36z"/><path class="k10" d="M1687 1232l6 87-5-2-6 76z"/><path class="k0" d="M1680 1391l7-159 6 87 6 98 7-183 6 41 6 174 6-94 7-116 6 199 6-90 6-63 7 72 6-1 6-63 7-26 6 104 6 33 6-144 7 99 6-89 6 27 7-2 6-12 6 31 6 50 7-61 6-39 6 58 6-28 7-42 6-9 6 141 7-154 6 60 6-47 6 79 7-25 6-72 6 79 7-56 6 9 6 18 6 62 7-20 6 61 6-34 6-66 5-17-6-15-6 58-7-9-6 40-6-73-6 35-7 29-6-63-6 0-7 6-6 49-6-54-6 46-7 31-6-77-6 60-6 8-7-43-6 41-6-27-7 63-6-7-6 12-6 14-7-64-6 97-6-150-7 49-6-100-6 79-6-16-7 3-6 64-6 12-6-38-7 38-6-10-6-60-7 119-6 14-6-52-6-86-7 18-6 3-6 122-6-109-7 116z"/><path class="k2" d="M1717 1284l6 86-5 79-6-174z"/><path class="k3" d="M1792 1296l6-79-5 43-6 144z"/><path class="k4" d="M1710 1302l7-18-5-9-6-41zM1704 1305l6-3-4-68-7 183zM1692 1318l6 109-5-108-6-87z"/><path class="k9" d="M1798 1217l6 100-4 42-7-99z"/><path class="k0" d="M1685 1434l7-116 6 109 6-122 6-3 7-18 6 86 6 52 6-14 7-119 6 60 6 10 7-38 6 38 6-12 6-64 7-3 6 16 6-79 6 100 7-49 6 150 6-97 7 64 6-14 6-12 6 7 7-63 6 27 6-41 7 43 6-8 6-60 6 77 7-31 6-46 6 54 6-49 7-6 6 0 6 63 7-29 6-35 6 73 6-40 7 9 6-58 6 15 5-4-6-30-7 26-6-15-6 100-6-83-7-55-6 45-6 12-6-12-7 21-6 1-6 55-7-83-6 74-6 7-6 36-7 32-6-102-6-41-7-10-6 86-6-27-6-96-7 183-6 17-6-45-6-38-7-42-6 14-6 7-7 69-6-72-6 4-6 14-7 1-6 81-6-20-6-100-7 36-6 51-6-7-7 87-6-54-6-61-6-47-7 18-6 7z"/><path class="k1" d="M1690 1301l6-7-4 24-7 116z"/><path class="k2" d="M1941 1245l6-45-4 97-7 29zM1903 1239l7 83-5-58-6 46zM1866 1245l6 41-5 3-6 41z"/><path class="k3" d="M1797 1294l6-7-5-70-6 79zM1747 1271l6 100-5-22-6-60zM1696 1294l7-18-5 151-6-109z"/><path class="k4" d="M1859 1235l7 10-5 85-6-27zM1803 1287l6-14-5 44-6-100zM1703 1276l6 47-5-18-6 122z"/><path class="k6" d="M1947 1200l7 55-5 7-6 35z"/><path class="k10" d="M1841 1198l6 96-5 65-6 12z"/><path class="k0" d="M1690 1301l6-7 7-18 6 47 6 61 6 54 7-87 6 7 6-51 7-36 6 100 6 20 6-81 7-1 6-14 6-4 6 72 7-69 6-7 6-14 7 42 6 38 6 45 6-17 7-183 6 96 6 27 6-86 7 10 6 41 6 102 7-32 6-36 6-7 6-74 7 83 6-55 6-1 7-21 6 12 6-12 6-45 7 55 6 83 6-100 6 15 7-26 6 30 5-20-6 27-7 9-6 58-6-68-7 44-6-34-6 49-6 52-7-30-6-48-6 46-7-20-6 16-6 6-6-152-7 62-6 86-6-61-6 51-7-3-6-63-6 100-7-85-6-42-6 55-6 51-7 0-6 67-6-149-6 60-7 23-6-109-6 85-7 51-6-55-6 59-6 19-7-14-6-56-6 73-7 32-6-17-6-101-6 47-7-13-6 30-6-41z"/><path class="k1" d="M1833 1292l6-55-5 144-6 17zM1783 1320l6-85-5 56-6 4z"/><path class="k2" d="M1858 1264l6 63-5-92-6 86z"/><path class="k3" d="M1808 1261l6 149-5-137-6 14z"/><path class="k4" d="M1845 1279l7 85-5-70-6-96z"/><path class="k5" d="M1889 1254l7-62-5 128-6 36z"/><path class="k7" d="M1789 1235l6 109-5 19-6-72z"/><path class="k8" d="M1839 1237l6 42-4-81-7 183z"/><path class="k10" d="M1896 1192l6 152-5-31-6 7z"/><path class="k0" d="M1695 1334l6 41 6-30 7 13 6-47 6 101 6 17 7-32 6-73 6 56 7 14 6-19 6-59 6 55 7-51 6-85 6 109 7-23 6-60 6 149 6-67 7 0 6-51 6-55 6 42 7 85 6-100 6 63 7 3 6-51 6 61 6-86 7-62 6 152 6-6 6-16 7 20 6-46 6 48 7 30 6-52 6-49 6 34 7-44 6 68 6-58 7-9 6-27 5 44-7 47-6 0-6-120-7-38-6 163-6-122-6-2-7 65-6 12-6 42-6-11-7-11-6-27-6 48-7-90-6 104-6 14-6-64-7 22-6-11-6 43-6-37-7 82-6-132-6 23-7 76-6-26-6-17-6-33-7 132-6-111-6 75-7-94-6 42-6-21-6 33-7-43-6-18-6 88-6 6-7 55-6-34-6-8-7-21-6 84-6-79-6 36z"/><path class="k1" d="M1813 1281l6 33-5 96-6-149z"/><path class="k2" d="M1838 1281l6-23-5-21-6 55z"/><path class="k3" d="M1756 1276l6 18-4 100-7-14z"/><path class="k4" d="M1976 1208l6 120-5-55-6 58zM1844 1258l6 132-5-111-6-42zM1787 1283l7 94-5-142-6 85z"/><path class="k5" d="M1957 1211l6 122-5-26-6-34zM1951 1209l6 2-5 62-6 49z"/><path class="k6" d="M1900 1237l7 90-5 17-6-152z"/><path class="k10" d="M1969 1170l7 38-5 123-6-68z"/><path class="k0" d="M1700 1403l6-36 6 79 6-84 7 21 6 8 6 34 7-55 6-6 6-88 6 18 7 43 6-33 6 21 6-42 7 94 6-75 6 111 7-132 6 33 6 17 6 26 7-76 6-23 6 132 7-82 6 37 6-43 6 11 7-22 6 64 6-14 6-104 7 90 6-48 6 27 7 11 6 11 6-42 6-12 7-65 6 2 6 122 6-163 7 38 6 120 6 0 7-47 4-6-6-21-6 56-6-53-7 35-6 10-6-59-7 31-6 28-6-38-6-57-7 148-6-106-6 38-6-46-7 16-6-15-6 77-7 18-6 14-6-72-6-37-7 54-6 88-6 20-7-80-6 17-6-67-6-25-7 115-6-8-6-52-6 11-7-10-6 21-6 18-7-59-6 46-6 17-6 22-7 54-6-81-6 79-6-32-7-45-6-5-6-15-7 82z"/><path class="k1" d="M1981 1257l6 53-5 18-6-120zM1974 1292l7-35-5-49-7-38zM1968 1302l6-10-5-122-6 163zM1924 1249l6 106-4-38-7-11zM1830 1274l6 67-5 16-6-26zM1773 1285l7 59-5-40-6 33z"/><path class="k2" d="M1962 1243l6 59-5 31-6-122zM1912 1241l6 46-5-8-6 48zM1905 1257l7-16-5 86-7-90z"/><path class="k3" d="M1899 1242l6 15-5-20-6 104z"/><path class="k4" d="M1868 1242l6 37-5 23-6 43z"/><path class="k5" d="M1824 1249l6 25-5 57-6-17z"/><path class="k7" d="M1937 1207l6 57-5 22-6 42z"/><path class="k0" d="M1704 1407l7-82 6 15 6 5 7 45 6 32 6-79 6 81 7-54 6-22 6-17 6-46 7 59 6-18 6-21 7 10 6-11 6 52 6 8 7-115 6 25 6 67 6-17 7 80 6-20 6-88 7-54 6 37 6 72 6-14 7-18 6-77 6 15 7-16 6 46 6-38 6 106 7-148 6 57 6 38 6-28 7-31 6 59 6-10 7-35 6 53 6-56 6 21 5 5-6 30-6-2-7-4-6-13-6 17-6-63-7 115-6-18-6 34-7-71-6 50-6-59-6 14-7-59-6 27-6-25-7 14-6 16-6 27-6 0-7 14-6-55-6 71-6-48-7 63-6 11-6 2-7 3-6-100-6 67-6 35-7-42-6-26-6 60-6-13-7 26-6-14-6-23-7 9-6-40-6 148-6-125-7 56-6-19-6 3-7 24-6-39z"/><path class="k1" d="M1897 1267l7-14-5-11-6 77z"/><path class="k2" d="M1916 1251l7 59-5-23-6-46zM1904 1253l6 25-5-21-6-15zM1866 1269l6 55-4-82-7 54z"/><path class="k4" d="M1822 1271l6 100-4-122-7 115z"/><path class="k0" d="M1709 1358l6 39 7-24 6-3 6 19 7-56 6 125 6-148 6 40 7-9 6 23 6 14 7-26 6 13 6-60 6 26 7 42 6-35 6-67 6 100 7-3 6-2 6-11 7-63 6 48 6-71 6 55 7-14 6 0 6-27 6-16 7-14 6 25 6-27 7 59 6-14 6 59 6-50 7 71 6-34 6 18 7-115 6 63 6-17 6 13 7 4 6 2 6-30 5-8-6-14-7 98-6-75-6 38-6-81-7 92-6-65-6 32-7-49-6 110-6-107-6 71-7-44-6-15-6 70-6-25-7-46-6 76-6 10-7-76-6 17-6 26-6 119-7-48-6-14-6-11-6 10-7-65-6 109-6-111-7 1-6 22-6 36-6-41-7-21-6 69-6 52-7-3-6-95-6 41-6-51-7-4-6 42-6-1-6 118-7-119-6-1z"/><path class="k1" d="M1978 1238l6 81-5-28-6 17zM1952 1248l7 49-5 45-6 34zM1940 1251l6 107-5-53-6 50zM1921 1263l6 15-4 32-7-59zM1902 1262l7 46-5-55-7 14z"/><path class="k0" d="M1714 1349l6 1 7 119 6-118 6 1 6-42 7 4 6 51 6-41 6 95 7 3 6-52 6-69 7 21 6 41 6-36 6-22 7-1 6 111 6-109 7 65 6-10 6 11 6 14 7 48 6-119 6-26 6-17 7 76 6-10 6-76 7 46 6 25 6-70 6 15 7 44 6-71 6 107 6-110 7 49 6-32 6 65 7-92 6 81 6-38 6 75 7-98 6 14 5-100-7 78-6 109-6-63-6-3-7 7-6 39-6-58-6-21-7-12-6 144-6-82-7-4-6-40-6 68-6-39-7-10-6 76-6 10-6-113-7 127-6-6-6-169-7 84-6-38-6 15-6 89-7-17-6-37-6 82-7-77-6-9-6 48-6-10-7 14-6 22-6-72-6 59-7 15-6-12-6 6-7-15-6 45-6-80-6 2-7 96-6-110-6 25z"/><path class="k1" d="M1957 1248l7 12-5 37-7-49zM1725 1310l6 110-4 49-7-119z"/><path class="k2" d="M1895 1258l6 113-5-33-6 10z"/><path class="k3" d="M1857 1271l6-15-5 130-6-14z"/><path class="k4" d="M1869 1294l7-84-5 105-6 119zM1863 1256l6 38-4 140-7-48z"/><path class="k5" d="M2007 1250l7-78-5 100-6-14z"/><path class="k10" d="M1876 1210l6 169-5-90-6 26z"/><path class="k0" d="M1719 1335l6-25 6 110 7-96 6-2 6 80 6-45 7 15 6-6 6 12 7-15 6-59 6 72 6-22 7-14 6 10 6-48 6 9 7 77 6-82 6 37 7 17 6-89 6-15 6 38 7-84 6 169 6 6 7-127 6 113 6-10 6-76 7 10 6 39 6-68 6 40 7 4 6 82 6-144 7 12 6 21 6 58 6-39 7-7 6 3 6 63 6-109 7-78 5 118-7-12-6-21-6 13-7 0-6 38-6-23-6-33-7 11-6 123-6-28-6-94-7 53-6-85-6 56-7 7-6-63-6 127-6-53-7-15-6 12-6 113-7-135-6 59-6 100-6-116-7 2-6 47-6-4-6-36-7 6-6 30-6 31-7-74-6-4-6 39-6 7-7 17-6-8-6 42-6-61-7 13-6-9-6-78-7 103-6 21-6-35-6 11z"/><path class="k1" d="M1931 1288l6-56-5 34-6 68zM1874 1340l6-59-4-71-7 84z"/><path class="k3" d="M2012 1278l7 12-5-118-7 78z"/><path class="k5" d="M1937 1232l6 85-5-11-6-40zM1880 1281l7 135-5-37-6-169zM1749 1284l6 78-5 40-6-80z"/><path class="k6" d="M1918 1232l6 63-4 0-7-10z"/><path class="k0" d="M1724 1384l6-11 6 35 6-21 7-103 6 78 6 9 7-13 6 61 6-42 6 8 7-17 6-7 6-39 6 4 7 74 6-31 6-30 7-6 6 36 6 4 6-47 7-2 6 116 6-100 6-59 7 135 6-113 6-12 7 15 6 53 6-127 6 63 7-7 6-56 6 85 7-53 6 94 6 28 6-123 7-11 6 33 6 23 6-38 7 0 6-13 6 21 7 12 4 24-6-54-6 77-6-61-7 10-6-88-6 193-7-107-6 64-6-114-6 6-7 105-6-66-6-1-7 68-6 6-6-2-6 75-7-128-6 35-6-69-6 68-7-34-6 13-6 106-7-101-6 109-6-201-6 116-7-81-6 103-6 73-6-152-7 48-6 70-6-71-7 20-6-79-6 92-6-30-7-65-6 81-6-24-7 69-6-40-6 3-6 58-7-125z"/><path class="k1" d="M1848 1339l6-116-5 150-6-4zM1766 1348l6-81-4 91-7 13z"/><path class="k2" d="M1942 1278l6 1-5 38-6-85zM1898 1263l6 69-5-41-6 12z"/><path class="k3" d="M1823 1282l6 152-5-65-6 31z"/><path class="k4" d="M1967 1234l6 114-5-85-6 123zM1961 1240l6-6-5 152-6-28z"/><path class="k5" d="M1841 1258l7 81-5 30-6-36zM1728 1289l7 125-5-41-6 11z"/><path class="k6" d="M1791 1270l6 79-4 19-7 17z"/><path class="k7" d="M1772 1267l7 65-5 87-6-61z"/><path class="k8" d="M1992 1198l6 88-5-16-6 38z"/><path class="k10" d="M1854 1223l6 201-5-98-6 47z"/><path class="k0" d="M1728 1289l7 125 6-58 6-3 6 40 7-69 6 24 6-81 7 65 6 30 6-92 6 79 7-20 6 71 6-70 7-48 6 152 6-73 6-103 7 81 6-116 6 201 6-109 7 101 6-106 6-13 7 34 6-68 6 69 6-35 7 128 6-75 6 2 6-6 7-68 6 1 6 66 7-105 6-6 6 114 6-64 7 107 6-193 6 88 7-10 6 61 6-77 6 54 5-12-6 11-6-9-7-89-6 52-6-22-7 32-6-86-6 116-6-28-7-15-6 38-6 38-6-113-7 88-6-52-6 125-7-57-6 20-6 12-6-98-7 79-6-13-6-11-6 44-7-133-6 106-6-64-7 45-6-57-6 48-6-15-7 48-6-11-6-8-7 87-6-86-6-20-6 52-7 23-6-14-6 53-6-87-7 8-6 28-6-8-7-17-6 90z"/><path class="k1" d="M1972 1279l6 28-5 41-6-114zM1934 1263l6 52-5 31-6 6zM1865 1337l6-106-5 84-6 109zM1834 1294l6 15-5 52-6 73z"/><path class="k2" d="M2003 1267l6-52-4 61-7 10zM1978 1307l6-116-5 93-6 64zM1965 1264l7 15-5-45-6 6zM1903 1265l6 98-5-31-6-69zM1840 1309l6-48-5-3-6 103z"/><path class="k3" d="M1990 1277l7-32-5-47-6 193zM1852 1318l7-45-5-50-6 116zM1796 1304l6 20-5 25-6-79z"/><path class="k5" d="M1997 1245l6 22-5 19-6-88zM1846 1261l6 57-4 21-7-81z"/><path class="k6" d="M2009 1215l7 89-5 33-6-61zM1947 1227l6 113-5-61-6-1z"/><path class="k7" d="M1859 1273l6 64-5 87-6-201z"/><path class="k9" d="M1871 1231l7 133-5 52-7-101z"/><path class="k10" d="M1984 1191l6 86-4 114-7-107z"/><path class="k0" d="M1733 1432l6-90 7 17 6 8 6-28 7-8 6 87 6-53 6 14 7-23 6-52 6 20 6 86 7-87 6 8 6 11 7-48 6 15 6-48 6 57 7-45 6 64 6-106 7 133 6-44 6 11 6 13 7-79 6 98 6-12 6-20 7 57 6-125 6 52 7-88 6 113 6-38 6-38 7 15 6 28 6-116 6 86 7-32 6 22 6-52 7 89 6 9 6-11 5 79-6-136-7 31-6-18-6 21-6 48-7-67-6 0-6 41-7-25-6 102-6-44-6 5-7 17-6-75-6 5-6 24-7-36-6-62-6 103-7 60-6 10-6-63-6 42-7-92-6 102-6-149-7 141-6 16-6-68-6 68-7-107-6 120-6-94-6-53-7 85-6 43-6-55-7 48-6 9-6-33-6 46-7 33-6-65-6-18-6 103-7 3-6-21z"/><path class="k1" d="M2027 1245l6 136-5-79-6 11zM2008 1279l6-21-5-43-6 52zM1995 1260l7 67-5-82-7 32zM1926 1274l7 36-5 78-7-57zM1851 1314l6 68-5-64-6-57zM1826 1301l6 94-5-53-6-11z"/><path class="k2" d="M1983 1301l6-41-5-69-6 116z"/><path class="k3" d="M2014 1258l6 18-4 28-7-89zM1945 1281l6 75-4-129-7 88zM1914 1315l6-103-5 139-6 12zM1882 1272l7 92-5-44-6 44zM1813 1333l7-85-5 75-7 87z"/><path class="k4" d="M1838 1275l7 107-5-73-6-15z"/><path class="k5" d="M1989 1260l6 0-5 17-6-86z"/><path class="k9" d="M1820 1248l6 53-5 30-6-8z"/><path class="k10" d="M1920 1212l6 62-5 57-6 20zM1870 1225l6 149-5-143-6 106z"/><path class="k0" d="M1738 1426l6 21 7-3 6-103 6 18 6 65 7-33 6-46 6 33 6-9 7-48 6 55 6-43 7-85 6 53 6 94 6-120 7 107 6-68 6 68 6-16 7-141 6 149 6-102 7 92 6-42 6 63 6-10 7-60 6-103 6 62 7 36 6-24 6-5 6 75 7-17 6-5 6 44 6-102 7 25 6-41 6 0 7 67 6-48 6-21 6 18 7-31 6 136 5-53-7-1-6 50-6-82-6 27-7-38-6 17-6-92-6 133-7-57-6 132-6-128-7 122-6-142-6 89-6-16-7 15-6 64-6-67-7-21-6 59-6-90-6-24-7 29-6 93-6-56-6 76-7-95-6 34-6-18-7 63-6-86-6 24-6 16-7-8-6-61-6 160-6-140-7 30-6 42-6-9-7-17-6 53-6-3-6-32-7 38-6-21-6 3z"/><path class="k1" d="M1956 1269l6 142-4-72-7 17zM1918 1333l7 21-5-142-6 103zM1843 1318l6 86-4-22-7-107zM1824 1350l7 8-5-57-6-53zM1806 1309l6 140-5-73-6-55z"/><path class="k2" d="M1900 1278l6 24-5 83-6-63z"/><path class="k3" d="M1868 1325l7 95-5-195-7 141z"/><path class="k6" d="M1818 1289l6 61-4-102-7 85z"/><path class="k8" d="M1994 1209l6 92-5-41-6 0z"/><path class="k0" d="M1743 1393l6-3 6 21 7-38 6 32 6 3 6-53 7 17 6 9 6-42 7-30 6 140 6-160 6 61 7 8 6-16 6-24 6 86 7-63 6 18 6-34 7 95 6-76 6 56 6-93 7-29 6 24 6 90 6-59 7 21 6 67 6-64 7-15 6 16 6-89 6 142 7-122 6 128 6-132 7 57 6-133 6 92 6-17 7 38 6-27 6 82 6-50 7 1 5 17-7-9-6-47-6-36-7-8-6 13-6 50-6 80-7-18-6-42-6 3-7 29-6-72-6-6-6 20-7 60-6-32-6-10-6 31-7 44-6-105-6-12-7 129-6-114-6 31-6-13-7-22-6 164-6-143-6-48-7 52-6 20-6 3-7-35-6-59-6 83-6 10-7 36-6-10-6 1-7 42-6 19-6-63-6-48-7 31-6-43-6 70-6 56z"/><path class="k1" d="M2024 1253l6 36-5 88-6-82zM2011 1258l6-13-4 77-7-38zM1898 1293l6 114-4-129-7 29zM1879 1289l7 22-5 33-6 76zM1835 1302l7 35-5 5-6 16z"/><path class="k2" d="M2017 1245l7 8-5 42-6 27zM1911 1278l6 12-5 102-6-90zM1854 1314l7-52-5 79-7 63zM1773 1313l6 48-5 47-6-3z"/><path class="k4" d="M1823 1326l6-83-5 107-6-61zM1760 1301l6 43-4 29-7 38z"/><path class="k6" d="M1861 1262l6 48-5 49-6-18z"/><path class="k10" d="M1829 1243l6 59-4 56-7-8z"/><path class="k0" d="M1748 1427l6-56 6-70 6 43 7-31 6 48 6 63 6-19 7-42 6-1 6 10 7-36 6-10 6-83 6 59 7 35 6-3 6-20 7-52 6 48 6 143 6-164 7 22 6 13 6-31 6 114 7-129 6 12 6 105 7-44 6-31 6 10 6 32 7-60 6-20 6 6 6 72 7-29 6-3 6 42 7 18 6-80 6-50 6-13 7 8 6 36 6 47 7 9 4-25-6-1-6 3-7 60-6-72-6-42-6 63-7 6-6-66-6 122-6-12-7-90-6 31-6 10-7 5-6-15-6 32-6-12-7-12-6 73-6-95-6 34-7 83-6-52-6-31-7 68-6-66-6 3-6 21-7-4-6 18-6-1-7-19-6 4-6 38-6-48-7 113-6-35-6-20-6-80-7 16-6-5-6 65-7-105-6 66-6 67-6-82-7-7z"/><path class="k1" d="M2016 1268l6 42-5-65-6 13z"/><path class="k2" d="M1828 1356l6 48-5-161-6 83z"/><path class="k4" d="M1777 1305l7 105-5-49-6-48z"/><path class="k0" d="M1752 1349l7 7 6 82 6-67 6-66 7 105 6-65 6 5 7-16 6 80 6 20 6 35 7-113 6 48 6-38 6-4 7 19 6 1 6-18 7 4 6-21 6-3 6 66 7-68 6 31 6 52 7-83 6-34 6 95 6-73 7 12 6 12 6-32 6 15 7-5 6-10 6-31 7 90 6 12 6-122 6 66 7-6 6-63 6 42 6 72 7-60 6-3 6 1 5 59-6-111-6 4-7 107-6-30-6-37-7 113-6-156-6-5-6 110-7-88-6 27-6 2-6-1-7-36-6 76-6-38-7 36-6 8-6-50-6 23-7 39-6-10-6-27-7 107-6-114-6 28-6 5-7-74-6 106-6 16-6 11-7-91-6 101-6-135-7 88-6 39-6 13-6-94-7 15-6 65-6-65-6 73-7-37-6 8-6-103-7 76-6-33z"/><path class="k1" d="M2002 1264l6 5-5 68-6-66z"/><path class="k3" d="M1876 1287l7 74-5-14-6 21zM1839 1295l6 135-5-64-6 38z"/><path class="k6" d="M1770 1297l6 103-5-29-6 67z"/><path class="k0" d="M1757 1340l6 33 7-76 6 103 6-8 7 37 6-73 6 65 6-65 7-15 6 94 6-13 6-39 7-88 6 135 6-101 7 91 6-11 6-16 6-106 7 74 6-5 6-28 6 114 7-107 6 27 6 10 7-39 6-23 6 50 6-8 7-36 6 38 6-76 7 36 6 1 6-2 6-27 7 88 6-110 6 5 6 156 7-113 6 37 6 30 7-107 6-4 6 111 5-112-6 51-7 41-6-27-6-49-6 35-7-14-6 3-6 53-7 14-6-43-6-43-6 109-7-114-6-28-6 95-7-35-6 34-6-57-6 11-7 17-6 38-6-29-6-12-7 49-6-88-6 22-7-1-6 92-6-14-6 18-7 65-6-81-6 33-6-112-7 89-6-21-6 28-7-18-6 74-6-101-6-31-7 69-6-44-6 35-7 52-6-43-6 32z"/><path class="k1" d="M1887 1299l7 1-5 56-6 5zM1800 1320l6 31-5 70-6-65z"/><path class="k2" d="M1894 1300l6-22-5 50-6 28z"/><path class="k3" d="M1844 1300l6 112-5 18-6-135z"/><path class="k4" d="M1969 1255l6 28-4 31-7-36zM1900 1278l6 88-5 76-6-114z"/><path class="k0" d="M1762 1421l6-32 6 43 7-52 6-35 6 44 7-69 6 31 6 101 6-74 7 18 6-28 6 21 7-89 6 112 6-33 6 81 7-65 6-18 6 14 6-92 7 1 6-22 6 88 7-49 6 12 6 29 6-38 7-17 6-11 6 57 6-34 7 35 6-95 6 28 7 114 6-109 6 43 6 43 7-14 6-53 6-3 7 14 6-35 6 49 6 27 7-41 6-51 5 31-7 67-6-84-6-51-6 98-7-47-6 91-6-94-7 96-6 39-6-83-6-38-7-24-6 31-6 50-6-10-7-23-6 53-6-48-7 65-6-72-6 52-6-94-7 80-6-28-6-87-6 107-7-41-6 13-6 45-7 54-6-70-6-62-6 130-7-95-6-13-6 141-7-63-6-20-6 50-6-97-7 67-6 11-6-2-6-32-7 3-6 48-6-24z"/><path class="k1" d="M1892 1303l7 41-5-44-7-1z"/><path class="k2" d="M1986 1268l7 24-5-4-6 109zM1899 1344l6-107-5 41-6 22zM1848 1318l7 95-5-1-6-112zM1811 1316l6 97-5 39-6-101z"/><path class="k3" d="M1842 1305l6 13-4-18-7 89z"/><path class="k4" d="M1924 1272l6 94-5-8-6-29z"/><path class="k5" d="M1861 1283l6 62-5 115-6-81z"/><path class="k6" d="M2043 1230l6 51-5 78-6-27z"/><path class="k10" d="M1905 1237l6 87-5 42-6-88z"/><path class="k0" d="M1767 1387l6 24 6-48 7-3 6 32 6 2 6-11 7-67 6 97 6-50 6 20 7 63 6-141 6 13 7 95 6-130 6 62 6 70 7-54 6-45 6-13 7 41 6-107 6 87 6 28 7-80 6 94 6-52 6 72 7-65 6 48 6-53 7 23 6 10 6-50 6-31 7 24 6 38 6 83 6-39 7-96 6 94 6-91 7 47 6-98 6 51 6 84 7-67 4-6-6 36-6 27-6-79-7 41-6 39-6-24-6-14-7 39-6 8-6-16-7-7-6-2-6 28-6 17-7 11-6-121-6 122-6-95-7 41-6 4-6 10-7-46-6 46-6-55-6 32-7-68-6 101-6 61-7-94-6 85-6-98-6 56-7-88-6 106-6 28-6-130-7 124-6 59-6-150-7-11-6-28-6 108-6 75-7-24-6 19-6-58-6-47z"/><path class="k1" d="M1928 1311l7 46-5 9-6-94zM1822 1326l6 150-5-113-6 50z"/><path class="k2" d="M2048 1276l6 79-5-74-6-51zM1966 1275l6 121-4-57-7-23z"/><path class="k3" d="M1910 1334l6-32-5 22-6-87zM1815 1315l7 11-5 87-6-97z"/><path class="k5" d="M1859 1289l7 88-5-94-6 130zM1841 1293l6 130-5-118-6 141z"/><path class="k7" d="M1809 1287l6 28-4 1-7 67z"/><path class="k8" d="M1903 1266l7 68-5-97-6 107z"/></g>
<path d="M1546.3 1134.4L1546.3 1362.1L1771.5 1465.8L2066.5 1386.5" stroke="#262626" stroke-width="2.2" fill="none" stroke-linejoin="miter"/><path d="M1546.3 1336.8l-8 -3M1546.3 1286.2l-8 -3M1546.3 1235.6l-8 -3M1546.3 1185l-8 -3M1546.3 1134.4l-8 -3M1717.3 1440.9l-7.5 2.2M1842.4 1446.7l7.6 3.6M1660.3 1414.6l-7.5 2.2M1917.1 1426.6l7.6 3.6M1603.3 1388.3l-7.5 2.2M1991.8 1406.6l7.6 3.6M1546.3 1362.1l-7.5 2.2M2066.5 1386.5l7.6 3.6" stroke="#262626" stroke-width="1.9" fill="none"/>
<text class="ls" x="1530.7" y="1338.1" font-size="27.7" text-anchor="end" fill="#262626">-2</text>
<text class="ls" x="1530.7" y="1287.5" font-size="27.7" text-anchor="end" fill="#262626">0</text>
<text class="ls" x="1530.7" y="1236.9" font-size="27.7" text-anchor="end" fill="#262626">2</text>
<text class="ls" x="1530.7" y="1186.3" font-size="27.7" text-anchor="end" fill="#262626">4</text>
<text class="ls" x="1530.7" y="1135.7" font-size="27.7" text-anchor="end" fill="#262626">6</text>
<text class="ls" x="1514.5" y="1387.3" font-size="27.7" text-anchor="middle" fill="#262626">80</text>
<text class="ls" x="1571.5" y="1414" font-size="27.7" text-anchor="middle" fill="#262626">60</text>
<text class="ls" x="1628.3" y="1440.4" font-size="27.7" text-anchor="middle" fill="#262626">40</text>
<text class="ls" x="1685.5" y="1466.8" font-size="27.7" text-anchor="middle" fill="#262626">20</text>
<text class="ls" x="1872.9" y="1474.8" font-size="27.7" text-anchor="middle" fill="#262626">20</text>
<text class="ls" x="1947" y="1454.4" font-size="27.7" text-anchor="middle" fill="#262626">40</text>
<text class="ls" x="2021.8" y="1433.9" font-size="27.7" text-anchor="middle" fill="#262626">60</text>
<text class="ls" x="2095.9" y="1414.2" font-size="27.7" text-anchor="middle" fill="#262626">80</text>
<text class="ls" y="1103.6" fill="#262626"><tspan x="1469.5" dy="3.4" font-size="31">×</tspan><tspan x="1490.7" dy="-3.4" font-size="27.7">10</tspan><tspan x="1522.3" dy="-14.3" font-size="23.5">-3</tspan></text>
<text class="se" x="1633.5" y="1507.8" font-size="31" text-anchor="middle" fill="#262626">η</text>
<text class="se" x="1926.5" y="1511.8" font-size="31" text-anchor="middle" fill="#262626">ξ</text>
<text class="ls" transform="translate(1493.3 1248.8) rotate(-90)" font-size="30.5" text-anchor="middle" fill="#262626">CC G-Y</text>
<text class="ls" x="1674.9" y="1024" font-size="25.4" fill="#111">EGFP-PYL vs. YFP-PYR<tspan dy="-9.5" dx="2" font-size="16">Mandi</tspan></text>
<text class="ls" x="-2" y="454.5" font-size="37.5" font-weight="bold" fill="#000">b</text>
<text class="ls" x="-1" y="1023.8" font-size="37.5" font-weight="bold" fill="#000">c</text>
<rect x="103.7" y="1616.6" width="433.7" height="635.6" fill="none" stroke="#222222" stroke-width="2.9"/>
<path d="M102.7 2232.8h-12M102.7 2147.7h-12M102.7 2062.7h-12M102.7 1977.6h-12M102.7 1892.6h-12M102.7 1807.5h-12M102.7 1722.4h-12M102.7 1637.4h-12" stroke="#222222" stroke-width="2.6" fill="none"/>
<text class="dv" x="78.1" y="2242.2" font-size="25.5" text-anchor="end" fill="#1f1f1f">0</text>
<text class="dv" x="78.1" y="2157.1" font-size="25.5" text-anchor="end" fill="#1f1f1f">0.2</text>
<text class="dv" x="78.1" y="2072.1" font-size="25.5" text-anchor="end" fill="#1f1f1f">0.4</text>
<text class="dv" x="78.1" y="1987" font-size="25.5" text-anchor="end" fill="#1f1f1f">0.6</text>
<text class="dv" x="78.1" y="1902" font-size="25.5" text-anchor="end" fill="#1f1f1f">0.8</text>
<text class="dv" x="78.1" y="1816.9" font-size="25.5" text-anchor="end" fill="#1f1f1f">1</text>
<text class="dv" x="78.1" y="1731.8" font-size="25.5" text-anchor="end" fill="#1f1f1f">1.2</text>
<text class="dv" x="78.1" y="1646.8" font-size="25.5" text-anchor="end" fill="#1f1f1f">1.4</text>
<text class="dv" x="158.2" y="2299.7" font-size="25.5" text-anchor="middle" fill="#1f1f1f">ABA-AM</text>
<text class="dv" x="158.2" y="2341.7" font-size="25.5" text-anchor="middle" fill="#1f1f1f">5 µM</text>
<text class="dv" x="266.4" y="2299.7" font-size="25.5" text-anchor="middle" fill="#1f1f1f">Mandi</text>
<text class="dv" x="266.4" y="2341.7" font-size="25.5" text-anchor="middle" fill="#1f1f1f">5 µM</text>
<text class="dv" x="374.6" y="2299.7" font-size="25.5" text-anchor="middle" fill="#1f1f1f">neg.</text>
<text class="dv" x="482.9" y="2299.7" font-size="25.5" text-anchor="middle" fill="#1f1f1f">pos.</text>
<text class="dv" transform="translate(20.6 1935.4) rotate(-90)" font-size="25.5" text-anchor="middle" fill="#1f1f1f">binding efficiency</text>
<text class="dv" x="320.3" y="1590.9" font-size="25.5" text-anchor="middle" fill="#1f1f1f">PYL-GFP vs. mCherry-ABI</text>
<g fill="#00f000" fill-opacity="0.5"><rect x="134.6" y="1936.3" width="13.6" height="13.6"/><rect x="165.8" y="1932.3" width="13.6" height="13.6"/><rect x="150.2" y="1989.5" width="13.6" height="13.6"/><rect x="145.6" y="1996" width="13.6" height="13.6"/><rect x="163.9" y="2029" width="13.6" height="13.6"/><rect x="162.1" y="2014.3" width="13.6" height="13.6"/><rect x="150.2" y="2072.1" width="13.6" height="13.6"/><rect x="145.6" y="2078.5" width="13.6" height="13.6"/></g>
<g fill="#00f000" fill-opacity="0.5"><circle cx="142.3" cy="1960.2" r="8.1"/><circle cx="146.9" cy="1985.3" r="8.1"/><circle cx="159.7" cy="1993.6" r="8.1"/><circle cx="150.6" cy="2017.4" r="8.1"/><circle cx="172.9" cy="2070.6" r="8.1"/><circle cx="152" cy="2092.3" r="8.1"/><circle cx="150.6" cy="2089" r="8.1"/><circle cx="153.3" cy="2008.3" r="8.1"/></g>
<circle cx="148.7" cy="2019.9" r="11.2" fill="#00f000" fill-opacity="0.5" stroke="#111" stroke-width="2.6"/>
<rect x="160.5" y="2011.4" width="17.6" height="17.6" fill="#00f000" fill-opacity="0.5" stroke="#111" stroke-width="2.6"/>
<path d="M135.5 2019.8H180.3" stroke="#161616" stroke-width="2.5" fill="none"/>
<g fill="#0000ff" fill-opacity="0.5"><rect x="240.3" y="2226.3" width="13.6" height="13.6"/><rect x="241.3" y="2225.3" width="13.6" height="13.6"/><rect x="253" y="2225.6" width="13.6" height="13.6"/><rect x="257.3" y="2225.9" width="13.6" height="13.6"/><rect x="265.8" y="2225.7" width="13.6" height="13.6"/><rect x="271.6" y="2226.4" width="13.6" height="13.6"/><rect x="279.7" y="2225.5" width="13.6" height="13.6"/></g>
<g fill="#0000ff" fill-opacity="0.5"><circle cx="255.8" cy="2232.9" r="8.1"/><circle cx="268.6" cy="2232.2" r="8.1"/><circle cx="283.9" cy="2232.7" r="8.1"/></g>
<rect x="247.4" y="2223.8" width="17.6" height="17.6" fill="#0000ff" fill-opacity="0.5" stroke="#111" stroke-width="2.6"/>
<circle cx="271.7" cy="2232.6" r="11.2" fill="#0000ff" fill-opacity="0.5" stroke="#111" stroke-width="2.6"/>
<path d="M243.7 2232.6H288.7" stroke="#161616" stroke-width="2.5" fill="none"/>
<g fill="#555555" fill-opacity="0.5"><rect x="349.5" y="2225.9" width="13.6" height="13.6"/><rect x="360.3" y="2225.3" width="13.6" height="13.6"/><rect x="368" y="2225.5" width="13.6" height="13.6"/><rect x="379.6" y="2225.8" width="13.6" height="13.6"/></g>
<g fill="#555555" fill-opacity="0.5"><circle cx="361.4" cy="2232.7" r="8.1"/><circle cx="369.2" cy="2233" r="8.1"/><circle cx="382.4" cy="2232.6" r="8.1"/><circle cx="390.2" cy="2232.2" r="8.1"/></g>
<rect x="348.8" y="2223.8" width="17.6" height="17.6" fill="#555555" fill-opacity="0.5" stroke="#111" stroke-width="2.6"/>
<circle cx="388" cy="2232.6" r="11.2" fill="#555555" fill-opacity="0.5" stroke="#111" stroke-width="2.6"/>
<path d="M351 2232.6H396" stroke="#161616" stroke-width="2.5" fill="none"/>
<g fill="#555555" fill-opacity="0.5"><rect x="486.9" y="1638.4" width="13.6" height="13.6"/><rect x="491.1" y="1677" width="13.6" height="13.6"/><rect x="481" y="1769.3" width="13.6" height="13.6"/><rect x="453.8" y="1783" width="13.6" height="13.6"/><rect x="458.6" y="1792.2" width="13.6" height="13.6"/><rect x="493.8" y="1806" width="13.6" height="13.6"/><rect x="474" y="1848.2" width="13.6" height="13.6"/><rect x="478.6" y="1859.7" width="13.6" height="13.6"/></g>
<g fill="#555555" fill-opacity="0.5"><circle cx="499.2" cy="1785.6" r="8.1"/><circle cx="487.4" cy="1798.1" r="8.1"/><circle cx="489.3" cy="1807.2" r="8.1"/><circle cx="470.4" cy="1815.5" r="8.1"/><circle cx="489.6" cy="1828.3" r="8.1"/><circle cx="492.9" cy="1855" r="8.1"/><circle cx="502.8" cy="1896.2" r="8.1"/><circle cx="463.9" cy="1904.9" r="8.1"/></g>
<rect x="462.1" y="1769.5" width="17.6" height="17.6" fill="#555555" fill-opacity="0.5" stroke="#111" stroke-width="2.6"/>
<circle cx="491.5" cy="1836.6" r="11.2" fill="#555555" fill-opacity="0.5" stroke="#111" stroke-width="2.6"/>
<path d="M459.9 1807.2H506.5M482.8 1766.3V1848.5M470.6 1766.3H495M470.6 1848.5H495" stroke="#161616" stroke-width="2.5" fill="none"/>
<rect x="686.6" y="1619.4" width="434.4" height="635.8" fill="none" stroke="#222222" stroke-width="2.9"/>
<path d="M685.6 2236.4h-12M685.6 2151.2h-12M685.6 2066h-12M685.6 1980.8h-12M685.6 1895.6h-12M685.6 1810.4h-12M685.6 1725.2h-12M685.6 1640h-12" stroke="#222222" stroke-width="2.6" fill="none"/>
<text class="dv" x="661" y="2245.8" font-size="25.5" text-anchor="end" fill="#1f1f1f">0</text>
<text class="dv" x="661" y="2160.6" font-size="25.5" text-anchor="end" fill="#1f1f1f">0.2</text>
<text class="dv" x="661" y="2075.4" font-size="25.5" text-anchor="end" fill="#1f1f1f">0.4</text>
<text class="dv" x="661" y="1990.2" font-size="25.5" text-anchor="end" fill="#1f1f1f">0.6</text>
<text class="dv" x="661" y="1905" font-size="25.5" text-anchor="end" fill="#1f1f1f">0.8</text>
<text class="dv" x="661" y="1819.8" font-size="25.5" text-anchor="end" fill="#1f1f1f">1</text>
<text class="dv" x="661" y="1734.6" font-size="25.5" text-anchor="end" fill="#1f1f1f">1.2</text>
<text class="dv" x="661" y="1649.4" font-size="25.5" text-anchor="end" fill="#1f1f1f">1.4</text>
<text class="dv" x="741.4" y="2299.7" font-size="25.5" text-anchor="middle" fill="#1f1f1f">ABA-AM</text>
<text class="dv" x="741.4" y="2341.7" font-size="25.5" text-anchor="middle" fill="#1f1f1f">5 µM</text>
<text class="dv" x="849.6" y="2299.7" font-size="25.5" text-anchor="middle" fill="#1f1f1f">Mandi</text>
<text class="dv" x="849.6" y="2341.7" font-size="25.5" text-anchor="middle" fill="#1f1f1f">5 µM</text>
<text class="dv" x="957.8" y="2299.7" font-size="25.5" text-anchor="middle" fill="#1f1f1f">neg.</text>
<text class="dv" x="1066" y="2299.7" font-size="25.5" text-anchor="middle" fill="#1f1f1f">pos.</text>
<text class="dv" transform="translate(603.3 1938.3) rotate(-90)" font-size="25.5" text-anchor="middle" fill="#1f1f1f">binding efficiency</text>
<text class="dv" x="903.5" y="1593.7" font-size="25.5" text-anchor="middle" fill="#1f1f1f">PYR<tspan dy="-9.6" font-size="16.6">Mandi</tspan><tspan dy="9.6">-YFP vs. mCherry-ABI</tspan></text>
<g fill="#00f000" fill-opacity="0.5"><rect x="737.4" y="2038.2" width="13.6" height="13.6"/><rect x="746.6" y="2046.4" width="13.6" height="13.6"/><rect x="753.6" y="2097.8" width="13.6" height="13.6"/><rect x="722" y="2101.5" width="13.6" height="13.6"/><rect x="722.4" y="2107.9" width="13.6" height="13.6"/><rect x="725.5" y="2120.7" width="13.6" height="13.6"/><rect x="725.5" y="2133.6" width="13.6" height="13.6"/><rect x="736.5" y="2186.8" width="13.6" height="13.6"/><rect x="719.1" y="2229.3" width="13.6" height="13.6"/><rect x="720" y="2229.3" width="13.6" height="13.6"/></g>
<g fill="#00f000" fill-opacity="0.5"><circle cx="733.6" cy="2006.4" r="8.1"/><circle cx="722.8" cy="2023.3" r="8.1"/><circle cx="738.3" cy="2091.7" r="8.1"/><circle cx="745.1" cy="2144" r="8.1"/><circle cx="724" cy="2193.9" r="8.1"/><circle cx="744.2" cy="2193.6" r="8.1"/><circle cx="736" cy="2202.8" r="8.1"/><circle cx="754.3" cy="2236.1" r="8.1"/></g>
<rect x="725.3" y="2116.5" width="17.6" height="17.6" fill="#00f000" fill-opacity="0.5" stroke="#111" stroke-width="2.6"/>
<circle cx="747" cy="2147.7" r="11.2" fill="#00f000" fill-opacity="0.5" stroke="#111" stroke-width="2.6"/>
<path d="M717.8 2135.4H763.8M742.4 2119.6V2151M730.4 2119.6H754.4M730.4 2151H754.4" stroke="#161616" stroke-width="2.5" fill="none"/>
<g fill="#0000ff" fill-opacity="0.5"><rect x="841.1" y="1895" width="13.6" height="13.6"/><rect x="852.1" y="1897.8" width="13.6" height="13.6"/><rect x="826.4" y="1913.4" width="13.6" height="13.6"/><rect x="835.6" y="1948.2" width="13.6" height="13.6"/><rect x="829.2" y="1969.3" width="13.6" height="13.6"/><rect x="850.3" y="1982.2" width="13.6" height="13.6"/><rect x="829.7" y="1991" width="13.6" height="13.6"/><rect x="849.7" y="1991.4" width="13.6" height="13.6"/><rect x="835.6" y="1984.9" width="13.6" height="13.6"/><rect x="840.2" y="2020.7" width="13.6" height="13.6"/><rect x="847.9" y="2114.7" width="13.6" height="13.6"/></g>
<g fill="#0000ff" fill-opacity="0.5"><circle cx="866.8" cy="1942.6" r="8.1"/><circle cx="854.3" cy="1950.5" r="8.1"/><circle cx="837.8" cy="1979.8" r="8.1"/><circle cx="854.3" cy="2040.4" r="8.1"/><circle cx="833.4" cy="2091.7" r="8.1"/><circle cx="864.3" cy="1784.8" r="8.1"/><circle cx="868.4" cy="1836.4" r="8.1"/><circle cx="829.8" cy="1849.3" r="8.1"/></g>
<circle cx="830.5" cy="1934.5" r="11.2" fill="#0000ff" fill-opacity="0.5" stroke="#111" stroke-width="2.6"/>
<rect x="861.7" y="1971.4" width="17.6" height="17.6" fill="#0000ff" fill-opacity="0.5" stroke="#111" stroke-width="2.6"/>
<path d="M826 1960.9H872M849.2 1928.8V1993.6M837.2 1928.8H861.2M837.2 1993.6H861.2" stroke="#161616" stroke-width="2.5" fill="none"/>
<g fill="#555555" fill-opacity="0.5"><rect x="953.9" y="2072" width="13.6" height="13.6"/></g>
<g fill="#555555" fill-opacity="0.5"><circle cx="947.9" cy="2134.2" r="8.1"/></g>
<g fill="#555555" fill-opacity="0.5"><rect x="933" y="2229.2" width="13.6" height="13.6"/><rect x="937.5" y="2229.3" width="13.6" height="13.6"/><rect x="947.2" y="2230.1" width="13.6" height="13.6"/><rect x="950.4" y="2229.4" width="13.6" height="13.6"/><rect x="955.6" y="2229.2" width="13.6" height="13.6"/><rect x="959.6" y="2230.2" width="13.6" height="13.6"/><rect x="969.5" y="2229.3" width="13.6" height="13.6"/></g>
<g fill="#555555" fill-opacity="0.5"><circle cx="946.8" cy="2236.4" r="8.1"/><circle cx="960" cy="2236.2" r="8.1"/><circle cx="972.6" cy="2236.9" r="8.1"/></g>
<circle cx="946.1" cy="2218.1" r="11.2" fill="#555555" fill-opacity="0.5" stroke="#111" stroke-width="2.6"/>
<rect x="962.6" y="2205.5" width="17.6" height="17.6" fill="#555555" fill-opacity="0.5" stroke="#111" stroke-width="2.6"/>
<path d="M936 2216.3H981M958.5 2213.4V2219.4M947.5 2213.4H969.5M947.5 2219.4H969.5" stroke="#161616" stroke-width="2.5" fill="none"/>
<g fill="#555555" fill-opacity="0.5"><rect x="1040.5" y="1688.7" width="13.6" height="13.6"/><rect x="1059.6" y="1757" width="13.6" height="13.6"/><rect x="1070.6" y="1765.2" width="13.6" height="13.6"/><rect x="1046.6" y="1778.1" width="13.6" height="13.6"/><rect x="1073.4" y="1799.5" width="13.6" height="13.6"/><rect x="1066.6" y="1830.4" width="13.6" height="13.6"/><rect x="1072.1" y="1846" width="13.6" height="13.6"/><rect x="1053.2" y="1965.2" width="13.6" height="13.6"/></g>
<g fill="#555555" fill-opacity="0.5"><circle cx="1066.1" cy="1780.6" r="8.1"/><circle cx="1061.1" cy="1822.5" r="8.1"/><circle cx="1075.2" cy="1822.8" r="8.1"/><circle cx="1045.9" cy="1857.3" r="8.1"/><circle cx="1068.8" cy="1862.8" r="8.1"/><circle cx="1079.4" cy="1895.3" r="8.1"/><circle cx="1045.9" cy="1921.2" r="8.1"/><circle cx="1085.7" cy="2001.9" r="8.1"/></g>
<rect x="1049.4" y="1804.9" width="17.6" height="17.6" fill="#555555" fill-opacity="0.5" stroke="#111" stroke-width="2.6"/>
<circle cx="1069.7" cy="1862.5" r="11.2" fill="#555555" fill-opacity="0.5" stroke="#111" stroke-width="2.6"/>
<path d="M1042.9 1839.4H1088.9M1067 1805.6V1873.9M1055 1805.6H1079M1055 1873.9H1079" stroke="#161616" stroke-width="2.5" fill="none"/>
<rect x="1269.8" y="1620" width="325.5" height="635.2" fill="none" stroke="#222222" stroke-width="2.9"/>
<path d="M1268.8 2236.4h-12M1268.8 2144.6h-12M1268.8 2052.9h-12M1268.8 1961.1h-12M1268.8 1869.4h-12M1268.8 1777.6h-12M1268.8 1685.8h-12" stroke="#222222" stroke-width="2.6" fill="none"/>
<text class="dv" x="1244.2" y="2245.8" font-size="25.5" text-anchor="end" fill="#1f1f1f">0</text>
<text class="dv" x="1244.2" y="2154" font-size="25.5" text-anchor="end" fill="#1f1f1f">0.2</text>
<text class="dv" x="1244.2" y="2062.3" font-size="25.5" text-anchor="end" fill="#1f1f1f">0.4</text>
<text class="dv" x="1244.2" y="1970.5" font-size="25.5" text-anchor="end" fill="#1f1f1f">0.6</text>
<text class="dv" x="1244.2" y="1878.8" font-size="25.5" text-anchor="end" fill="#1f1f1f">0.8</text>
<text class="dv" x="1244.2" y="1787" font-size="25.5" text-anchor="end" fill="#1f1f1f">1</text>
<text class="dv" x="1244.2" y="1695.2" font-size="25.5" text-anchor="end" fill="#1f1f1f">1.2</text>
<text class="dv" x="1324.6" y="2299.7" font-size="25.5" text-anchor="middle" fill="#1f1f1f">ABA-AM</text>
<text class="dv" x="1324.6" y="2341.7" font-size="25.5" text-anchor="middle" fill="#1f1f1f">5 µM</text>
<text class="dv" x="1432.6" y="2299.7" font-size="25.5" text-anchor="middle" fill="#1f1f1f">Mandi</text>
<text class="dv" x="1432.6" y="2341.7" font-size="25.5" text-anchor="middle" fill="#1f1f1f">5 µM</text>
<text class="dv" x="1540.7" y="2299.7" font-size="25.5" text-anchor="middle" fill="#1f1f1f">neg.</text>
<text class="dv" transform="translate(1187 1938.6) rotate(-90)" font-size="25.5" text-anchor="middle" fill="#1f1f1f">binding efficiency</text>
<text class="dv" x="1431.5" y="1593.7" font-size="25.5" text-anchor="middle" fill="#1f1f1f">PYL-GFP vs. PYR<tspan dy="-9.6" font-size="16.6">Mandi</tspan><tspan dy="9.6">-YFP</tspan></text>
<g fill="#00f000" fill-opacity="0.5"><rect x="1298.1" y="2229.9" width="13.6" height="13.6"/><rect x="1308.1" y="2230.1" width="13.6" height="13.6"/><rect x="1318.5" y="2229.8" width="13.6" height="13.6"/><rect x="1326.1" y="2229.3" width="13.6" height="13.6"/><rect x="1333.9" y="2229.3" width="13.6" height="13.6"/></g>
<g fill="#00f000" fill-opacity="0.5"><circle cx="1310.3" cy="2236.9" r="8.1"/><circle cx="1316.8" cy="2236.4" r="8.1"/><circle cx="1329.9" cy="2235.9" r="8.1"/><circle cx="1338" cy="2236.5" r="8.1"/></g>
<circle cx="1316.5" cy="2236.4" r="11.2" fill="#00f000" fill-opacity="0.5" stroke="#111" stroke-width="2.6"/>
<rect x="1326.8" y="2227.6" width="17.6" height="17.6" fill="#00f000" fill-opacity="0.5" stroke="#111" stroke-width="2.6"/>
<path d="M1302.1 2236.4H1347.1" stroke="#161616" stroke-width="2.5" fill="none"/>
<g fill="#0000ff" fill-opacity="0.5"><circle cx="1418.8" cy="2171.9" r="8.1"/><circle cx="1424.8" cy="2181.7" r="8.1"/></g>
<g fill="#0000ff" fill-opacity="0.5"><rect x="1418" y="2231.1" width="13.6" height="13.6"/><rect x="1420.1" y="2230.4" width="13.6" height="13.6"/><rect x="1426.7" y="2231" width="13.6" height="13.6"/><rect x="1429.7" y="2231" width="13.6" height="13.6"/><rect x="1437.8" y="2230.6" width="13.6" height="13.6"/><rect x="1440.4" y="2230.9" width="13.6" height="13.6"/></g>
<g fill="#0000ff" fill-opacity="0.5"><circle cx="1428.3" cy="2237.7" r="8.1"/><circle cx="1439.4" cy="2237.9" r="8.1"/><circle cx="1449.1" cy="2237.6" r="8.1"/></g>
<circle cx="1449.2" cy="2224.7" r="11.2" fill="#0000ff" fill-opacity="0.5" stroke="#111" stroke-width="2.6"/>
<rect x="1403.9" y="2227.6" width="17.6" height="17.6" fill="#0000ff" fill-opacity="0.5" stroke="#111" stroke-width="2.6"/>
<path d="M1408.8 2230.7H1453.8M1431.3 2221V2236M1417.3 2221H1445.3M1417.3 2236H1445.3" stroke="#161616" stroke-width="2.5" fill="none"/>
<g fill="#555555" fill-opacity="0.5"><rect x="1512.8" y="2229.2" width="13.6" height="13.6"/><rect x="1522.8" y="2229.4" width="13.6" height="13.6"/><rect x="1530" y="2229.5" width="13.6" height="13.6"/><rect x="1540.8" y="2230" width="13.6" height="13.6"/><rect x="1550.8" y="2230.1" width="13.6" height="13.6"/></g>
<g fill="#555555" fill-opacity="0.5"><circle cx="1525.5" cy="2235.9" r="8.1"/><circle cx="1532.3" cy="2236.4" r="8.1"/><circle cx="1541.6" cy="2235.9" r="8.1"/><circle cx="1551" cy="2236.1" r="8.1"/><circle cx="1562" cy="2236.3" r="8.1"/></g>
<circle cx="1529.5" cy="2236.4" r="11.2" fill="#555555" fill-opacity="0.5" stroke="#111" stroke-width="2.6"/>
<rect x="1545.1" y="2227.6" width="17.6" height="17.6" fill="#555555" fill-opacity="0.5" stroke="#111" stroke-width="2.6"/>
<path d="M1518.2 2236.4H1563.2" stroke="#161616" stroke-width="2.5" fill="none"/>
<rect x="1778.2" y="1619.4" width="325.5" height="635.8" fill="none" stroke="#222222" stroke-width="2.9"/>
<path d="M1777.2 2236.4h-12M1777.2 2167.1h-12M1777.2 2097.8h-12M1777.2 2028.4h-12M1777.2 1959.1h-12M1777.2 1889.8h-12M1777.2 1820.5h-12M1777.2 1751.2h-12M1777.2 1681.8h-12" stroke="#222222" stroke-width="2.6" fill="none"/>
<text class="dv" x="1752.6" y="2245.8" font-size="25.5" text-anchor="end" fill="#1f1f1f">0</text>
<text class="dv" x="1752.6" y="2176.5" font-size="25.5" text-anchor="end" fill="#1f1f1f">0.2</text>
<text class="dv" x="1752.6" y="2107.2" font-size="25.5" text-anchor="end" fill="#1f1f1f">0.4</text>
<text class="dv" x="1752.6" y="2037.8" font-size="25.5" text-anchor="end" fill="#1f1f1f">0.6</text>
<text class="dv" x="1752.6" y="1968.5" font-size="25.5" text-anchor="end" fill="#1f1f1f">0.8</text>
<text class="dv" x="1752.6" y="1899.2" font-size="25.5" text-anchor="end" fill="#1f1f1f">1</text>
<text class="dv" x="1752.6" y="1829.9" font-size="25.5" text-anchor="end" fill="#1f1f1f">1.2</text>
<text class="dv" x="1752.6" y="1760.6" font-size="25.5" text-anchor="end" fill="#1f1f1f">1.4</text>
<text class="dv" x="1752.6" y="1691.2" font-size="25.5" text-anchor="end" fill="#1f1f1f">1.6</text>
<text class="dv" x="1832.6" y="2299.7" font-size="25.5" text-anchor="middle" fill="#1f1f1f">ABA-AM</text>
<text class="dv" x="1832.6" y="2341.7" font-size="25.5" text-anchor="middle" fill="#1f1f1f">200 nM</text>
<text class="dv" x="1941" y="2299.7" font-size="25.5" text-anchor="middle" fill="#1f1f1f">neg.</text>
<text class="dv" x="2049.2" y="2299.7" font-size="25.5" text-anchor="middle" fill="#1f1f1f">pos.</text>
<text class="dv" transform="translate(1694.5 1938.3) rotate(-90)" font-size="25.5" text-anchor="middle" fill="#1f1f1f">binding efficiency</text>
<text class="dv" x="1759.2" y="1590.9" font-size="25.5" fill="#1f1f1f">PYR<tspan dy="-9.6" font-size="16.6">Mandi</tspan><tspan dy="9.6">-YFP vs. mCherry-ABI</tspan></text>
<g fill="#00f000" fill-opacity="0.5"><rect x="1825.4" y="2120.9" width="13.6" height="13.6"/></g>
<g fill="#00f000" fill-opacity="0.5"><path d="M1813.3 2148.4l5.8 7.8l-5.8 7.8l-5.8-7.8z"/><path d="M1824.3 2150.9l5.8 7.8l-5.8 7.8l-5.8-7.8z"/><path d="M1834.9 2143.4l5.8 7.8l-5.8 7.8l-5.8-7.8z"/><path d="M1850.4 2152l5.8 7.8l-5.8 7.8l-5.8-7.8z"/></g>
<g fill="#00f000" fill-opacity="0.5"><circle cx="1830" cy="2176.3" r="8.1"/><circle cx="1822" cy="2203" r="8.1"/><circle cx="1840" cy="2201" r="8.1"/><circle cx="1831" cy="2196" r="8.1"/></g>
<g fill="#00f000" fill-opacity="0.5"><rect x="1817.9" y="2207.4" width="13.6" height="13.6"/><rect x="1840.4" y="2207.2" width="13.6" height="13.6"/></g>
<g fill="#00f000" fill-opacity="0.5"><circle cx="1818.3" cy="2214.6" r="8.1"/><circle cx="1841.8" cy="2213.7" r="8.1"/></g>
<g fill="#00f000" fill-opacity="0.5"><path d="M1831.3 2205.9l5.8 7.8l-5.8 7.8l-5.8-7.8z"/></g>
<g fill="#00f000" fill-opacity="0.5"><rect x="1809.8" y="2219.6" width="13.6" height="13.6"/><rect x="1829.4" y="2219.3" width="13.6" height="13.6"/><rect x="1848.1" y="2218.8" width="13.6" height="13.6"/></g>
<g fill="#00f000" fill-opacity="0.5"><circle cx="1811.9" cy="2225.8" r="8.1"/><circle cx="1831.6" cy="2225.5" r="8.1"/><circle cx="1848.8" cy="2225.9" r="8.1"/></g>
<g fill="#00f000" fill-opacity="0.5"><path d="M1822 2218.2l5.8 7.8l-5.8 7.8l-5.8-7.8z"/><path d="M1840.2 2218.1l5.8 7.8l-5.8 7.8l-5.8-7.8z"/></g>
<g fill="#00f000" fill-opacity="0.5"><rect x="1802.9" y="2229.2" width="13.6" height="13.6"/><rect x="1813.6" y="2229.4" width="13.6" height="13.6"/><rect x="1825.8" y="2229.7" width="13.6" height="13.6"/><rect x="1836" y="2229.8" width="13.6" height="13.6"/><rect x="1846.6" y="2229.1" width="13.6" height="13.6"/></g>
<g fill="#00f000" fill-opacity="0.5"><circle cx="1806.1" cy="2236.3" r="8.1"/><circle cx="1817.3" cy="2236" r="8.1"/><circle cx="1829.5" cy="2235.9" r="8.1"/><circle cx="1839.1" cy="2236.3" r="8.1"/><circle cx="1851.2" cy="2237" r="8.1"/><circle cx="1862" cy="2236.2" r="8.1"/></g>
<g fill="#00f000" fill-opacity="0.5"><path d="M1814.3 2229l5.8 7.8l-5.8 7.8l-5.8-7.8z"/><path d="M1822.9 2229.1l5.8 7.8l-5.8 7.8l-5.8-7.8z"/><path d="M1834.3 2228.3l5.8 7.8l-5.8 7.8l-5.8-7.8z"/><path d="M1844.2 2228.9l5.8 7.8l-5.8 7.8l-5.8-7.8z"/><path d="M1854.6 2228.2l5.8 7.8l-5.8 7.8l-5.8-7.8z"/></g>
<path d="M1829.3 2174.8l10.8 13.6l-10.8 13.6l-10.8-13.6z" fill="#00f000" fill-opacity="0.5" stroke="#111" stroke-width="2.6" stroke-linejoin="miter"/>
<rect x="1804.7" y="2209.7" width="17.6" height="17.6" fill="#00f000" fill-opacity="0.5" stroke="#111" stroke-width="2.6"/>
<circle cx="1848.5" cy="2222.2" r="11.2" fill="#00f000" fill-opacity="0.5" stroke="#111" stroke-width="2.6"/>
<path d="M1803.2 2209H1854.2M1831.3 2191.4V2227.7M1819.1 2191.4H1843.5M1819.1 2227.7H1843.5" stroke="#161616" stroke-width="2.5" fill="none"/>
<g fill="#555555" fill-opacity="0.5"><circle cx="1945" cy="2121.9" r="8.1"/><circle cx="1927.6" cy="2139.1" r="8.1"/><circle cx="1951.7" cy="2153.2" r="8.1"/><circle cx="1944.2" cy="2025" r="8.1"/></g>
<g fill="#555555" fill-opacity="0.5"><rect x="1931.2" y="2166.2" width="13.6" height="13.6"/><rect x="1943.2" y="2165.2" width="13.6" height="13.6"/><rect x="1938.2" y="2189.2" width="13.6" height="13.6"/></g>
<g fill="#555555" fill-opacity="0.5"><rect x="1919.4" y="2229.8" width="13.6" height="13.6"/><rect x="1927.2" y="2230.2" width="13.6" height="13.6"/><rect x="1936.5" y="2229.3" width="13.6" height="13.6"/><rect x="1943.3" y="2229.2" width="13.6" height="13.6"/><rect x="1951.8" y="2229.8" width="13.6" height="13.6"/></g>
<g fill="#555555" fill-opacity="0.5"><circle cx="1921.3" cy="2236.7" r="8.1"/><circle cx="1929.2" cy="2236.6" r="8.1"/><circle cx="1937.9" cy="2237" r="8.1"/><circle cx="1949.1" cy="2236.7" r="8.1"/><circle cx="1956.3" cy="2236.3" r="8.1"/></g>
<g fill="#555555" fill-opacity="0.5"><path d="M1927.5 2228.9l5.8 7.8l-5.8 7.8l-5.8-7.8z"/><path d="M1934.9 2228.6l5.8 7.8l-5.8 7.8l-5.8-7.8z"/><path d="M1947.4 2229.4l5.8 7.8l-5.8 7.8l-5.8-7.8z"/><path d="M1954.6 2228.3l5.8 7.8l-5.8 7.8l-5.8-7.8z"/></g>
<g fill="#555555" fill-opacity="0.5"><rect x="1921.8" y="2222.4" width="13.6" height="13.6"/><rect x="1937" y="2222.6" width="13.6" height="13.6"/></g>
<g fill="#555555" fill-opacity="0.5"><circle cx="1934.7" cy="2228.6" r="8.1"/><circle cx="1950.8" cy="2229.1" r="8.1"/></g>
<g fill="#555555" fill-opacity="0.5"><path d="M1937.4 2221l5.8 7.8l-5.8 7.8l-5.8-7.8z"/><path d="M1955.6 2221.4l5.8 7.8l-5.8 7.8l-5.8-7.8z"/></g>
<circle cx="1940.8" cy="2185.5" r="11.2" fill="#555555" fill-opacity="0.5" stroke="#111" stroke-width="2.6"/>
<path d="M1927.6 2215.2l10.8 13.6l-10.8 13.6l-10.8-13.6z" fill="#555555" fill-opacity="0.5" stroke="#111" stroke-width="2.6" stroke-linejoin="miter"/>
<rect x="1947.1" y="2214.9" width="17.6" height="17.6" fill="#555555" fill-opacity="0.5" stroke="#111" stroke-width="2.6"/>
<path d="M1917.7 2211.9H1963.9M1941 2188.8V2235.6M1931.8 2188.8H1950.2M1931.8 2235.6H1950.2" stroke="#161616" stroke-width="2.5" fill="none"/>
<g fill="#555555" fill-opacity="0.5"><rect x="2035.2" y="1756.5" width="13.6" height="13.6"/><rect x="2035.6" y="1809.3" width="13.6" height="13.6"/><rect x="2060.8" y="1822.7" width="13.6" height="13.6"/><rect x="2022.6" y="1829.5" width="13.6" height="13.6"/><rect x="2040.1" y="1862" width="13.6" height="13.6"/><rect x="2041.2" y="1906.6" width="13.6" height="13.6"/><rect x="2061.6" y="1912.7" width="13.6" height="13.6"/><rect x="2035.2" y="1930.2" width="13.6" height="13.6"/><rect x="2048.2" y="1987.8" width="13.6" height="13.6"/><rect x="2022.6" y="2014.6" width="13.6" height="13.6"/></g>
<g fill="#555555" fill-opacity="0.5"><circle cx="2059" cy="1748.3" r="8.1"/><circle cx="2039.2" cy="1775.5" r="8.1"/><circle cx="2051.7" cy="1857.9" r="8.1"/><circle cx="2032.7" cy="1917.5" r="8.1"/><circle cx="2046" cy="1921.6" r="8.1"/><circle cx="2059.4" cy="1911.4" r="8.1"/><circle cx="2065.1" cy="1928.5" r="8.1"/><circle cx="2045.2" cy="1966.2" r="8.1"/></g>
<rect x="2024.7" y="1881.5" width="17.6" height="17.6" fill="#555555" fill-opacity="0.5" stroke="#111" stroke-width="2.6"/>
<circle cx="2061.5" cy="1879.8" r="11.2" fill="#555555" fill-opacity="0.5" stroke="#111" stroke-width="2.6"/>
<path d="M2023.7 1885.4H2070.3M2047 1880V1890.6M2039 1880H2055M2039 1890.6H2055" stroke="#161616" stroke-width="2.5" fill="none"/>
<text class="ls" x="-2.5" y="1573.8" font-size="37.5" font-weight="bold" fill="#000">d</text>
<text class="ls" x="1674" y="1572.6" font-size="37.5" font-weight="bold" fill="#000">e</text>
</svg>
</body></html>
